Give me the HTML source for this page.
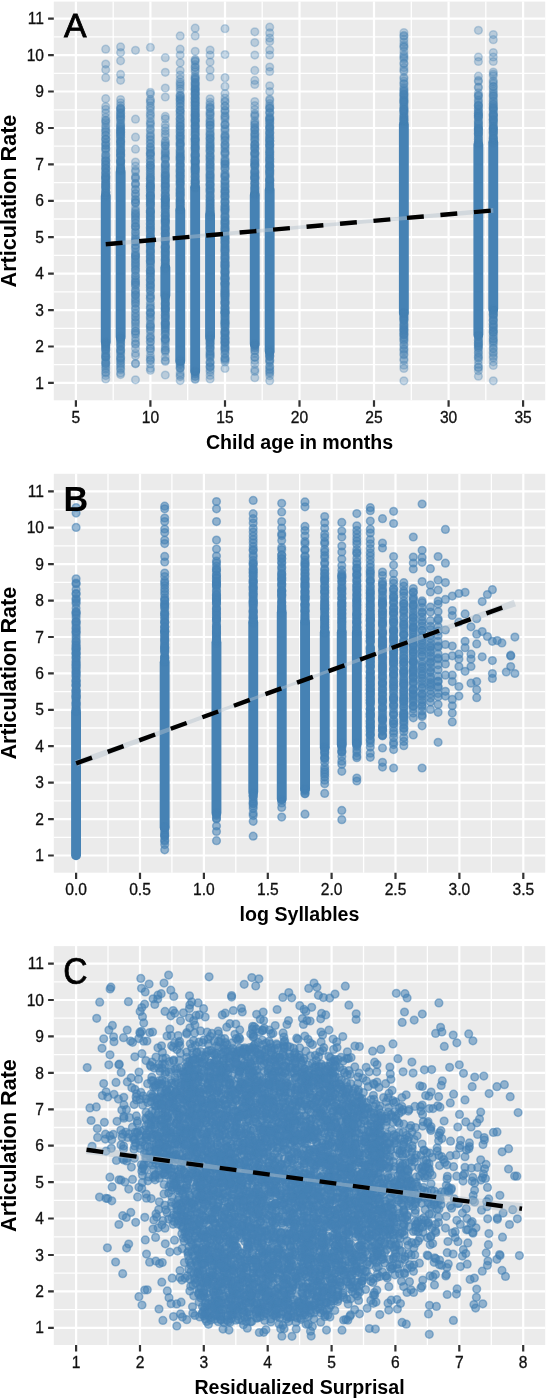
<!DOCTYPE html>
<html><head><meta charset="utf-8"><style>
html,body{margin:0;padding:0;background:#fff;width:546px;height:1398px;overflow:hidden}
svg{display:block;font-family:"Liberation Sans", sans-serif}
.pt circle{r:3.85px}
#wrap{will-change:transform}
</style></head><body>
<div id="wrap"><svg width="546" height="1398" viewBox="0 0 546 1398"><rect width="546" height="1398" fill="#fff"/><rect x="53.8" y="1.6" width="491.4" height="398.7" fill="#EBEBEB"/><path d="M53.8 364.7H545.2M53.8 328.3H545.2M53.8 291.9H545.2M53.8 255.4H545.2M53.8 219H545.2M53.8 182.6H545.2M53.8 146.2H545.2M53.8 109.8H545.2M53.8 73.3H545.2M53.8 36.9H545.2M113.2 1.6V400.3M187.7 1.6V400.3M262.2 1.6V400.3M336.8 1.6V400.3M411.3 1.6V400.3M485.8 1.6V400.3" stroke="#fff" stroke-width="1.3" fill="none"/><path d="M53.8 382.9H545.2M53.8 346.5H545.2M53.8 310.1H545.2M53.8 273.6H545.2M53.8 237.2H545.2M53.8 200.8H545.2M53.8 164.4H545.2M53.8 128H545.2M53.8 91.5H545.2M53.8 55.1H545.2M53.8 18.7H545.2M75.9 1.6V400.3M150.4 1.6V400.3M225 1.6V400.3M299.5 1.6V400.3M374 1.6V400.3M448.6 1.6V400.3M523.1 1.6V400.3" stroke="#fff" stroke-width="2.2" fill="none"/><g fill="#4682B4"><rect x="100.8" y="191.1" width="9.9" height="155.9" rx="5"/><rect x="115.7" y="167.1" width="9.9" height="174.9" rx="5"/><rect x="160.4" y="262.6" width="9.9" height="37.9" rx="5"/><rect x="175.3" y="205.1" width="9.9" height="160.9" rx="5"/><rect x="190.2" y="182.6" width="9.9" height="193.4" rx="5"/><rect x="205.1" y="210.1" width="9.9" height="131.9" rx="5"/><rect x="249.8" y="190.1" width="9.9" height="158.9" rx="5"/><rect x="264.7" y="185.1" width="9.9" height="170.9" rx="5"/><rect x="398.9" y="119.5" width="9.9" height="198.4" rx="5"/><rect x="473.4" y="140.1" width="9.9" height="199.4" rx="5"/><rect x="488.3" y="137.6" width="9.9" height="176.4" rx="5"/></g><g fill="#4682B4" fill-opacity="0.3" stroke="#4682B4" stroke-opacity="0.3" stroke-width="1.5" class="pt"><circle cx="403.9" cy="35.4"/><circle cx="165.3" cy="259.8"/><circle cx="254.8" cy="191.3"/><circle cx="120.6" cy="155.1"/><circle cx="493.3" cy="339.1"/><circle cx="225" cy="205.9"/><circle cx="105.7" cy="182.9"/><circle cx="225" cy="173.8"/><circle cx="120.6" cy="338.9"/><circle cx="120.6" cy="160.5"/><circle cx="225" cy="145.6"/><circle cx="493.3" cy="122.3"/><circle cx="105.7" cy="350.3"/><circle cx="254.8" cy="165.7"/><circle cx="135.5" cy="189.8"/><circle cx="150.4" cy="195.5"/><circle cx="403.9" cy="334.7"/><circle cx="210.1" cy="184.5"/><circle cx="225" cy="278.5"/><circle cx="105.7" cy="127.4"/><circle cx="150.4" cy="295.6"/><circle cx="225" cy="258.9"/><circle cx="493.3" cy="345.2"/><circle cx="254.8" cy="115.2"/><circle cx="150.4" cy="108.1"/><circle cx="493.3" cy="131.7"/><circle cx="269.7" cy="55"/><circle cx="105.7" cy="49.2"/><circle cx="135.5" cy="312.8"/><circle cx="225" cy="220.1"/><circle cx="225" cy="337.8"/><circle cx="195.2" cy="149.9"/><circle cx="254.8" cy="194.4"/><circle cx="225" cy="291.3"/><circle cx="150.4" cy="218.9"/><circle cx="195.2" cy="126.4"/><circle cx="195.2" cy="99.1"/><circle cx="165.3" cy="186.8"/><circle cx="165.3" cy="131.1"/><circle cx="478.4" cy="76.2"/><circle cx="225" cy="324.1"/><circle cx="195.2" cy="147.9"/><circle cx="254.8" cy="159.7"/><circle cx="195.2" cy="131.6"/><circle cx="210.1" cy="203.1"/><circle cx="105.7" cy="363.4"/><circle cx="254.8" cy="184.7"/><circle cx="210.1" cy="212.8"/><circle cx="210.1" cy="178.4"/><circle cx="478.4" cy="128.6"/><circle cx="135.5" cy="219.2"/><circle cx="493.3" cy="57"/><circle cx="195.2" cy="92.9"/><circle cx="165.3" cy="219.1"/><circle cx="150.4" cy="227.9"/><circle cx="269.7" cy="184.9"/><circle cx="165.3" cy="228.6"/><circle cx="165.3" cy="226.2"/><circle cx="254.8" cy="156"/><circle cx="150.4" cy="220"/><circle cx="254.8" cy="137.3"/><circle cx="493.3" cy="82.1"/><circle cx="254.8" cy="182.1"/><circle cx="120.6" cy="141.2"/><circle cx="105.7" cy="132"/><circle cx="493.3" cy="131.1"/><circle cx="150.4" cy="196.1"/><circle cx="150.4" cy="192.2"/><circle cx="225" cy="125.2"/><circle cx="180.2" cy="150.3"/><circle cx="135.5" cy="119.2"/><circle cx="120.6" cy="128.7"/><circle cx="478.4" cy="99.8"/><circle cx="478.4" cy="133.9"/><circle cx="210.1" cy="142.5"/><circle cx="225" cy="247.1"/><circle cx="195.2" cy="154.9"/><circle cx="195.2" cy="176.1"/><circle cx="120.6" cy="360.7"/><circle cx="165.3" cy="318.1"/><circle cx="225" cy="163.5"/><circle cx="180.2" cy="181.5"/><circle cx="225" cy="201.8"/><circle cx="254.8" cy="166.8"/><circle cx="150.4" cy="256.5"/><circle cx="403.9" cy="365.2"/><circle cx="225" cy="293.7"/><circle cx="165.3" cy="88"/><circle cx="195.2" cy="161.3"/><circle cx="210.1" cy="351.7"/><circle cx="195.2" cy="173.1"/><circle cx="254.8" cy="128.6"/><circle cx="225" cy="312.8"/><circle cx="165.3" cy="118.9"/><circle cx="195.2" cy="88.7"/><circle cx="150.4" cy="278.7"/><circle cx="135.5" cy="207.2"/><circle cx="180.2" cy="123.1"/><circle cx="195.2" cy="100"/><circle cx="165.3" cy="153.5"/><circle cx="165.3" cy="151.1"/><circle cx="165.3" cy="300.4"/><circle cx="180.2" cy="137"/><circle cx="180.2" cy="188.7"/><circle cx="120.6" cy="165.5"/><circle cx="180.2" cy="362"/><circle cx="493.3" cy="129.3"/><circle cx="165.3" cy="172.5"/><circle cx="403.9" cy="83.5"/><circle cx="165.3" cy="219.7"/><circle cx="135.5" cy="338"/><circle cx="180.2" cy="199.9"/><circle cx="150.4" cy="178.8"/><circle cx="225" cy="242.3"/><circle cx="180.2" cy="155.7"/><circle cx="403.9" cy="355"/><circle cx="150.4" cy="245.5"/><circle cx="225" cy="225.4"/><circle cx="105.7" cy="185.8"/><circle cx="269.7" cy="150.9"/><circle cx="493.3" cy="100.8"/><circle cx="150.4" cy="228.1"/><circle cx="180.2" cy="139.1"/><circle cx="493.3" cy="326.8"/><circle cx="105.7" cy="135.3"/><circle cx="150.4" cy="194.9"/><circle cx="165.3" cy="252.1"/><circle cx="254.8" cy="377.7"/><circle cx="165.3" cy="240.8"/><circle cx="269.7" cy="161.9"/><circle cx="105.7" cy="344"/><circle cx="120.6" cy="167.9"/><circle cx="195.2" cy="187.8"/><circle cx="150.4" cy="326.5"/><circle cx="195.2" cy="171.8"/><circle cx="150.4" cy="147.3"/><circle cx="165.3" cy="246.3"/><circle cx="225" cy="222.2"/><circle cx="150.4" cy="202.2"/><circle cx="478.4" cy="95.5"/><circle cx="150.4" cy="327"/><circle cx="150.4" cy="184.5"/><circle cx="195.2" cy="164.4"/><circle cx="165.3" cy="170"/><circle cx="403.9" cy="78.4"/><circle cx="150.4" cy="348.2"/><circle cx="180.2" cy="195.9"/><circle cx="165.3" cy="72.3"/><circle cx="269.7" cy="161.2"/><circle cx="269.7" cy="353.3"/><circle cx="165.3" cy="314.9"/><circle cx="180.2" cy="165.1"/><circle cx="150.4" cy="243"/><circle cx="120.6" cy="349.7"/><circle cx="269.7" cy="373.3"/><circle cx="165.3" cy="231.9"/><circle cx="210.1" cy="207.2"/><circle cx="195.2" cy="89.6"/><circle cx="195.2" cy="183.8"/><circle cx="493.3" cy="94.7"/><circle cx="150.4" cy="224"/><circle cx="225" cy="77.7"/><circle cx="210.1" cy="122.6"/><circle cx="403.9" cy="36.3"/><circle cx="210.1" cy="155.4"/><circle cx="195.2" cy="166.6"/><circle cx="105.7" cy="176"/><circle cx="254.8" cy="357.3"/><circle cx="269.7" cy="165.8"/><circle cx="180.2" cy="176.9"/><circle cx="105.7" cy="168.5"/><circle cx="180.2" cy="90.8"/><circle cx="225" cy="342"/><circle cx="105.7" cy="183.1"/><circle cx="150.4" cy="212.3"/><circle cx="403.9" cy="57.7"/><circle cx="165.3" cy="181.9"/><circle cx="150.4" cy="181"/><circle cx="254.8" cy="350.8"/><circle cx="269.7" cy="174.2"/><circle cx="210.1" cy="170.8"/><circle cx="210.1" cy="363.3"/><circle cx="254.8" cy="360.5"/><circle cx="180.2" cy="200.5"/><circle cx="225" cy="101"/><circle cx="403.9" cy="331.6"/><circle cx="135.5" cy="333.3"/><circle cx="120.6" cy="351.1"/><circle cx="478.4" cy="376.2"/><circle cx="210.1" cy="337.7"/><circle cx="269.7" cy="145.1"/><circle cx="150.4" cy="363.9"/><circle cx="403.9" cy="335"/><circle cx="493.3" cy="128.1"/><circle cx="478.4" cy="133.8"/><circle cx="120.6" cy="80.3"/><circle cx="165.3" cy="265.3"/><circle cx="478.4" cy="143.3"/><circle cx="225" cy="119.8"/><circle cx="210.1" cy="125.7"/><circle cx="150.4" cy="308.2"/><circle cx="120.6" cy="118.4"/><circle cx="120.6" cy="160.4"/><circle cx="478.4" cy="135"/><circle cx="225" cy="273.2"/><circle cx="105.7" cy="187.5"/><circle cx="403.9" cy="117.2"/><circle cx="165.3" cy="346.6"/><circle cx="120.6" cy="339.1"/><circle cx="210.1" cy="366.8"/><circle cx="403.9" cy="112.3"/><circle cx="493.3" cy="330.5"/><circle cx="493.3" cy="119"/><circle cx="225" cy="183.3"/><circle cx="120.6" cy="368.4"/><circle cx="493.3" cy="340.9"/><circle cx="120.6" cy="353.9"/><circle cx="210.1" cy="138"/><circle cx="195.2" cy="374.1"/><circle cx="195.2" cy="146.5"/><circle cx="105.7" cy="348.9"/><circle cx="195.2" cy="179.9"/><circle cx="120.6" cy="159.5"/><circle cx="493.3" cy="74.1"/><circle cx="225" cy="265.4"/><circle cx="150.4" cy="341.6"/><circle cx="150.4" cy="165.2"/><circle cx="150.4" cy="198.4"/><circle cx="150.4" cy="230.6"/><circle cx="225" cy="186.2"/><circle cx="269.7" cy="118.9"/><circle cx="269.7" cy="169.5"/><circle cx="135.5" cy="292.2"/><circle cx="165.3" cy="298.3"/><circle cx="135.5" cy="295"/><circle cx="478.4" cy="115.3"/><circle cx="165.3" cy="350.2"/><circle cx="105.7" cy="353.6"/><circle cx="120.6" cy="135.5"/><circle cx="478.4" cy="128"/><circle cx="210.1" cy="353.6"/><circle cx="105.7" cy="179.9"/><circle cx="403.9" cy="121.3"/><circle cx="210.1" cy="348.8"/><circle cx="165.3" cy="175.7"/><circle cx="120.6" cy="151.4"/><circle cx="150.4" cy="208.2"/><circle cx="150.4" cy="164.9"/><circle cx="180.2" cy="126.4"/><circle cx="478.4" cy="95.3"/><circle cx="165.3" cy="247.8"/><circle cx="254.8" cy="42.6"/><circle cx="150.4" cy="204.4"/><circle cx="254.8" cy="144.4"/><circle cx="225" cy="202.1"/><circle cx="165.3" cy="164.7"/><circle cx="210.1" cy="173.6"/><circle cx="165.3" cy="233.6"/><circle cx="269.7" cy="113.2"/><circle cx="195.2" cy="120"/><circle cx="493.3" cy="95.8"/><circle cx="210.1" cy="188.4"/><circle cx="403.9" cy="46.5"/><circle cx="225" cy="265.9"/><circle cx="195.2" cy="125.8"/><circle cx="105.7" cy="187.9"/><circle cx="180.2" cy="106.4"/><circle cx="165.3" cy="193.8"/><circle cx="269.7" cy="165.9"/><circle cx="120.6" cy="134"/><circle cx="135.5" cy="241.6"/><circle cx="225" cy="144"/><circle cx="135.5" cy="306.2"/><circle cx="165.3" cy="304"/><circle cx="225" cy="312.3"/><circle cx="165.3" cy="174.5"/><circle cx="225" cy="206.4"/><circle cx="180.2" cy="207.9"/><circle cx="135.5" cy="226.8"/><circle cx="254.8" cy="152.9"/><circle cx="225" cy="301.6"/><circle cx="105.7" cy="143.6"/><circle cx="180.2" cy="143.5"/><circle cx="120.6" cy="359.9"/><circle cx="150.4" cy="308.3"/><circle cx="105.7" cy="142.8"/><circle cx="269.7" cy="91.6"/><circle cx="493.3" cy="324.8"/><circle cx="180.2" cy="106.9"/><circle cx="165.3" cy="214.9"/><circle cx="135.5" cy="248.1"/><circle cx="210.1" cy="112.1"/><circle cx="493.3" cy="111.4"/><circle cx="478.4" cy="370.7"/><circle cx="269.7" cy="180.6"/><circle cx="150.4" cy="270.8"/><circle cx="195.2" cy="115"/><circle cx="225" cy="268.3"/><circle cx="165.3" cy="199.2"/><circle cx="195.2" cy="107.6"/><circle cx="135.5" cy="170"/><circle cx="165.3" cy="144.2"/><circle cx="403.9" cy="324.1"/><circle cx="165.3" cy="230.5"/><circle cx="493.3" cy="116.7"/><circle cx="210.1" cy="339.9"/><circle cx="180.2" cy="380.6"/><circle cx="165.3" cy="116.4"/><circle cx="135.5" cy="284.9"/><circle cx="195.2" cy="167.7"/><circle cx="493.3" cy="358"/><circle cx="195.2" cy="187.5"/><circle cx="195.2" cy="94.9"/><circle cx="150.4" cy="167.9"/><circle cx="195.2" cy="35.9"/><circle cx="269.7" cy="152.7"/><circle cx="493.3" cy="332.4"/><circle cx="150.4" cy="178.4"/><circle cx="180.2" cy="199.1"/><circle cx="225" cy="321.8"/><circle cx="120.6" cy="155.5"/><circle cx="150.4" cy="162.2"/><circle cx="225" cy="227.4"/><circle cx="493.3" cy="138.4"/><circle cx="210.1" cy="366.2"/><circle cx="225" cy="167.9"/><circle cx="135.5" cy="200"/><circle cx="269.7" cy="117"/><circle cx="254.8" cy="172.9"/><circle cx="269.7" cy="107.7"/><circle cx="105.7" cy="191.7"/><circle cx="225" cy="300"/><circle cx="180.2" cy="103.7"/><circle cx="254.8" cy="116.4"/><circle cx="135.5" cy="240.7"/><circle cx="210.1" cy="135.1"/><circle cx="135.5" cy="270.4"/><circle cx="120.6" cy="154.4"/><circle cx="150.4" cy="190.6"/><circle cx="165.3" cy="186.2"/><circle cx="150.4" cy="287.3"/><circle cx="254.8" cy="157.4"/><circle cx="210.1" cy="212.5"/><circle cx="165.3" cy="220.7"/><circle cx="135.5" cy="203.2"/><circle cx="165.3" cy="212.1"/><circle cx="254.8" cy="154.4"/><circle cx="269.7" cy="372.1"/><circle cx="150.4" cy="130.2"/><circle cx="254.8" cy="144"/><circle cx="165.3" cy="157.2"/><circle cx="403.9" cy="91"/><circle cx="195.2" cy="142.2"/><circle cx="180.2" cy="86"/><circle cx="135.5" cy="268.5"/><circle cx="478.4" cy="80.4"/><circle cx="225" cy="303"/><circle cx="254.8" cy="183.5"/><circle cx="150.4" cy="226.4"/><circle cx="403.9" cy="351.2"/><circle cx="165.3" cy="240.3"/><circle cx="269.7" cy="167.3"/><circle cx="403.9" cy="107.2"/><circle cx="180.2" cy="129.3"/><circle cx="135.5" cy="50.3"/><circle cx="254.8" cy="164"/><circle cx="165.3" cy="255.9"/><circle cx="135.5" cy="348.5"/><circle cx="150.4" cy="139.3"/><circle cx="150.4" cy="125.3"/><circle cx="195.2" cy="103.6"/><circle cx="120.6" cy="116.4"/><circle cx="403.9" cy="63.2"/><circle cx="210.1" cy="175.3"/><circle cx="403.9" cy="319.6"/><circle cx="195.2" cy="105.5"/><circle cx="180.2" cy="182.8"/><circle cx="120.6" cy="115.7"/><circle cx="225" cy="262.4"/><circle cx="478.4" cy="108.9"/><circle cx="493.3" cy="328"/><circle cx="225" cy="309.1"/><circle cx="478.4" cy="345.8"/><circle cx="254.8" cy="149.1"/><circle cx="225" cy="253.3"/><circle cx="165.3" cy="258.9"/><circle cx="225" cy="147.7"/><circle cx="493.3" cy="125.5"/><circle cx="403.9" cy="95.5"/><circle cx="225" cy="161.3"/><circle cx="225" cy="244.7"/><circle cx="225" cy="311.2"/><circle cx="225" cy="293.1"/><circle cx="493.3" cy="348.9"/><circle cx="493.3" cy="313.9"/><circle cx="120.6" cy="162.3"/><circle cx="210.1" cy="361.9"/><circle cx="210.1" cy="196.1"/><circle cx="269.7" cy="176.1"/><circle cx="165.3" cy="311.5"/><circle cx="150.4" cy="113.9"/><circle cx="135.5" cy="222.9"/><circle cx="165.3" cy="158"/><circle cx="269.7" cy="180.9"/><circle cx="254.8" cy="163.7"/><circle cx="180.2" cy="376.6"/><circle cx="225" cy="184.7"/><circle cx="120.6" cy="169.7"/><circle cx="493.3" cy="119.5"/><circle cx="195.2" cy="150.5"/><circle cx="195.2" cy="97.8"/><circle cx="403.9" cy="380.8"/><circle cx="135.5" cy="259.7"/><circle cx="165.3" cy="195.8"/><circle cx="150.4" cy="275.4"/><circle cx="254.8" cy="163.4"/><circle cx="478.4" cy="121.5"/><circle cx="493.3" cy="317.4"/><circle cx="150.4" cy="186.1"/><circle cx="254.8" cy="363.9"/><circle cx="269.7" cy="188"/><circle cx="180.2" cy="161.3"/><circle cx="195.2" cy="151.5"/><circle cx="269.7" cy="180"/><circle cx="195.2" cy="102.5"/><circle cx="195.2" cy="182.4"/><circle cx="225" cy="202.5"/><circle cx="180.2" cy="119.1"/><circle cx="254.8" cy="179.4"/><circle cx="478.4" cy="125.5"/><circle cx="225" cy="228"/><circle cx="150.4" cy="249.3"/><circle cx="478.4" cy="343.4"/><circle cx="210.1" cy="62"/><circle cx="225" cy="112.4"/><circle cx="225" cy="303.8"/><circle cx="165.3" cy="191"/><circle cx="493.3" cy="127.9"/><circle cx="210.1" cy="50"/><circle cx="150.4" cy="252.9"/><circle cx="210.1" cy="98.8"/><circle cx="135.5" cy="166"/><circle cx="180.2" cy="152.7"/><circle cx="165.3" cy="334.7"/><circle cx="195.2" cy="156"/><circle cx="225" cy="362.1"/><circle cx="493.3" cy="139.3"/><circle cx="225" cy="295.6"/><circle cx="165.3" cy="222"/><circle cx="165.3" cy="149.2"/><circle cx="180.2" cy="138.9"/><circle cx="120.6" cy="125.6"/><circle cx="195.2" cy="176.5"/><circle cx="493.3" cy="309.4"/><circle cx="493.3" cy="141.8"/><circle cx="165.3" cy="204.7"/><circle cx="105.7" cy="122.6"/><circle cx="225" cy="360.3"/><circle cx="269.7" cy="351.8"/><circle cx="120.6" cy="346.2"/><circle cx="254.8" cy="153.6"/><circle cx="180.2" cy="132.3"/><circle cx="180.2" cy="367.3"/><circle cx="180.2" cy="62.8"/><circle cx="254.8" cy="192.1"/><circle cx="165.3" cy="246.9"/><circle cx="150.4" cy="206.1"/><circle cx="225" cy="316.7"/><circle cx="105.7" cy="182.9"/><circle cx="150.4" cy="222.9"/><circle cx="269.7" cy="158.7"/><circle cx="120.6" cy="150.3"/><circle cx="225" cy="197.3"/><circle cx="493.3" cy="122.6"/><circle cx="493.3" cy="132.7"/><circle cx="225" cy="249.4"/><circle cx="165.3" cy="263.6"/><circle cx="105.7" cy="357.5"/><circle cx="478.4" cy="346.1"/><circle cx="403.9" cy="94.9"/><circle cx="105.7" cy="375.6"/><circle cx="165.3" cy="323.3"/><circle cx="225" cy="144.9"/><circle cx="225" cy="117.9"/><circle cx="165.3" cy="315.3"/><circle cx="135.5" cy="320.2"/><circle cx="165.3" cy="183.3"/><circle cx="105.7" cy="145.5"/><circle cx="225" cy="314"/><circle cx="225" cy="181.5"/><circle cx="254.8" cy="353.2"/><circle cx="225" cy="284.8"/><circle cx="135.5" cy="215.1"/><circle cx="165.3" cy="325.4"/><circle cx="105.7" cy="168.6"/><circle cx="225" cy="158.3"/><circle cx="225" cy="347.5"/><circle cx="493.3" cy="324.1"/><circle cx="150.4" cy="188.4"/><circle cx="195.2" cy="183"/><circle cx="254.8" cy="165.4"/><circle cx="105.7" cy="155.1"/><circle cx="150.4" cy="284.2"/><circle cx="478.4" cy="139.2"/><circle cx="254.8" cy="369.7"/><circle cx="225" cy="199.3"/><circle cx="105.7" cy="160.5"/><circle cx="225" cy="331.3"/><circle cx="493.3" cy="72"/><circle cx="225" cy="196.2"/><circle cx="493.3" cy="107.4"/><circle cx="135.5" cy="294.3"/><circle cx="120.6" cy="152.8"/><circle cx="165.3" cy="163.8"/><circle cx="180.2" cy="103.4"/><circle cx="403.9" cy="70"/><circle cx="150.4" cy="217.8"/><circle cx="269.7" cy="133.4"/><circle cx="165.3" cy="326.8"/><circle cx="165.3" cy="261.5"/><circle cx="135.5" cy="301"/><circle cx="180.2" cy="202"/><circle cx="150.4" cy="47.4"/><circle cx="180.2" cy="196.4"/><circle cx="195.2" cy="75.6"/><circle cx="478.4" cy="132.8"/><circle cx="195.2" cy="109.9"/><circle cx="105.7" cy="346.9"/><circle cx="150.4" cy="289.9"/><circle cx="403.9" cy="99.3"/><circle cx="225" cy="272.5"/><circle cx="195.2" cy="64.7"/><circle cx="210.1" cy="198.8"/><circle cx="225" cy="223.2"/><circle cx="165.3" cy="313.8"/><circle cx="254.8" cy="129.8"/><circle cx="478.4" cy="124.3"/><circle cx="225" cy="320.7"/><circle cx="150.4" cy="102.7"/><circle cx="225" cy="279"/><circle cx="165.3" cy="339.3"/><circle cx="180.2" cy="95.8"/><circle cx="150.4" cy="237.7"/><circle cx="403.9" cy="108.8"/><circle cx="165.3" cy="315.8"/><circle cx="105.7" cy="113.1"/><circle cx="478.4" cy="113.5"/><circle cx="210.1" cy="339.9"/><circle cx="120.6" cy="139.7"/><circle cx="150.4" cy="128.7"/><circle cx="225" cy="307.4"/><circle cx="225" cy="116.4"/><circle cx="135.5" cy="255.8"/><circle cx="493.3" cy="104.1"/><circle cx="120.6" cy="345.2"/><circle cx="210.1" cy="108.9"/><circle cx="165.3" cy="199.5"/><circle cx="165.3" cy="322.9"/><circle cx="150.4" cy="136.8"/><circle cx="105.7" cy="172.4"/><circle cx="225" cy="334.2"/><circle cx="254.8" cy="148.1"/><circle cx="210.1" cy="112.9"/><circle cx="195.2" cy="139.2"/><circle cx="150.4" cy="186.3"/><circle cx="195.2" cy="79.1"/><circle cx="195.2" cy="144.6"/><circle cx="195.2" cy="122"/><circle cx="105.7" cy="371.9"/><circle cx="210.1" cy="191.1"/><circle cx="195.2" cy="60.6"/><circle cx="403.9" cy="117"/><circle cx="254.8" cy="183.1"/><circle cx="403.9" cy="56.2"/><circle cx="403.9" cy="117.3"/><circle cx="403.9" cy="84.1"/><circle cx="493.3" cy="106.4"/><circle cx="403.9" cy="119.6"/><circle cx="180.2" cy="210.1"/><circle cx="180.2" cy="170.5"/><circle cx="105.7" cy="139"/><circle cx="403.9" cy="353.9"/><circle cx="225" cy="277.3"/><circle cx="493.3" cy="128.7"/><circle cx="225" cy="191.5"/><circle cx="493.3" cy="312.3"/><circle cx="150.4" cy="196"/><circle cx="210.1" cy="168"/><circle cx="403.9" cy="337"/><circle cx="269.7" cy="146.3"/><circle cx="403.9" cy="345.6"/><circle cx="195.2" cy="111.9"/><circle cx="254.8" cy="169.3"/><circle cx="478.4" cy="340.5"/><circle cx="195.2" cy="117.6"/><circle cx="180.2" cy="206.2"/><circle cx="269.7" cy="159.2"/><circle cx="165.3" cy="152.7"/><circle cx="269.7" cy="144.6"/><circle cx="195.2" cy="156.5"/><circle cx="254.8" cy="186.7"/><circle cx="135.5" cy="303.6"/><circle cx="105.7" cy="158.5"/><circle cx="225" cy="164.1"/><circle cx="165.3" cy="357"/><circle cx="478.4" cy="113.9"/><circle cx="120.6" cy="110.3"/><circle cx="269.7" cy="170"/><circle cx="165.3" cy="188.7"/><circle cx="180.2" cy="157.3"/><circle cx="225" cy="190.9"/><circle cx="180.2" cy="142.8"/><circle cx="150.4" cy="165.6"/><circle cx="165.3" cy="255"/><circle cx="269.7" cy="165"/><circle cx="195.2" cy="133.4"/><circle cx="180.2" cy="152.9"/><circle cx="150.4" cy="237.4"/><circle cx="225" cy="353.9"/><circle cx="195.2" cy="376.3"/><circle cx="195.2" cy="138.7"/><circle cx="105.7" cy="145.2"/><circle cx="493.3" cy="348.1"/><circle cx="180.2" cy="199.6"/><circle cx="180.2" cy="201.1"/><circle cx="254.8" cy="348.2"/><circle cx="150.4" cy="175"/><circle cx="478.4" cy="358.1"/><circle cx="120.6" cy="132.1"/><circle cx="210.1" cy="189.9"/><circle cx="403.9" cy="340"/><circle cx="150.4" cy="153.6"/><circle cx="180.2" cy="163.5"/><circle cx="225" cy="191"/><circle cx="195.2" cy="92.7"/><circle cx="180.2" cy="99.1"/><circle cx="269.7" cy="156"/><circle cx="105.7" cy="151.5"/><circle cx="150.4" cy="319.1"/><circle cx="195.2" cy="163.2"/><circle cx="478.4" cy="367.2"/><circle cx="225" cy="307.5"/><circle cx="165.3" cy="257.3"/><circle cx="478.4" cy="348.1"/><circle cx="269.7" cy="362.4"/><circle cx="269.7" cy="179.7"/><circle cx="165.3" cy="317.8"/><circle cx="150.4" cy="370.3"/><circle cx="180.2" cy="123.6"/><circle cx="135.5" cy="242"/><circle cx="225" cy="330.9"/><circle cx="105.7" cy="139.1"/><circle cx="493.3" cy="338.7"/><circle cx="493.3" cy="138.7"/><circle cx="478.4" cy="335.8"/><circle cx="225" cy="282.8"/><circle cx="210.1" cy="179.6"/><circle cx="269.7" cy="137.4"/><circle cx="493.3" cy="356.2"/><circle cx="225" cy="154.4"/><circle cx="225" cy="251.4"/><circle cx="195.2" cy="181.5"/><circle cx="210.1" cy="107"/><circle cx="150.4" cy="186"/><circle cx="165.3" cy="180.5"/><circle cx="210.1" cy="207"/><circle cx="150.4" cy="229.8"/><circle cx="180.2" cy="193.8"/><circle cx="105.7" cy="184.4"/><circle cx="150.4" cy="248.2"/><circle cx="269.7" cy="185.5"/><circle cx="493.3" cy="98.7"/><circle cx="165.3" cy="298.6"/><circle cx="165.3" cy="185.4"/><circle cx="210.1" cy="131.6"/><circle cx="478.4" cy="141.9"/><circle cx="493.3" cy="311.3"/><circle cx="150.4" cy="199.6"/><circle cx="165.3" cy="136.3"/><circle cx="180.2" cy="119.3"/><circle cx="180.2" cy="165.7"/><circle cx="135.5" cy="282"/><circle cx="120.6" cy="52.6"/><circle cx="105.7" cy="345.5"/><circle cx="225" cy="181.5"/><circle cx="269.7" cy="118.7"/><circle cx="180.2" cy="361.3"/><circle cx="225" cy="230.3"/><circle cx="105.7" cy="369.3"/><circle cx="195.2" cy="162.1"/><circle cx="225" cy="286.7"/><circle cx="150.4" cy="330.5"/><circle cx="254.8" cy="55.1"/><circle cx="150.4" cy="219.8"/><circle cx="165.3" cy="215.4"/><circle cx="493.3" cy="96.5"/><circle cx="165.3" cy="207.1"/><circle cx="180.2" cy="118.1"/><circle cx="210.1" cy="355.2"/><circle cx="403.9" cy="348.5"/><circle cx="165.3" cy="165"/><circle cx="135.5" cy="210"/><circle cx="150.4" cy="115.5"/><circle cx="105.7" cy="359.7"/><circle cx="120.6" cy="102.8"/><circle cx="180.2" cy="154.2"/><circle cx="254.8" cy="357.3"/><circle cx="269.7" cy="166.8"/><circle cx="210.1" cy="181"/><circle cx="195.2" cy="181.5"/><circle cx="105.7" cy="345.3"/><circle cx="210.1" cy="146.1"/><circle cx="225" cy="237.9"/><circle cx="180.2" cy="202.8"/><circle cx="165.3" cy="221.8"/><circle cx="120.6" cy="130.9"/><circle cx="403.9" cy="328.2"/><circle cx="254.8" cy="113.7"/><circle cx="120.6" cy="127"/><circle cx="210.1" cy="370.1"/><circle cx="478.4" cy="138.8"/><circle cx="135.5" cy="137.2"/><circle cx="210.1" cy="195.4"/><circle cx="150.4" cy="284.9"/><circle cx="165.3" cy="202"/><circle cx="135.5" cy="216.2"/><circle cx="225" cy="236.8"/><circle cx="195.2" cy="114.8"/><circle cx="120.6" cy="119.5"/><circle cx="493.3" cy="142.7"/><circle cx="150.4" cy="106.2"/><circle cx="195.2" cy="172.4"/><circle cx="195.2" cy="378.7"/><circle cx="180.2" cy="165"/><circle cx="165.3" cy="199.3"/><circle cx="180.2" cy="175.5"/><circle cx="210.1" cy="199.6"/><circle cx="105.7" cy="177"/><circle cx="150.4" cy="118.4"/><circle cx="225" cy="312.3"/><circle cx="195.2" cy="94.2"/><circle cx="225" cy="274.2"/><circle cx="254.8" cy="109.6"/><circle cx="210.1" cy="204.7"/><circle cx="225" cy="290.4"/><circle cx="105.7" cy="357.1"/><circle cx="150.4" cy="92.3"/><circle cx="225" cy="238.7"/><circle cx="165.3" cy="184"/><circle cx="225" cy="285.3"/><circle cx="180.2" cy="96.4"/><circle cx="150.4" cy="316.8"/><circle cx="165.3" cy="375"/><circle cx="120.6" cy="120.7"/><circle cx="180.2" cy="368.1"/><circle cx="105.7" cy="161.1"/><circle cx="225" cy="322.3"/><circle cx="165.3" cy="324.6"/><circle cx="105.7" cy="363.9"/><circle cx="150.4" cy="153.6"/><circle cx="150.4" cy="338.5"/><circle cx="195.2" cy="102.2"/><circle cx="105.7" cy="342.2"/><circle cx="165.3" cy="246.6"/><circle cx="254.8" cy="165"/><circle cx="210.1" cy="343"/><circle cx="105.7" cy="173.1"/><circle cx="180.2" cy="172"/><circle cx="135.5" cy="189.3"/><circle cx="180.2" cy="125.8"/><circle cx="225" cy="332.7"/><circle cx="225" cy="242.1"/><circle cx="195.2" cy="177.1"/><circle cx="493.3" cy="114.4"/><circle cx="478.4" cy="87"/><circle cx="180.2" cy="94.9"/><circle cx="105.7" cy="188.3"/><circle cx="105.7" cy="361.4"/><circle cx="225" cy="283.5"/><circle cx="254.8" cy="133.7"/><circle cx="210.1" cy="177.4"/><circle cx="150.4" cy="202.3"/><circle cx="135.5" cy="269.9"/><circle cx="269.7" cy="108.3"/><circle cx="225" cy="129.4"/><circle cx="120.6" cy="169.1"/><circle cx="150.4" cy="183.4"/><circle cx="210.1" cy="175.2"/><circle cx="135.5" cy="353.3"/><circle cx="150.4" cy="250.8"/><circle cx="135.5" cy="328.2"/><circle cx="195.2" cy="132.5"/><circle cx="403.9" cy="71.6"/><circle cx="269.7" cy="170.5"/><circle cx="493.3" cy="109.6"/><circle cx="210.1" cy="102.4"/><circle cx="210.1" cy="215.7"/><circle cx="493.3" cy="115.6"/><circle cx="120.6" cy="108.4"/><circle cx="180.2" cy="75"/><circle cx="180.2" cy="132.5"/><circle cx="210.1" cy="367.3"/><circle cx="254.8" cy="172.1"/><circle cx="150.4" cy="244.4"/><circle cx="135.5" cy="232.6"/><circle cx="195.2" cy="120.3"/><circle cx="135.5" cy="193.9"/><circle cx="105.7" cy="192.3"/><circle cx="150.4" cy="257.3"/><circle cx="135.5" cy="334.5"/><circle cx="254.8" cy="31.8"/><circle cx="254.8" cy="160.9"/><circle cx="493.3" cy="316.3"/><circle cx="210.1" cy="200.7"/><circle cx="269.7" cy="138.7"/><circle cx="195.2" cy="158"/><circle cx="165.3" cy="327.6"/><circle cx="120.6" cy="369.7"/><circle cx="493.3" cy="34.6"/><circle cx="403.9" cy="97.2"/><circle cx="269.7" cy="136.5"/><circle cx="225" cy="216.1"/><circle cx="254.8" cy="195"/><circle cx="195.2" cy="69.9"/><circle cx="478.4" cy="344.4"/><circle cx="165.3" cy="215.3"/><circle cx="493.3" cy="86.7"/><circle cx="269.7" cy="100.4"/><circle cx="135.5" cy="211.1"/><circle cx="195.2" cy="167.9"/><circle cx="478.4" cy="30.3"/><circle cx="493.3" cy="380.8"/><circle cx="180.2" cy="189.6"/><circle cx="195.2" cy="83.8"/><circle cx="135.5" cy="286.5"/><circle cx="120.6" cy="46.9"/><circle cx="493.3" cy="352"/><circle cx="269.7" cy="356.8"/><circle cx="493.3" cy="93"/><circle cx="403.9" cy="119.3"/><circle cx="165.3" cy="333.5"/><circle cx="165.3" cy="338.6"/><circle cx="165.3" cy="331.3"/><circle cx="493.3" cy="331.9"/><circle cx="195.2" cy="166.7"/><circle cx="120.6" cy="60.8"/><circle cx="105.7" cy="109.4"/><circle cx="478.4" cy="133.3"/><circle cx="135.5" cy="251.8"/><circle cx="403.9" cy="315.2"/><circle cx="180.2" cy="194.1"/><circle cx="225" cy="231.2"/><circle cx="165.3" cy="203.4"/><circle cx="195.2" cy="141.3"/><circle cx="165.3" cy="177.5"/><circle cx="493.3" cy="341.2"/><circle cx="225" cy="152.7"/><circle cx="195.2" cy="138.7"/><circle cx="180.2" cy="181.5"/><circle cx="105.7" cy="177"/><circle cx="254.8" cy="127.4"/><circle cx="150.4" cy="297.4"/><circle cx="403.9" cy="88.7"/><circle cx="403.9" cy="349.6"/><circle cx="225" cy="276.2"/><circle cx="403.9" cy="114.8"/><circle cx="269.7" cy="189.6"/><circle cx="150.4" cy="267.4"/><circle cx="403.9" cy="316.9"/><circle cx="180.2" cy="167.8"/><circle cx="150.4" cy="290.5"/><circle cx="225" cy="320.1"/><circle cx="105.7" cy="367.7"/><circle cx="180.2" cy="114.8"/><circle cx="225" cy="337.2"/><circle cx="493.3" cy="319.7"/><circle cx="180.2" cy="146.9"/><circle cx="135.5" cy="235.1"/><circle cx="225" cy="176.9"/><circle cx="493.3" cy="123.4"/><circle cx="210.1" cy="375.4"/><circle cx="150.4" cy="313.2"/><circle cx="150.4" cy="212.9"/><circle cx="225" cy="272.4"/><circle cx="269.7" cy="119.4"/><circle cx="195.2" cy="160.9"/><circle cx="225" cy="229.9"/><circle cx="225" cy="189.4"/><circle cx="254.8" cy="187"/><circle cx="493.3" cy="91.3"/><circle cx="150.4" cy="282.6"/><circle cx="120.6" cy="168.1"/><circle cx="403.9" cy="318.5"/><circle cx="150.4" cy="280.7"/><circle cx="254.8" cy="149.1"/><circle cx="135.5" cy="199.4"/><circle cx="254.8" cy="80.4"/><circle cx="269.7" cy="356.5"/><circle cx="403.9" cy="100"/><circle cx="403.9" cy="63.8"/><circle cx="150.4" cy="312"/><circle cx="225" cy="208.3"/><circle cx="195.2" cy="376.5"/><circle cx="225" cy="221.2"/><circle cx="165.3" cy="238"/><circle cx="150.4" cy="215.3"/><circle cx="478.4" cy="128"/><circle cx="195.2" cy="134.5"/><circle cx="225" cy="237.8"/><circle cx="105.7" cy="189.1"/><circle cx="165.3" cy="166.3"/><circle cx="493.3" cy="105"/><circle cx="225" cy="164"/><circle cx="225" cy="214.1"/><circle cx="269.7" cy="105.9"/><circle cx="254.8" cy="159.8"/><circle cx="165.3" cy="303"/><circle cx="150.4" cy="110.7"/><circle cx="225" cy="220.6"/><circle cx="210.1" cy="174.6"/><circle cx="180.2" cy="185"/><circle cx="269.7" cy="159.6"/><circle cx="493.3" cy="125.8"/><circle cx="403.9" cy="47.4"/><circle cx="105.7" cy="168.1"/><circle cx="150.4" cy="336.6"/><circle cx="225" cy="244.5"/><circle cx="165.3" cy="190"/><circle cx="195.2" cy="125.8"/><circle cx="478.4" cy="137.3"/><circle cx="225" cy="223.2"/><circle cx="225" cy="195.9"/><circle cx="225" cy="106.2"/><circle cx="150.4" cy="200.3"/><circle cx="254.8" cy="139.6"/><circle cx="210.1" cy="55"/><circle cx="225" cy="262.2"/><circle cx="120.6" cy="364.4"/><circle cx="120.6" cy="129.4"/><circle cx="120.6" cy="144.2"/><circle cx="210.1" cy="152.3"/><circle cx="269.7" cy="183.5"/><circle cx="269.7" cy="156.4"/><circle cx="269.7" cy="183.5"/><circle cx="150.4" cy="291.6"/><circle cx="195.2" cy="154.8"/><circle cx="403.9" cy="81.2"/><circle cx="210.1" cy="177"/><circle cx="225" cy="241.6"/><circle cx="225" cy="131.4"/><circle cx="225" cy="284.1"/><circle cx="225" cy="279.5"/><circle cx="135.5" cy="273"/><circle cx="150.4" cy="167.4"/><circle cx="478.4" cy="130.2"/><circle cx="165.3" cy="159.1"/><circle cx="165.3" cy="223.2"/><circle cx="269.7" cy="123.3"/><circle cx="150.4" cy="252.5"/><circle cx="120.6" cy="129.5"/><circle cx="210.1" cy="348"/><circle cx="150.4" cy="189.5"/><circle cx="403.9" cy="368.4"/><circle cx="150.4" cy="360.4"/><circle cx="135.5" cy="265.3"/><circle cx="195.2" cy="139.8"/><circle cx="210.1" cy="204.2"/><circle cx="225" cy="54.6"/><circle cx="254.8" cy="190.9"/><circle cx="150.4" cy="236.2"/><circle cx="120.6" cy="162.3"/><circle cx="195.2" cy="28.2"/><circle cx="225" cy="167.9"/><circle cx="105.7" cy="342.9"/><circle cx="195.2" cy="371.3"/><circle cx="195.2" cy="156.9"/><circle cx="105.7" cy="378.9"/><circle cx="403.9" cy="123"/><circle cx="135.5" cy="316.7"/><circle cx="180.2" cy="183.2"/><circle cx="150.4" cy="368.3"/><circle cx="120.6" cy="156.5"/><circle cx="150.4" cy="265.1"/><circle cx="210.1" cy="160.2"/><circle cx="105.7" cy="148.6"/><circle cx="150.4" cy="304.5"/><circle cx="150.4" cy="155.7"/><circle cx="493.3" cy="108.2"/><circle cx="150.4" cy="243.6"/><circle cx="105.7" cy="169.3"/><circle cx="195.2" cy="120.2"/><circle cx="165.3" cy="309.3"/><circle cx="225" cy="235"/><circle cx="225" cy="209.6"/><circle cx="165.3" cy="259.3"/><circle cx="165.3" cy="322.1"/><circle cx="225" cy="295.1"/><circle cx="165.3" cy="361.4"/><circle cx="269.7" cy="103.7"/><circle cx="150.4" cy="233.7"/><circle cx="195.2" cy="147.4"/><circle cx="135.5" cy="303"/><circle cx="269.7" cy="360.1"/><circle cx="403.9" cy="326"/><circle cx="254.8" cy="144.7"/><circle cx="150.4" cy="211.4"/><circle cx="493.3" cy="330.2"/><circle cx="180.2" cy="140.4"/><circle cx="150.4" cy="287.5"/><circle cx="105.7" cy="193"/><circle cx="165.3" cy="319.9"/><circle cx="478.4" cy="105"/><circle cx="135.5" cy="171.7"/><circle cx="225" cy="124.6"/><circle cx="195.2" cy="186.6"/><circle cx="254.8" cy="105.7"/><circle cx="493.3" cy="128.8"/><circle cx="254.8" cy="170.7"/><circle cx="254.8" cy="120.9"/><circle cx="225" cy="338.8"/><circle cx="165.3" cy="172.9"/><circle cx="225" cy="98.1"/><circle cx="135.5" cy="162"/><circle cx="150.4" cy="210.3"/><circle cx="225" cy="186.6"/><circle cx="493.3" cy="75.8"/><circle cx="225" cy="270.8"/><circle cx="269.7" cy="67"/><circle cx="225" cy="331.3"/><circle cx="180.2" cy="88.6"/><circle cx="225" cy="315.8"/><circle cx="478.4" cy="128.8"/><circle cx="478.4" cy="339.4"/><circle cx="403.9" cy="313"/><circle cx="478.4" cy="126.3"/><circle cx="210.1" cy="149.7"/><circle cx="120.6" cy="340.5"/><circle cx="105.7" cy="178"/><circle cx="225" cy="153.2"/><circle cx="120.6" cy="124.5"/><circle cx="150.4" cy="235.5"/><circle cx="225" cy="110"/><circle cx="403.9" cy="328.9"/><circle cx="165.3" cy="311.8"/><circle cx="493.3" cy="314.9"/><circle cx="493.3" cy="321"/><circle cx="180.2" cy="135.3"/><circle cx="210.1" cy="159.9"/><circle cx="150.4" cy="172.7"/><circle cx="478.4" cy="106.2"/><circle cx="493.3" cy="127.4"/><circle cx="150.4" cy="122"/><circle cx="269.7" cy="112.5"/><circle cx="150.4" cy="216.4"/><circle cx="135.5" cy="276.1"/><circle cx="135.5" cy="299.5"/><circle cx="210.1" cy="114.7"/><circle cx="210.1" cy="145.6"/><circle cx="135.5" cy="363.8"/><circle cx="403.9" cy="115.8"/><circle cx="180.2" cy="195.5"/><circle cx="120.6" cy="356.8"/><circle cx="180.2" cy="172.6"/><circle cx="210.1" cy="115.6"/><circle cx="150.4" cy="312.5"/><circle cx="150.4" cy="261.1"/><circle cx="225" cy="342.3"/><circle cx="210.1" cy="120.3"/><circle cx="180.2" cy="163.5"/><circle cx="478.4" cy="357.2"/><circle cx="150.4" cy="197"/><circle cx="403.9" cy="94.1"/><circle cx="180.2" cy="111"/><circle cx="150.4" cy="202.5"/><circle cx="135.5" cy="196.4"/><circle cx="225" cy="343.1"/><circle cx="493.3" cy="332.5"/><circle cx="150.4" cy="133.4"/><circle cx="135.5" cy="193.4"/><circle cx="120.6" cy="145.9"/><circle cx="478.4" cy="335.3"/><circle cx="150.4" cy="194.9"/><circle cx="254.8" cy="152.6"/><circle cx="120.6" cy="132.6"/><circle cx="180.2" cy="101.2"/><circle cx="150.4" cy="183.8"/><circle cx="493.3" cy="83.7"/><circle cx="165.3" cy="234.1"/><circle cx="225" cy="292.2"/><circle cx="478.4" cy="142.1"/><circle cx="195.2" cy="90.9"/><circle cx="195.2" cy="169"/><circle cx="135.5" cy="218"/><circle cx="478.4" cy="102.7"/><circle cx="195.2" cy="144.1"/><circle cx="210.1" cy="171.1"/><circle cx="225" cy="358.2"/><circle cx="195.2" cy="122.9"/><circle cx="120.6" cy="154"/><circle cx="150.4" cy="260.9"/><circle cx="225" cy="296.6"/><circle cx="195.2" cy="160.2"/><circle cx="165.3" cy="216.2"/><circle cx="195.2" cy="177.5"/><circle cx="105.7" cy="165.1"/><circle cx="135.5" cy="290.6"/><circle cx="225" cy="266.5"/><circle cx="493.3" cy="108.3"/><circle cx="165.3" cy="328.8"/><circle cx="225" cy="284.1"/><circle cx="180.2" cy="178.9"/><circle cx="493.3" cy="136.5"/><circle cx="225" cy="28.7"/><circle cx="150.4" cy="285.4"/><circle cx="403.9" cy="93.7"/><circle cx="269.7" cy="178.2"/><circle cx="195.2" cy="145.3"/><circle cx="150.4" cy="210.9"/><circle cx="478.4" cy="129.5"/><circle cx="165.3" cy="343.6"/><circle cx="150.4" cy="333.3"/><circle cx="478.4" cy="110.6"/><circle cx="269.7" cy="146.8"/><circle cx="135.5" cy="343.6"/><circle cx="225" cy="230.1"/><circle cx="135.5" cy="344.4"/><circle cx="478.4" cy="141.9"/><circle cx="135.5" cy="245.5"/><circle cx="150.4" cy="242.3"/><circle cx="135.5" cy="178.5"/><circle cx="225" cy="258.3"/><circle cx="403.9" cy="319.8"/><circle cx="254.8" cy="193.5"/><circle cx="105.7" cy="64.1"/><circle cx="165.3" cy="348.2"/><circle cx="210.1" cy="185.5"/><circle cx="165.3" cy="205.1"/><circle cx="195.2" cy="141.6"/><circle cx="210.1" cy="206.6"/><circle cx="210.1" cy="159.1"/><circle cx="150.4" cy="231.8"/><circle cx="165.3" cy="206.6"/><circle cx="120.6" cy="112.3"/><circle cx="195.2" cy="115.8"/><circle cx="493.3" cy="137.9"/><circle cx="150.4" cy="357.8"/><circle cx="195.2" cy="82.6"/><circle cx="150.4" cy="135.7"/><circle cx="195.2" cy="98.5"/><circle cx="403.9" cy="54.5"/><circle cx="269.7" cy="125.8"/><circle cx="225" cy="224.6"/><circle cx="254.8" cy="141.1"/><circle cx="150.4" cy="273.2"/><circle cx="180.2" cy="143.1"/><circle cx="180.2" cy="191.4"/><circle cx="210.1" cy="208.9"/><circle cx="150.4" cy="250.7"/><circle cx="225" cy="333.6"/><circle cx="135.5" cy="226.3"/><circle cx="105.7" cy="195.6"/><circle cx="210.1" cy="354.2"/><circle cx="105.7" cy="186.3"/><circle cx="403.9" cy="121.3"/><circle cx="493.3" cy="314.2"/><circle cx="195.2" cy="148.2"/><circle cx="269.7" cy="111.9"/><circle cx="210.1" cy="162.8"/><circle cx="165.3" cy="220.3"/><circle cx="225" cy="313.5"/><circle cx="225" cy="262.3"/><circle cx="225" cy="289.4"/><circle cx="120.6" cy="149.2"/><circle cx="403.9" cy="318.2"/><circle cx="210.1" cy="210.1"/><circle cx="180.2" cy="169.5"/><circle cx="225" cy="279.5"/><circle cx="210.1" cy="342.4"/><circle cx="180.2" cy="128.9"/><circle cx="165.3" cy="267.5"/><circle cx="105.7" cy="349.1"/><circle cx="165.3" cy="219.1"/><circle cx="269.7" cy="151.6"/><circle cx="269.7" cy="141.2"/><circle cx="150.4" cy="210.8"/><circle cx="254.8" cy="347.5"/><circle cx="165.3" cy="260.7"/><circle cx="225" cy="205.3"/><circle cx="269.7" cy="133"/><circle cx="210.1" cy="104.6"/><circle cx="269.7" cy="149.5"/><circle cx="225" cy="311.9"/><circle cx="225" cy="246.6"/><circle cx="195.2" cy="170"/><circle cx="225" cy="255.8"/><circle cx="225" cy="271.3"/><circle cx="165.3" cy="305.2"/><circle cx="269.7" cy="178"/><circle cx="225" cy="233.6"/><circle cx="165.3" cy="299.8"/><circle cx="225" cy="272.6"/><circle cx="478.4" cy="109.1"/><circle cx="150.4" cy="246.8"/><circle cx="269.7" cy="99"/><circle cx="493.3" cy="326.9"/><circle cx="120.6" cy="156.4"/><circle cx="105.7" cy="131.1"/><circle cx="210.1" cy="134.4"/><circle cx="493.3" cy="89.2"/><circle cx="210.1" cy="357.9"/><circle cx="210.1" cy="213.1"/><circle cx="180.2" cy="180.5"/><circle cx="210.1" cy="77"/><circle cx="478.4" cy="117.2"/><circle cx="165.3" cy="243.2"/><circle cx="135.5" cy="213"/><circle cx="254.8" cy="192.4"/><circle cx="180.2" cy="144.7"/><circle cx="150.4" cy="263.4"/><circle cx="478.4" cy="116"/><circle cx="269.7" cy="355.8"/><circle cx="120.6" cy="338.7"/><circle cx="403.9" cy="90"/><circle cx="105.7" cy="148.2"/><circle cx="165.3" cy="97"/><circle cx="135.5" cy="214"/><circle cx="120.6" cy="169.9"/><circle cx="195.2" cy="138.5"/><circle cx="135.5" cy="177.7"/><circle cx="180.2" cy="185.2"/><circle cx="225" cy="180.6"/><circle cx="225" cy="193.4"/><circle cx="195.2" cy="51.3"/><circle cx="120.6" cy="141.4"/><circle cx="120.6" cy="132.2"/><circle cx="105.7" cy="160.6"/><circle cx="165.3" cy="308.7"/><circle cx="165.3" cy="297.1"/><circle cx="165.3" cy="179.3"/><circle cx="105.7" cy="165.2"/><circle cx="195.2" cy="116.3"/><circle cx="210.1" cy="139.3"/><circle cx="165.3" cy="57.7"/><circle cx="210.1" cy="338.9"/><circle cx="165.3" cy="223.1"/><circle cx="195.2" cy="112.5"/><circle cx="225" cy="267.5"/><circle cx="105.7" cy="192"/><circle cx="493.3" cy="335.2"/><circle cx="135.5" cy="275.8"/><circle cx="195.2" cy="88.4"/><circle cx="403.9" cy="97.9"/><circle cx="493.3" cy="310.7"/><circle cx="180.2" cy="368.6"/><circle cx="180.2" cy="190.7"/><circle cx="210.1" cy="118.4"/><circle cx="180.2" cy="135.3"/><circle cx="225" cy="309.8"/><circle cx="493.3" cy="114.8"/><circle cx="225" cy="247.3"/><circle cx="105.7" cy="149.6"/><circle cx="165.3" cy="200.2"/><circle cx="403.9" cy="111.5"/><circle cx="120.6" cy="108.2"/><circle cx="195.2" cy="171"/><circle cx="165.3" cy="237.2"/><circle cx="150.4" cy="302.6"/><circle cx="105.7" cy="117.3"/><circle cx="150.4" cy="204.5"/><circle cx="150.4" cy="348.9"/><circle cx="210.1" cy="163.8"/><circle cx="403.9" cy="334"/><circle cx="225" cy="196.2"/><circle cx="165.3" cy="324.4"/><circle cx="225" cy="282.1"/><circle cx="165.3" cy="245"/><circle cx="180.2" cy="178.8"/><circle cx="165.3" cy="303.3"/><circle cx="150.4" cy="204"/><circle cx="254.8" cy="344.2"/><circle cx="210.1" cy="124.8"/><circle cx="225" cy="290.9"/><circle cx="150.4" cy="180.4"/><circle cx="180.2" cy="206.6"/><circle cx="210.1" cy="107.5"/><circle cx="105.7" cy="195.2"/><circle cx="269.7" cy="27.2"/><circle cx="225" cy="327.6"/><circle cx="180.2" cy="159.6"/><circle cx="105.7" cy="77.7"/><circle cx="493.3" cy="133.4"/><circle cx="225" cy="357.7"/><circle cx="195.2" cy="108.5"/><circle cx="269.7" cy="183.1"/><circle cx="478.4" cy="101.1"/><circle cx="135.5" cy="202.5"/><circle cx="165.3" cy="212.6"/><circle cx="120.6" cy="137.5"/><circle cx="120.6" cy="126.9"/><circle cx="269.7" cy="158.2"/><circle cx="493.3" cy="324.1"/><circle cx="150.4" cy="251.4"/><circle cx="150.4" cy="206.9"/><circle cx="135.5" cy="278.1"/><circle cx="269.7" cy="41.5"/><circle cx="180.2" cy="365.3"/><circle cx="195.2" cy="161.9"/><circle cx="195.2" cy="174.4"/><circle cx="180.2" cy="136.7"/><circle cx="403.9" cy="323.1"/><circle cx="478.4" cy="123.5"/><circle cx="225" cy="335.7"/><circle cx="225" cy="216.9"/><circle cx="225" cy="128.3"/><circle cx="225" cy="278"/><circle cx="478.4" cy="81.5"/><circle cx="403.9" cy="105.1"/><circle cx="135.5" cy="340.9"/><circle cx="210.1" cy="192.2"/><circle cx="225" cy="140.7"/><circle cx="120.6" cy="342.3"/><circle cx="269.7" cy="127.3"/><circle cx="165.3" cy="180.4"/><circle cx="195.2" cy="109.2"/><circle cx="254.8" cy="161.3"/><circle cx="195.2" cy="163.9"/><circle cx="180.2" cy="193.1"/><circle cx="403.9" cy="109.2"/><circle cx="135.5" cy="262.7"/><circle cx="180.2" cy="100"/><circle cx="478.4" cy="57"/><circle cx="195.2" cy="125.2"/><circle cx="180.2" cy="175.3"/><circle cx="225" cy="176.2"/><circle cx="120.6" cy="161.3"/><circle cx="225" cy="295"/><circle cx="180.2" cy="55"/><circle cx="254.8" cy="189.2"/><circle cx="120.6" cy="142.4"/><circle cx="120.6" cy="373"/><circle cx="195.2" cy="160.3"/><circle cx="254.8" cy="179.1"/><circle cx="195.2" cy="90"/><circle cx="120.6" cy="346.1"/><circle cx="225" cy="210.1"/><circle cx="403.9" cy="42.3"/><circle cx="210.1" cy="147.7"/><circle cx="150.4" cy="169.8"/><circle cx="195.2" cy="79.8"/><circle cx="180.2" cy="110.2"/><circle cx="403.9" cy="316.8"/><circle cx="135.5" cy="331.2"/><circle cx="254.8" cy="171.9"/><circle cx="180.2" cy="158.1"/><circle cx="135.5" cy="355.8"/><circle cx="195.2" cy="129.5"/><circle cx="165.3" cy="227.1"/><circle cx="180.2" cy="360.4"/><circle cx="165.3" cy="241.8"/><circle cx="135.5" cy="183.8"/><circle cx="210.1" cy="372.1"/><circle cx="225" cy="303.1"/><circle cx="120.6" cy="353"/><circle cx="150.4" cy="241.4"/><circle cx="150.4" cy="256.3"/><circle cx="135.5" cy="149.2"/><circle cx="150.4" cy="254.9"/><circle cx="225" cy="234.7"/><circle cx="225" cy="368.5"/><circle cx="150.4" cy="216.9"/><circle cx="195.2" cy="86.5"/><circle cx="120.6" cy="374.6"/><circle cx="225" cy="93.6"/><circle cx="150.4" cy="280"/><circle cx="269.7" cy="166.6"/><circle cx="150.4" cy="350.9"/><circle cx="180.2" cy="206.1"/><circle cx="120.6" cy="116.9"/><circle cx="225" cy="345.5"/><circle cx="165.3" cy="235.5"/><circle cx="165.3" cy="340"/><circle cx="225" cy="137.7"/><circle cx="105.7" cy="179.2"/><circle cx="105.7" cy="120.9"/><circle cx="150.4" cy="143.8"/><circle cx="225" cy="115.7"/><circle cx="195.2" cy="61.6"/><circle cx="403.9" cy="341.6"/><circle cx="135.5" cy="236.7"/><circle cx="135.5" cy="248.7"/><circle cx="210.1" cy="169.1"/><circle cx="120.6" cy="337.9"/><circle cx="105.7" cy="106.5"/><circle cx="478.4" cy="364.4"/><circle cx="180.2" cy="202.6"/><circle cx="165.3" cy="195.7"/><circle cx="225" cy="110.5"/><circle cx="180.2" cy="175.4"/><circle cx="403.9" cy="333.4"/><circle cx="150.4" cy="173.4"/><circle cx="403.9" cy="77.3"/><circle cx="180.2" cy="374.9"/><circle cx="135.5" cy="290.2"/><circle cx="120.6" cy="108.9"/><circle cx="210.1" cy="344.3"/><circle cx="210.1" cy="150.5"/><circle cx="254.8" cy="124.9"/><circle cx="225" cy="342.6"/><circle cx="269.7" cy="355"/><circle cx="478.4" cy="143.7"/><circle cx="254.8" cy="175.6"/><circle cx="269.7" cy="38"/><circle cx="225" cy="193.1"/><circle cx="254.8" cy="101.6"/><circle cx="493.3" cy="310.5"/><circle cx="225" cy="282.5"/><circle cx="195.2" cy="128.1"/><circle cx="165.3" cy="296"/><circle cx="210.1" cy="70"/><circle cx="165.3" cy="146.1"/><circle cx="225" cy="327.4"/><circle cx="150.4" cy="154.9"/><circle cx="150.4" cy="267"/><circle cx="269.7" cy="361.1"/><circle cx="493.3" cy="343.3"/><circle cx="120.6" cy="151"/><circle cx="135.5" cy="282.8"/><circle cx="403.9" cy="102"/><circle cx="165.3" cy="308"/><circle cx="225" cy="341.9"/><circle cx="225" cy="323.9"/><circle cx="210.1" cy="142"/><circle cx="120.6" cy="137.3"/><circle cx="254.8" cy="139.4"/><circle cx="225" cy="123.8"/><circle cx="120.6" cy="341.6"/><circle cx="195.2" cy="101.9"/><circle cx="403.9" cy="59.2"/><circle cx="269.7" cy="135.6"/><circle cx="269.7" cy="127.2"/><circle cx="150.4" cy="270.5"/><circle cx="120.6" cy="113.6"/><circle cx="254.8" cy="145.4"/><circle cx="105.7" cy="365.8"/><circle cx="165.3" cy="350.4"/><circle cx="105.7" cy="156.8"/><circle cx="150.4" cy="317.4"/><circle cx="403.9" cy="329.5"/><circle cx="105.7" cy="176"/><circle cx="180.2" cy="184.1"/><circle cx="493.3" cy="101.5"/><circle cx="478.4" cy="61.5"/><circle cx="150.4" cy="325.2"/><circle cx="210.1" cy="347.5"/><circle cx="180.2" cy="115.1"/><circle cx="225" cy="347.9"/><circle cx="210.1" cy="192.9"/><circle cx="478.4" cy="113.2"/><circle cx="120.6" cy="140.9"/><circle cx="165.3" cy="331.1"/><circle cx="269.7" cy="174.6"/><circle cx="210.1" cy="200.7"/><circle cx="225" cy="323"/><circle cx="150.4" cy="355.3"/><circle cx="210.1" cy="144.2"/><circle cx="120.6" cy="143"/><circle cx="403.9" cy="360.4"/><circle cx="254.8" cy="84.4"/><circle cx="150.4" cy="313.9"/><circle cx="269.7" cy="132.7"/><circle cx="493.3" cy="61.5"/><circle cx="210.1" cy="147.3"/><circle cx="180.2" cy="169.5"/><circle cx="150.4" cy="227.7"/><circle cx="180.2" cy="84"/><circle cx="493.3" cy="120.8"/><circle cx="120.6" cy="366.2"/><circle cx="195.2" cy="169.5"/><circle cx="150.4" cy="236.5"/><circle cx="165.3" cy="224.4"/><circle cx="403.9" cy="330.1"/><circle cx="195.2" cy="105.5"/><circle cx="120.6" cy="123.3"/><circle cx="225" cy="102"/><circle cx="254.8" cy="187.8"/><circle cx="150.4" cy="149.1"/><circle cx="135.5" cy="279.5"/><circle cx="478.4" cy="347.6"/><circle cx="165.3" cy="250.9"/><circle cx="254.8" cy="70.4"/><circle cx="165.3" cy="251.6"/><circle cx="165.3" cy="264.1"/><circle cx="135.5" cy="183.4"/><circle cx="225" cy="136.2"/><circle cx="180.2" cy="126.5"/><circle cx="165.3" cy="309.5"/><circle cx="403.9" cy="32.6"/><circle cx="210.1" cy="362.3"/><circle cx="105.7" cy="125.4"/><circle cx="165.3" cy="248.1"/><circle cx="478.4" cy="111.8"/><circle cx="403.9" cy="358.9"/><circle cx="225" cy="175.5"/><circle cx="180.2" cy="35.9"/><circle cx="165.3" cy="124.8"/><circle cx="150.4" cy="258.3"/><circle cx="403.9" cy="326.5"/><circle cx="195.2" cy="153.9"/><circle cx="254.8" cy="122.5"/><circle cx="269.7" cy="117.4"/><circle cx="195.2" cy="180.2"/><circle cx="225" cy="227.6"/><circle cx="493.3" cy="116.7"/><circle cx="165.3" cy="238.6"/><circle cx="225" cy="187.6"/><circle cx="195.2" cy="114.1"/><circle cx="403.9" cy="106.7"/><circle cx="269.7" cy="187.4"/><circle cx="478.4" cy="355.8"/><circle cx="165.3" cy="177"/><circle cx="195.2" cy="110.9"/><circle cx="478.4" cy="349.9"/><circle cx="195.2" cy="121.8"/><circle cx="150.4" cy="123.5"/><circle cx="269.7" cy="120.5"/><circle cx="225" cy="217.5"/><circle cx="403.9" cy="339.6"/><circle cx="210.1" cy="342.6"/><circle cx="254.8" cy="153.5"/><circle cx="165.3" cy="201.7"/><circle cx="254.8" cy="134.8"/><circle cx="493.3" cy="129.8"/><circle cx="180.2" cy="130.7"/><circle cx="210.1" cy="201.2"/><circle cx="493.3" cy="119.6"/><circle cx="165.3" cy="202.6"/><circle cx="180.2" cy="187.6"/><circle cx="493.3" cy="52.6"/><circle cx="105.7" cy="155"/><circle cx="120.6" cy="105.7"/><circle cx="165.3" cy="175.5"/><circle cx="493.3" cy="113.7"/><circle cx="180.2" cy="157.4"/><circle cx="105.7" cy="172.1"/><circle cx="478.4" cy="352.2"/><circle cx="150.4" cy="240.2"/><circle cx="150.4" cy="276.4"/><circle cx="150.4" cy="239.9"/><circle cx="150.4" cy="271.6"/><circle cx="150.4" cy="215.1"/><circle cx="225" cy="277.8"/><circle cx="180.2" cy="193.1"/><circle cx="210.1" cy="166"/><circle cx="269.7" cy="141.1"/><circle cx="225" cy="353.6"/><circle cx="165.3" cy="304"/><circle cx="195.2" cy="183.9"/><circle cx="135.5" cy="223.5"/><circle cx="180.2" cy="176.9"/><circle cx="120.6" cy="146"/><circle cx="180.2" cy="204.2"/><circle cx="150.4" cy="232.1"/><circle cx="478.4" cy="96.7"/><circle cx="269.7" cy="145.1"/><circle cx="165.3" cy="307.4"/><circle cx="269.7" cy="185.6"/><circle cx="225" cy="151.7"/><circle cx="269.7" cy="375.7"/><circle cx="165.3" cy="216.8"/><circle cx="210.1" cy="355.8"/><circle cx="269.7" cy="50"/><circle cx="269.7" cy="148.1"/><circle cx="210.1" cy="156.5"/><circle cx="195.2" cy="67.6"/><circle cx="493.3" cy="39.7"/><circle cx="225" cy="249.3"/><circle cx="195.2" cy="78"/><circle cx="225" cy="261.2"/><circle cx="150.4" cy="341.9"/><circle cx="150.4" cy="261.2"/><circle cx="403.9" cy="103.8"/><circle cx="180.2" cy="156.1"/><circle cx="210.1" cy="335.5"/><circle cx="120.6" cy="168.7"/><circle cx="120.6" cy="146.9"/><circle cx="195.2" cy="118.2"/><circle cx="135.5" cy="220.3"/><circle cx="105.7" cy="356.4"/><circle cx="195.2" cy="160.5"/><circle cx="403.9" cy="331.4"/><circle cx="105.7" cy="181.3"/><circle cx="210.1" cy="211.8"/><circle cx="180.2" cy="82.3"/><circle cx="493.3" cy="140.4"/><circle cx="269.7" cy="129.4"/><circle cx="195.2" cy="135.2"/><circle cx="165.3" cy="263.5"/><circle cx="105.7" cy="135.2"/><circle cx="135.5" cy="295.6"/><circle cx="493.3" cy="110.3"/><circle cx="403.9" cy="316.2"/><circle cx="195.2" cy="155.2"/><circle cx="225" cy="339.5"/><circle cx="225" cy="359.3"/><circle cx="225" cy="350.8"/><circle cx="105.7" cy="129.5"/><circle cx="225" cy="251.8"/><circle cx="165.3" cy="252.9"/><circle cx="269.7" cy="186.4"/><circle cx="225" cy="269.7"/><circle cx="225" cy="139.8"/><circle cx="210.1" cy="203.7"/><circle cx="135.5" cy="239.4"/><circle cx="195.2" cy="85.6"/><circle cx="269.7" cy="173.3"/><circle cx="225" cy="305.5"/><circle cx="135.5" cy="229.1"/><circle cx="180.2" cy="364.2"/><circle cx="165.3" cy="338.8"/><circle cx="105.7" cy="192.1"/><circle cx="195.2" cy="147.8"/><circle cx="269.7" cy="131.7"/><circle cx="254.8" cy="147.5"/><circle cx="210.1" cy="197.3"/><circle cx="403.9" cy="51.2"/><circle cx="165.3" cy="229.1"/><circle cx="225" cy="297.8"/><circle cx="150.4" cy="259.8"/><circle cx="478.4" cy="337"/><circle cx="105.7" cy="120.1"/><circle cx="165.3" cy="155"/><circle cx="195.2" cy="135.7"/><circle cx="180.2" cy="151"/><circle cx="210.1" cy="346.9"/><circle cx="254.8" cy="177.8"/><circle cx="254.8" cy="345.7"/><circle cx="210.1" cy="128.2"/><circle cx="135.5" cy="326.1"/><circle cx="135.5" cy="298.2"/><circle cx="269.7" cy="85.8"/><circle cx="210.1" cy="139.2"/><circle cx="180.2" cy="98.4"/><circle cx="135.5" cy="309.4"/><circle cx="478.4" cy="130.9"/><circle cx="254.8" cy="189"/><circle cx="150.4" cy="270.2"/><circle cx="254.8" cy="124.4"/><circle cx="105.7" cy="139.5"/><circle cx="150.4" cy="245.6"/><circle cx="105.7" cy="372.9"/><circle cx="150.4" cy="273"/><circle cx="105.7" cy="69.7"/><circle cx="225" cy="317.8"/><circle cx="269.7" cy="172.6"/><circle cx="225" cy="201.6"/><circle cx="225" cy="237.1"/><circle cx="195.2" cy="59.4"/><circle cx="225" cy="287.9"/><circle cx="135.5" cy="266.8"/><circle cx="225" cy="297.3"/><circle cx="120.6" cy="362.9"/><circle cx="150.4" cy="298.7"/><circle cx="135.5" cy="253.4"/><circle cx="120.6" cy="170.4"/><circle cx="403.9" cy="101.3"/><circle cx="210.1" cy="195.7"/><circle cx="180.2" cy="173.6"/><circle cx="478.4" cy="118.4"/><circle cx="210.1" cy="157.6"/><circle cx="269.7" cy="366.3"/><circle cx="165.3" cy="169.2"/><circle cx="403.9" cy="120.3"/><circle cx="269.7" cy="179.4"/><circle cx="105.7" cy="346.4"/><circle cx="105.7" cy="344.8"/><circle cx="180.2" cy="204.6"/><circle cx="478.4" cy="117.2"/><circle cx="150.4" cy="192.6"/><circle cx="269.7" cy="380.7"/><circle cx="493.3" cy="314.6"/><circle cx="225" cy="211"/><circle cx="493.3" cy="320.6"/><circle cx="269.7" cy="163.9"/><circle cx="120.6" cy="136.5"/><circle cx="135.5" cy="264.3"/><circle cx="403.9" cy="87"/><circle cx="195.2" cy="84.6"/><circle cx="165.3" cy="334.7"/><circle cx="225" cy="106.1"/><circle cx="210.1" cy="190.6"/><circle cx="403.9" cy="113.4"/><circle cx="254.8" cy="346"/><circle cx="478.4" cy="340"/><circle cx="493.3" cy="361.8"/><circle cx="403.9" cy="313.1"/><circle cx="210.1" cy="137.2"/><circle cx="225" cy="319.7"/><circle cx="225" cy="350.1"/><circle cx="165.3" cy="318.2"/><circle cx="403.9" cy="91.9"/><circle cx="165.3" cy="227.8"/><circle cx="254.8" cy="174.7"/><circle cx="120.6" cy="358.1"/><circle cx="195.2" cy="372.6"/><circle cx="478.4" cy="336.3"/><circle cx="165.3" cy="236.8"/><circle cx="165.3" cy="208.5"/><circle cx="478.4" cy="122.5"/><circle cx="105.7" cy="352.9"/><circle cx="269.7" cy="181.1"/><circle cx="225" cy="255.5"/><circle cx="493.3" cy="131.7"/><circle cx="403.9" cy="119.6"/><circle cx="403.9" cy="45.1"/><circle cx="135.5" cy="314.1"/><circle cx="225" cy="255.4"/><circle cx="165.3" cy="301.9"/><circle cx="165.3" cy="308.1"/><circle cx="180.2" cy="70.5"/><circle cx="135.5" cy="226.8"/><circle cx="225" cy="317.1"/><circle cx="165.3" cy="140.9"/><circle cx="254.8" cy="350.2"/><circle cx="254.8" cy="177.7"/><circle cx="135.5" cy="284.6"/><circle cx="120.6" cy="99.5"/><circle cx="165.3" cy="229.7"/><circle cx="493.3" cy="114.8"/><circle cx="269.7" cy="154.5"/><circle cx="180.2" cy="190.5"/><circle cx="269.7" cy="154.2"/><circle cx="225" cy="338.9"/><circle cx="150.4" cy="159.3"/><circle cx="478.4" cy="144.9"/><circle cx="120.6" cy="350.6"/><circle cx="210.1" cy="155.2"/><circle cx="105.7" cy="163.6"/><circle cx="180.2" cy="166.5"/><circle cx="165.3" cy="240"/><circle cx="165.3" cy="249.8"/><circle cx="135.5" cy="308.9"/><circle cx="120.6" cy="349.4"/><circle cx="225" cy="169.4"/><circle cx="150.4" cy="321.3"/><circle cx="210.1" cy="210.8"/><circle cx="478.4" cy="342.5"/><circle cx="493.3" cy="80.6"/><circle cx="225" cy="209.7"/><circle cx="493.3" cy="103.8"/><circle cx="210.1" cy="187.8"/><circle cx="210.1" cy="150.9"/><circle cx="254.8" cy="183.3"/><circle cx="254.8" cy="371.5"/><circle cx="120.6" cy="343"/><circle cx="254.8" cy="177.6"/><circle cx="195.2" cy="97.5"/><circle cx="225" cy="161.4"/><circle cx="165.3" cy="252.4"/><circle cx="210.1" cy="133.3"/><circle cx="120.6" cy="167.9"/><circle cx="269.7" cy="140.9"/><circle cx="269.7" cy="161.9"/><circle cx="180.2" cy="49.2"/><circle cx="493.3" cy="320"/><circle cx="150.4" cy="275.2"/><circle cx="210.1" cy="183.4"/><circle cx="478.4" cy="136.3"/><circle cx="210.1" cy="184.4"/><circle cx="135.5" cy="256.2"/><circle cx="180.2" cy="121.3"/><circle cx="165.3" cy="206.6"/><circle cx="135.5" cy="232"/><circle cx="150.4" cy="161.6"/><circle cx="180.2" cy="159.4"/><circle cx="195.2" cy="71.8"/><circle cx="478.4" cy="120.7"/><circle cx="195.2" cy="82.3"/><circle cx="135.5" cy="254.9"/><circle cx="150.4" cy="147.2"/><circle cx="165.3" cy="233.6"/><circle cx="478.4" cy="115.8"/><circle cx="225" cy="265.4"/><circle cx="210.1" cy="165"/><circle cx="135.5" cy="322"/><circle cx="225" cy="249.4"/><circle cx="180.2" cy="170.9"/><circle cx="269.7" cy="152.3"/><circle cx="135.5" cy="331.3"/><circle cx="225" cy="308.2"/><circle cx="195.2" cy="180.7"/><circle cx="135.5" cy="363.4"/><circle cx="225" cy="312.4"/><circle cx="403.9" cy="324.9"/><circle cx="403.9" cy="109.6"/><circle cx="269.7" cy="352.6"/><circle cx="165.3" cy="194.2"/><circle cx="165.3" cy="208.8"/><circle cx="493.3" cy="135"/><circle cx="150.4" cy="170.6"/><circle cx="269.7" cy="128.4"/><circle cx="120.6" cy="113.5"/><circle cx="225" cy="148.9"/><circle cx="105.7" cy="178.3"/><circle cx="135.5" cy="281.4"/><circle cx="403.9" cy="67.6"/><circle cx="165.3" cy="233.7"/><circle cx="225" cy="250.9"/><circle cx="105.7" cy="164.1"/><circle cx="120.6" cy="165"/><circle cx="403.9" cy="39.3"/><circle cx="180.2" cy="79.2"/><circle cx="105.7" cy="347.8"/><circle cx="493.3" cy="336.1"/><circle cx="195.2" cy="119.7"/><circle cx="210.1" cy="357.3"/><circle cx="180.2" cy="188.6"/><circle cx="254.8" cy="136.3"/><circle cx="210.1" cy="188.8"/><circle cx="135.5" cy="259"/><circle cx="195.2" cy="130.3"/><circle cx="478.4" cy="105.6"/><circle cx="195.2" cy="374"/><circle cx="165.3" cy="352.1"/><circle cx="478.4" cy="360.6"/><circle cx="105.7" cy="185.4"/><circle cx="150.4" cy="143.3"/><circle cx="493.3" cy="133.4"/><circle cx="135.5" cy="176.5"/><circle cx="403.9" cy="337.8"/><circle cx="210.1" cy="351.3"/><circle cx="150.4" cy="158.8"/><circle cx="165.3" cy="196.2"/><circle cx="195.2" cy="183.8"/><circle cx="195.2" cy="379.4"/><circle cx="225" cy="263.7"/><circle cx="225" cy="216.4"/><circle cx="478.4" cy="367.7"/><circle cx="150.4" cy="99.4"/><circle cx="225" cy="207.4"/><circle cx="150.4" cy="295.3"/><circle cx="165.3" cy="360.4"/><circle cx="165.3" cy="268.4"/><circle cx="180.2" cy="363.6"/><circle cx="493.3" cy="86.5"/><circle cx="150.4" cy="177.7"/><circle cx="210.1" cy="345.1"/><circle cx="165.3" cy="310.3"/><circle cx="180.2" cy="112.6"/><circle cx="225" cy="176.6"/><circle cx="120.6" cy="161.2"/><circle cx="105.7" cy="350.2"/><circle cx="269.7" cy="122"/><circle cx="150.4" cy="262.6"/><circle cx="120.6" cy="164.2"/><circle cx="225" cy="173.2"/><circle cx="165.3" cy="133.9"/><circle cx="165.3" cy="142.3"/><circle cx="165.3" cy="167.8"/><circle cx="165.3" cy="241.1"/><circle cx="493.3" cy="138.8"/><circle cx="493.3" cy="119.8"/><circle cx="225" cy="239"/><circle cx="225" cy="159.8"/><circle cx="403.9" cy="111.1"/><circle cx="269.7" cy="171.5"/><circle cx="150.4" cy="198.6"/><circle cx="254.8" cy="176.4"/><circle cx="120.6" cy="357.9"/><circle cx="225" cy="346"/><circle cx="165.3" cy="199.4"/><circle cx="210.1" cy="185.1"/><circle cx="478.4" cy="105.4"/><circle cx="493.3" cy="353.3"/><circle cx="165.3" cy="322.9"/><circle cx="269.7" cy="123.5"/><circle cx="225" cy="258"/><circle cx="180.2" cy="149.7"/><circle cx="135.5" cy="202.2"/><circle cx="269.7" cy="32.9"/><circle cx="403.9" cy="101.1"/><circle cx="150.4" cy="324.2"/><circle cx="165.3" cy="212.5"/><circle cx="403.9" cy="102.6"/><circle cx="105.7" cy="356.8"/><circle cx="195.2" cy="94.3"/><circle cx="165.3" cy="298.4"/><circle cx="269.7" cy="171.6"/><circle cx="254.8" cy="188.5"/><circle cx="210.1" cy="168"/><circle cx="195.2" cy="153.5"/><circle cx="150.4" cy="279.5"/><circle cx="150.4" cy="188.5"/><circle cx="180.2" cy="203.9"/><circle cx="403.9" cy="321.1"/><circle cx="493.3" cy="365.4"/><circle cx="225" cy="212.6"/><circle cx="269.7" cy="356"/><circle cx="120.6" cy="150.3"/><circle cx="210.1" cy="128.9"/><circle cx="403.9" cy="320.3"/><circle cx="150.4" cy="329.3"/><circle cx="210.1" cy="211.3"/><circle cx="150.4" cy="94"/><circle cx="105.7" cy="173.5"/><circle cx="105.7" cy="355.1"/><circle cx="210.1" cy="339.5"/><circle cx="135.5" cy="185.1"/><circle cx="225" cy="264.5"/><circle cx="225" cy="257.9"/><circle cx="210.1" cy="208.7"/><circle cx="478.4" cy="87.7"/><circle cx="254.8" cy="172.4"/><circle cx="225" cy="326.4"/><circle cx="120.6" cy="74.4"/><circle cx="269.7" cy="140.8"/><circle cx="225" cy="323.5"/><circle cx="269.7" cy="144.1"/><circle cx="225" cy="293.6"/><circle cx="165.3" cy="305.2"/><circle cx="269.7" cy="138.3"/><circle cx="165.3" cy="159.5"/><circle cx="269.7" cy="366.7"/><circle cx="165.3" cy="186"/><circle cx="150.4" cy="298.4"/><circle cx="225" cy="136.3"/><circle cx="165.3" cy="247.5"/><circle cx="195.2" cy="168.8"/><circle cx="210.1" cy="180.9"/><circle cx="165.3" cy="198.6"/><circle cx="269.7" cy="360"/><circle cx="135.5" cy="379.8"/><circle cx="150.4" cy="220.7"/><circle cx="120.6" cy="336.4"/><circle cx="150.4" cy="337.8"/><circle cx="120.6" cy="134.2"/><circle cx="150.4" cy="176.6"/><circle cx="180.2" cy="209.5"/><circle cx="254.8" cy="177.7"/><circle cx="225" cy="348.8"/><circle cx="225" cy="287.6"/><circle cx="105.7" cy="98.7"/><circle cx="150.4" cy="359.7"/><circle cx="210.1" cy="164.7"/><circle cx="269.7" cy="71.5"/><circle cx="225" cy="299.1"/><circle cx="165.3" cy="260.4"/><circle cx="225" cy="240.4"/><circle cx="150.4" cy="152.7"/><circle cx="135.5" cy="261.6"/><circle cx="493.3" cy="137"/><circle cx="225" cy="134.7"/><circle cx="210.1" cy="125.1"/><circle cx="195.2" cy="371.6"/><circle cx="195.2" cy="105.5"/><circle cx="269.7" cy="352.7"/><circle cx="225" cy="325.5"/><circle cx="165.3" cy="329.1"/><circle cx="478.4" cy="335.8"/><circle cx="478.4" cy="92.9"/><circle cx="135.5" cy="238.6"/><circle cx="135.5" cy="257"/><circle cx="269.7" cy="368.9"/><circle cx="165.3" cy="127.9"/><circle cx="180.2" cy="110"/><circle cx="150.4" cy="212.5"/><circle cx="225" cy="301.4"/><circle cx="165.3" cy="255.9"/><circle cx="210.1" cy="121.8"/><circle cx="478.4" cy="342.8"/><circle cx="150.4" cy="150.6"/><circle cx="150.4" cy="306.7"/><circle cx="225" cy="243.1"/><circle cx="478.4" cy="353.2"/><circle cx="269.7" cy="370.2"/><circle cx="180.2" cy="196"/><circle cx="105.7" cy="362.8"/><circle cx="478.4" cy="131.6"/><circle cx="165.3" cy="341.4"/><circle cx="269.7" cy="108.5"/><circle cx="135.5" cy="317.6"/><circle cx="180.2" cy="146"/><circle cx="195.2" cy="128"/><circle cx="403.9" cy="110.4"/><circle cx="180.2" cy="160"/><circle cx="165.3" cy="209.9"/><circle cx="254.8" cy="344.9"/><circle cx="269.7" cy="351.8"/><circle cx="180.2" cy="145.3"/><circle cx="150.4" cy="140.4"/><circle cx="165.3" cy="254.2"/><circle cx="254.8" cy="130.3"/><circle cx="150.4" cy="224.4"/><circle cx="403.9" cy="344.5"/><circle cx="135.5" cy="245"/><circle cx="195.2" cy="67"/><circle cx="150.4" cy="186.8"/><circle cx="225" cy="86.4"/><circle cx="150.4" cy="100.9"/><circle cx="225" cy="165.5"/><circle cx="478.4" cy="139.6"/><circle cx="150.4" cy="223.8"/><circle cx="180.2" cy="372.7"/><circle cx="225" cy="333.1"/><circle cx="150.4" cy="345.7"/><circle cx="165.3" cy="190.5"/><circle cx="135.5" cy="323.4"/><circle cx="254.8" cy="133.3"/><circle cx="269.7" cy="128.1"/><circle cx="195.2" cy="77.3"/><circle cx="165.3" cy="145.5"/><circle cx="225" cy="303"/><circle cx="210.1" cy="379"/></g><path d="M105.9 246.4 122 244.9 138.2 243.5 154.3 242 170.5 240.5 186.6 239.1 202.8 237.7 218.9 236.2 235.1 234.8 251.2 233.3 267.4 231.9 283.5 230.5 299.7 229.1 315.8 227.7 332 226.3 348.1 224.9 364.3 223.5 380.4 222.2 396.6 220.8 412.7 219.5 428.9 218.1 445 216.8 461.2 215.4 477.4 214.1 493.5 212.8 493.1 208 476.9 209.5 460.8 211 444.7 212.5 428.5 214 412.4 215.4 396.2 216.9 380.1 218.3 363.9 219.8 347.8 221.2 331.6 222.7 315.5 224.1 299.3 225.5 283.2 226.9 267 228.3 250.9 229.7 234.7 231.1 218.6 232.5 202.4 233.8 186.3 235.2 170.1 236.6 154 237.9 137.8 239.3 121.7 240.7 105.5 242Z" fill="#B4C0CC" fill-opacity="0.45"/><line x1="105.7" y1="244.2" x2="493.3" y2="210.4" stroke="#000" stroke-width="4.4" stroke-dasharray="16.9 16.7"/><path d="M48.1 382.9H53.8M48.1 346.5H53.8M48.1 310.1H53.8M48.1 273.6H53.8M48.1 237.2H53.8M48.1 200.8H53.8M48.1 164.4H53.8M48.1 128H53.8M48.1 91.5H53.8M48.1 55.1H53.8M48.1 18.7H53.8M75.9 400.3V406.7M150.4 400.3V406.7M225 400.3V406.7M299.5 400.3V406.7M374 400.3V406.7M448.6 400.3V406.7M523.1 400.3V406.7" stroke="#333" stroke-width="2.2" fill="none"/><text x="44" y="388.5" text-anchor="end" font-size="15.6" fill="#111" stroke="#111" stroke-width="0.3">1</text><text x="44" y="352.1" text-anchor="end" font-size="15.6" fill="#111" stroke="#111" stroke-width="0.3">2</text><text x="44" y="315.7" text-anchor="end" font-size="15.6" fill="#111" stroke="#111" stroke-width="0.3">3</text><text x="44" y="279.2" text-anchor="end" font-size="15.6" fill="#111" stroke="#111" stroke-width="0.3">4</text><text x="44" y="242.8" text-anchor="end" font-size="15.6" fill="#111" stroke="#111" stroke-width="0.3">5</text><text x="44" y="206.4" text-anchor="end" font-size="15.6" fill="#111" stroke="#111" stroke-width="0.3">6</text><text x="44" y="170" text-anchor="end" font-size="15.6" fill="#111" stroke="#111" stroke-width="0.3">7</text><text x="44" y="133.6" text-anchor="end" font-size="15.6" fill="#111" stroke="#111" stroke-width="0.3">8</text><text x="44" y="97.1" text-anchor="end" font-size="15.6" fill="#111" stroke="#111" stroke-width="0.3">9</text><text x="44" y="60.7" text-anchor="end" font-size="15.6" fill="#111" stroke="#111" stroke-width="0.3">10</text><text x="44" y="24.3" text-anchor="end" font-size="15.6" fill="#111" stroke="#111" stroke-width="0.3">11</text><text x="75.9" y="422.8" text-anchor="middle" font-size="15.6" fill="#111" stroke="#111" stroke-width="0.3">5</text><text x="150.4" y="422.8" text-anchor="middle" font-size="15.6" fill="#111" stroke="#111" stroke-width="0.3">10</text><text x="225" y="422.8" text-anchor="middle" font-size="15.6" fill="#111" stroke="#111" stroke-width="0.3">15</text><text x="299.5" y="422.8" text-anchor="middle" font-size="15.6" fill="#111" stroke="#111" stroke-width="0.3">20</text><text x="374" y="422.8" text-anchor="middle" font-size="15.6" fill="#111" stroke="#111" stroke-width="0.3">25</text><text x="448.6" y="422.8" text-anchor="middle" font-size="15.6" fill="#111" stroke="#111" stroke-width="0.3">30</text><text x="523.1" y="422.8" text-anchor="middle" font-size="15.6" fill="#111" stroke="#111" stroke-width="0.3">35</text><text x="299.5" y="449" text-anchor="middle" font-size="19.6" font-weight="bold">Child age in months</text><text transform="translate(15.7 201) rotate(-90)" x="0" y="0" text-anchor="middle" font-size="21.6" font-weight="bold">Articulation Rate</text><text x="64" y="37.3" font-size="33.8" stroke="#000" stroke-width="0.8">A</text><rect x="53.8" y="473.8" width="491.4" height="398.9" fill="#EBEBEB"/><path d="M53.8 837.3H545.2M53.8 800.9H545.2M53.8 764.5H545.2M53.8 728H545.2M53.8 691.6H545.2M53.8 655.2H545.2M53.8 618.8H545.2M53.8 582.4H545.2M53.8 545.9H545.2M53.8 509.5H545.2M108 473.8V872.7M171.9 473.8V872.7M235.8 473.8V872.7M299.7 473.8V872.7M363.6 473.8V872.7M427.5 473.8V872.7M491.4 473.8V872.7" stroke="#fff" stroke-width="1.3" fill="none"/><path d="M53.8 855.5H545.2M53.8 819.1H545.2M53.8 782.7H545.2M53.8 746.2H545.2M53.8 709.8H545.2M53.8 673.4H545.2M53.8 637H545.2M53.8 600.6H545.2M53.8 564.1H545.2M53.8 527.7H545.2M53.8 491.3H545.2M76.1 473.8V872.7M140 473.8V872.7M203.9 473.8V872.7M267.8 473.8V872.7M331.6 473.8V872.7M395.5 473.8V872.7M459.4 473.8V872.7M523.3 473.8V872.7" stroke="#fff" stroke-width="2.2" fill="none"/><g fill="#4682B4"><rect x="71.1" y="707.5" width="9.9" height="152.7" rx="5"/><rect x="159.7" y="657.5" width="9.9" height="174.9" rx="5"/><rect x="211.5" y="637.5" width="9.9" height="180.4" rx="5"/><rect x="248.3" y="617.5" width="9.9" height="179.4" rx="5"/><rect x="276.8" y="607.5" width="9.9" height="196.4" rx="5"/><rect x="300.1" y="617.5" width="9.9" height="176.4" rx="5"/><rect x="319.8" y="627.5" width="9.9" height="124.9" rx="5"/><rect x="336.8" y="627.5" width="9.9" height="121.9" rx="5"/><rect x="351.9" y="627.5" width="9.9" height="120.4" rx="5"/></g><g fill="#4682B4" fill-opacity="0.55" stroke="#4682B4" stroke-opacity="0.55" stroke-width="1.5" class="pt"><circle cx="164.7" cy="632"/><circle cx="382.5" cy="719.9"/><circle cx="324.7" cy="747.6"/><circle cx="413.3" cy="706.3"/><circle cx="324.7" cy="576.5"/><circle cx="324.7" cy="522.8"/><circle cx="430.4" cy="585"/><circle cx="305" cy="791.2"/><circle cx="413.3" cy="649.9"/><circle cx="370.3" cy="560"/><circle cx="216.5" cy="585.8"/><circle cx="393.6" cy="650.3"/><circle cx="413.3" cy="669.2"/><circle cx="216.5" cy="615.4"/><circle cx="305" cy="535.8"/><circle cx="216.5" cy="818.2"/><circle cx="422.1" cy="647.4"/><circle cx="76.1" cy="699.4"/><circle cx="393.6" cy="607.6"/><circle cx="382.5" cy="657.5"/><circle cx="164.7" cy="594.3"/><circle cx="324.7" cy="591.1"/><circle cx="430.4" cy="679.2"/><circle cx="216.5" cy="840.7"/><circle cx="253.2" cy="618.2"/><circle cx="341.8" cy="597.9"/><circle cx="370.3" cy="572.3"/><circle cx="305" cy="598.3"/><circle cx="305" cy="549.9"/><circle cx="305" cy="590.3"/><circle cx="324.7" cy="793.4"/><circle cx="216.5" cy="628"/><circle cx="393.6" cy="629.3"/><circle cx="164.7" cy="833.4"/><circle cx="422.1" cy="699.8"/><circle cx="305" cy="611.5"/><circle cx="413.3" cy="689.8"/><circle cx="341.8" cy="810.4"/><circle cx="382.5" cy="702.6"/><circle cx="216.5" cy="591.6"/><circle cx="356.8" cy="594.9"/><circle cx="413.3" cy="652.3"/><circle cx="305" cy="789.5"/><circle cx="216.5" cy="633.3"/><circle cx="438.1" cy="604"/><circle cx="341.8" cy="546"/><circle cx="403.8" cy="626.5"/><circle cx="403.8" cy="628.5"/><circle cx="403.8" cy="714.5"/><circle cx="76.1" cy="672.1"/><circle cx="382.5" cy="575.6"/><circle cx="403.8" cy="718"/><circle cx="413.3" cy="656.3"/><circle cx="403.8" cy="606.4"/><circle cx="382.5" cy="650.2"/><circle cx="356.8" cy="623.9"/><circle cx="413.3" cy="702.1"/><circle cx="76.1" cy="685.3"/><circle cx="216.5" cy="549"/><circle cx="393.6" cy="591.8"/><circle cx="382.5" cy="730.1"/><circle cx="370.3" cy="702.7"/><circle cx="164.7" cy="631.2"/><circle cx="370.3" cy="666.2"/><circle cx="422.1" cy="702.3"/><circle cx="305" cy="611.1"/><circle cx="393.6" cy="647.6"/><circle cx="413.3" cy="676.7"/><circle cx="430.4" cy="620.7"/><circle cx="281.7" cy="595.7"/><circle cx="164.7" cy="585.6"/><circle cx="393.6" cy="705"/><circle cx="305" cy="606.5"/><circle cx="370.3" cy="670.5"/><circle cx="413.3" cy="735"/><circle cx="341.8" cy="577.1"/><circle cx="382.5" cy="581.6"/><circle cx="253.2" cy="605.3"/><circle cx="438.1" cy="669.8"/><circle cx="216.5" cy="626"/><circle cx="253.2" cy="550.5"/><circle cx="356.8" cy="593.9"/><circle cx="216.5" cy="633"/><circle cx="403.8" cy="690.8"/><circle cx="413.3" cy="652"/><circle cx="403.8" cy="641.8"/><circle cx="76.1" cy="657.8"/><circle cx="76.1" cy="706.2"/><circle cx="382.5" cy="646.8"/><circle cx="305" cy="573.1"/><circle cx="356.8" cy="600.5"/><circle cx="510.7" cy="656"/><circle cx="471" cy="666.5"/><circle cx="403.8" cy="621.6"/><circle cx="413.3" cy="612.5"/><circle cx="430.4" cy="663.3"/><circle cx="324.7" cy="570.2"/><circle cx="76.1" cy="638.6"/><circle cx="164.7" cy="631.8"/><circle cx="482.2" cy="601.6"/><circle cx="471" cy="654.2"/><circle cx="465.1" cy="613.9"/><circle cx="370.3" cy="728.1"/><circle cx="356.8" cy="525.8"/><circle cx="253.2" cy="620.2"/><circle cx="253.2" cy="528.3"/><circle cx="253.2" cy="611"/><circle cx="253.2" cy="563.5"/><circle cx="422.1" cy="681"/><circle cx="324.7" cy="600"/><circle cx="438.1" cy="580"/><circle cx="445.4" cy="599.4"/><circle cx="356.8" cy="580.9"/><circle cx="382.5" cy="548"/><circle cx="382.5" cy="611.7"/><circle cx="281.7" cy="609.8"/><circle cx="216.5" cy="575.3"/><circle cx="382.5" cy="652"/><circle cx="422.1" cy="626.1"/><circle cx="76.1" cy="650.2"/><circle cx="403.8" cy="713.7"/><circle cx="356.8" cy="605.6"/><circle cx="403.8" cy="611"/><circle cx="281.7" cy="591"/><circle cx="370.3" cy="647.7"/><circle cx="356.8" cy="564.3"/><circle cx="413.3" cy="537"/><circle cx="393.6" cy="631.2"/><circle cx="413.3" cy="640.3"/><circle cx="216.5" cy="556"/><circle cx="253.2" cy="615.6"/><circle cx="356.8" cy="591.3"/><circle cx="305" cy="579"/><circle cx="382.5" cy="718.6"/><circle cx="393.6" cy="688.7"/><circle cx="393.6" cy="681.4"/><circle cx="305" cy="609.9"/><circle cx="370.3" cy="725.8"/><circle cx="370.3" cy="714"/><circle cx="413.3" cy="694.3"/><circle cx="370.3" cy="629.2"/><circle cx="164.7" cy="631.2"/><circle cx="305" cy="591.9"/><circle cx="341.8" cy="608.9"/><circle cx="382.5" cy="572"/><circle cx="510.7" cy="666.5"/><circle cx="370.3" cy="716.8"/><circle cx="305" cy="614.5"/><circle cx="281.7" cy="579.9"/><circle cx="164.7" cy="831.8"/><circle cx="403.8" cy="596.1"/><circle cx="253.2" cy="599.5"/><circle cx="445.4" cy="675.2"/><circle cx="370.3" cy="604.5"/><circle cx="305" cy="617.6"/><circle cx="216.5" cy="563.1"/><circle cx="324.7" cy="776.8"/><circle cx="76.1" cy="667.6"/><circle cx="393.6" cy="637.4"/><circle cx="370.3" cy="587"/><circle cx="341.8" cy="576.8"/><circle cx="305" cy="579.9"/><circle cx="370.3" cy="626.2"/><circle cx="393.6" cy="714.8"/><circle cx="393.6" cy="583.4"/><circle cx="324.7" cy="767.1"/><circle cx="356.8" cy="513.6"/><circle cx="413.3" cy="643.4"/><circle cx="356.8" cy="595.9"/><circle cx="382.5" cy="693.2"/><circle cx="422.1" cy="557.4"/><circle cx="370.3" cy="666.2"/><circle cx="324.7" cy="630.9"/><circle cx="403.8" cy="694.9"/><circle cx="438.1" cy="686.5"/><circle cx="370.3" cy="687.8"/><circle cx="370.3" cy="595.6"/><circle cx="403.8" cy="741.4"/><circle cx="370.3" cy="633.7"/><circle cx="76.1" cy="685.2"/><circle cx="487.4" cy="594.5"/><circle cx="430.4" cy="670.8"/><circle cx="452.3" cy="699.4"/><circle cx="393.6" cy="668.9"/><circle cx="458.9" cy="593.5"/><circle cx="422.1" cy="607.5"/><circle cx="422.1" cy="656.3"/><circle cx="356.8" cy="549.6"/><circle cx="422.1" cy="635.4"/><circle cx="413.3" cy="557"/><circle cx="76.1" cy="696.6"/><circle cx="76.1" cy="692.1"/><circle cx="413.3" cy="673.6"/><circle cx="370.3" cy="590.9"/><circle cx="305" cy="530.5"/><circle cx="324.7" cy="762.3"/><circle cx="393.6" cy="733.5"/><circle cx="356.8" cy="575.2"/><circle cx="341.8" cy="745.1"/><circle cx="382.5" cy="694.6"/><circle cx="76.1" cy="583.1"/><circle cx="422.1" cy="694"/><circle cx="164.7" cy="603.8"/><circle cx="216.5" cy="626.8"/><circle cx="164.7" cy="657.8"/><circle cx="76.1" cy="599.7"/><circle cx="324.7" cy="622.5"/><circle cx="356.8" cy="558.2"/><circle cx="76.1" cy="697.2"/><circle cx="324.7" cy="774.2"/><circle cx="403.8" cy="590.9"/><circle cx="422.1" cy="562.3"/><circle cx="356.8" cy="627.3"/><circle cx="164.7" cy="591.4"/><circle cx="253.2" cy="610.7"/><circle cx="76.1" cy="672.9"/><circle cx="393.6" cy="556.5"/><circle cx="382.5" cy="712.6"/><circle cx="445.4" cy="582.6"/><circle cx="164.7" cy="529"/><circle cx="76.1" cy="589.6"/><circle cx="356.8" cy="778"/><circle cx="370.3" cy="638.5"/><circle cx="324.7" cy="617"/><circle cx="281.7" cy="540.6"/><circle cx="370.3" cy="726.8"/><circle cx="356.8" cy="581"/><circle cx="253.2" cy="536.1"/><circle cx="370.3" cy="556"/><circle cx="324.7" cy="757.3"/><circle cx="216.5" cy="636.3"/><circle cx="422.1" cy="725.8"/><circle cx="492.4" cy="641.3"/><circle cx="324.7" cy="627.4"/><circle cx="438.1" cy="556.5"/><circle cx="413.3" cy="600.4"/><circle cx="305" cy="587.6"/><circle cx="422.1" cy="642.2"/><circle cx="356.8" cy="553.6"/><circle cx="164.7" cy="622.5"/><circle cx="356.8" cy="601.5"/><circle cx="393.6" cy="693"/><circle cx="413.3" cy="609.1"/><circle cx="281.7" cy="583.7"/><circle cx="430.4" cy="629.6"/><circle cx="341.8" cy="612.9"/><circle cx="438.1" cy="681.6"/><circle cx="393.6" cy="724"/><circle cx="430.4" cy="682.7"/><circle cx="370.3" cy="721.5"/><circle cx="393.6" cy="650.4"/><circle cx="216.5" cy="604.5"/><circle cx="403.8" cy="586.2"/><circle cx="164.7" cy="656.7"/><circle cx="341.8" cy="613.1"/><circle cx="324.7" cy="564"/><circle cx="281.7" cy="590.7"/><circle cx="393.6" cy="742.3"/><circle cx="305" cy="620.2"/><circle cx="413.3" cy="689.9"/><circle cx="422.1" cy="666.5"/><circle cx="356.8" cy="619.1"/><circle cx="253.2" cy="606.4"/><circle cx="422.1" cy="655.2"/><circle cx="356.8" cy="574.9"/><circle cx="253.2" cy="813.3"/><circle cx="281.7" cy="807.4"/><circle cx="393.6" cy="611.8"/><circle cx="403.8" cy="680.8"/><circle cx="216.5" cy="640"/><circle cx="281.7" cy="567.1"/><circle cx="76.1" cy="668.4"/><circle cx="341.8" cy="602.5"/><circle cx="382.5" cy="653.8"/><circle cx="393.6" cy="645.9"/><circle cx="76.1" cy="653.1"/><circle cx="356.8" cy="561.9"/><circle cx="370.3" cy="714.4"/><circle cx="370.3" cy="651.9"/><circle cx="76.1" cy="507.6"/><circle cx="341.8" cy="617.6"/><circle cx="356.8" cy="608.2"/><circle cx="305" cy="606.9"/><circle cx="370.3" cy="667.4"/><circle cx="382.5" cy="670.6"/><circle cx="403.8" cy="592.8"/><circle cx="76.1" cy="708.7"/><circle cx="452.3" cy="655.8"/><circle cx="164.7" cy="647.9"/><circle cx="452.3" cy="681.6"/><circle cx="305" cy="814.2"/><circle cx="370.3" cy="600"/><circle cx="324.7" cy="619.3"/><circle cx="382.5" cy="655.5"/><circle cx="370.3" cy="702.5"/><circle cx="164.7" cy="619"/><circle cx="76.1" cy="513.1"/><circle cx="324.7" cy="626.8"/><circle cx="305" cy="575.8"/><circle cx="393.6" cy="595.3"/><circle cx="370.3" cy="709.6"/><circle cx="393.6" cy="697.9"/><circle cx="341.8" cy="630.9"/><circle cx="341.8" cy="599.6"/><circle cx="164.7" cy="588.7"/><circle cx="253.2" cy="799.1"/><circle cx="164.7" cy="836.6"/><circle cx="164.7" cy="622"/><circle cx="253.2" cy="601.7"/><circle cx="281.7" cy="591.6"/><circle cx="76.1" cy="693"/><circle cx="393.6" cy="654"/><circle cx="382.5" cy="600.4"/><circle cx="370.3" cy="657.8"/><circle cx="253.2" cy="616.9"/><circle cx="452.3" cy="646.1"/><circle cx="253.2" cy="795.9"/><circle cx="393.6" cy="686.1"/><circle cx="430.4" cy="684.7"/><circle cx="305" cy="564"/><circle cx="281.7" cy="599.4"/><circle cx="393.6" cy="700"/><circle cx="452.3" cy="721.9"/><circle cx="370.3" cy="693.9"/><circle cx="216.5" cy="634.4"/><circle cx="324.7" cy="632.7"/><circle cx="492.4" cy="673.5"/><circle cx="324.7" cy="632"/><circle cx="370.3" cy="684.5"/><circle cx="403.8" cy="701.4"/><circle cx="445.4" cy="657.4"/><circle cx="216.5" cy="612.9"/><circle cx="403.8" cy="609.8"/><circle cx="422.1" cy="600.9"/><circle cx="403.8" cy="720.7"/><circle cx="370.3" cy="619.9"/><circle cx="403.8" cy="699"/><circle cx="324.7" cy="596.9"/><circle cx="281.7" cy="533.8"/><circle cx="382.5" cy="664.3"/><circle cx="422.1" cy="706.8"/><circle cx="76.1" cy="644.5"/><circle cx="341.8" cy="615.8"/><circle cx="324.7" cy="607.8"/><circle cx="341.8" cy="594.2"/><circle cx="413.3" cy="678.4"/><circle cx="253.2" cy="595.1"/><circle cx="164.7" cy="660.3"/><circle cx="393.6" cy="660.2"/><circle cx="324.7" cy="754.3"/><circle cx="370.3" cy="650.3"/><circle cx="403.8" cy="624"/><circle cx="76.1" cy="612.2"/><circle cx="370.3" cy="743.2"/><circle cx="382.5" cy="690.7"/><circle cx="324.7" cy="568.9"/><circle cx="382.5" cy="619.2"/><circle cx="324.7" cy="578.9"/><circle cx="382.5" cy="735.8"/><circle cx="356.8" cy="578.3"/><circle cx="341.8" cy="750.7"/><circle cx="305" cy="564.6"/><circle cx="164.7" cy="605.4"/><circle cx="164.7" cy="834.9"/><circle cx="403.8" cy="693.3"/><circle cx="356.8" cy="622.3"/><circle cx="382.5" cy="729.7"/><circle cx="430.4" cy="592"/><circle cx="413.3" cy="604.8"/><circle cx="253.2" cy="556.9"/><circle cx="370.3" cy="610.1"/><circle cx="164.7" cy="613.5"/><circle cx="216.5" cy="831.5"/><circle cx="370.3" cy="624.1"/><circle cx="216.5" cy="595.2"/><circle cx="382.5" cy="717"/><circle cx="413.3" cy="682.3"/><circle cx="341.8" cy="573.9"/><circle cx="76.1" cy="578.8"/><circle cx="370.3" cy="678.2"/><circle cx="253.2" cy="836.2"/><circle cx="370.3" cy="635.3"/><circle cx="281.7" cy="562.2"/><circle cx="422.1" cy="678.6"/><circle cx="305" cy="562.2"/><circle cx="413.3" cy="569"/><circle cx="430.4" cy="690.4"/><circle cx="164.7" cy="622.2"/><circle cx="341.8" cy="587.3"/><circle cx="413.3" cy="588.6"/><circle cx="403.8" cy="724.5"/><circle cx="382.5" cy="621.7"/><circle cx="438.1" cy="631.1"/><circle cx="281.7" cy="587.1"/><circle cx="281.7" cy="594.7"/><circle cx="445.4" cy="529.4"/><circle cx="324.7" cy="584.6"/><circle cx="492.4" cy="678.4"/><circle cx="403.8" cy="697.2"/><circle cx="341.8" cy="629.2"/><circle cx="370.3" cy="635.8"/><circle cx="305" cy="570"/><circle cx="356.8" cy="570.3"/><circle cx="253.2" cy="500.4"/><circle cx="324.7" cy="621.8"/><circle cx="370.3" cy="649"/><circle cx="341.8" cy="819.7"/><circle cx="430.4" cy="647.3"/><circle cx="305" cy="543.7"/><circle cx="356.8" cy="614.7"/><circle cx="164.7" cy="506.2"/><circle cx="370.3" cy="708.9"/><circle cx="382.5" cy="720.7"/><circle cx="370.3" cy="647.7"/><circle cx="370.3" cy="671.9"/><circle cx="305" cy="549.5"/><circle cx="458.9" cy="659"/><circle cx="324.7" cy="609.7"/><circle cx="164.7" cy="543.6"/><circle cx="393.6" cy="700.3"/><circle cx="356.8" cy="617.3"/><circle cx="422.1" cy="671.4"/><circle cx="403.8" cy="613.1"/><circle cx="305" cy="604.4"/><circle cx="393.6" cy="678.3"/><circle cx="413.3" cy="661.8"/><circle cx="216.5" cy="632.1"/><circle cx="382.5" cy="637.9"/><circle cx="458.9" cy="654.2"/><circle cx="76.1" cy="679.4"/><circle cx="253.2" cy="582.7"/><circle cx="216.5" cy="582.3"/><circle cx="341.8" cy="575.3"/><circle cx="76.1" cy="676.4"/><circle cx="356.8" cy="757.7"/><circle cx="341.8" cy="522.4"/><circle cx="393.6" cy="749.6"/><circle cx="370.3" cy="665.6"/><circle cx="393.6" cy="704.6"/><circle cx="253.2" cy="571"/><circle cx="393.6" cy="630.4"/><circle cx="393.6" cy="768"/><circle cx="253.2" cy="565.3"/><circle cx="370.3" cy="601.4"/><circle cx="356.8" cy="573.4"/><circle cx="76.1" cy="690.4"/><circle cx="370.3" cy="740.4"/><circle cx="164.7" cy="627.3"/><circle cx="393.6" cy="663.5"/><circle cx="370.3" cy="739.3"/><circle cx="341.8" cy="578.6"/><circle cx="370.3" cy="642.7"/><circle cx="370.3" cy="661.4"/><circle cx="253.2" cy="603.6"/><circle cx="281.7" cy="583.9"/><circle cx="403.8" cy="672.2"/><circle cx="403.8" cy="698.7"/><circle cx="382.5" cy="672.4"/><circle cx="216.5" cy="637.1"/><circle cx="413.3" cy="637"/><circle cx="305" cy="597.9"/><circle cx="382.5" cy="597.7"/><circle cx="382.5" cy="592.1"/><circle cx="305" cy="596.7"/><circle cx="370.3" cy="675"/><circle cx="164.7" cy="649.8"/><circle cx="356.8" cy="610.3"/><circle cx="324.7" cy="593.2"/><circle cx="324.7" cy="615.8"/><circle cx="510.7" cy="655.2"/><circle cx="445.4" cy="664"/><circle cx="370.3" cy="593.3"/><circle cx="341.8" cy="619.3"/><circle cx="382.5" cy="677.7"/><circle cx="324.7" cy="627.8"/><circle cx="341.8" cy="746.6"/><circle cx="370.3" cy="592.9"/><circle cx="356.8" cy="599.2"/><circle cx="382.5" cy="724.5"/><circle cx="413.3" cy="705.9"/><circle cx="370.3" cy="705.5"/><circle cx="324.7" cy="562.4"/><circle cx="413.3" cy="632.1"/><circle cx="514.9" cy="673.5"/><circle cx="76.1" cy="675.9"/><circle cx="324.7" cy="578.2"/><circle cx="438.1" cy="620.3"/><circle cx="341.8" cy="603.1"/><circle cx="452.3" cy="712.9"/><circle cx="382.5" cy="726.9"/><circle cx="164.7" cy="646.4"/><circle cx="356.8" cy="603.9"/><circle cx="164.7" cy="658.3"/><circle cx="445.4" cy="630"/><circle cx="370.3" cy="757.3"/><circle cx="281.7" cy="601.6"/><circle cx="393.6" cy="665.3"/><circle cx="438.1" cy="635.6"/><circle cx="382.5" cy="662.4"/><circle cx="382.5" cy="626.1"/><circle cx="76.1" cy="682"/><circle cx="216.5" cy="638"/><circle cx="382.5" cy="710.6"/><circle cx="253.2" cy="532.1"/><circle cx="382.5" cy="657"/><circle cx="403.8" cy="644.6"/><circle cx="164.7" cy="648.2"/><circle cx="430.4" cy="638.6"/><circle cx="164.7" cy="829.3"/><circle cx="341.8" cy="597.7"/><circle cx="382.5" cy="640.5"/><circle cx="76.1" cy="608.2"/><circle cx="382.5" cy="678.3"/><circle cx="382.5" cy="674.6"/><circle cx="438.1" cy="693.6"/><circle cx="356.8" cy="746.5"/><circle cx="164.7" cy="650.6"/><circle cx="438.1" cy="657.9"/><circle cx="393.6" cy="719.8"/><circle cx="458.9" cy="696.1"/><circle cx="341.8" cy="610.3"/><circle cx="370.3" cy="533.1"/><circle cx="356.8" cy="613.5"/><circle cx="382.5" cy="767.1"/><circle cx="413.3" cy="693.6"/><circle cx="253.2" cy="603.8"/><circle cx="324.7" cy="624.7"/><circle cx="216.5" cy="584.7"/><circle cx="403.8" cy="616.9"/><circle cx="356.8" cy="584.4"/><circle cx="324.7" cy="612.5"/><circle cx="393.6" cy="603.2"/><circle cx="393.6" cy="580.4"/><circle cx="253.2" cy="579.2"/><circle cx="164.7" cy="643.7"/><circle cx="164.7" cy="836.1"/><circle cx="438.1" cy="664.8"/><circle cx="422.1" cy="613"/><circle cx="76.1" cy="593.9"/><circle cx="76.1" cy="628.4"/><circle cx="324.7" cy="752.2"/><circle cx="393.6" cy="706"/><circle cx="305" cy="585.9"/><circle cx="393.6" cy="674.3"/><circle cx="438.1" cy="687.4"/><circle cx="370.3" cy="510.7"/><circle cx="164.7" cy="582.9"/><circle cx="393.6" cy="654.7"/><circle cx="393.6" cy="721.3"/><circle cx="305" cy="506.8"/><circle cx="164.7" cy="840.1"/><circle cx="393.6" cy="723.6"/><circle cx="76.1" cy="661.5"/><circle cx="341.8" cy="630.9"/><circle cx="382.5" cy="602.6"/><circle cx="281.7" cy="574.2"/><circle cx="393.6" cy="639.4"/><circle cx="370.3" cy="753.2"/><circle cx="356.8" cy="530.3"/><circle cx="413.3" cy="621.1"/><circle cx="305" cy="584.6"/><circle cx="370.3" cy="735.4"/><circle cx="253.2" cy="612.6"/><circle cx="253.2" cy="563.3"/><circle cx="370.3" cy="734.2"/><circle cx="382.5" cy="735"/><circle cx="465.1" cy="641.3"/><circle cx="216.5" cy="581.7"/><circle cx="216.5" cy="814.5"/><circle cx="305" cy="604.6"/><circle cx="422.1" cy="687.2"/><circle cx="382.5" cy="590.6"/><circle cx="370.3" cy="564.2"/><circle cx="382.5" cy="695.7"/><circle cx="370.3" cy="612.6"/><circle cx="413.3" cy="639.3"/><circle cx="305" cy="526.4"/><circle cx="382.5" cy="698.8"/><circle cx="370.3" cy="691.1"/><circle cx="341.8" cy="581.6"/><circle cx="438.1" cy="712.3"/><circle cx="370.3" cy="723.4"/><circle cx="422.1" cy="616.8"/><circle cx="76.1" cy="708.6"/><circle cx="216.5" cy="639.9"/><circle cx="370.3" cy="684.9"/><circle cx="76.1" cy="670.5"/><circle cx="403.8" cy="679.3"/><circle cx="216.5" cy="594.4"/><circle cx="216.5" cy="578.2"/><circle cx="370.3" cy="636"/><circle cx="253.2" cy="592.9"/><circle cx="305" cy="621.3"/><circle cx="422.1" cy="650"/><circle cx="403.8" cy="703.7"/><circle cx="370.3" cy="659"/><circle cx="281.7" cy="593.2"/><circle cx="281.7" cy="607.7"/><circle cx="430.4" cy="652.5"/><circle cx="324.7" cy="601.4"/><circle cx="216.5" cy="609.6"/><circle cx="438.1" cy="659"/><circle cx="164.7" cy="644.7"/><circle cx="305" cy="582.4"/><circle cx="370.3" cy="655.5"/><circle cx="164.7" cy="661.9"/><circle cx="403.8" cy="640"/><circle cx="253.2" cy="518.7"/><circle cx="445.4" cy="644.5"/><circle cx="76.1" cy="618.1"/><circle cx="164.7" cy="626.8"/><circle cx="370.3" cy="610.4"/><circle cx="324.7" cy="592.4"/><circle cx="403.8" cy="728.6"/><circle cx="216.5" cy="631.4"/><circle cx="281.7" cy="549.7"/><circle cx="356.8" cy="626.3"/><circle cx="393.6" cy="597.2"/><circle cx="430.4" cy="676.9"/><circle cx="458.9" cy="686.5"/><circle cx="76.1" cy="632.1"/><circle cx="403.8" cy="682.7"/><circle cx="422.1" cy="550.3"/><circle cx="370.3" cy="717.2"/><circle cx="164.7" cy="655.8"/><circle cx="216.5" cy="598.7"/><circle cx="370.3" cy="580"/><circle cx="76.1" cy="703.9"/><circle cx="281.7" cy="597.3"/><circle cx="370.3" cy="672.6"/><circle cx="281.7" cy="800.1"/><circle cx="76.1" cy="690.9"/><circle cx="370.3" cy="629.4"/><circle cx="382.5" cy="718.9"/><circle cx="382.5" cy="646.2"/><circle cx="413.3" cy="713.1"/><circle cx="324.7" cy="573.9"/><circle cx="216.5" cy="621.8"/><circle cx="403.8" cy="712.9"/><circle cx="356.8" cy="589.8"/><circle cx="76.1" cy="661.7"/><circle cx="438.1" cy="618.7"/><circle cx="164.7" cy="607.1"/><circle cx="393.6" cy="622.8"/><circle cx="430.4" cy="568.7"/><circle cx="382.5" cy="583.8"/><circle cx="403.8" cy="666.4"/><circle cx="76.1" cy="598.5"/><circle cx="422.1" cy="663.9"/><circle cx="324.7" cy="587"/><circle cx="422.1" cy="620.7"/><circle cx="164.7" cy="658.2"/><circle cx="356.8" cy="622.6"/><circle cx="422.1" cy="696.5"/><circle cx="393.6" cy="597.4"/><circle cx="341.8" cy="614.6"/><circle cx="341.8" cy="627.4"/><circle cx="305" cy="555.9"/><circle cx="413.3" cy="627.4"/><circle cx="281.7" cy="817.1"/><circle cx="76.1" cy="641.2"/><circle cx="382.5" cy="735.5"/><circle cx="164.7" cy="617.4"/><circle cx="403.8" cy="731.7"/><circle cx="370.3" cy="539.5"/><circle cx="216.5" cy="624.6"/><circle cx="458.9" cy="666.5"/><circle cx="370.3" cy="574.2"/><circle cx="438.1" cy="704.4"/><circle cx="76.1" cy="621.7"/><circle cx="430.4" cy="698.1"/><circle cx="370.3" cy="676.3"/><circle cx="305" cy="583.8"/><circle cx="216.5" cy="574.9"/><circle cx="216.5" cy="620.1"/><circle cx="452.3" cy="705.8"/><circle cx="216.5" cy="818.9"/><circle cx="422.1" cy="630.6"/><circle cx="324.7" cy="620.1"/><circle cx="281.7" cy="558.6"/><circle cx="370.3" cy="615.9"/><circle cx="253.2" cy="611.5"/><circle cx="216.5" cy="584.7"/><circle cx="76.1" cy="615.2"/><circle cx="403.8" cy="727.9"/><circle cx="356.8" cy="534"/><circle cx="430.4" cy="650.5"/><circle cx="76.1" cy="695.4"/><circle cx="253.2" cy="546.5"/><circle cx="341.8" cy="623.9"/><circle cx="393.6" cy="608.1"/><circle cx="393.6" cy="696.4"/><circle cx="370.3" cy="657.4"/><circle cx="382.5" cy="665.7"/><circle cx="253.2" cy="793.3"/><circle cx="382.5" cy="611.2"/><circle cx="497.2" cy="640.6"/><circle cx="393.6" cy="613"/><circle cx="476.7" cy="643.9"/><circle cx="370.3" cy="641.1"/><circle cx="281.7" cy="602.3"/><circle cx="324.7" cy="616.9"/><circle cx="324.7" cy="557.8"/><circle cx="281.7" cy="528"/><circle cx="324.7" cy="555.6"/><circle cx="164.7" cy="841.2"/><circle cx="430.4" cy="658.7"/><circle cx="482.2" cy="656.8"/><circle cx="393.6" cy="612.7"/><circle cx="281.7" cy="570.9"/><circle cx="403.8" cy="683.6"/><circle cx="403.8" cy="745.7"/><circle cx="403.8" cy="673.1"/><circle cx="403.8" cy="710.8"/><circle cx="281.7" cy="555.1"/><circle cx="382.5" cy="624.1"/><circle cx="382.5" cy="632.8"/><circle cx="305" cy="793.7"/><circle cx="382.5" cy="683.5"/><circle cx="341.8" cy="752"/><circle cx="471" cy="683.2"/><circle cx="393.6" cy="661.3"/><circle cx="403.8" cy="645.5"/><circle cx="370.3" cy="734.8"/><circle cx="305" cy="614.4"/><circle cx="445.4" cy="691.3"/><circle cx="341.8" cy="622.4"/><circle cx="281.7" cy="589.9"/><circle cx="164.7" cy="540"/><circle cx="370.3" cy="685.4"/><circle cx="370.3" cy="690.1"/><circle cx="445.4" cy="563.2"/><circle cx="430.4" cy="607"/><circle cx="413.3" cy="563"/><circle cx="356.8" cy="586.4"/><circle cx="393.6" cy="619.2"/><circle cx="324.7" cy="528.3"/><circle cx="393.6" cy="727.7"/><circle cx="403.8" cy="653.9"/><circle cx="164.7" cy="611.6"/><circle cx="164.7" cy="634.2"/><circle cx="413.3" cy="717.8"/><circle cx="76.1" cy="673.9"/><circle cx="393.6" cy="676"/><circle cx="403.8" cy="662.6"/><circle cx="253.2" cy="587.6"/><circle cx="476.7" cy="689.7"/><circle cx="413.3" cy="682"/><circle cx="370.3" cy="626"/><circle cx="341.8" cy="626.7"/><circle cx="76.1" cy="681.4"/><circle cx="422.1" cy="693.9"/><circle cx="413.3" cy="626.1"/><circle cx="253.2" cy="595.8"/><circle cx="393.6" cy="615"/><circle cx="370.3" cy="581"/><circle cx="216.5" cy="611.4"/><circle cx="370.3" cy="632.1"/><circle cx="403.8" cy="670.6"/><circle cx="253.2" cy="600.9"/><circle cx="413.3" cy="597.2"/><circle cx="413.3" cy="709.1"/><circle cx="430.4" cy="672.3"/><circle cx="356.8" cy="628.1"/><circle cx="393.6" cy="663"/><circle cx="76.1" cy="613.6"/><circle cx="341.8" cy="761.2"/><circle cx="393.6" cy="674.1"/><circle cx="370.3" cy="589.7"/><circle cx="482.2" cy="631.6"/><circle cx="216.5" cy="569"/><circle cx="341.8" cy="581.5"/><circle cx="216.5" cy="619.5"/><circle cx="324.7" cy="612.9"/><circle cx="382.5" cy="707.9"/><circle cx="403.8" cy="600.9"/><circle cx="324.7" cy="542"/><circle cx="393.6" cy="626.8"/><circle cx="164.7" cy="639.8"/><circle cx="438.1" cy="742.3"/><circle cx="324.7" cy="537.4"/><circle cx="324.7" cy="746.8"/><circle cx="370.3" cy="619"/><circle cx="253.2" cy="573.2"/><circle cx="382.5" cy="604.8"/><circle cx="393.6" cy="686.6"/><circle cx="305" cy="618.3"/><circle cx="403.8" cy="688.3"/><circle cx="216.5" cy="540"/><circle cx="253.2" cy="586.1"/><circle cx="403.8" cy="603.8"/><circle cx="356.8" cy="756"/><circle cx="76.1" cy="527.4"/><circle cx="341.8" cy="589"/><circle cx="216.5" cy="578.1"/><circle cx="253.2" cy="808.4"/><circle cx="382.5" cy="639"/><circle cx="382.5" cy="700.2"/><circle cx="253.2" cy="554.8"/><circle cx="305" cy="596.4"/><circle cx="430.4" cy="645.9"/><circle cx="76.1" cy="648.6"/><circle cx="341.8" cy="764.3"/><circle cx="370.3" cy="598.4"/><circle cx="324.7" cy="596.9"/><circle cx="370.3" cy="699.9"/><circle cx="370.3" cy="723.2"/><circle cx="324.7" cy="758.2"/><circle cx="253.2" cy="590.1"/><circle cx="393.6" cy="621.5"/><circle cx="370.3" cy="543.8"/><circle cx="76.1" cy="593.5"/><circle cx="476.7" cy="697.7"/><circle cx="324.7" cy="609.3"/><circle cx="253.2" cy="572.6"/><circle cx="370.3" cy="726.6"/><circle cx="356.8" cy="631.2"/><circle cx="281.7" cy="609.4"/><circle cx="164.7" cy="849.8"/><circle cx="370.3" cy="688.7"/><circle cx="356.8" cy="617"/><circle cx="324.7" cy="605.3"/><circle cx="403.8" cy="651"/><circle cx="164.7" cy="638.4"/><circle cx="324.7" cy="604.3"/><circle cx="370.3" cy="697.3"/><circle cx="356.8" cy="629.6"/><circle cx="382.5" cy="585.2"/><circle cx="305" cy="501.9"/><circle cx="413.3" cy="592.5"/><circle cx="438.1" cy="681"/><circle cx="506.3" cy="672"/><circle cx="370.3" cy="649"/><circle cx="393.6" cy="684.1"/><circle cx="164.7" cy="508.8"/><circle cx="413.3" cy="627.7"/><circle cx="324.7" cy="758.7"/><circle cx="164.7" cy="573"/><circle cx="341.8" cy="747.8"/><circle cx="164.7" cy="576.6"/><circle cx="370.3" cy="680.5"/><circle cx="413.3" cy="646.9"/><circle cx="341.8" cy="570.2"/><circle cx="382.5" cy="682"/><circle cx="281.7" cy="547.5"/><circle cx="382.5" cy="644.1"/><circle cx="76.1" cy="664.2"/><circle cx="438.1" cy="646"/><circle cx="76.1" cy="664.4"/><circle cx="216.5" cy="597.6"/><circle cx="324.7" cy="769.8"/><circle cx="382.5" cy="609.7"/><circle cx="216.5" cy="618"/><circle cx="403.8" cy="661.9"/><circle cx="253.2" cy="622.1"/><circle cx="413.3" cy="661.3"/><circle cx="356.8" cy="614.2"/><circle cx="76.1" cy="611.9"/><circle cx="76.1" cy="710.8"/><circle cx="382.5" cy="685.9"/><circle cx="216.5" cy="602.4"/><circle cx="382.5" cy="614.6"/><circle cx="403.8" cy="722.3"/><circle cx="370.3" cy="615.1"/><circle cx="253.2" cy="589.4"/><circle cx="253.2" cy="560.4"/><circle cx="382.5" cy="699.6"/><circle cx="430.4" cy="702"/><circle cx="305" cy="574"/><circle cx="76.1" cy="689.7"/><circle cx="76.1" cy="684.6"/><circle cx="76.1" cy="628.1"/><circle cx="370.3" cy="731.5"/><circle cx="370.3" cy="507.7"/><circle cx="324.7" cy="534.2"/><circle cx="382.5" cy="645.6"/><circle cx="370.3" cy="618.9"/><circle cx="76.1" cy="636.1"/><circle cx="382.5" cy="727.2"/><circle cx="370.3" cy="703.5"/><circle cx="164.7" cy="604"/><circle cx="164.7" cy="637.1"/><circle cx="341.8" cy="618.2"/><circle cx="413.3" cy="695.9"/><circle cx="216.5" cy="587.3"/><circle cx="76.1" cy="655.9"/><circle cx="356.8" cy="541.2"/><circle cx="382.5" cy="518.7"/><circle cx="341.8" cy="591.5"/><circle cx="382.5" cy="689.2"/><circle cx="76.1" cy="584"/><circle cx="216.5" cy="571.4"/><circle cx="382.5" cy="642.3"/><circle cx="76.1" cy="641.9"/><circle cx="216.5" cy="629.1"/><circle cx="356.8" cy="743.3"/><circle cx="164.7" cy="597.9"/><circle cx="487.4" cy="636.5"/><circle cx="393.6" cy="737.6"/><circle cx="76.1" cy="621.6"/><circle cx="393.6" cy="640.9"/><circle cx="341.8" cy="606.4"/><circle cx="305" cy="604.5"/><circle cx="382.5" cy="682.4"/><circle cx="305" cy="600.3"/><circle cx="76.1" cy="694.5"/><circle cx="305" cy="541.5"/><circle cx="164.7" cy="581.1"/><circle cx="382.5" cy="675.9"/><circle cx="393.6" cy="647.3"/><circle cx="413.3" cy="617.4"/><circle cx="253.2" cy="568.7"/><circle cx="253.2" cy="601.8"/><circle cx="305" cy="595"/><circle cx="413.3" cy="667.9"/><circle cx="370.3" cy="697.4"/><circle cx="393.6" cy="618.9"/><circle cx="164.7" cy="640.4"/><circle cx="356.8" cy="781"/><circle cx="403.8" cy="631.8"/><circle cx="341.8" cy="621.8"/><circle cx="305" cy="578.1"/><circle cx="253.2" cy="598.1"/><circle cx="393.6" cy="608.8"/><circle cx="281.7" cy="521.5"/><circle cx="403.8" cy="658.5"/><circle cx="253.2" cy="617.3"/><circle cx="370.3" cy="747.1"/><circle cx="370.3" cy="570.8"/><circle cx="393.6" cy="565"/><circle cx="370.3" cy="689.6"/><circle cx="253.2" cy="623.1"/><circle cx="164.7" cy="651.9"/><circle cx="76.1" cy="653.7"/><circle cx="216.5" cy="569.8"/><circle cx="76.1" cy="631.2"/><circle cx="164.7" cy="827.4"/><circle cx="403.8" cy="674.2"/><circle cx="356.8" cy="619.7"/><circle cx="324.7" cy="608.3"/><circle cx="413.3" cy="700.5"/><circle cx="305" cy="788.9"/><circle cx="253.2" cy="581.4"/><circle cx="452.3" cy="675.2"/><circle cx="438.1" cy="647.2"/><circle cx="356.8" cy="611.6"/><circle cx="324.7" cy="771.9"/><circle cx="476.7" cy="618.7"/><circle cx="324.7" cy="573.2"/><circle cx="413.3" cy="598.9"/><circle cx="403.8" cy="582.7"/><circle cx="403.8" cy="641.4"/><circle cx="393.6" cy="642.3"/><circle cx="216.5" cy="566"/><circle cx="382.5" cy="762.3"/><circle cx="356.8" cy="568.2"/><circle cx="305" cy="591.4"/><circle cx="164.7" cy="614.1"/><circle cx="422.1" cy="651.9"/><circle cx="305" cy="611.4"/><circle cx="370.3" cy="631.5"/><circle cx="413.3" cy="676.8"/><circle cx="422.1" cy="768"/><circle cx="413.3" cy="634.8"/><circle cx="370.3" cy="637.8"/><circle cx="253.2" cy="539.6"/><circle cx="164.7" cy="660.7"/><circle cx="393.6" cy="744.6"/><circle cx="413.3" cy="622.2"/><circle cx="370.3" cy="606.7"/><circle cx="216.5" cy="608.2"/><circle cx="216.5" cy="614"/><circle cx="341.8" cy="589"/><circle cx="370.3" cy="662.1"/><circle cx="324.7" cy="624.6"/><circle cx="476.7" cy="634.2"/><circle cx="422.1" cy="623"/><circle cx="341.8" cy="752.1"/><circle cx="281.7" cy="585.2"/><circle cx="305" cy="569.5"/><circle cx="281.7" cy="577.8"/><circle cx="382.5" cy="748"/><circle cx="356.8" cy="537.9"/><circle cx="458.9" cy="622"/><circle cx="413.3" cy="615.1"/><circle cx="382.5" cy="634.6"/><circle cx="76.1" cy="698.5"/><circle cx="438.1" cy="696.8"/><circle cx="356.8" cy="631.6"/><circle cx="393.6" cy="630.7"/><circle cx="356.8" cy="744.8"/><circle cx="253.2" cy="593.1"/><circle cx="216.5" cy="630.4"/><circle cx="403.8" cy="670.6"/><circle cx="281.7" cy="512"/><circle cx="370.3" cy="693"/><circle cx="382.5" cy="715.1"/><circle cx="76.1" cy="623.1"/><circle cx="341.8" cy="610.1"/><circle cx="324.7" cy="543.7"/><circle cx="164.7" cy="521.6"/><circle cx="382.5" cy="660.8"/><circle cx="281.7" cy="595"/><circle cx="216.5" cy="599.8"/><circle cx="216.5" cy="521.6"/><circle cx="216.5" cy="595.2"/><circle cx="216.5" cy="601.1"/><circle cx="382.5" cy="588.7"/><circle cx="393.6" cy="681.6"/><circle cx="370.3" cy="620.8"/><circle cx="341.8" cy="621"/><circle cx="422.1" cy="611.8"/><circle cx="370.3" cy="567.4"/><circle cx="393.6" cy="697.7"/><circle cx="413.3" cy="629.9"/><circle cx="393.6" cy="731.2"/><circle cx="305" cy="593.2"/><circle cx="393.6" cy="511.3"/><circle cx="356.8" cy="622.6"/><circle cx="438.1" cy="653.9"/><circle cx="216.5" cy="599.6"/><circle cx="356.8" cy="752.6"/><circle cx="382.5" cy="706.4"/><circle cx="403.8" cy="618.4"/><circle cx="341.8" cy="565.6"/><circle cx="356.8" cy="602.1"/><circle cx="370.3" cy="720.4"/><circle cx="393.6" cy="712.5"/><circle cx="403.8" cy="737.5"/><circle cx="403.8" cy="634.5"/><circle cx="281.7" cy="610.8"/><circle cx="253.2" cy="815.6"/><circle cx="164.7" cy="652"/><circle cx="492.4" cy="589.7"/><circle cx="403.8" cy="676.9"/><circle cx="422.1" cy="640.3"/><circle cx="430.4" cy="612"/><circle cx="305" cy="556.7"/><circle cx="253.2" cy="796.1"/><circle cx="356.8" cy="586"/><circle cx="356.8" cy="607.7"/><circle cx="281.7" cy="602.9"/><circle cx="216.5" cy="617.8"/><circle cx="253.2" cy="569.3"/><circle cx="253.2" cy="608.6"/><circle cx="216.5" cy="826"/><circle cx="164.7" cy="641.6"/><circle cx="76.1" cy="702.2"/><circle cx="471" cy="659"/><circle cx="324.7" cy="551.9"/><circle cx="403.8" cy="649.3"/><circle cx="341.8" cy="559"/><circle cx="413.3" cy="671.9"/><circle cx="422.1" cy="602.7"/><circle cx="324.7" cy="602.3"/><circle cx="253.2" cy="576"/><circle cx="356.8" cy="598.4"/><circle cx="370.3" cy="709.8"/><circle cx="281.7" cy="605.7"/><circle cx="370.3" cy="720.9"/><circle cx="501.9" cy="642.9"/><circle cx="164.7" cy="556.4"/><circle cx="253.2" cy="618.8"/><circle cx="76.1" cy="705.6"/><circle cx="281.7" cy="563.3"/><circle cx="422.1" cy="675.4"/><circle cx="438.1" cy="601"/><circle cx="164.7" cy="826.6"/><circle cx="370.3" cy="682.7"/><circle cx="76.1" cy="603.7"/><circle cx="403.8" cy="706.6"/><circle cx="413.3" cy="698.3"/><circle cx="413.3" cy="688.8"/><circle cx="324.7" cy="750.2"/><circle cx="324.7" cy="587"/><circle cx="422.1" cy="684.1"/><circle cx="164.7" cy="600.1"/><circle cx="393.6" cy="714.6"/><circle cx="370.3" cy="617.7"/><circle cx="413.3" cy="655"/><circle cx="393.6" cy="589"/><circle cx="382.5" cy="702"/><circle cx="324.7" cy="605.8"/><circle cx="370.3" cy="694.9"/><circle cx="76.1" cy="709.9"/><circle cx="253.2" cy="580.7"/><circle cx="253.2" cy="795.4"/><circle cx="164.7" cy="647.3"/><circle cx="370.3" cy="603.9"/><circle cx="382.5" cy="633.5"/><circle cx="370.3" cy="679"/><circle cx="341.8" cy="606.1"/><circle cx="370.3" cy="700.1"/><circle cx="422.1" cy="504"/><circle cx="216.5" cy="561"/><circle cx="382.5" cy="543"/><circle cx="370.3" cy="582.1"/><circle cx="356.8" cy="589"/><circle cx="370.3" cy="529.2"/><circle cx="413.3" cy="644.6"/><circle cx="216.5" cy="508.8"/><circle cx="164.7" cy="844.6"/><circle cx="216.5" cy="812.9"/><circle cx="382.5" cy="604.1"/><circle cx="413.3" cy="604.9"/><circle cx="403.8" cy="716.8"/><circle cx="305" cy="566.5"/><circle cx="281.7" cy="803"/><circle cx="370.3" cy="652"/><circle cx="403.8" cy="658.2"/><circle cx="403.8" cy="685.6"/><circle cx="356.8" cy="749.7"/><circle cx="422.1" cy="688.4"/><circle cx="370.3" cy="730.6"/><circle cx="393.6" cy="658.8"/><circle cx="413.3" cy="662.3"/><circle cx="413.3" cy="617.7"/><circle cx="403.8" cy="716.4"/><circle cx="370.3" cy="597.8"/><circle cx="430.4" cy="661.9"/><circle cx="403.8" cy="662"/><circle cx="341.8" cy="771.3"/><circle cx="281.7" cy="535.6"/><circle cx="422.1" cy="630.3"/><circle cx="422.1" cy="716.6"/><circle cx="341.8" cy="537"/><circle cx="430.4" cy="667.6"/><circle cx="281.7" cy="558.7"/><circle cx="422.1" cy="581.6"/><circle cx="393.6" cy="637.5"/><circle cx="452.3" cy="615.5"/><circle cx="465.1" cy="647.7"/><circle cx="471" cy="626.8"/><circle cx="413.3" cy="606.7"/><circle cx="305" cy="793.6"/><circle cx="76.1" cy="602"/><circle cx="403.8" cy="701.6"/><circle cx="305" cy="608.7"/><circle cx="370.3" cy="521.1"/><circle cx="370.3" cy="693.3"/><circle cx="305" cy="620.2"/><circle cx="324.7" cy="629.1"/><circle cx="281.7" cy="573.6"/><circle cx="422.1" cy="715.1"/><circle cx="341.8" cy="624.9"/><circle cx="76.1" cy="658.4"/><circle cx="356.8" cy="621.4"/><circle cx="438.1" cy="590"/><circle cx="164.7" cy="562"/><circle cx="164.7" cy="600.4"/><circle cx="382.5" cy="707.7"/><circle cx="403.8" cy="624.7"/><circle cx="281.7" cy="613.3"/><circle cx="341.8" cy="584.7"/><circle cx="253.2" cy="513.7"/><circle cx="341.8" cy="552"/><circle cx="76.1" cy="696.6"/><circle cx="370.3" cy="657.1"/><circle cx="281.7" cy="578.2"/><circle cx="370.3" cy="728.5"/><circle cx="216.5" cy="815.6"/><circle cx="324.7" cy="619"/><circle cx="76.1" cy="649.2"/><circle cx="370.3" cy="681.8"/><circle cx="370.3" cy="585.8"/><circle cx="382.5" cy="606"/><circle cx="324.7" cy="590.3"/><circle cx="430.4" cy="693.9"/><circle cx="492.4" cy="660.6"/><circle cx="281.7" cy="607.9"/><circle cx="164.7" cy="532.6"/><circle cx="305" cy="560"/><circle cx="514.9" cy="637.1"/><circle cx="356.8" cy="552.4"/><circle cx="393.6" cy="588.7"/><circle cx="370.3" cy="663.4"/><circle cx="76.1" cy="666"/><circle cx="164.7" cy="629.8"/><circle cx="341.8" cy="604.9"/><circle cx="438.1" cy="676.3"/><circle cx="393.6" cy="652.1"/><circle cx="413.3" cy="664.4"/><circle cx="393.6" cy="669.2"/><circle cx="430.4" cy="643.1"/><circle cx="164.7" cy="635.5"/><circle cx="430.4" cy="656.1"/><circle cx="324.7" cy="581.6"/><circle cx="382.5" cy="601.5"/><circle cx="430.4" cy="635.5"/><circle cx="76.1" cy="653.3"/><circle cx="253.2" cy="821.3"/><circle cx="253.2" cy="614.1"/><circle cx="281.7" cy="605.3"/><circle cx="281.7" cy="554.9"/><circle cx="382.5" cy="731.3"/><circle cx="253.2" cy="803.5"/><circle cx="216.5" cy="642.9"/><circle cx="76.1" cy="680.5"/><circle cx="382.5" cy="658.9"/><circle cx="281.7" cy="503.3"/><circle cx="356.8" cy="544.2"/><circle cx="422.1" cy="637.4"/><circle cx="422.1" cy="668.4"/><circle cx="422.1" cy="645.2"/><circle cx="370.3" cy="672.4"/><circle cx="370.3" cy="646.5"/><circle cx="422.1" cy="673.9"/><circle cx="370.3" cy="552.8"/><circle cx="76.1" cy="633.2"/><circle cx="216.5" cy="608.2"/><circle cx="393.6" cy="632.7"/><circle cx="281.7" cy="568.1"/><circle cx="422.1" cy="705.3"/><circle cx="382.5" cy="624.3"/><circle cx="403.8" cy="707.5"/><circle cx="76.1" cy="625.3"/><circle cx="253.2" cy="523"/><circle cx="370.3" cy="576.7"/><circle cx="393.6" cy="709.1"/><circle cx="370.3" cy="548.5"/><circle cx="76.1" cy="686.4"/><circle cx="403.8" cy="634.2"/><circle cx="305" cy="616.4"/><circle cx="465.1" cy="592.3"/><circle cx="382.5" cy="617.3"/><circle cx="382.5" cy="683.7"/><circle cx="438.1" cy="641.3"/><circle cx="164.7" cy="518"/><circle cx="382.5" cy="614.8"/><circle cx="393.6" cy="673.4"/><circle cx="356.8" cy="614.5"/><circle cx="216.5" cy="581.4"/><circle cx="403.8" cy="603.8"/><circle cx="476.7" cy="681.6"/><circle cx="370.3" cy="712.7"/><circle cx="324.7" cy="580.8"/><circle cx="382.5" cy="641.7"/><circle cx="370.3" cy="641.1"/><circle cx="403.8" cy="635.5"/><circle cx="413.3" cy="591.9"/><circle cx="341.8" cy="756.5"/><circle cx="393.6" cy="600.4"/><circle cx="341.8" cy="593.6"/><circle cx="382.5" cy="669.8"/><circle cx="305" cy="603.4"/><circle cx="324.7" cy="780.2"/><circle cx="382.5" cy="631.9"/><circle cx="341.8" cy="743.1"/><circle cx="403.8" cy="685"/><circle cx="370.3" cy="625"/><circle cx="452.3" cy="596.1"/><circle cx="393.6" cy="622.7"/><circle cx="341.8" cy="531"/><circle cx="216.5" cy="603.3"/><circle cx="403.8" cy="665.4"/><circle cx="465.1" cy="671.3"/><circle cx="76.1" cy="645.7"/><circle cx="370.3" cy="655.5"/><circle cx="370.3" cy="678.1"/><circle cx="438.1" cy="611.5"/><circle cx="253.2" cy="805.9"/><circle cx="324.7" cy="752.3"/><circle cx="370.3" cy="614.6"/><circle cx="370.3" cy="661.3"/><circle cx="164.7" cy="615.3"/><circle cx="216.5" cy="590.4"/><circle cx="393.6" cy="602.2"/><circle cx="76.1" cy="711.5"/><circle cx="164.7" cy="608.3"/><circle cx="370.3" cy="708.8"/><circle cx="382.5" cy="666.8"/><circle cx="76.1" cy="647.2"/><circle cx="382.5" cy="630.2"/><circle cx="324.7" cy="516.5"/><circle cx="430.4" cy="686.9"/><circle cx="76.1" cy="702.3"/><circle cx="216.5" cy="501.5"/><circle cx="341.8" cy="603.3"/><circle cx="370.3" cy="713.9"/><circle cx="382.5" cy="668"/><circle cx="356.8" cy="568.1"/><circle cx="382.5" cy="688.8"/><circle cx="403.8" cy="690.9"/><circle cx="356.8" cy="605.3"/><circle cx="413.3" cy="659.5"/><circle cx="413.3" cy="670.7"/><circle cx="382.5" cy="595.3"/><circle cx="422.1" cy="661.6"/><circle cx="370.3" cy="716"/><circle cx="430.4" cy="709.4"/><circle cx="253.2" cy="587.3"/><circle cx="253.2" cy="801.5"/><circle cx="305" cy="600.1"/><circle cx="324.7" cy="549.4"/><circle cx="393.6" cy="635.6"/><circle cx="393.6" cy="669.8"/><circle cx="403.8" cy="655.6"/><circle cx="393.6" cy="657.3"/><circle cx="281.7" cy="580.6"/><circle cx="356.8" cy="627.8"/><circle cx="253.2" cy="576.2"/><circle cx="253.2" cy="583.1"/><circle cx="324.7" cy="783.7"/><circle cx="164.7" cy="626.6"/><circle cx="430.4" cy="626.3"/><circle cx="438.1" cy="626.8"/><circle cx="413.3" cy="684.5"/><circle cx="370.3" cy="621.6"/><circle cx="216.5" cy="639.7"/><circle cx="281.7" cy="575.6"/><circle cx="253.2" cy="542.8"/><circle cx="445.4" cy="696.1"/><circle cx="393.6" cy="523.5"/><circle cx="76.1" cy="703.8"/><circle cx="413.3" cy="645.8"/><circle cx="393.6" cy="573.5"/><circle cx="281.7" cy="606.6"/><circle cx="393.6" cy="691"/><circle cx="356.8" cy="744.7"/><circle cx="370.3" cy="677.4"/><circle cx="305" cy="586.7"/><circle cx="403.8" cy="648"/><circle cx="370.3" cy="641.1"/><circle cx="452.3" cy="610.6"/><circle cx="422.1" cy="710.9"/><circle cx="253.2" cy="803.6"/><circle cx="382.5" cy="622.3"/><circle cx="370.3" cy="606.9"/><circle cx="370.3" cy="700.6"/><circle cx="253.2" cy="549.5"/></g><path d="M77.2 766.4 95.4 759.5 113.6 752.7 131.8 745.8 150.1 738.9 168.3 732.1 186.5 725.2 204.7 718.4 223 711.6 241.2 704.8 259.5 698 277.7 691.3 296 684.6 314.3 677.9 332.6 671.3 350.9 664.7 369.3 658.2 387.6 651.6 405.9 645.1 424.3 638.6 442.6 632.1 461 625.6 479.3 619.1 497.7 612.7 516.1 606.2 513.7 599.8 495.5 606.7 477.3 613.6 459.1 620.5 440.9 627.4 422.7 634.2 404.5 641.1 386.2 647.9 368 654.8 349.8 661.6 331.5 668.3 313.3 675.1 295 681.8 276.7 688.5 258.4 695.1 240.1 701.7 221.8 708.3 203.4 714.8 185.1 721.4 166.8 727.9 148.4 734.4 130.1 740.9 111.7 747.4 93.4 753.9 75 760.4Z" fill="#B4C0CC" fill-opacity="0.45"/><line x1="76.1" y1="763.4" x2="514.9" y2="603" stroke="#000" stroke-width="4.4" stroke-dasharray="16.9 16.7"/><path d="M48.1 855.5H53.8M48.1 819.1H53.8M48.1 782.7H53.8M48.1 746.2H53.8M48.1 709.8H53.8M48.1 673.4H53.8M48.1 637H53.8M48.1 600.6H53.8M48.1 564.1H53.8M48.1 527.7H53.8M48.1 491.3H53.8M76.1 872.7V879.1M140 872.7V879.1M203.9 872.7V879.1M267.8 872.7V879.1M331.6 872.7V879.1M395.5 872.7V879.1M459.4 872.7V879.1M523.3 872.7V879.1" stroke="#333" stroke-width="2.2" fill="none"/><text x="44" y="861.1" text-anchor="end" font-size="15.6" fill="#111" stroke="#111" stroke-width="0.3">1</text><text x="44" y="824.7" text-anchor="end" font-size="15.6" fill="#111" stroke="#111" stroke-width="0.3">2</text><text x="44" y="788.3" text-anchor="end" font-size="15.6" fill="#111" stroke="#111" stroke-width="0.3">3</text><text x="44" y="751.8" text-anchor="end" font-size="15.6" fill="#111" stroke="#111" stroke-width="0.3">4</text><text x="44" y="715.4" text-anchor="end" font-size="15.6" fill="#111" stroke="#111" stroke-width="0.3">5</text><text x="44" y="679" text-anchor="end" font-size="15.6" fill="#111" stroke="#111" stroke-width="0.3">6</text><text x="44" y="642.6" text-anchor="end" font-size="15.6" fill="#111" stroke="#111" stroke-width="0.3">7</text><text x="44" y="606.2" text-anchor="end" font-size="15.6" fill="#111" stroke="#111" stroke-width="0.3">8</text><text x="44" y="569.7" text-anchor="end" font-size="15.6" fill="#111" stroke="#111" stroke-width="0.3">9</text><text x="44" y="533.3" text-anchor="end" font-size="15.6" fill="#111" stroke="#111" stroke-width="0.3">10</text><text x="44" y="496.9" text-anchor="end" font-size="15.6" fill="#111" stroke="#111" stroke-width="0.3">11</text><text x="76.1" y="895.2" text-anchor="middle" font-size="15.6" fill="#111" stroke="#111" stroke-width="0.3">0.0</text><text x="140" y="895.2" text-anchor="middle" font-size="15.6" fill="#111" stroke="#111" stroke-width="0.3">0.5</text><text x="203.9" y="895.2" text-anchor="middle" font-size="15.6" fill="#111" stroke="#111" stroke-width="0.3">1.0</text><text x="267.8" y="895.2" text-anchor="middle" font-size="15.6" fill="#111" stroke="#111" stroke-width="0.3">1.5</text><text x="331.6" y="895.2" text-anchor="middle" font-size="15.6" fill="#111" stroke="#111" stroke-width="0.3">2.0</text><text x="395.5" y="895.2" text-anchor="middle" font-size="15.6" fill="#111" stroke="#111" stroke-width="0.3">2.5</text><text x="459.4" y="895.2" text-anchor="middle" font-size="15.6" fill="#111" stroke="#111" stroke-width="0.3">3.0</text><text x="523.3" y="895.2" text-anchor="middle" font-size="15.6" fill="#111" stroke="#111" stroke-width="0.3">3.5</text><text x="299.5" y="921.4" text-anchor="middle" font-size="19.6" font-weight="bold">log Syllables</text><text transform="translate(15.7 673.2) rotate(-90)" x="0" y="0" text-anchor="middle" font-size="21.6" font-weight="bold">Articulation Rate</text><text x="63.6" y="510.9" font-size="34.2" font-weight="bold">B</text><rect x="53.8" y="946.1" width="491.4" height="398.9" fill="#EBEBEB"/><path d="M53.8 1309.6H545.2M53.8 1273.2H545.2M53.8 1236.8H545.2M53.8 1200.3H545.2M53.8 1163.9H545.2M53.8 1127.5H545.2M53.8 1091.1H545.2M53.8 1054.7H545.2M53.8 1018.2H545.2M53.8 981.8H545.2M108 946.1V1345M171.9 946.1V1345M235.8 946.1V1345M299.6 946.1V1345M363.5 946.1V1345M427.4 946.1V1345M491.3 946.1V1345" stroke="#fff" stroke-width="1.3" fill="none"/><path d="M53.8 1327.8H545.2M53.8 1291.4H545.2M53.8 1255H545.2M53.8 1218.5H545.2M53.8 1182.1H545.2M53.8 1145.7H545.2M53.8 1109.3H545.2M53.8 1072.9H545.2M53.8 1036.4H545.2M53.8 1000H545.2M53.8 963.6H545.2M76.1 946.1V1345M140 946.1V1345M203.8 946.1V1345M267.7 946.1V1345M331.6 946.1V1345M395.4 946.1V1345M459.3 946.1V1345M523.2 946.1V1345" stroke="#fff" stroke-width="2.2" fill="none"/><g fill="#4682B4" fill-opacity="0.55" stroke="#4682B4" stroke-opacity="0.55" stroke-width="1.5" class="pt"><circle cx="174.9" cy="1144.1"/><circle cx="289" cy="1156.9"/><circle cx="390.3" cy="1147.8"/><circle cx="307.9" cy="1158.1"/><circle cx="261.8" cy="1242.8"/><circle cx="247.7" cy="1241.9"/><circle cx="278.2" cy="1248.7"/><circle cx="328.6" cy="1132.4"/><circle cx="399" cy="1217.6"/><circle cx="308.3" cy="1083.6"/><circle cx="159.7" cy="1103.8"/><circle cx="273" cy="1314.4"/><circle cx="344.4" cy="1222.3"/><circle cx="301.1" cy="1261.4"/><circle cx="283" cy="1221.2"/><circle cx="302.4" cy="1106.3"/><circle cx="272.5" cy="1243.3"/><circle cx="305.7" cy="1078.2"/><circle cx="277.4" cy="1187"/><circle cx="278" cy="1232.6"/><circle cx="284.1" cy="1126.1"/><circle cx="296.7" cy="1123.9"/><circle cx="197.3" cy="1154.1"/><circle cx="224.2" cy="1055.9"/><circle cx="187.7" cy="1222.9"/><circle cx="153.4" cy="1177.5"/><circle cx="254.7" cy="1305.2"/><circle cx="295.7" cy="1119.8"/><circle cx="387.2" cy="1142.9"/><circle cx="223.5" cy="1052"/><circle cx="329.3" cy="1253.6"/><circle cx="275.5" cy="1206.7"/><circle cx="347.8" cy="1172.7"/><circle cx="476" cy="1227.8"/><circle cx="251.9" cy="1195.5"/><circle cx="149.6" cy="1262.2"/><circle cx="170.1" cy="1130.9"/><circle cx="206.4" cy="1123.1"/><circle cx="187.1" cy="1178.5"/><circle cx="241.4" cy="1008.3"/><circle cx="392" cy="1216.1"/><circle cx="200.3" cy="1220"/><circle cx="187.3" cy="1062.2"/><circle cx="392.9" cy="1215"/><circle cx="244.7" cy="1047.9"/><circle cx="267.2" cy="1096"/><circle cx="188.9" cy="1219.4"/><circle cx="388.9" cy="1286.7"/><circle cx="260.7" cy="1312.4"/><circle cx="332.1" cy="1277.8"/><circle cx="200.7" cy="1126.6"/><circle cx="162.5" cy="1126.1"/><circle cx="284.5" cy="1197.8"/><circle cx="295.3" cy="1309.3"/><circle cx="255" cy="1084.8"/><circle cx="263.7" cy="1315.9"/><circle cx="358.6" cy="1178.9"/><circle cx="287.3" cy="1149.3"/><circle cx="193.3" cy="1141.7"/><circle cx="258" cy="1143.3"/><circle cx="309.9" cy="1235.2"/><circle cx="379.9" cy="1150.1"/><circle cx="201.6" cy="1156.8"/><circle cx="299.8" cy="1137.2"/><circle cx="156.7" cy="1217"/><circle cx="292.7" cy="1213.3"/><circle cx="333.8" cy="1116.5"/><circle cx="176" cy="1095.3"/><circle cx="230.1" cy="1322.3"/><circle cx="317.8" cy="1137"/><circle cx="232.8" cy="1291"/><circle cx="266.7" cy="1309.8"/><circle cx="337.9" cy="1291.5"/><circle cx="279" cy="1106.8"/><circle cx="212.8" cy="1203"/><circle cx="338.8" cy="1183.4"/><circle cx="388.3" cy="1112"/><circle cx="306" cy="1228.9"/><circle cx="280.8" cy="1180.5"/><circle cx="246.4" cy="1193.8"/><circle cx="467.2" cy="1264.2"/><circle cx="335" cy="1214.6"/><circle cx="203.6" cy="1231.7"/><circle cx="256.6" cy="1014.3"/><circle cx="233.4" cy="1090.2"/><circle cx="384" cy="1144.9"/><circle cx="346.1" cy="1230.7"/><circle cx="284.5" cy="1301.4"/><circle cx="156" cy="1134.1"/><circle cx="266.9" cy="1152.2"/><circle cx="431.1" cy="1126.7"/><circle cx="360.8" cy="1123.5"/><circle cx="307.3" cy="1292.8"/><circle cx="394.9" cy="1182.4"/><circle cx="289.7" cy="1054"/><circle cx="329.9" cy="1182.5"/><circle cx="212.4" cy="1275"/><circle cx="156" cy="1057"/><circle cx="292.3" cy="1250.8"/><circle cx="290.7" cy="1224.4"/><circle cx="208.2" cy="1103.1"/><circle cx="192.4" cy="1173.3"/><circle cx="186.3" cy="1066.9"/><circle cx="256.3" cy="1028.9"/><circle cx="312" cy="1305.2"/><circle cx="202.5" cy="1264.1"/><circle cx="353.3" cy="1287.9"/><circle cx="250.6" cy="1092.3"/><circle cx="261.6" cy="1088.5"/><circle cx="210.1" cy="1180"/><circle cx="359.1" cy="1073.1"/><circle cx="219.6" cy="1210.8"/><circle cx="261.7" cy="1066.1"/><circle cx="351.8" cy="1106.2"/><circle cx="146.8" cy="1137.4"/><circle cx="206" cy="1234.7"/><circle cx="337.5" cy="1249"/><circle cx="130.8" cy="1212.4"/><circle cx="378.9" cy="1087.4"/><circle cx="230.1" cy="1311.2"/><circle cx="184.3" cy="1144.9"/><circle cx="169.3" cy="1155.9"/><circle cx="394" cy="1134.7"/><circle cx="280.1" cy="1078.3"/><circle cx="357.2" cy="1103.7"/><circle cx="212.1" cy="1098.1"/><circle cx="216.4" cy="1102"/><circle cx="173.3" cy="1047.3"/><circle cx="230.6" cy="1209"/><circle cx="347.6" cy="1281.8"/><circle cx="279.4" cy="1072.1"/><circle cx="279.8" cy="1274.9"/><circle cx="311.7" cy="1007.3"/><circle cx="376.2" cy="1232.2"/><circle cx="210" cy="1259.3"/><circle cx="118.9" cy="1224.5"/><circle cx="323.8" cy="1047.7"/><circle cx="318.5" cy="1297.4"/><circle cx="370.6" cy="1213.3"/><circle cx="303.2" cy="1173.9"/><circle cx="221" cy="1221.8"/><circle cx="240.1" cy="1178.2"/><circle cx="394.8" cy="1155.9"/><circle cx="244.6" cy="1316.9"/><circle cx="319.3" cy="1147.7"/><circle cx="320.9" cy="1313"/><circle cx="282.3" cy="1290.4"/><circle cx="342.1" cy="1249.4"/><circle cx="259.6" cy="1162.4"/><circle cx="159" cy="1309"/><circle cx="267.5" cy="1156"/><circle cx="273.3" cy="1100.8"/><circle cx="335" cy="1284.2"/><circle cx="135.8" cy="1143"/><circle cx="251.7" cy="1109.2"/><circle cx="275.9" cy="1181.4"/><circle cx="477.7" cy="1167.4"/><circle cx="131.4" cy="1167.1"/><circle cx="239.3" cy="1072.1"/><circle cx="249.7" cy="1097.1"/><circle cx="424.4" cy="1191"/><circle cx="351.8" cy="1271.3"/><circle cx="246.9" cy="1051.6"/><circle cx="265.3" cy="1266.5"/><circle cx="99.5" cy="1197.1"/><circle cx="313.8" cy="1132.9"/><circle cx="179.8" cy="1095.2"/><circle cx="415.6" cy="1243.4"/><circle cx="292.6" cy="1303.9"/><circle cx="342.1" cy="1261.9"/><circle cx="262.8" cy="1252.6"/><circle cx="219.5" cy="1162"/><circle cx="249.2" cy="1162.1"/><circle cx="279" cy="1172"/><circle cx="244.2" cy="1098.6"/><circle cx="266.6" cy="1129.6"/><circle cx="216.9" cy="1315.5"/><circle cx="512.7" cy="1209.7"/><circle cx="222.5" cy="1154.5"/><circle cx="272.7" cy="1237.8"/><circle cx="229.3" cy="1307.8"/><circle cx="229.8" cy="1098.9"/><circle cx="297.4" cy="1152.1"/><circle cx="235.8" cy="1024"/><circle cx="152.4" cy="1118.9"/><circle cx="167.2" cy="1123.2"/><circle cx="143.1" cy="1095.9"/><circle cx="220" cy="1101.8"/><circle cx="294.4" cy="1054.3"/><circle cx="302.9" cy="1195.5"/><circle cx="372.5" cy="1200.3"/><circle cx="340.8" cy="1172.5"/><circle cx="216" cy="1297.4"/><circle cx="318.7" cy="1212.5"/><circle cx="270.7" cy="1087.4"/><circle cx="338.2" cy="1130.3"/><circle cx="388.3" cy="1231.3"/><circle cx="349" cy="1219.6"/><circle cx="171.1" cy="1127"/><circle cx="335.7" cy="1273"/><circle cx="197.9" cy="1165.4"/><circle cx="176.8" cy="1326"/><circle cx="147.3" cy="1289.8"/><circle cx="308.2" cy="1283.2"/><circle cx="282.7" cy="1270"/><circle cx="332" cy="1205.3"/><circle cx="344.6" cy="1072.7"/><circle cx="219.5" cy="1076.1"/><circle cx="286" cy="1278.4"/><circle cx="309.7" cy="1305.7"/><circle cx="292.9" cy="1209.9"/><circle cx="242" cy="1094.3"/><circle cx="209.1" cy="1279.2"/><circle cx="296" cy="1236.8"/><circle cx="237.4" cy="1199.5"/><circle cx="208.4" cy="1075.7"/><circle cx="264.8" cy="1056.4"/><circle cx="223.7" cy="1274.3"/><circle cx="154.8" cy="1085.6"/><circle cx="388.7" cy="1310.1"/><circle cx="394.9" cy="1111.5"/><circle cx="299.1" cy="1266.9"/><circle cx="220.1" cy="1042.1"/><circle cx="284.6" cy="1285.5"/><circle cx="242.6" cy="1182.5"/><circle cx="341.6" cy="1138.9"/><circle cx="110" cy="1054.8"/><circle cx="195.9" cy="1261.8"/><circle cx="247.4" cy="1257.7"/><circle cx="303.5" cy="1242.9"/><circle cx="171.6" cy="1045.8"/><circle cx="221.7" cy="1165.6"/><circle cx="284.8" cy="1113.2"/><circle cx="198.8" cy="1058.7"/><circle cx="297.3" cy="1312.2"/><circle cx="297.1" cy="1317.9"/><circle cx="342.5" cy="1248.1"/><circle cx="319.5" cy="1203.7"/><circle cx="418.8" cy="1168.1"/><circle cx="411" cy="1289.8"/><circle cx="303.3" cy="1149.4"/><circle cx="273.6" cy="1103.3"/><circle cx="337" cy="1047.6"/><circle cx="144.4" cy="1153"/><circle cx="381.9" cy="1209.4"/><circle cx="362.7" cy="1201.6"/><circle cx="312.3" cy="1208.9"/><circle cx="310.5" cy="1136.4"/><circle cx="190.5" cy="1136.3"/><circle cx="306.4" cy="1301.1"/><circle cx="423.9" cy="1170.5"/><circle cx="199.2" cy="1259.1"/><circle cx="336.7" cy="1041.8"/><circle cx="230.3" cy="1206.6"/><circle cx="255.9" cy="1161.5"/><circle cx="192.9" cy="1119.2"/><circle cx="241.7" cy="1253.1"/><circle cx="251.2" cy="1241.7"/><circle cx="374" cy="1112.9"/><circle cx="316.6" cy="1195.4"/><circle cx="287.4" cy="1117.7"/><circle cx="353.7" cy="1261"/><circle cx="218.7" cy="1122.8"/><circle cx="391.4" cy="1269.2"/><circle cx="369.8" cy="1206.9"/><circle cx="343.5" cy="1153.9"/><circle cx="178.9" cy="1177.1"/><circle cx="223.6" cy="1228.6"/><circle cx="309.6" cy="1218.2"/><circle cx="210.5" cy="1210.2"/><circle cx="396.5" cy="1142.8"/><circle cx="294.9" cy="1111.5"/><circle cx="334.6" cy="1273.5"/><circle cx="438.5" cy="1216.9"/><circle cx="153.4" cy="1159.7"/><circle cx="326.8" cy="1266.8"/><circle cx="340" cy="1166.6"/><circle cx="213.1" cy="1083.2"/><circle cx="364.3" cy="1277.3"/><circle cx="301.6" cy="1206.5"/><circle cx="241.3" cy="1082.4"/><circle cx="308.5" cy="1109.6"/><circle cx="246.5" cy="1277.1"/><circle cx="184.9" cy="1232.5"/><circle cx="220.2" cy="1199.6"/><circle cx="356.1" cy="1147.4"/><circle cx="225.4" cy="1042.6"/><circle cx="349.8" cy="1197.5"/><circle cx="291.5" cy="1057.6"/><circle cx="379.6" cy="1153.9"/><circle cx="181.4" cy="1169.7"/><circle cx="330.2" cy="1214.8"/><circle cx="446.9" cy="1164.8"/><circle cx="267.9" cy="1193.8"/><circle cx="284.6" cy="1253.6"/><circle cx="267.4" cy="1181.3"/><circle cx="352.1" cy="1230.7"/><circle cx="496.9" cy="1259.3"/><circle cx="195.9" cy="1083.8"/><circle cx="244.3" cy="1231.7"/><circle cx="326.3" cy="1245.1"/><circle cx="240.2" cy="1115.3"/><circle cx="377.4" cy="1274"/><circle cx="439.8" cy="1197.9"/><circle cx="259.6" cy="1076.3"/><circle cx="416.3" cy="1176.9"/><circle cx="224.1" cy="1076.7"/><circle cx="413.9" cy="1264.8"/><circle cx="158.4" cy="1136.3"/><circle cx="219.4" cy="1196.4"/><circle cx="138.7" cy="1038.6"/><circle cx="373.3" cy="1173.2"/><circle cx="255.1" cy="1152.6"/><circle cx="166.2" cy="1127.3"/><circle cx="334.7" cy="1165.1"/><circle cx="282.6" cy="1299.5"/><circle cx="270.2" cy="1061.9"/><circle cx="324.5" cy="1210.3"/><circle cx="236.3" cy="1092.1"/><circle cx="229.5" cy="1157.1"/><circle cx="326.2" cy="1083.6"/><circle cx="303.8" cy="1160.8"/><circle cx="244.9" cy="1241.4"/><circle cx="313.4" cy="1148.8"/><circle cx="105.4" cy="1139.1"/><circle cx="193.9" cy="1086.9"/><circle cx="304.7" cy="1254.5"/><circle cx="212" cy="1149.7"/><circle cx="402.1" cy="1232.5"/><circle cx="206.9" cy="1276.8"/><circle cx="269" cy="1215.6"/><circle cx="427.9" cy="1225.3"/><circle cx="348" cy="1187.4"/><circle cx="310.8" cy="1258.2"/><circle cx="417.6" cy="1186.2"/><circle cx="189.1" cy="1082.7"/><circle cx="246.7" cy="1254.1"/><circle cx="199.4" cy="1198.7"/><circle cx="366.4" cy="1080.9"/><circle cx="159.2" cy="1119.4"/><circle cx="341.2" cy="1152.7"/><circle cx="273.7" cy="1268.5"/><circle cx="301.5" cy="1249.1"/><circle cx="237.8" cy="1296"/><circle cx="374.9" cy="1216.3"/><circle cx="197.8" cy="1068.9"/><circle cx="247.2" cy="1210.4"/><circle cx="328.7" cy="1221.5"/><circle cx="319.8" cy="1051.8"/><circle cx="344.1" cy="1273.9"/><circle cx="203.1" cy="1118.3"/><circle cx="222.5" cy="1072.1"/><circle cx="335.2" cy="1210.3"/><circle cx="351.1" cy="1130.2"/><circle cx="296.7" cy="1240"/><circle cx="309.3" cy="1090.8"/><circle cx="202.3" cy="1176.7"/><circle cx="334.9" cy="1245.8"/><circle cx="396.2" cy="1226.9"/><circle cx="319.8" cy="1177.9"/><circle cx="295.1" cy="1052.7"/><circle cx="199.1" cy="1302"/><circle cx="280.2" cy="1091.9"/><circle cx="220.6" cy="1183.6"/><circle cx="164.8" cy="1139.7"/><circle cx="263.7" cy="1175.8"/><circle cx="182.4" cy="1216.7"/><circle cx="311.5" cy="1235.1"/><circle cx="193.5" cy="1040.5"/><circle cx="227.5" cy="1147.4"/><circle cx="288.8" cy="992.5"/><circle cx="309.3" cy="1130.5"/><circle cx="242" cy="1223"/><circle cx="375.3" cy="1118"/><circle cx="252.1" cy="1253.6"/><circle cx="292.1" cy="1177.8"/><circle cx="225.5" cy="1258.6"/><circle cx="177.4" cy="1089.6"/><circle cx="371.2" cy="1233.9"/><circle cx="483.8" cy="1076.1"/><circle cx="394.1" cy="1222.7"/><circle cx="321.2" cy="1072.5"/><circle cx="250.4" cy="1135.8"/><circle cx="248.2" cy="1134.6"/><circle cx="232.4" cy="1268.7"/><circle cx="473.2" cy="1195.4"/><circle cx="281.8" cy="1164.6"/><circle cx="272.7" cy="1277.9"/><circle cx="338.1" cy="1294.9"/><circle cx="203.7" cy="1295.7"/><circle cx="396" cy="1180.7"/><circle cx="257.5" cy="1091.5"/><circle cx="192.2" cy="1105.2"/><circle cx="408" cy="1140.2"/><circle cx="209.2" cy="1277.4"/><circle cx="200.5" cy="1288.5"/><circle cx="188.8" cy="1155.2"/><circle cx="356.3" cy="1181.2"/><circle cx="271.6" cy="1304.4"/><circle cx="189.1" cy="1260.7"/><circle cx="225.4" cy="1137"/><circle cx="363.1" cy="1258.9"/><circle cx="427.5" cy="1123.2"/><circle cx="205.2" cy="1056"/><circle cx="393.9" cy="1239"/><circle cx="170.2" cy="1090.2"/><circle cx="344.7" cy="1195.3"/><circle cx="295.2" cy="1190.5"/><circle cx="275.7" cy="1262"/><circle cx="165.6" cy="1097.9"/><circle cx="189.4" cy="1008.6"/><circle cx="134.2" cy="1104.6"/><circle cx="221.3" cy="1171.6"/><circle cx="200.8" cy="1051.5"/><circle cx="186.8" cy="1057.4"/><circle cx="168.6" cy="1163.6"/><circle cx="316.9" cy="1112.9"/><circle cx="326.1" cy="1303"/><circle cx="350.5" cy="1174.7"/><circle cx="155.9" cy="1149.5"/><circle cx="365.3" cy="1251.9"/><circle cx="122.1" cy="1137.2"/><circle cx="373.5" cy="1295"/><circle cx="354" cy="1159.7"/><circle cx="365.9" cy="1190.2"/><circle cx="422.2" cy="1105.1"/><circle cx="297.4" cy="1182.1"/><circle cx="126.4" cy="1109.7"/><circle cx="372.6" cy="1051.2"/><circle cx="322.1" cy="1262.8"/><circle cx="323.6" cy="1078.2"/><circle cx="332.9" cy="1200.5"/><circle cx="343.9" cy="1112.9"/><circle cx="239.9" cy="1142.2"/><circle cx="314.6" cy="1138.8"/><circle cx="304.3" cy="1139.3"/><circle cx="166.4" cy="1132.8"/><circle cx="379.6" cy="1224.5"/><circle cx="224.3" cy="1155.8"/><circle cx="338.8" cy="1259.5"/><circle cx="225.6" cy="1145"/><circle cx="423.5" cy="1160.4"/><circle cx="224.5" cy="1235.7"/><circle cx="176" cy="1182"/><circle cx="368.2" cy="1086.7"/><circle cx="510.2" cy="1096.7"/><circle cx="352.2" cy="1128.8"/><circle cx="196.5" cy="1102.6"/><circle cx="482.8" cy="1303.8"/><circle cx="189.9" cy="1027.8"/><circle cx="358.2" cy="1282.7"/><circle cx="404.1" cy="1272.9"/><circle cx="334.1" cy="1238.5"/><circle cx="355.2" cy="1255.1"/><circle cx="405.6" cy="1188.6"/><circle cx="185" cy="1172.9"/><circle cx="309.9" cy="1076.1"/><circle cx="257.3" cy="1201.2"/><circle cx="338.8" cy="1077.5"/><circle cx="200.9" cy="1118.4"/><circle cx="380" cy="1276.4"/><circle cx="421.6" cy="1168.2"/><circle cx="202.7" cy="1283.2"/><circle cx="408.3" cy="1245"/><circle cx="427.1" cy="1163.6"/><circle cx="286.8" cy="1257.9"/><circle cx="327.8" cy="1208.5"/><circle cx="274.6" cy="1165.2"/><circle cx="219.6" cy="1126.6"/><circle cx="356.2" cy="1255"/><circle cx="302" cy="1110.1"/><circle cx="162.6" cy="1097.5"/><circle cx="300.7" cy="1094.6"/><circle cx="253.4" cy="1282.8"/><circle cx="326.3" cy="1137.5"/><circle cx="229.3" cy="1255.8"/><circle cx="392.5" cy="1265.6"/><circle cx="302.8" cy="1293.3"/><circle cx="188.2" cy="1105.9"/><circle cx="235.7" cy="1111.3"/><circle cx="256.6" cy="1272.5"/><circle cx="311.5" cy="1264.1"/><circle cx="123.8" cy="1097.3"/><circle cx="496.9" cy="1086.7"/><circle cx="380.3" cy="1228.7"/><circle cx="302.8" cy="1289.1"/><circle cx="404.6" cy="1171.2"/><circle cx="259.6" cy="1252.9"/><circle cx="171.1" cy="1303.7"/><circle cx="252.8" cy="1145.6"/><circle cx="171.1" cy="1035.6"/><circle cx="202.7" cy="1146"/><circle cx="304.7" cy="1248.6"/><circle cx="196.7" cy="1163"/><circle cx="141.8" cy="1171.2"/><circle cx="300.4" cy="1245.3"/><circle cx="240.8" cy="1150.2"/><circle cx="306.1" cy="1308.2"/><circle cx="232" cy="1314.2"/><circle cx="211.5" cy="1191.2"/><circle cx="341.5" cy="1157.3"/><circle cx="283.9" cy="1037.1"/><circle cx="190.1" cy="1205.6"/><circle cx="227.2" cy="1252.6"/><circle cx="403.4" cy="1204.8"/><circle cx="271.1" cy="1229.5"/><circle cx="330" cy="1145.7"/><circle cx="271.1" cy="1070.2"/><circle cx="254.7" cy="1171.4"/><circle cx="210.4" cy="1063.1"/><circle cx="180.9" cy="1074.7"/><circle cx="194" cy="1146.5"/><circle cx="158.6" cy="1138.7"/><circle cx="430" cy="1275.9"/><circle cx="192.5" cy="1306.8"/><circle cx="145.2" cy="1145.8"/><circle cx="371.3" cy="1150.6"/><circle cx="305.5" cy="1076.8"/><circle cx="189.2" cy="1119.9"/><circle cx="208.7" cy="1154.2"/><circle cx="249.2" cy="1120.8"/><circle cx="195.7" cy="1226.1"/><circle cx="267.9" cy="1263.3"/><circle cx="287.3" cy="1083.3"/><circle cx="285.9" cy="1082.9"/><circle cx="343.2" cy="1070.1"/><circle cx="196.5" cy="1131.7"/><circle cx="183.3" cy="1109.9"/><circle cx="289.9" cy="1214.1"/><circle cx="330.2" cy="1071.1"/><circle cx="261.4" cy="1180"/><circle cx="255.7" cy="985.9"/><circle cx="352.1" cy="1133.1"/><circle cx="291.9" cy="1167.8"/><circle cx="370" cy="1220.8"/><circle cx="252.4" cy="1301.3"/><circle cx="348.1" cy="1230.8"/><circle cx="239.8" cy="1048"/><circle cx="231.9" cy="1276.5"/><circle cx="190.3" cy="1043.8"/><circle cx="432.1" cy="1175.2"/><circle cx="204.2" cy="1241.7"/><circle cx="373.4" cy="1251.5"/><circle cx="204.7" cy="1100"/><circle cx="288.7" cy="1321.6"/><circle cx="254.7" cy="1169.3"/><circle cx="315.4" cy="1280.6"/><circle cx="290" cy="1109.8"/><circle cx="434.1" cy="1262.3"/><circle cx="259.8" cy="1317.3"/><circle cx="226.6" cy="1147.2"/><circle cx="337.1" cy="1127.6"/><circle cx="367.1" cy="1308.3"/><circle cx="283.4" cy="1307.1"/><circle cx="316.4" cy="1085.6"/><circle cx="351" cy="1207"/><circle cx="323" cy="1119.8"/><circle cx="460.2" cy="1145.4"/><circle cx="176.9" cy="1122"/><circle cx="276.3" cy="1210.5"/><circle cx="322.9" cy="1050.7"/><circle cx="435.4" cy="1230.8"/><circle cx="274.8" cy="1072"/><circle cx="192.9" cy="1166.8"/><circle cx="173.5" cy="1214.9"/><circle cx="249.4" cy="1245.7"/><circle cx="221.3" cy="1103.9"/><circle cx="196.9" cy="1113.1"/><circle cx="146" cy="1134.9"/><circle cx="312.3" cy="1119.1"/><circle cx="350.7" cy="1298.8"/><circle cx="356.1" cy="1019.5"/><circle cx="334" cy="1119.9"/><circle cx="438.6" cy="1140.7"/><circle cx="313.5" cy="1278.3"/><circle cx="350.7" cy="1083.5"/><circle cx="267.1" cy="1062.8"/><circle cx="108.8" cy="1064.8"/><circle cx="311" cy="1175.6"/><circle cx="211.7" cy="1183.9"/><circle cx="297.1" cy="1105.7"/><circle cx="339" cy="1281.6"/><circle cx="314.7" cy="1305.3"/><circle cx="213.1" cy="1254.3"/><circle cx="263.3" cy="1304.1"/><circle cx="384.3" cy="1207.3"/><circle cx="303.9" cy="1260.4"/><circle cx="241.6" cy="1155.4"/><circle cx="402.3" cy="1217.3"/><circle cx="226.6" cy="1109.8"/><circle cx="224.9" cy="1232.2"/><circle cx="248.6" cy="1148"/><circle cx="403.6" cy="1286.6"/><circle cx="196" cy="1015.4"/><circle cx="200.8" cy="1233.4"/><circle cx="209" cy="1234.2"/><circle cx="267.1" cy="1173.6"/><circle cx="255.9" cy="1188.7"/><circle cx="224.8" cy="1130.7"/><circle cx="158.1" cy="1083"/><circle cx="310.9" cy="1207.8"/><circle cx="389.6" cy="1227.8"/><circle cx="293.9" cy="1197.2"/><circle cx="184.3" cy="1143.9"/><circle cx="293.7" cy="1213.3"/><circle cx="196.1" cy="1186.5"/><circle cx="339" cy="1083.5"/><circle cx="273.6" cy="1231.8"/><circle cx="322.4" cy="1081.1"/><circle cx="325" cy="1208.3"/><circle cx="399.4" cy="1107.9"/><circle cx="300" cy="1194.4"/><circle cx="164.7" cy="1064"/><circle cx="255.4" cy="1181.9"/><circle cx="270" cy="1113.4"/><circle cx="256.2" cy="1257.3"/><circle cx="312.2" cy="1161.2"/><circle cx="413.5" cy="1271.3"/><circle cx="197.4" cy="1172.9"/><circle cx="315.3" cy="1247.1"/><circle cx="285.1" cy="1233.4"/><circle cx="253.1" cy="1218.6"/><circle cx="312.9" cy="1080.7"/><circle cx="354.8" cy="1066.9"/><circle cx="245.9" cy="1167.9"/><circle cx="517.4" cy="1218.8"/><circle cx="160" cy="1071.5"/><circle cx="137.4" cy="1120.9"/><circle cx="399.5" cy="1192"/><circle cx="216.3" cy="1134.5"/><circle cx="372.9" cy="1282.5"/><circle cx="311.2" cy="1104.4"/><circle cx="309.3" cy="1118.9"/><circle cx="258.1" cy="1157.4"/><circle cx="446.9" cy="1267.6"/><circle cx="158.7" cy="1105.3"/><circle cx="292" cy="1290.4"/><circle cx="332.6" cy="1282.5"/><circle cx="190.1" cy="1113.4"/><circle cx="364.1" cy="1195"/><circle cx="407.2" cy="1268.4"/><circle cx="317.4" cy="1281.5"/><circle cx="270.6" cy="1119.1"/><circle cx="355" cy="1138.5"/><circle cx="115.6" cy="1262"/><circle cx="366.8" cy="1263.9"/><circle cx="167.2" cy="1144.7"/><circle cx="312.5" cy="1095.3"/><circle cx="214.2" cy="1054.3"/><circle cx="409.8" cy="1264.7"/><circle cx="222.8" cy="1256.4"/><circle cx="241.5" cy="1232.4"/><circle cx="470.1" cy="1279.4"/><circle cx="179" cy="1118.1"/><circle cx="197.1" cy="1052"/><circle cx="197.8" cy="1179.1"/><circle cx="287.7" cy="1222.2"/><circle cx="310.3" cy="1269.3"/><circle cx="267.2" cy="1249"/><circle cx="219.7" cy="1072.4"/><circle cx="397.9" cy="1200.4"/><circle cx="278.2" cy="1264"/><circle cx="447.9" cy="1241.5"/><circle cx="374" cy="1259.3"/><circle cx="210.9" cy="1317.5"/><circle cx="190.9" cy="1172.6"/><circle cx="205.1" cy="1114.7"/><circle cx="238.4" cy="1175.6"/><circle cx="257.9" cy="1260.1"/><circle cx="195.1" cy="1248.3"/><circle cx="368.4" cy="1151.1"/><circle cx="227.6" cy="1103.9"/><circle cx="292.1" cy="1240.3"/><circle cx="217.7" cy="1300.4"/><circle cx="231.2" cy="1254.3"/><circle cx="215.8" cy="1209.4"/><circle cx="380.8" cy="1049.4"/><circle cx="337" cy="1192.6"/><circle cx="320.4" cy="1222.7"/><circle cx="208.6" cy="1131.8"/><circle cx="342.1" cy="1286.4"/><circle cx="211.5" cy="1200.3"/><circle cx="167.3" cy="1085.1"/><circle cx="389.3" cy="1259.6"/><circle cx="251.5" cy="1263.1"/><circle cx="158.7" cy="1068"/><circle cx="324.3" cy="1244.3"/><circle cx="297.7" cy="1270.7"/><circle cx="460.3" cy="1224.4"/><circle cx="211.8" cy="1217.8"/><circle cx="301.5" cy="1207.1"/><circle cx="252.6" cy="1026.4"/><circle cx="437.1" cy="1147.9"/><circle cx="350.6" cy="1244"/><circle cx="282.9" cy="1325.3"/><circle cx="331.1" cy="1251.1"/><circle cx="224" cy="1152.3"/><circle cx="182.7" cy="1071.6"/><circle cx="186.1" cy="1157.6"/><circle cx="380.4" cy="1199.1"/><circle cx="344.9" cy="1204.6"/><circle cx="298.1" cy="1232.1"/><circle cx="220.4" cy="1168.8"/><circle cx="441.7" cy="1156.7"/><circle cx="363.9" cy="1208.7"/><circle cx="199.5" cy="1088.6"/><circle cx="193.7" cy="1159.2"/><circle cx="251.8" cy="1238.1"/><circle cx="238.7" cy="1217.2"/><circle cx="286.2" cy="1183.2"/><circle cx="245.6" cy="1084.5"/><circle cx="299.5" cy="1183.5"/><circle cx="308" cy="1039.3"/><circle cx="323.6" cy="1180.4"/><circle cx="318.2" cy="1088.6"/><circle cx="301.4" cy="1258.1"/><circle cx="342.7" cy="1239.9"/><circle cx="282.8" cy="1261.4"/><circle cx="303.7" cy="1267.6"/><circle cx="319.6" cy="1290.7"/><circle cx="282.3" cy="1083.5"/><circle cx="361.9" cy="1143.6"/><circle cx="358" cy="1227.8"/><circle cx="286.4" cy="1234.1"/><circle cx="295.5" cy="1063.3"/><circle cx="407.2" cy="1240.9"/><circle cx="223.9" cy="1099.8"/><circle cx="265.6" cy="1185.1"/><circle cx="246.2" cy="1303.3"/><circle cx="361.4" cy="1225.5"/><circle cx="294.2" cy="1223.4"/><circle cx="272.9" cy="1033.4"/><circle cx="299.9" cy="1201.2"/><circle cx="171.7" cy="1098.5"/><circle cx="217.3" cy="1206.6"/><circle cx="346.7" cy="1058.4"/><circle cx="188.5" cy="1251.4"/><circle cx="274.6" cy="1071.4"/><circle cx="310.7" cy="1200"/><circle cx="217.3" cy="1252.7"/><circle cx="304.9" cy="1251.6"/><circle cx="230.1" cy="1128"/><circle cx="243.8" cy="1189.3"/><circle cx="307.3" cy="1195.1"/><circle cx="315.4" cy="1190.8"/><circle cx="223.2" cy="1111.6"/><circle cx="337" cy="1234.8"/><circle cx="333.8" cy="1078.9"/><circle cx="322.5" cy="1192"/><circle cx="199.5" cy="1091"/><circle cx="215.5" cy="1055.3"/><circle cx="159.8" cy="1174.5"/><circle cx="181.3" cy="1147"/><circle cx="249.7" cy="1066.4"/><circle cx="360.2" cy="1139.8"/><circle cx="200.5" cy="1062.4"/><circle cx="190.9" cy="1088"/><circle cx="391.2" cy="1300.2"/><circle cx="156.1" cy="1163.6"/><circle cx="287.8" cy="1112.2"/><circle cx="245.5" cy="1149.1"/><circle cx="249.2" cy="1180.6"/><circle cx="199.1" cy="1196.4"/><circle cx="205.9" cy="1195"/><circle cx="218.5" cy="1033.9"/><circle cx="263.7" cy="1291.8"/><circle cx="190.6" cy="1128.7"/><circle cx="109.9" cy="1177.2"/><circle cx="294.8" cy="1316.5"/><circle cx="278.3" cy="1288.6"/><circle cx="315.4" cy="1055.3"/><circle cx="283.2" cy="1167.6"/><circle cx="218.8" cy="1114.5"/><circle cx="304" cy="1163.4"/><circle cx="438.7" cy="1135.6"/><circle cx="287.5" cy="1309.7"/><circle cx="431.7" cy="1069.6"/><circle cx="474.6" cy="1190.3"/><circle cx="304.6" cy="1086"/><circle cx="335.6" cy="1226.2"/><circle cx="312.6" cy="1139.8"/><circle cx="276" cy="1185.6"/><circle cx="228.1" cy="1236.4"/><circle cx="404.7" cy="1259.6"/><circle cx="278.4" cy="1179.1"/><circle cx="319.9" cy="1251"/><circle cx="209.1" cy="1284"/><circle cx="321.1" cy="1198.9"/><circle cx="412.9" cy="1206.6"/><circle cx="377.9" cy="1114.4"/><circle cx="106" cy="1198.3"/><circle cx="376.7" cy="1162.3"/><circle cx="256.3" cy="1313.7"/><circle cx="195.4" cy="1236.2"/><circle cx="378.7" cy="1206.8"/><circle cx="279.9" cy="1239"/><circle cx="233.8" cy="1168.4"/><circle cx="154.9" cy="1135.5"/><circle cx="175.3" cy="1159.5"/><circle cx="384.4" cy="1223.9"/><circle cx="247.3" cy="1317"/><circle cx="204.1" cy="1282.4"/><circle cx="301.8" cy="1239.1"/><circle cx="288.5" cy="1160"/><circle cx="266.2" cy="1043.1"/><circle cx="173.1" cy="1224.3"/><circle cx="252.4" cy="1205.3"/><circle cx="260.8" cy="1308.8"/><circle cx="320.4" cy="1155.6"/><circle cx="306.8" cy="1238"/><circle cx="200.6" cy="1224.9"/><circle cx="238.2" cy="1230.7"/><circle cx="289.8" cy="1067.9"/><circle cx="309.5" cy="1288.1"/><circle cx="255.7" cy="1236.2"/><circle cx="361.6" cy="1129.4"/><circle cx="323.1" cy="1109.3"/><circle cx="314" cy="1193.6"/><circle cx="175" cy="1134.7"/><circle cx="201.6" cy="1133.9"/><circle cx="302.7" cy="1296.9"/><circle cx="358.7" cy="1097.5"/><circle cx="350.7" cy="1160.4"/><circle cx="222.2" cy="1199"/><circle cx="429.3" cy="1169"/><circle cx="243.9" cy="1154.6"/><circle cx="331.8" cy="1221.2"/><circle cx="390.4" cy="1202.8"/><circle cx="350.8" cy="1112.2"/><circle cx="324.2" cy="1249.2"/><circle cx="256.9" cy="1202.7"/><circle cx="328.1" cy="1126.7"/><circle cx="388.9" cy="1093.4"/><circle cx="163" cy="1114.4"/><circle cx="200.3" cy="1123.2"/><circle cx="263.1" cy="1151.5"/><circle cx="355.2" cy="1137.6"/><circle cx="261.8" cy="1081.4"/><circle cx="358.3" cy="1091.9"/><circle cx="247.5" cy="1270.7"/><circle cx="242.2" cy="1195.8"/><circle cx="229.8" cy="1082.9"/><circle cx="224.4" cy="1272.1"/><circle cx="110.9" cy="987.2"/><circle cx="335.2" cy="1186.5"/><circle cx="207.4" cy="1151.8"/><circle cx="291" cy="1186.9"/><circle cx="232.6" cy="1227.9"/><circle cx="105.5" cy="1134.2"/><circle cx="335" cy="1147.5"/><circle cx="218.8" cy="1267.9"/><circle cx="250.2" cy="1257.9"/><circle cx="431" cy="1183.8"/><circle cx="232.1" cy="1042.9"/><circle cx="368" cy="1107.6"/><circle cx="391.1" cy="1114.7"/><circle cx="224.9" cy="1193.1"/><circle cx="287.6" cy="1197.1"/><circle cx="259.8" cy="1114.7"/><circle cx="204.4" cy="1182.1"/><circle cx="349.1" cy="1094.8"/><circle cx="324.2" cy="1094.6"/><circle cx="342.8" cy="1229"/><circle cx="252.8" cy="1143.3"/><circle cx="298" cy="1195.1"/><circle cx="327.1" cy="1103.3"/><circle cx="479.5" cy="1119"/><circle cx="347.8" cy="1116.1"/><circle cx="321.6" cy="1166.4"/><circle cx="280.6" cy="1303.1"/><circle cx="257.8" cy="1228.7"/><circle cx="331.1" cy="1089.4"/><circle cx="249.5" cy="1049.7"/><circle cx="340" cy="1208.2"/><circle cx="217.9" cy="1291.3"/><circle cx="411.1" cy="1199.6"/><circle cx="187.1" cy="1218.1"/><circle cx="376.9" cy="1125"/><circle cx="241.3" cy="1079.9"/><circle cx="370.8" cy="1120.5"/><circle cx="219.3" cy="1240.1"/><circle cx="206.3" cy="1169.1"/><circle cx="293.9" cy="1247"/><circle cx="328.3" cy="1155.5"/><circle cx="324.8" cy="1066"/><circle cx="388" cy="1303.2"/><circle cx="283.1" cy="1212.6"/><circle cx="232.7" cy="1266.9"/><circle cx="301.6" cy="1252.7"/><circle cx="278.6" cy="1157.2"/><circle cx="167.7" cy="1118.1"/><circle cx="205" cy="1267.2"/><circle cx="217.5" cy="1155.6"/><circle cx="376.1" cy="1219.6"/><circle cx="185.7" cy="1072.8"/><circle cx="393.3" cy="1219.1"/><circle cx="308.4" cy="1070.3"/><circle cx="271.5" cy="1277.4"/><circle cx="301.9" cy="1233.8"/><circle cx="236.9" cy="1272.7"/><circle cx="175.5" cy="1092"/><circle cx="143.6" cy="1041.2"/><circle cx="306.5" cy="1277"/><circle cx="383" cy="1212.4"/><circle cx="434.2" cy="1201.8"/><circle cx="312.9" cy="1223.2"/><circle cx="231.8" cy="1075.8"/><circle cx="142" cy="1305"/><circle cx="361.3" cy="1283.8"/><circle cx="189.9" cy="1279.3"/><circle cx="310.9" cy="1112.2"/><circle cx="153.5" cy="1087.2"/><circle cx="146.1" cy="1194.1"/><circle cx="337.5" cy="1112.8"/><circle cx="267.9" cy="1239"/><circle cx="175.3" cy="1108.5"/><circle cx="458" cy="1241.7"/><circle cx="180.5" cy="1139.4"/><circle cx="195.7" cy="1194.1"/><circle cx="246.1" cy="1134"/><circle cx="246" cy="1114.7"/><circle cx="202.8" cy="1199.4"/><circle cx="242.9" cy="1108.1"/><circle cx="279.4" cy="1259.1"/><circle cx="227.4" cy="1113"/><circle cx="365.8" cy="1196.5"/><circle cx="225.8" cy="1246.9"/><circle cx="484.2" cy="1137.6"/><circle cx="428.8" cy="1197.3"/><circle cx="356.5" cy="1268.4"/><circle cx="298.6" cy="1301.6"/><circle cx="288.2" cy="1202.8"/><circle cx="313.3" cy="1212.3"/><circle cx="372.8" cy="1204.6"/><circle cx="217.5" cy="1183.3"/><circle cx="201.9" cy="1173.5"/><circle cx="177.2" cy="1187.8"/><circle cx="254.1" cy="1239.7"/><circle cx="392.1" cy="1090.4"/><circle cx="448.3" cy="1263.9"/><circle cx="354.3" cy="1260.3"/><circle cx="258.9" cy="1195"/><circle cx="374.1" cy="1171.3"/><circle cx="389.4" cy="1221.5"/><circle cx="218.7" cy="1108.4"/><circle cx="342.9" cy="1293"/><circle cx="360.9" cy="1266.6"/><circle cx="270.6" cy="1105.2"/><circle cx="218.4" cy="1152.4"/><circle cx="206.5" cy="1055.1"/><circle cx="265.3" cy="1094.2"/><circle cx="404.5" cy="1012"/><circle cx="188.7" cy="1080.7"/><circle cx="315.3" cy="1235.3"/><circle cx="184.2" cy="1241.2"/><circle cx="385.3" cy="1204.3"/><circle cx="273.7" cy="1260.4"/><circle cx="136.5" cy="1099.9"/><circle cx="289.5" cy="1260.1"/><circle cx="321.7" cy="1084.3"/><circle cx="257" cy="1224.1"/><circle cx="256.5" cy="1264.5"/><circle cx="252.9" cy="1166.2"/><circle cx="127.3" cy="1081.9"/><circle cx="213.8" cy="1281.1"/><circle cx="444.3" cy="1046.4"/><circle cx="196.3" cy="1175.7"/><circle cx="415.7" cy="1199"/><circle cx="269.4" cy="1165.8"/><circle cx="239.9" cy="1107.1"/><circle cx="195" cy="1143.2"/><circle cx="220.8" cy="1290.1"/><circle cx="378.2" cy="1117.7"/><circle cx="182.3" cy="1163.1"/><circle cx="373.8" cy="1130.1"/><circle cx="196" cy="1093.1"/><circle cx="390.5" cy="1223.9"/><circle cx="173.6" cy="1100.3"/><circle cx="406.2" cy="1094.8"/><circle cx="233.5" cy="1189"/><circle cx="346.3" cy="1171"/><circle cx="185.6" cy="1142.2"/><circle cx="222.9" cy="1061.2"/><circle cx="180.5" cy="1313.9"/><circle cx="168.5" cy="1169.6"/><circle cx="208" cy="1219.9"/><circle cx="338.2" cy="1197.6"/><circle cx="283" cy="1311.7"/><circle cx="210.6" cy="1143.3"/><circle cx="302.4" cy="1071.5"/><circle cx="345.8" cy="1319.5"/><circle cx="456.4" cy="1294.1"/><circle cx="258" cy="1149.4"/><circle cx="180.7" cy="1103.4"/><circle cx="189.5" cy="995.8"/><circle cx="340.8" cy="1204.1"/><circle cx="244.3" cy="1310.5"/><circle cx="415.2" cy="1221.4"/><circle cx="251.8" cy="977.6"/><circle cx="240.2" cy="1279.4"/><circle cx="368.2" cy="1201.2"/><circle cx="187.2" cy="1275.8"/><circle cx="273.3" cy="1255.3"/><circle cx="434.5" cy="1284.9"/><circle cx="340.6" cy="1191.4"/><circle cx="205.5" cy="1113.8"/><circle cx="163.7" cy="1147.6"/><circle cx="288.5" cy="1177"/><circle cx="322.1" cy="1237.6"/><circle cx="426.3" cy="1160.3"/><circle cx="145.2" cy="991.9"/><circle cx="281.3" cy="1314.2"/><circle cx="424.8" cy="1177.9"/><circle cx="247.1" cy="1220.7"/><circle cx="365.2" cy="1168.5"/><circle cx="188.6" cy="1115.5"/><circle cx="250.6" cy="1321.7"/><circle cx="310.4" cy="1055.8"/><circle cx="158.8" cy="1156.9"/><circle cx="201" cy="1073.5"/><circle cx="193" cy="1074.4"/><circle cx="332.8" cy="1157"/><circle cx="440.9" cy="1130.7"/><circle cx="262.4" cy="1266.2"/><circle cx="342" cy="1330.2"/><circle cx="268.3" cy="1195.6"/><circle cx="259.8" cy="1104.1"/><circle cx="362" cy="1233.5"/><circle cx="299.4" cy="1115.8"/><circle cx="306" cy="1257"/><circle cx="204" cy="1188.1"/><circle cx="249.3" cy="1076.3"/><circle cx="253.6" cy="1089.7"/><circle cx="377.1" cy="1254.5"/><circle cx="236.7" cy="1123.2"/><circle cx="319.1" cy="1066.6"/><circle cx="222.7" cy="1064.6"/><circle cx="295.2" cy="1305.5"/><circle cx="300.5" cy="1100.8"/><circle cx="380.5" cy="1149.2"/><circle cx="221.8" cy="1128.2"/><circle cx="244.4" cy="1072"/><circle cx="351.1" cy="1138.7"/><circle cx="240.2" cy="1173.7"/><circle cx="276" cy="1313.8"/><circle cx="438.8" cy="1155.4"/><circle cx="337.7" cy="1177.8"/><circle cx="226.4" cy="1140.8"/><circle cx="224.5" cy="1218.3"/><circle cx="268.2" cy="1146.4"/><circle cx="261.7" cy="1218.5"/><circle cx="402.2" cy="1251.4"/><circle cx="403.1" cy="1071.8"/><circle cx="180.2" cy="1132.3"/><circle cx="376.7" cy="1071.8"/><circle cx="244.8" cy="1066"/><circle cx="284.8" cy="1119.3"/><circle cx="299.4" cy="1308.5"/><circle cx="360.9" cy="1183.7"/><circle cx="265.1" cy="1082.9"/><circle cx="342.7" cy="1104.2"/><circle cx="323.7" cy="1159.3"/><circle cx="427.6" cy="1237.8"/><circle cx="459.3" cy="1064.8"/><circle cx="188.8" cy="1269.2"/><circle cx="344.2" cy="1097.8"/><circle cx="333.3" cy="1174.7"/><circle cx="238.1" cy="1152"/><circle cx="347.8" cy="1198.9"/><circle cx="262.6" cy="1095"/><circle cx="356.2" cy="1265.7"/><circle cx="250.2" cy="1283.9"/><circle cx="238.2" cy="1115.1"/><circle cx="159.4" cy="1178.2"/><circle cx="203.7" cy="1179.1"/><circle cx="297.4" cy="1121.4"/><circle cx="291.5" cy="1118.9"/><circle cx="136.1" cy="1096.9"/><circle cx="263.7" cy="1132.8"/><circle cx="190.7" cy="1286.3"/><circle cx="231.1" cy="1095"/><circle cx="483.4" cy="1173.9"/><circle cx="334.8" cy="1310.4"/><circle cx="289" cy="1307.9"/><circle cx="204" cy="1216.8"/><circle cx="108.9" cy="1030.1"/><circle cx="306.1" cy="1270.3"/><circle cx="453.6" cy="1166.7"/><circle cx="487.5" cy="1187.4"/><circle cx="211.5" cy="1120.8"/><circle cx="352.7" cy="1220.9"/><circle cx="203.5" cy="1176.1"/><circle cx="363" cy="1172"/><circle cx="387.3" cy="1134.2"/><circle cx="253.1" cy="1036.9"/><circle cx="374" cy="1174.8"/><circle cx="284.3" cy="1203.7"/><circle cx="328.6" cy="1199.6"/><circle cx="255.9" cy="1103.2"/><circle cx="206.5" cy="1066.4"/><circle cx="330.2" cy="1154.5"/><circle cx="238.1" cy="1190.4"/><circle cx="268.2" cy="1070.9"/><circle cx="214.4" cy="1257.6"/><circle cx="162.9" cy="1320.4"/><circle cx="296" cy="1194.3"/><circle cx="235.8" cy="1320.2"/><circle cx="210.9" cy="1135.2"/><circle cx="301.6" cy="1073"/><circle cx="183.7" cy="1171.1"/><circle cx="229" cy="1226.1"/><circle cx="232.6" cy="1048.6"/><circle cx="339.3" cy="1097.4"/><circle cx="372.7" cy="1145.6"/><circle cx="289.7" cy="1169.3"/><circle cx="389.5" cy="1198.6"/><circle cx="227.1" cy="1261.3"/><circle cx="288" cy="1270.3"/><circle cx="293" cy="1140.4"/><circle cx="395.5" cy="1253.5"/><circle cx="275" cy="1297.4"/><circle cx="207.3" cy="1285.2"/><circle cx="238" cy="1166.2"/><circle cx="198.6" cy="1293"/><circle cx="276.9" cy="1267.9"/><circle cx="227.9" cy="1185.1"/><circle cx="163.7" cy="1132.2"/><circle cx="354.9" cy="1188.2"/><circle cx="229.1" cy="1186.5"/><circle cx="236.1" cy="1159.6"/><circle cx="308.4" cy="1316.3"/><circle cx="166.6" cy="1156.5"/><circle cx="374.7" cy="1294.9"/><circle cx="134.4" cy="1158.3"/><circle cx="214.3" cy="1261.5"/><circle cx="263.7" cy="1148"/><circle cx="165.8" cy="1071.9"/><circle cx="328.7" cy="1183.3"/><circle cx="283.8" cy="1092.5"/><circle cx="227.1" cy="1044.5"/><circle cx="314.4" cy="1169"/><circle cx="260.4" cy="1168.5"/><circle cx="116" cy="1082.4"/><circle cx="340.3" cy="1135.7"/><circle cx="213.8" cy="1190.4"/><circle cx="204.1" cy="1315.9"/><circle cx="269.4" cy="1081.3"/><circle cx="230" cy="1178.8"/><circle cx="137.2" cy="1133"/><circle cx="246.5" cy="1191.5"/><circle cx="306" cy="1116.3"/><circle cx="349" cy="1168.6"/><circle cx="273.2" cy="1240.3"/><circle cx="191.7" cy="1001.9"/><circle cx="349" cy="1249.1"/><circle cx="326.7" cy="1302.5"/><circle cx="170.6" cy="1121.3"/><circle cx="322.2" cy="1143.2"/><circle cx="447.2" cy="1252.7"/><circle cx="211.9" cy="1266"/><circle cx="210.8" cy="1174.1"/><circle cx="380.3" cy="1204.6"/><circle cx="328.2" cy="1158.4"/><circle cx="245" cy="1102.5"/><circle cx="219.7" cy="1258.9"/><circle cx="184.1" cy="1094.4"/><circle cx="381.5" cy="1211.7"/><circle cx="323.8" cy="1090.2"/><circle cx="275.1" cy="1057.1"/><circle cx="212.5" cy="1091"/><circle cx="447.1" cy="1178.9"/><circle cx="353.7" cy="1147.1"/><circle cx="342" cy="1110.7"/><circle cx="198.8" cy="1255.1"/><circle cx="187.8" cy="1080.6"/><circle cx="262" cy="1236.7"/><circle cx="307.8" cy="1137.6"/><circle cx="254.8" cy="1115.2"/><circle cx="235" cy="1128.6"/><circle cx="378.5" cy="1176.9"/><circle cx="220.9" cy="1119.5"/><circle cx="348.8" cy="1222.8"/><circle cx="283.1" cy="1032.9"/><circle cx="224.8" cy="1038.7"/><circle cx="375.9" cy="1104"/><circle cx="408.3" cy="1111.1"/><circle cx="156.1" cy="1159.9"/><circle cx="254.1" cy="1079.4"/><circle cx="241.9" cy="1101.6"/><circle cx="358.2" cy="1291.2"/><circle cx="251.4" cy="1056.2"/><circle cx="362.3" cy="1224"/><circle cx="265.6" cy="1276"/><circle cx="199.7" cy="1316.9"/><circle cx="373.4" cy="1095.3"/><circle cx="142.5" cy="1175.3"/><circle cx="354.8" cy="1127.6"/><circle cx="179.6" cy="1130.2"/><circle cx="322.9" cy="1243.5"/><circle cx="276" cy="1065.7"/><circle cx="296.9" cy="1173.5"/><circle cx="224.8" cy="1201.3"/><circle cx="365" cy="1271.4"/><circle cx="244.3" cy="1163.7"/><circle cx="422.7" cy="1126.1"/><circle cx="156.1" cy="1085.1"/><circle cx="290.2" cy="1143.7"/><circle cx="145.9" cy="1126.1"/><circle cx="400.8" cy="1182.3"/><circle cx="385.2" cy="1200.9"/><circle cx="189.8" cy="1060.8"/><circle cx="221.1" cy="1300.5"/><circle cx="249.3" cy="1248.8"/><circle cx="221.5" cy="1114.6"/><circle cx="224.2" cy="1322.8"/><circle cx="399.1" cy="1123.4"/><circle cx="346.8" cy="1120.2"/><circle cx="366.5" cy="1177.1"/><circle cx="132.5" cy="1179.4"/><circle cx="366.4" cy="1102.6"/><circle cx="366.2" cy="1200.3"/><circle cx="277.5" cy="1148"/><circle cx="368" cy="1130.7"/><circle cx="202.8" cy="1107.6"/><circle cx="460.6" cy="1140.3"/><circle cx="374.3" cy="1162"/><circle cx="328.7" cy="1121.1"/><circle cx="333.1" cy="1039.1"/><circle cx="401.9" cy="1196.4"/><circle cx="330.1" cy="1237.4"/><circle cx="153.6" cy="1144.9"/><circle cx="239.1" cy="1306.7"/><circle cx="272.6" cy="1207.1"/><circle cx="134.8" cy="1056.8"/><circle cx="188.3" cy="1188.3"/><circle cx="284.3" cy="1088.8"/><circle cx="170.8" cy="990.2"/><circle cx="328.1" cy="1218.5"/><circle cx="289.8" cy="1246.8"/><circle cx="362.7" cy="1155.4"/><circle cx="241.1" cy="1299.4"/><circle cx="298.6" cy="1236.8"/><circle cx="308.1" cy="1132.8"/><circle cx="228.4" cy="1118.1"/><circle cx="390.9" cy="1196.8"/><circle cx="407.2" cy="1216.6"/><circle cx="310.6" cy="1120.5"/><circle cx="404.2" cy="1234.9"/><circle cx="388.4" cy="1177.7"/><circle cx="345.2" cy="1116.2"/><circle cx="274.1" cy="1307"/><circle cx="199" cy="1042.2"/><circle cx="199.3" cy="1014.8"/><circle cx="198.9" cy="1158.6"/><circle cx="359.8" cy="1246.7"/><circle cx="277" cy="1129.1"/><circle cx="330.5" cy="1057.4"/><circle cx="274.6" cy="1182.4"/><circle cx="361.6" cy="1192.9"/><circle cx="375.1" cy="1204.7"/><circle cx="227" cy="1190.9"/><circle cx="317.2" cy="1296.5"/><circle cx="335.9" cy="1217.9"/><circle cx="194.5" cy="1200.4"/><circle cx="123.9" cy="1118.2"/><circle cx="251.4" cy="1092.4"/><circle cx="213.6" cy="1205.4"/><circle cx="283.5" cy="1106.5"/><circle cx="294.3" cy="1137.6"/><circle cx="263.8" cy="1157.1"/><circle cx="387.2" cy="1278.1"/><circle cx="263.7" cy="1197.2"/><circle cx="176.7" cy="1068.3"/><circle cx="338.1" cy="1299.3"/><circle cx="252.6" cy="1273"/><circle cx="295.1" cy="1090"/><circle cx="240.7" cy="1196.4"/><circle cx="356.6" cy="1117.8"/><circle cx="198" cy="1128.7"/><circle cx="232" cy="1245.5"/><circle cx="215" cy="1276.7"/><circle cx="316" cy="1309.7"/><circle cx="385.4" cy="1217.3"/><circle cx="152.3" cy="1165"/><circle cx="173.7" cy="1060"/><circle cx="161.2" cy="993.7"/><circle cx="215.2" cy="1233.9"/><circle cx="384" cy="1214.1"/><circle cx="272.7" cy="1303.8"/><circle cx="203" cy="1155"/><circle cx="384.6" cy="1118.9"/><circle cx="137.6" cy="1196.9"/><circle cx="205.5" cy="1137.3"/><circle cx="307" cy="1223.4"/><circle cx="324.5" cy="1191.7"/><circle cx="272.9" cy="1082.4"/><circle cx="368.3" cy="1108.6"/><circle cx="306.6" cy="1304.6"/><circle cx="211.6" cy="1098.4"/><circle cx="176.4" cy="1091.2"/><circle cx="280.7" cy="1328.8"/><circle cx="122.7" cy="1215.7"/><circle cx="265.9" cy="1296.3"/><circle cx="164" cy="1193.9"/><circle cx="497.3" cy="1218"/><circle cx="330" cy="1176.9"/><circle cx="265.9" cy="1329.7"/><circle cx="227.8" cy="1123"/><circle cx="251.9" cy="1052.4"/><circle cx="165.3" cy="1112.3"/><circle cx="189" cy="1246.6"/><circle cx="474.7" cy="1183"/><circle cx="157.9" cy="1047.8"/><circle cx="317.4" cy="1161.1"/><circle cx="218.9" cy="1193.8"/><circle cx="305.4" cy="1094.4"/><circle cx="245.8" cy="1230.1"/><circle cx="222.9" cy="1122.6"/><circle cx="378.3" cy="1147.6"/><circle cx="240.9" cy="1084.2"/><circle cx="328.8" cy="1056.4"/><circle cx="395.7" cy="1244.5"/><circle cx="345.7" cy="1095.6"/><circle cx="220.8" cy="1069.4"/><circle cx="312.2" cy="1077.5"/><circle cx="380.8" cy="1220.9"/><circle cx="323.9" cy="1173.8"/><circle cx="195" cy="1201.7"/><circle cx="154.6" cy="1124.7"/><circle cx="252.9" cy="1194.5"/><circle cx="321.2" cy="1075"/><circle cx="300.4" cy="1317.9"/><circle cx="256.7" cy="1281.5"/><circle cx="192.5" cy="1150.2"/><circle cx="275.2" cy="1214.8"/><circle cx="326" cy="1297.5"/><circle cx="278.5" cy="1123.1"/><circle cx="283.7" cy="1277.8"/><circle cx="236.2" cy="1127.2"/><circle cx="315.1" cy="1161.6"/><circle cx="487.7" cy="1218.8"/><circle cx="189.9" cy="1195.3"/><circle cx="176.7" cy="1303.9"/><circle cx="254.8" cy="1066.7"/><circle cx="288.7" cy="1234.7"/><circle cx="116.4" cy="1160.5"/><circle cx="322.2" cy="1233.5"/><circle cx="192.8" cy="1313.2"/><circle cx="253.5" cy="1290.8"/><circle cx="121.2" cy="1072.4"/><circle cx="229.2" cy="1294.6"/><circle cx="208.3" cy="1250.6"/><circle cx="156" cy="1213.9"/><circle cx="192.5" cy="1099.1"/><circle cx="288.8" cy="1139.2"/><circle cx="154.9" cy="1105.8"/><circle cx="199.3" cy="1238.2"/><circle cx="121" cy="1180.1"/><circle cx="393.7" cy="1169.5"/><circle cx="203.6" cy="1220.1"/><circle cx="338.6" cy="1150.9"/><circle cx="151.5" cy="1080.7"/><circle cx="153.2" cy="1080.8"/><circle cx="295.7" cy="1183.7"/><circle cx="488.7" cy="1198.9"/><circle cx="382.6" cy="1272.2"/><circle cx="204" cy="1263.3"/><circle cx="273.2" cy="1105.8"/><circle cx="352.3" cy="1257.8"/><circle cx="405.1" cy="1256.5"/><circle cx="234.1" cy="1220.2"/><circle cx="333.5" cy="1172.1"/><circle cx="289.1" cy="1200.7"/><circle cx="434.4" cy="1191.2"/><circle cx="376.4" cy="1209.7"/><circle cx="399.4" cy="1264.3"/><circle cx="514.6" cy="1176.1"/><circle cx="354.2" cy="1210.4"/><circle cx="309.9" cy="1104.8"/><circle cx="465" cy="1156.7"/><circle cx="176.6" cy="1111.9"/><circle cx="488" cy="1261"/><circle cx="260.8" cy="1303.4"/><circle cx="247.6" cy="1057"/><circle cx="298.6" cy="1227.6"/><circle cx="305.6" cy="1147.9"/><circle cx="380.5" cy="1168.4"/><circle cx="235.3" cy="1110.6"/><circle cx="333" cy="1191.5"/><circle cx="174.8" cy="1013.2"/><circle cx="229.1" cy="1058.2"/><circle cx="413.4" cy="1231.5"/><circle cx="239.4" cy="1301.6"/><circle cx="480.7" cy="1159.8"/><circle cx="172" cy="1197.1"/><circle cx="298.7" cy="1101.9"/><circle cx="270.8" cy="1322"/><circle cx="252.6" cy="1292.8"/><circle cx="208.5" cy="1324.3"/><circle cx="227.3" cy="1146.8"/><circle cx="253.4" cy="1155.1"/><circle cx="441.7" cy="1191.8"/><circle cx="353.3" cy="1157.2"/><circle cx="209.7" cy="1092.7"/><circle cx="250" cy="1204.7"/><circle cx="255" cy="1246"/><circle cx="335.3" cy="1099.2"/><circle cx="497" cy="1131.9"/><circle cx="294.1" cy="1240.7"/><circle cx="345.3" cy="986.2"/><circle cx="328.4" cy="1175.5"/><circle cx="237.8" cy="1111.4"/><circle cx="281.8" cy="1071.6"/><circle cx="251.8" cy="1177.7"/><circle cx="290.6" cy="1317.2"/><circle cx="114" cy="1094.3"/><circle cx="186.3" cy="1220.9"/><circle cx="195" cy="1256.1"/><circle cx="255.3" cy="1137.3"/><circle cx="264.4" cy="1060.5"/><circle cx="277.1" cy="1009.5"/><circle cx="254.1" cy="1045.4"/><circle cx="271.4" cy="1203.1"/><circle cx="240.8" cy="1149.8"/><circle cx="373.3" cy="1260.1"/><circle cx="179.6" cy="1174.1"/><circle cx="279.4" cy="1057.7"/><circle cx="341" cy="1187.5"/><circle cx="250.7" cy="1033.9"/><circle cx="348.1" cy="1153.8"/><circle cx="219.1" cy="1188.4"/><circle cx="305.4" cy="1199"/><circle cx="332.4" cy="1084.6"/><circle cx="329" cy="1030.1"/><circle cx="379" cy="1129.8"/><circle cx="230.9" cy="1164.1"/><circle cx="411.7" cy="1152"/><circle cx="344.9" cy="1254.1"/><circle cx="223.2" cy="1178.2"/><circle cx="376.8" cy="1290.2"/><circle cx="268.7" cy="1265.7"/><circle cx="218.9" cy="1227.3"/><circle cx="228.3" cy="1095.3"/><circle cx="219.9" cy="1173.3"/><circle cx="136.4" cy="1115.9"/><circle cx="273.1" cy="1185.6"/><circle cx="96.3" cy="1106.9"/><circle cx="317.5" cy="1219.8"/><circle cx="330.9" cy="1129.6"/><circle cx="252.8" cy="1047.5"/><circle cx="189.4" cy="1103.3"/><circle cx="392.8" cy="1208.9"/><circle cx="230.3" cy="1079.8"/><circle cx="212.5" cy="1269.8"/><circle cx="248.3" cy="1167.6"/><circle cx="193.5" cy="1093.1"/><circle cx="351.3" cy="1278.7"/><circle cx="210.9" cy="1147.9"/><circle cx="214.3" cy="1209.9"/><circle cx="312.1" cy="1187.2"/><circle cx="367" cy="1174.1"/><circle cx="301.8" cy="1217.3"/><circle cx="213.7" cy="1110.3"/><circle cx="349" cy="1070.6"/><circle cx="393.6" cy="1183.5"/><circle cx="329.7" cy="998.1"/><circle cx="330.9" cy="1217.4"/><circle cx="261.7" cy="1181.8"/><circle cx="371.2" cy="1114.6"/><circle cx="271" cy="1077"/><circle cx="422.4" cy="1086.5"/><circle cx="292.9" cy="1112"/><circle cx="224.9" cy="1212"/><circle cx="141.5" cy="988.3"/><circle cx="252.9" cy="1266.6"/><circle cx="308.7" cy="1138.7"/><circle cx="230.6" cy="1153.8"/><circle cx="186.5" cy="1187.6"/><circle cx="272" cy="1100.5"/><circle cx="251.5" cy="1299.7"/><circle cx="217.2" cy="1090.8"/><circle cx="195" cy="1238.1"/><circle cx="123.6" cy="1145.9"/><circle cx="341.2" cy="1131.2"/><circle cx="287.3" cy="1238.7"/><circle cx="150.4" cy="1116.9"/><circle cx="262.7" cy="1079.9"/><circle cx="277.5" cy="1287.9"/><circle cx="232.6" cy="1147.9"/><circle cx="341" cy="1120.7"/><circle cx="374.2" cy="1255.7"/><circle cx="280.8" cy="1200.5"/><circle cx="226.8" cy="1319.9"/><circle cx="318.7" cy="1199.2"/><circle cx="308.2" cy="1081"/><circle cx="213.2" cy="1182.4"/><circle cx="254.9" cy="1098"/><circle cx="281.1" cy="1193.8"/><circle cx="173.1" cy="1156.4"/><circle cx="302.2" cy="1204.7"/><circle cx="303.1" cy="1182.1"/><circle cx="306.5" cy="1121.6"/><circle cx="257.5" cy="1243.5"/><circle cx="226.7" cy="1027.2"/><circle cx="356" cy="1222.2"/><circle cx="239.6" cy="1070.8"/><circle cx="364.7" cy="1219.2"/><circle cx="255.5" cy="1214.2"/><circle cx="308.1" cy="1242.9"/><circle cx="158.7" cy="1209.6"/><circle cx="146.4" cy="1119.4"/><circle cx="376.1" cy="1137.9"/><circle cx="276" cy="1127.8"/><circle cx="173.4" cy="1061.1"/><circle cx="317" cy="1229.4"/><circle cx="182.4" cy="1317.1"/><circle cx="357.4" cy="1111.7"/><circle cx="343.4" cy="1199.5"/><circle cx="224.2" cy="1065.1"/><circle cx="408.4" cy="1148.4"/><circle cx="378.9" cy="1231.3"/><circle cx="246.9" cy="1107.3"/><circle cx="341" cy="1137.5"/><circle cx="404.3" cy="1224.7"/><circle cx="484.4" cy="1140"/><circle cx="373.6" cy="1083.6"/><circle cx="162.8" cy="1146.6"/><circle cx="152.2" cy="1128.8"/><circle cx="195.4" cy="1147.1"/><circle cx="316" cy="1153.9"/><circle cx="172.2" cy="1095.8"/><circle cx="317.5" cy="1145.3"/><circle cx="190" cy="1110.7"/><circle cx="290.4" cy="1211.3"/><circle cx="178.2" cy="1210.2"/><circle cx="368.9" cy="1229.6"/><circle cx="247.7" cy="1097.1"/><circle cx="316.9" cy="1098.7"/><circle cx="366.1" cy="1186.8"/><circle cx="166.2" cy="1089.7"/><circle cx="196.2" cy="1260.6"/><circle cx="265.2" cy="1306.3"/><circle cx="173" cy="1108.4"/><circle cx="275" cy="1192.3"/><circle cx="302.7" cy="1315.2"/><circle cx="218.4" cy="1263.3"/><circle cx="181.8" cy="1097.2"/><circle cx="329.4" cy="1278.5"/><circle cx="430.4" cy="1128.7"/><circle cx="206.5" cy="1183.7"/><circle cx="409.1" cy="1109.5"/><circle cx="325.8" cy="1156.8"/><circle cx="369.6" cy="1264.9"/><circle cx="249.1" cy="1069.7"/><circle cx="365.2" cy="1121.1"/><circle cx="292.1" cy="1238.3"/><circle cx="462.4" cy="1256.1"/><circle cx="203.6" cy="1222.9"/><circle cx="216.4" cy="1235.7"/><circle cx="223.8" cy="1307.2"/><circle cx="261.4" cy="1238.1"/><circle cx="431.4" cy="1190.4"/><circle cx="241.2" cy="1237.9"/><circle cx="209.4" cy="1128.6"/><circle cx="315" cy="1275.7"/><circle cx="269.1" cy="1181.1"/><circle cx="195.7" cy="1091.5"/><circle cx="315.5" cy="1223.7"/><circle cx="432.4" cy="1157.4"/><circle cx="348.2" cy="1304"/><circle cx="151.5" cy="1097.6"/><circle cx="219.4" cy="1104"/><circle cx="425.2" cy="1209.6"/><circle cx="404" cy="1210"/><circle cx="216.9" cy="1284.9"/><circle cx="401.9" cy="1106.4"/><circle cx="120.8" cy="1130.2"/><circle cx="318.6" cy="1056.8"/><circle cx="380.3" cy="1125.9"/><circle cx="375.2" cy="1193.2"/><circle cx="343.4" cy="1208.1"/><circle cx="188.2" cy="1065.4"/><circle cx="313.5" cy="1088"/><circle cx="209.9" cy="1062.8"/><circle cx="360.9" cy="1110.4"/><circle cx="424.5" cy="1198.1"/><circle cx="204.2" cy="1237.5"/><circle cx="300.2" cy="1302.9"/><circle cx="378.6" cy="1198.5"/><circle cx="198.4" cy="1201.3"/><circle cx="305.2" cy="1173.1"/><circle cx="227.8" cy="1268.2"/><circle cx="343.1" cy="1189.1"/><circle cx="221.3" cy="1078.5"/><circle cx="221.9" cy="1215.6"/><circle cx="217.4" cy="1156.2"/><circle cx="239.7" cy="1029.9"/><circle cx="254.7" cy="1259.2"/><circle cx="400.6" cy="1171"/><circle cx="216.2" cy="1309.5"/><circle cx="410.3" cy="1181"/><circle cx="423.3" cy="1187.3"/><circle cx="186.6" cy="1100.4"/><circle cx="350.6" cy="1314.8"/><circle cx="264.6" cy="1125.3"/><circle cx="184.4" cy="1262.6"/><circle cx="217.9" cy="1248.3"/><circle cx="286.4" cy="1186.7"/><circle cx="277.4" cy="1242.9"/><circle cx="159.5" cy="1263.6"/><circle cx="385.6" cy="1083.7"/><circle cx="222.6" cy="1129.1"/><circle cx="325.1" cy="1126.9"/><circle cx="364.6" cy="1141.9"/><circle cx="213.2" cy="1064.1"/><circle cx="323.4" cy="997.6"/><circle cx="285.1" cy="1182.1"/><circle cx="363.5" cy="1257.7"/><circle cx="309.2" cy="1204.8"/><circle cx="390.3" cy="1073.9"/><circle cx="320.2" cy="1266.3"/><circle cx="250.6" cy="1130.6"/><circle cx="304.3" cy="1157.7"/><circle cx="430.2" cy="1204"/><circle cx="346.6" cy="1234.6"/><circle cx="313.9" cy="1218.1"/><circle cx="237.9" cy="1279.8"/><circle cx="403.7" cy="1144.4"/><circle cx="158.6" cy="1155.4"/><circle cx="325.2" cy="1314.9"/><circle cx="252.8" cy="1140.5"/><circle cx="227.8" cy="1051"/><circle cx="283.3" cy="1279.5"/><circle cx="277.8" cy="1256.2"/><circle cx="306.7" cy="1241.3"/><circle cx="155.5" cy="1087.5"/><circle cx="385.8" cy="1150.5"/><circle cx="163.8" cy="1153.7"/><circle cx="147.8" cy="1146.4"/><circle cx="299.7" cy="1047.9"/><circle cx="290.1" cy="1083.9"/><circle cx="359.5" cy="1272.6"/><circle cx="318.1" cy="1079.9"/><circle cx="315.9" cy="1298.5"/><circle cx="244.3" cy="1143"/><circle cx="230.3" cy="1182.8"/><circle cx="167" cy="1036"/><circle cx="302.7" cy="1256.4"/><circle cx="377.7" cy="1218.6"/><circle cx="270.6" cy="1192.2"/><circle cx="327.3" cy="1069.3"/><circle cx="326.3" cy="1287.9"/><circle cx="128.7" cy="1189.1"/><circle cx="320.1" cy="1177.1"/><circle cx="260.3" cy="1269"/><circle cx="403.8" cy="1141.8"/><circle cx="189.9" cy="1230.8"/><circle cx="346.6" cy="1241.1"/><circle cx="261.9" cy="1196"/><circle cx="357.6" cy="1161.5"/><circle cx="163.7" cy="1124.5"/><circle cx="243.4" cy="1117.1"/><circle cx="230.8" cy="1168.2"/><circle cx="220.9" cy="1093.3"/><circle cx="145.7" cy="1118.1"/><circle cx="351.8" cy="1214"/><circle cx="411.2" cy="1255.2"/><circle cx="302.5" cy="1283.5"/><circle cx="250.2" cy="1144.4"/><circle cx="218.3" cy="1083.7"/><circle cx="220.2" cy="1147"/><circle cx="195.4" cy="1059"/><circle cx="266.5" cy="1116.5"/><circle cx="275.8" cy="1169.9"/><circle cx="294.8" cy="1251.8"/><circle cx="264" cy="1108.3"/><circle cx="358.3" cy="1107.8"/><circle cx="379.3" cy="1135.1"/><circle cx="304.4" cy="1089.8"/><circle cx="125.6" cy="1132.1"/><circle cx="214.8" cy="1309.4"/><circle cx="252.1" cy="1173.8"/><circle cx="216.1" cy="1228.6"/><circle cx="231.8" cy="1194.4"/><circle cx="283.6" cy="1045.6"/><circle cx="173.5" cy="1316.6"/><circle cx="293.3" cy="1198.9"/><circle cx="320" cy="1275.2"/><circle cx="331.4" cy="1297.1"/><circle cx="220.4" cy="1248.7"/><circle cx="295.2" cy="1176.2"/><circle cx="355.1" cy="1143.3"/><circle cx="184.8" cy="1220.6"/><circle cx="284.4" cy="1056.1"/><circle cx="146.9" cy="1041.1"/><circle cx="241.5" cy="1058.5"/><circle cx="286.5" cy="1319"/><circle cx="295.1" cy="1187.6"/><circle cx="379.2" cy="1167"/><circle cx="257.5" cy="1217.2"/><circle cx="301.4" cy="1081.1"/><circle cx="126.3" cy="1217.5"/><circle cx="393.3" cy="1138.3"/><circle cx="276.4" cy="1167.8"/><circle cx="342.8" cy="1036.6"/><circle cx="235.2" cy="1055.4"/><circle cx="343" cy="1090.4"/><circle cx="448" cy="1191.3"/><circle cx="297.8" cy="1086.3"/><circle cx="186.7" cy="1032.7"/><circle cx="279" cy="1216.9"/><circle cx="210.7" cy="1311.6"/><circle cx="269.7" cy="1269.5"/><circle cx="457.8" cy="1127"/><circle cx="203.2" cy="1247.4"/><circle cx="161.8" cy="1282.2"/><circle cx="188" cy="1098.1"/><circle cx="242.5" cy="1228.7"/><circle cx="228.6" cy="1284.2"/><circle cx="316.9" cy="987.3"/><circle cx="177.9" cy="1171.3"/><circle cx="281" cy="1232.7"/><circle cx="153.1" cy="998.8"/><circle cx="217.3" cy="1269.8"/><circle cx="254.2" cy="1309"/><circle cx="306.6" cy="1084.9"/><circle cx="225" cy="1105.6"/><circle cx="146.4" cy="1154"/><circle cx="130.6" cy="1041.1"/><circle cx="262.6" cy="1111.2"/><circle cx="299.7" cy="1234.6"/><circle cx="308.3" cy="1272.1"/><circle cx="212.2" cy="1101.7"/><circle cx="171.7" cy="1189.9"/><circle cx="300.7" cy="1160.2"/><circle cx="191.9" cy="1208.3"/><circle cx="210.8" cy="1320.1"/><circle cx="314" cy="1074"/><circle cx="231" cy="1300.2"/><circle cx="179.8" cy="1155"/><circle cx="368.8" cy="1155"/><circle cx="165" cy="1074"/><circle cx="177" cy="1049.6"/><circle cx="450.4" cy="1205.8"/><circle cx="383.6" cy="1097.5"/><circle cx="329.9" cy="1177.7"/><circle cx="213.4" cy="1292.3"/><circle cx="208.8" cy="1253.8"/><circle cx="326.6" cy="1101.6"/><circle cx="357.5" cy="1247.1"/><circle cx="274.7" cy="1311.1"/><circle cx="217.3" cy="1064.7"/><circle cx="182.6" cy="1160"/><circle cx="211.5" cy="1275.9"/><circle cx="368.6" cy="1182.4"/><circle cx="197.2" cy="1218.7"/><circle cx="248" cy="1298.5"/><circle cx="145.3" cy="1239.9"/><circle cx="233.6" cy="1051.8"/><circle cx="345.1" cy="1158.5"/><circle cx="282.1" cy="1223"/><circle cx="408.8" cy="1205.7"/><circle cx="164.6" cy="1172.8"/><circle cx="242" cy="1090"/><circle cx="133.8" cy="1139.5"/><circle cx="384.3" cy="1138.8"/><circle cx="262.3" cy="1030.7"/><circle cx="165.2" cy="1116.4"/><circle cx="168.6" cy="1193"/><circle cx="292.9" cy="1254.8"/><circle cx="215.4" cy="1245.7"/><circle cx="235.6" cy="1059.7"/><circle cx="259.7" cy="1155.3"/><circle cx="243.5" cy="1211.3"/><circle cx="349.3" cy="1194.7"/><circle cx="169" cy="1097"/><circle cx="326.9" cy="1089.8"/><circle cx="233.5" cy="1180"/><circle cx="408.8" cy="1179"/><circle cx="309.4" cy="1073.1"/><circle cx="168.6" cy="975.1"/><circle cx="239.7" cy="1234.6"/><circle cx="164.1" cy="1184.5"/><circle cx="167.3" cy="1290.9"/><circle cx="145.8" cy="1137.7"/><circle cx="401.9" cy="1150.3"/><circle cx="353.8" cy="1253.6"/><circle cx="319.3" cy="1153.6"/><circle cx="319" cy="1269.4"/><circle cx="372" cy="1184.1"/><circle cx="162.5" cy="1137.1"/><circle cx="368.1" cy="1138.1"/><circle cx="422.8" cy="1280"/><circle cx="232.9" cy="1240.5"/><circle cx="203.9" cy="1138"/><circle cx="186.4" cy="1128.8"/><circle cx="415.7" cy="1230.7"/><circle cx="238.1" cy="1077.8"/><circle cx="377" cy="1277.6"/><circle cx="234.5" cy="1118.5"/><circle cx="307.7" cy="1262.5"/><circle cx="229" cy="1178.8"/><circle cx="418.2" cy="1232"/><circle cx="257.1" cy="1049.7"/><circle cx="499.6" cy="1254.6"/><circle cx="218.5" cy="1301.2"/><circle cx="370.9" cy="1247.8"/><circle cx="339.3" cy="1251.5"/><circle cx="283.5" cy="1291"/><circle cx="432.1" cy="1227.9"/><circle cx="375.4" cy="1237"/><circle cx="312.5" cy="1292.3"/><circle cx="205.8" cy="1168.3"/><circle cx="258.5" cy="1198.9"/><circle cx="441.2" cy="1085.4"/><circle cx="270.5" cy="1156.6"/><circle cx="123.8" cy="1116.4"/><circle cx="202" cy="1082.1"/><circle cx="242.8" cy="1307.4"/><circle cx="195.4" cy="1063.7"/><circle cx="309.1" cy="1185.6"/><circle cx="242.9" cy="1141"/><circle cx="392.4" cy="1268.2"/><circle cx="388.9" cy="1186.8"/><circle cx="255.8" cy="1122.2"/><circle cx="269.2" cy="1209.1"/><circle cx="274.3" cy="1059.5"/><circle cx="374.3" cy="1146.8"/><circle cx="317.5" cy="1122.7"/><circle cx="502.1" cy="1151.8"/><circle cx="266.9" cy="1119.2"/><circle cx="191.9" cy="1108.5"/><circle cx="382.7" cy="1214.6"/><circle cx="168.6" cy="1219.1"/><circle cx="415.7" cy="1227.1"/><circle cx="289.7" cy="1290.6"/><circle cx="306.9" cy="1102.8"/><circle cx="251.1" cy="1279.2"/><circle cx="369.3" cy="1328.5"/><circle cx="251.4" cy="1278.2"/><circle cx="256.3" cy="1109.8"/><circle cx="376.5" cy="1267.4"/><circle cx="408.2" cy="1175.6"/><circle cx="472.8" cy="1177.3"/><circle cx="242.8" cy="1224.9"/><circle cx="395.4" cy="1230.9"/><circle cx="151.1" cy="1094"/><circle cx="277.5" cy="1302"/><circle cx="334.5" cy="1059.4"/><circle cx="304.4" cy="1233.1"/><circle cx="154.9" cy="1175.6"/><circle cx="172.4" cy="1187.3"/><circle cx="233.2" cy="1207.4"/><circle cx="323.6" cy="1202"/><circle cx="272.3" cy="1123.7"/><circle cx="250.9" cy="1114.1"/><circle cx="183.4" cy="1128.3"/><circle cx="335.9" cy="1264.9"/><circle cx="151.1" cy="1198.6"/><circle cx="190" cy="1084.9"/><circle cx="380.3" cy="1112.8"/><circle cx="500.1" cy="1255.6"/><circle cx="324.5" cy="1247"/><circle cx="267.8" cy="1073"/><circle cx="359.3" cy="1159.2"/><circle cx="244" cy="1219.3"/><circle cx="223.2" cy="1193.9"/><circle cx="162.2" cy="1068.2"/><circle cx="312" cy="1163.2"/><circle cx="174" cy="1116.5"/><circle cx="254.2" cy="1026.7"/><circle cx="247.7" cy="1063.3"/><circle cx="221.1" cy="1038.6"/><circle cx="348.9" cy="1005.2"/><circle cx="246.6" cy="1080.1"/><circle cx="238.4" cy="1213"/><circle cx="380" cy="1224.4"/><circle cx="311.9" cy="1182.7"/><circle cx="194.9" cy="1025"/><circle cx="405.4" cy="1163.3"/><circle cx="239.4" cy="1135.3"/><circle cx="194.6" cy="1279.4"/><circle cx="326.4" cy="1109.6"/><circle cx="323.1" cy="1101"/><circle cx="306" cy="1286.9"/><circle cx="213.3" cy="1163.6"/><circle cx="349.4" cy="1164.1"/><circle cx="338.1" cy="1128.4"/><circle cx="362.8" cy="1078.1"/><circle cx="288.3" cy="1302.8"/><circle cx="283.2" cy="1139.6"/><circle cx="321.2" cy="1186.3"/><circle cx="395.7" cy="1101.9"/><circle cx="322.5" cy="1257.3"/><circle cx="440.6" cy="1027.3"/><circle cx="173.8" cy="996.4"/><circle cx="325.3" cy="1281.5"/><circle cx="324.1" cy="1162.1"/><circle cx="362.5" cy="1249.3"/><circle cx="384.4" cy="1157.3"/><circle cx="297.3" cy="1154"/><circle cx="342.4" cy="1093.5"/><circle cx="261.2" cy="1102.5"/><circle cx="357.4" cy="1183.7"/><circle cx="284.7" cy="1047.2"/><circle cx="334.3" cy="1178.1"/><circle cx="357.6" cy="1172.2"/><circle cx="305" cy="1092.3"/><circle cx="349.7" cy="1284.8"/><circle cx="316.1" cy="1291.2"/><circle cx="305.5" cy="1246.5"/><circle cx="244.7" cy="1126.1"/><circle cx="291.5" cy="1134.9"/><circle cx="218" cy="1167.3"/><circle cx="370.3" cy="1189.9"/><circle cx="235.5" cy="1134.8"/><circle cx="190.5" cy="1214.9"/><circle cx="311.2" cy="1258.4"/><circle cx="322.6" cy="1034.9"/><circle cx="255.5" cy="1057.9"/><circle cx="122.7" cy="1273.7"/><circle cx="419.4" cy="1263.2"/><circle cx="207.4" cy="1145.9"/><circle cx="453.4" cy="1320.4"/><circle cx="280.5" cy="1195.7"/><circle cx="204.7" cy="1249.5"/><circle cx="215" cy="1218.2"/><circle cx="372.8" cy="1161.5"/><circle cx="199.8" cy="1144"/><circle cx="365.8" cy="1138.3"/><circle cx="404" cy="1197.4"/><circle cx="310.2" cy="1287.1"/><circle cx="315.7" cy="1067.4"/><circle cx="215" cy="1212.7"/><circle cx="225.5" cy="1309.4"/><circle cx="343.1" cy="1225.4"/><circle cx="123.7" cy="1159.9"/><circle cx="207.2" cy="1132.6"/><circle cx="180.7" cy="1135.7"/><circle cx="200.9" cy="1259.2"/><circle cx="326.6" cy="1206.8"/><circle cx="342.6" cy="1142.1"/><circle cx="257.3" cy="1304.2"/><circle cx="311.2" cy="1086.2"/><circle cx="355.6" cy="1201.8"/><circle cx="336.4" cy="1197.7"/><circle cx="214.7" cy="1154.8"/><circle cx="223.7" cy="1278.3"/><circle cx="132.4" cy="1127.2"/><circle cx="164.7" cy="1166.7"/><circle cx="287.2" cy="1284.1"/><circle cx="322.5" cy="1254.9"/><circle cx="234.1" cy="1162.7"/><circle cx="286.6" cy="1085.9"/><circle cx="225.2" cy="1182.9"/><circle cx="311" cy="1171.5"/><circle cx="146.5" cy="1198.2"/><circle cx="214.8" cy="1061.8"/><circle cx="194.7" cy="1214.4"/><circle cx="223.1" cy="1242.5"/><circle cx="332.6" cy="1153.8"/><circle cx="429.3" cy="1334.3"/><circle cx="316.3" cy="1078.5"/><circle cx="371.4" cy="1166.5"/><circle cx="194" cy="1204.7"/><circle cx="342.4" cy="1269.8"/><circle cx="201.7" cy="1102.4"/><circle cx="251.8" cy="1321.6"/><circle cx="338.9" cy="1108"/><circle cx="246.1" cy="1101.6"/><circle cx="294.5" cy="1225.9"/><circle cx="106.1" cy="1151.1"/><circle cx="302" cy="1090.1"/><circle cx="353.4" cy="1216.2"/><circle cx="336.2" cy="1297"/><circle cx="143.7" cy="1022.9"/><circle cx="279.8" cy="1087.2"/><circle cx="123.9" cy="1104.9"/><circle cx="223" cy="1297"/><circle cx="295.4" cy="1093.8"/><circle cx="376" cy="1302.1"/><circle cx="279.1" cy="1324.1"/><circle cx="187.4" cy="1070.7"/><circle cx="340.2" cy="1084.6"/><circle cx="287.9" cy="1074.7"/><circle cx="235.8" cy="1151.8"/><circle cx="182.3" cy="1206.9"/><circle cx="210.4" cy="1257.9"/><circle cx="346.7" cy="1186.3"/><circle cx="346.5" cy="1207.9"/><circle cx="182.5" cy="1139.7"/><circle cx="185" cy="1278.1"/><circle cx="187.2" cy="1106.1"/><circle cx="303.8" cy="1298.1"/><circle cx="438.7" cy="1096.7"/><circle cx="197.2" cy="1174.2"/><circle cx="169.3" cy="1061.5"/><circle cx="206.2" cy="1248.7"/><circle cx="366.4" cy="1271.7"/><circle cx="418.2" cy="1241"/><circle cx="262.6" cy="1284.8"/><circle cx="225.5" cy="1178.1"/><circle cx="139.3" cy="1135.4"/><circle cx="193.2" cy="1057.7"/><circle cx="346.8" cy="1181.3"/><circle cx="203.4" cy="1208.7"/><circle cx="169.8" cy="1252.1"/><circle cx="192.5" cy="1113.6"/><circle cx="295.5" cy="1255.1"/><circle cx="310.4" cy="1094.1"/><circle cx="368.1" cy="1261.7"/><circle cx="227.4" cy="1277.5"/><circle cx="288.1" cy="1315"/><circle cx="183.2" cy="1215.8"/><circle cx="450.1" cy="1155.7"/><circle cx="340.9" cy="1269.9"/><circle cx="134.8" cy="1139.1"/><circle cx="372.8" cy="1133.2"/><circle cx="152" cy="1110.9"/><circle cx="419.7" cy="1175.9"/><circle cx="227.8" cy="1073.6"/><circle cx="264" cy="1224.8"/><circle cx="202.3" cy="1143.8"/><circle cx="304.1" cy="1058.5"/><circle cx="255.1" cy="1225"/><circle cx="330.1" cy="1065.9"/><circle cx="268.6" cy="1189.3"/><circle cx="243.8" cy="1273.2"/><circle cx="429.7" cy="1153"/><circle cx="346.6" cy="1199.9"/><circle cx="287.1" cy="1299.6"/><circle cx="162.5" cy="1063.9"/><circle cx="196.5" cy="1229.8"/><circle cx="258.8" cy="1191.1"/><circle cx="181.9" cy="1280.1"/><circle cx="313.6" cy="1261.9"/><circle cx="419.8" cy="1085.9"/><circle cx="347.4" cy="1051.8"/><circle cx="189.9" cy="1138.8"/><circle cx="381.9" cy="1178.4"/><circle cx="275" cy="1085.7"/><circle cx="391.8" cy="1130.5"/><circle cx="362.5" cy="1269.7"/><circle cx="149.7" cy="1032.6"/><circle cx="332.6" cy="1162.7"/><circle cx="193.1" cy="1089.5"/><circle cx="219.8" cy="1156.8"/><circle cx="300.2" cy="1221.1"/><circle cx="347.7" cy="1271.4"/><circle cx="203.2" cy="1199.7"/><circle cx="361.7" cy="1278.2"/><circle cx="389.9" cy="1067.1"/><circle cx="165.6" cy="1110.1"/><circle cx="400.3" cy="1169.5"/><circle cx="239.8" cy="1230.9"/><circle cx="264.6" cy="1271.1"/><circle cx="173.3" cy="1097.5"/><circle cx="333.4" cy="1061.5"/><circle cx="469.4" cy="1146.6"/><circle cx="378.3" cy="1266.7"/><circle cx="191.3" cy="1064.2"/><circle cx="345.2" cy="1265.8"/><circle cx="292" cy="1105.7"/><circle cx="256" cy="1153.4"/><circle cx="261" cy="1129.8"/><circle cx="97.6" cy="1137.4"/><circle cx="223.9" cy="1261.5"/><circle cx="347.9" cy="1112.9"/><circle cx="457.8" cy="1203.7"/><circle cx="268.9" cy="1091.5"/><circle cx="359.4" cy="1115.1"/><circle cx="275" cy="1203.8"/><circle cx="445.8" cy="1275.9"/><circle cx="226.2" cy="1220.9"/><circle cx="219.9" cy="1223.3"/><circle cx="275.6" cy="1304.8"/><circle cx="219.8" cy="1307.5"/><circle cx="270.5" cy="1191.5"/><circle cx="194" cy="1140.7"/><circle cx="187.4" cy="1200.3"/><circle cx="263.9" cy="1182.5"/><circle cx="398.7" cy="1188.2"/><circle cx="317.6" cy="1262"/><circle cx="270" cy="1128.7"/><circle cx="201.3" cy="1295.9"/><circle cx="330" cy="1083.5"/><circle cx="313.7" cy="1156.5"/><circle cx="381.2" cy="1152.3"/><circle cx="306.8" cy="1105.8"/><circle cx="304" cy="1115.8"/><circle cx="171.8" cy="1083.1"/><circle cx="402.1" cy="1258.8"/><circle cx="262.6" cy="1139.6"/><circle cx="301" cy="1188.5"/><circle cx="178.8" cy="1042.9"/><circle cx="428.2" cy="1167.7"/><circle cx="254.6" cy="1174.7"/><circle cx="429.3" cy="1214.1"/><circle cx="269.6" cy="1085.3"/><circle cx="278.1" cy="1293.8"/><circle cx="246.2" cy="1237.6"/><circle cx="121.8" cy="1110.1"/><circle cx="252" cy="1180.1"/><circle cx="206.7" cy="1306.4"/><circle cx="396.9" cy="1221.9"/><circle cx="140.8" cy="978.4"/><circle cx="459.5" cy="1114.4"/><circle cx="296.6" cy="1207.7"/><circle cx="174.1" cy="1221.4"/><circle cx="261.7" cy="1231.8"/><circle cx="333.2" cy="1067.7"/><circle cx="423.9" cy="1217.7"/><circle cx="212" cy="1301.4"/><circle cx="363.8" cy="1113.9"/><circle cx="178.3" cy="1144.1"/><circle cx="378.6" cy="1145.6"/><circle cx="347.9" cy="1118.9"/><circle cx="465" cy="1167.3"/><circle cx="466.5" cy="1229.8"/><circle cx="370.6" cy="1196.1"/><circle cx="357" cy="1143.4"/><circle cx="184.9" cy="1086.6"/><circle cx="187.4" cy="1161.5"/><circle cx="262.8" cy="1278.4"/><circle cx="437.3" cy="1194.3"/><circle cx="166.1" cy="1146.2"/><circle cx="321" cy="1032"/><circle cx="255.2" cy="1192.9"/><circle cx="318.6" cy="1301.5"/><circle cx="140.1" cy="1145.3"/><circle cx="296.6" cy="1296.3"/><circle cx="333.6" cy="1111"/><circle cx="209.6" cy="1079.6"/><circle cx="229.9" cy="1023.7"/><circle cx="232.6" cy="1106.3"/><circle cx="226.6" cy="1126.1"/><circle cx="288.8" cy="1121.1"/><circle cx="389.3" cy="1161.8"/><circle cx="312.4" cy="1326.5"/><circle cx="226" cy="1068.4"/><circle cx="231.8" cy="1103.9"/><circle cx="449.1" cy="1192.3"/><circle cx="181.8" cy="1233.7"/><circle cx="274.7" cy="1294.6"/><circle cx="263.7" cy="1332.3"/><circle cx="229.8" cy="1205.9"/><circle cx="233.6" cy="1294.9"/><circle cx="338.8" cy="1225"/><circle cx="212.4" cy="1170.3"/><circle cx="196.9" cy="1099.8"/><circle cx="354.5" cy="1226.1"/><circle cx="414.8" cy="1254.9"/><circle cx="293.6" cy="1221.2"/><circle cx="292" cy="1199.1"/><circle cx="333.1" cy="1227"/><circle cx="196.6" cy="1052.9"/><circle cx="266.9" cy="1252.8"/><circle cx="254.1" cy="1233.1"/><circle cx="378" cy="1133.4"/><circle cx="347.8" cy="1320.2"/><circle cx="244" cy="1296.5"/><circle cx="212.2" cy="1247.4"/><circle cx="346.5" cy="1133.7"/><circle cx="372.1" cy="1201.1"/><circle cx="339.5" cy="1279"/><circle cx="222.3" cy="1014.9"/><circle cx="211.9" cy="1286"/><circle cx="358.4" cy="1089.8"/><circle cx="292.5" cy="1104.2"/><circle cx="253.7" cy="1128.7"/><circle cx="301.9" cy="1189.7"/><circle cx="283.4" cy="1145.2"/><circle cx="265" cy="1178.6"/><circle cx="353.5" cy="1179.2"/><circle cx="219.2" cy="1064.7"/><circle cx="288.7" cy="1092.6"/><circle cx="228.1" cy="1290.4"/><circle cx="228.3" cy="1079"/><circle cx="255.4" cy="1051.3"/><circle cx="398.4" cy="1236.1"/><circle cx="354.7" cy="1309.7"/><circle cx="402.9" cy="1156.6"/><circle cx="289.9" cy="1057.2"/><circle cx="328.5" cy="1085.9"/><circle cx="183.7" cy="1124.6"/><circle cx="195.1" cy="1126.4"/><circle cx="245.7" cy="1301.3"/><circle cx="179.1" cy="1147.3"/><circle cx="429.1" cy="1163.7"/><circle cx="370.2" cy="1148.3"/><circle cx="288.6" cy="1317.3"/><circle cx="230.4" cy="1235"/><circle cx="389" cy="1185.1"/><circle cx="190.6" cy="1263"/><circle cx="243.7" cy="1225.9"/><circle cx="222.7" cy="1068.7"/><circle cx="285.3" cy="1199.5"/><circle cx="270.9" cy="1125.7"/><circle cx="393.8" cy="1102.8"/><circle cx="161.9" cy="1224.8"/><circle cx="357.6" cy="1122.7"/><circle cx="360" cy="1198.2"/><circle cx="191.2" cy="1239.8"/><circle cx="224.3" cy="1046.1"/><circle cx="176.8" cy="1210"/><circle cx="234.5" cy="1240.8"/><circle cx="134.6" cy="1146"/><circle cx="179.8" cy="1113.4"/><circle cx="161.4" cy="1084.1"/><circle cx="180.4" cy="1053.2"/><circle cx="397.5" cy="1189"/><circle cx="177.8" cy="1119.9"/><circle cx="330" cy="1223.5"/><circle cx="397.4" cy="1121.6"/><circle cx="232.2" cy="1287.7"/><circle cx="317.2" cy="1131.2"/><circle cx="329.8" cy="1097.7"/><circle cx="431.2" cy="1205.9"/><circle cx="325.1" cy="1220.3"/><circle cx="456.8" cy="1220.3"/><circle cx="183.9" cy="1148"/><circle cx="358.5" cy="1162.8"/><circle cx="400.3" cy="1233.5"/><circle cx="300.7" cy="1140"/><circle cx="381.6" cy="1118.5"/><circle cx="321" cy="1131.6"/><circle cx="257" cy="1241.2"/><circle cx="304.5" cy="1125.5"/><circle cx="245.7" cy="1160.8"/><circle cx="324.5" cy="1117.5"/><circle cx="140.8" cy="1092.3"/><circle cx="161.5" cy="1157.1"/><circle cx="404.3" cy="1231"/><circle cx="182.8" cy="1090.8"/><circle cx="332.5" cy="1257.2"/><circle cx="127.2" cy="1030"/><circle cx="271.8" cy="1074.5"/><circle cx="296.5" cy="1077.1"/><circle cx="415.4" cy="1210.2"/><circle cx="287.6" cy="1279.7"/><circle cx="260.5" cy="1058.4"/><circle cx="283.4" cy="1136.6"/><circle cx="291.2" cy="1138.7"/><circle cx="330.7" cy="1191.5"/><circle cx="164" cy="983.1"/><circle cx="335.1" cy="1093.5"/><circle cx="233.4" cy="1282.4"/><circle cx="272.1" cy="1171.3"/><circle cx="391.2" cy="1177.5"/><circle cx="167.5" cy="1091.8"/><circle cx="241" cy="1170.2"/><circle cx="236.4" cy="1121.7"/><circle cx="162.6" cy="1058.3"/><circle cx="212.7" cy="1103.9"/><circle cx="386.1" cy="1234.4"/><circle cx="187" cy="1227.3"/><circle cx="270.7" cy="1171.7"/><circle cx="305.9" cy="1309.5"/><circle cx="231.6" cy="1116.3"/><circle cx="188.1" cy="1239.6"/><circle cx="343.3" cy="1270.4"/><circle cx="308.7" cy="1265.4"/><circle cx="240.6" cy="1271.7"/><circle cx="293.6" cy="1313.4"/><circle cx="298.4" cy="1192.4"/><circle cx="275.3" cy="1081.4"/><circle cx="310.1" cy="1021"/><circle cx="206.1" cy="1217.9"/><circle cx="394.9" cy="1228.4"/><circle cx="178.5" cy="1220.9"/><circle cx="199.1" cy="1061.1"/><circle cx="238.6" cy="1258.6"/><circle cx="193.5" cy="1164.4"/><circle cx="364.1" cy="1178.9"/><circle cx="180.5" cy="1020.8"/><circle cx="236.2" cy="1055"/><circle cx="278.7" cy="1122.9"/><circle cx="397.9" cy="1058.7"/><circle cx="239.1" cy="1037.5"/><circle cx="168.9" cy="1186.7"/><circle cx="352.2" cy="1182.3"/><circle cx="196.4" cy="1096.4"/><circle cx="275.9" cy="1056.2"/><circle cx="321.6" cy="1066.9"/><circle cx="216.4" cy="1045.9"/><circle cx="234.1" cy="1188.5"/><circle cx="394.8" cy="1249.7"/><circle cx="212.2" cy="1085.6"/><circle cx="318.8" cy="1242.5"/><circle cx="394.9" cy="1166.5"/><circle cx="314.5" cy="1102.6"/><circle cx="171.2" cy="1069.6"/><circle cx="249.9" cy="1200"/><circle cx="131.8" cy="1087.7"/><circle cx="315.8" cy="1065.4"/><circle cx="264.8" cy="1052.4"/><circle cx="259.3" cy="1087.8"/><circle cx="156.8" cy="1098.6"/><circle cx="215.9" cy="1290.7"/><circle cx="264.3" cy="1128.1"/><circle cx="445.5" cy="1228.1"/><circle cx="250.5" cy="1112.3"/><circle cx="247.4" cy="1126.1"/><circle cx="300.1" cy="1305.3"/><circle cx="169.5" cy="1089.2"/><circle cx="231.7" cy="1212.8"/><circle cx="385.1" cy="1136.8"/><circle cx="222.8" cy="1177"/><circle cx="348.5" cy="1127.5"/><circle cx="200.8" cy="1086.5"/><circle cx="227.1" cy="1266.7"/><circle cx="216.8" cy="1240.4"/><circle cx="297.8" cy="1039.2"/><circle cx="255.2" cy="1044.1"/><circle cx="204.5" cy="1275.1"/><circle cx="304.9" cy="1274.1"/><circle cx="284.2" cy="1110.8"/><circle cx="412.2" cy="1145.6"/><circle cx="329.2" cy="1158.3"/><circle cx="378.3" cy="1159.7"/><circle cx="203.6" cy="1008.7"/><circle cx="362.2" cy="1280.9"/><circle cx="215" cy="1164.8"/><circle cx="107.8" cy="1097"/><circle cx="215.5" cy="1295.3"/><circle cx="352.6" cy="1152.1"/><circle cx="284.4" cy="1165.2"/><circle cx="197.8" cy="1271.4"/><circle cx="327.9" cy="1159.9"/><circle cx="259.9" cy="1083.7"/><circle cx="206.8" cy="1051.8"/><circle cx="482.3" cy="1271.2"/><circle cx="219.5" cy="1086.4"/><circle cx="389.2" cy="1166.7"/><circle cx="487" cy="1206.7"/><circle cx="205.1" cy="1297.4"/><circle cx="336.6" cy="1243.9"/><circle cx="370.3" cy="1158.6"/><circle cx="379" cy="1109"/><circle cx="422.1" cy="1223.8"/><circle cx="300.8" cy="1181"/><circle cx="205.1" cy="1278.4"/><circle cx="422.3" cy="1014.1"/><circle cx="208.7" cy="1205.4"/><circle cx="384.7" cy="1252.6"/><circle cx="239.8" cy="1087.3"/><circle cx="228.4" cy="1116"/><circle cx="265.1" cy="1092.9"/><circle cx="277" cy="1115.7"/><circle cx="315.7" cy="1152.5"/><circle cx="332.8" cy="1242.7"/><circle cx="270.8" cy="1186.2"/><circle cx="202.1" cy="1177.4"/><circle cx="158.6" cy="1112.8"/><circle cx="179.8" cy="1045.6"/><circle cx="169" cy="1297.7"/><circle cx="192.4" cy="1060.3"/><circle cx="375.6" cy="1180"/><circle cx="205.2" cy="1017"/><circle cx="320.7" cy="1322.2"/><circle cx="183.9" cy="1099.9"/><circle cx="362.5" cy="1215.1"/><circle cx="180.6" cy="1218.7"/><circle cx="240.1" cy="1259.6"/><circle cx="402.3" cy="1187.3"/><circle cx="188.3" cy="1255.4"/><circle cx="169.9" cy="1138.3"/><circle cx="290.1" cy="1256"/><circle cx="435.8" cy="1258.7"/><circle cx="392.2" cy="1116.6"/><circle cx="164.9" cy="1164.6"/><circle cx="337.6" cy="1209"/><circle cx="126.6" cy="1248.1"/><circle cx="203.5" cy="1121.9"/><circle cx="272.1" cy="1159.8"/><circle cx="370.5" cy="1123.5"/><circle cx="281.1" cy="1124.9"/><circle cx="413.1" cy="1073.1"/><circle cx="151" cy="1125"/><circle cx="258.4" cy="1137.6"/><circle cx="293.5" cy="1231"/><circle cx="411.7" cy="1267.3"/><circle cx="322.7" cy="1185.3"/><circle cx="385" cy="1230.2"/><circle cx="215.7" cy="1261.1"/><circle cx="383.6" cy="1164.7"/><circle cx="155.6" cy="1237.4"/><circle cx="436.4" cy="1306.4"/><circle cx="224.4" cy="1081.8"/><circle cx="319.7" cy="1259.2"/><circle cx="248.8" cy="1110.8"/><circle cx="399" cy="1200.5"/><circle cx="295.5" cy="1077.4"/><circle cx="330.9" cy="1132.3"/><circle cx="401.1" cy="1179.5"/><circle cx="333.1" cy="1234.8"/><circle cx="426.6" cy="1152.6"/><circle cx="232.9" cy="1175"/><circle cx="280.3" cy="1138.4"/><circle cx="474.7" cy="1077"/><circle cx="254.1" cy="1204.4"/><circle cx="332.6" cy="1072.8"/><circle cx="481" cy="1180.1"/><circle cx="159.9" cy="1097.2"/><circle cx="466.2" cy="1208.7"/><circle cx="231.3" cy="1255.2"/><circle cx="396.9" cy="1299.5"/><circle cx="194.3" cy="1060"/><circle cx="265.6" cy="1104.6"/><circle cx="282.8" cy="997.4"/><circle cx="180.8" cy="1167.5"/><circle cx="316" cy="1071.8"/><circle cx="361.9" cy="1238.8"/><circle cx="380.9" cy="1240.6"/><circle cx="233.7" cy="1198.6"/><circle cx="178" cy="1083.1"/><circle cx="305.6" cy="1100.1"/><circle cx="335.9" cy="1270.2"/><circle cx="288.7" cy="1127.7"/><circle cx="352" cy="1286.9"/><circle cx="214.3" cy="1076.4"/><circle cx="180.7" cy="1188.7"/><circle cx="221.2" cy="1283.3"/><circle cx="205.8" cy="1280"/><circle cx="236.4" cy="1207.4"/><circle cx="265.6" cy="1173.7"/><circle cx="384.7" cy="1244.5"/><circle cx="242.8" cy="1136.7"/><circle cx="271.2" cy="1285.4"/><circle cx="213.7" cy="1290.9"/><circle cx="181.5" cy="1221.8"/><circle cx="402.8" cy="1183.8"/><circle cx="380.5" cy="1160.9"/><circle cx="286.9" cy="1024.5"/><circle cx="250.8" cy="1176.8"/><circle cx="259.5" cy="1127.2"/><circle cx="402.9" cy="1190.6"/><circle cx="377.1" cy="1198"/><circle cx="275" cy="1107.8"/><circle cx="272.5" cy="1157.4"/><circle cx="147.8" cy="1102.6"/><circle cx="253.4" cy="1150.6"/><circle cx="224.8" cy="1277.3"/><circle cx="210" cy="1186.1"/><circle cx="264.9" cy="1254.2"/><circle cx="196.8" cy="1212.6"/><circle cx="352.3" cy="1119.8"/><circle cx="294.5" cy="1180.9"/><circle cx="319.8" cy="1112.9"/><circle cx="259.7" cy="1129.6"/><circle cx="322.2" cy="1246"/><circle cx="253.8" cy="1228.8"/><circle cx="404.2" cy="1212.5"/><circle cx="364.3" cy="1139.2"/><circle cx="314.3" cy="1228.1"/><circle cx="424" cy="1150"/><circle cx="226.4" cy="1173.5"/><circle cx="292.8" cy="1232.7"/><circle cx="320.8" cy="1249.3"/><circle cx="158.7" cy="1148.6"/><circle cx="210.2" cy="1242.9"/><circle cx="195.3" cy="1045.3"/><circle cx="207.3" cy="1240.7"/><circle cx="260.5" cy="1248.4"/><circle cx="183.3" cy="1238"/><circle cx="386.6" cy="1121.4"/><circle cx="353.3" cy="1101.8"/><circle cx="380.8" cy="1121.3"/><circle cx="218.3" cy="1206.8"/><circle cx="374.3" cy="1188.9"/><circle cx="375.9" cy="1249.8"/><circle cx="226.8" cy="1268.9"/><circle cx="318.3" cy="1104.1"/><circle cx="140.1" cy="1011.4"/><circle cx="342.6" cy="1196.9"/><circle cx="274.2" cy="1108.5"/><circle cx="232.7" cy="1111.9"/><circle cx="384.7" cy="1262.9"/><circle cx="313.5" cy="1206"/><circle cx="286.2" cy="1280.3"/><circle cx="464.7" cy="1173.5"/><circle cx="328.4" cy="1173.6"/><circle cx="314.9" cy="1179.4"/><circle cx="344.7" cy="1250.5"/><circle cx="303.1" cy="1136.2"/><circle cx="273.4" cy="1078.7"/><circle cx="430.2" cy="1244.7"/><circle cx="260.4" cy="1143.1"/><circle cx="319.5" cy="1272.2"/><circle cx="302.7" cy="1304.1"/><circle cx="288.5" cy="1020.6"/><circle cx="187.1" cy="1090.5"/><circle cx="242.4" cy="1144.7"/><circle cx="191.9" cy="1068.8"/><circle cx="282.1" cy="1255.3"/><circle cx="212.2" cy="1194.2"/><circle cx="259.8" cy="1207"/><circle cx="428" cy="1202.5"/><circle cx="235.1" cy="1185.5"/><circle cx="191.8" cy="1251.4"/><circle cx="270.9" cy="1319"/><circle cx="267.6" cy="1166.7"/><circle cx="433" cy="1276.7"/><circle cx="312.5" cy="1044.6"/><circle cx="209.4" cy="1089"/><circle cx="260.7" cy="1295.9"/><circle cx="248" cy="1247.2"/><circle cx="198" cy="1114.5"/><circle cx="242.1" cy="1115.7"/><circle cx="97.3" cy="1128.6"/><circle cx="415.5" cy="1184.1"/><circle cx="283.8" cy="1118.8"/><circle cx="258" cy="1053.1"/><circle cx="365.9" cy="1141.9"/><circle cx="304" cy="1074.9"/><circle cx="310.5" cy="1097.5"/><circle cx="373.3" cy="1303.3"/><circle cx="323.6" cy="1213.3"/><circle cx="415.4" cy="1127.6"/><circle cx="298.3" cy="1098.6"/><circle cx="199.5" cy="1185.6"/><circle cx="275.6" cy="1132.6"/><circle cx="323.3" cy="1310.8"/><circle cx="301" cy="1127.9"/><circle cx="182.7" cy="1137.2"/><circle cx="182.1" cy="1248.6"/><circle cx="311.8" cy="1273.4"/><circle cx="505.5" cy="1276.4"/><circle cx="305.4" cy="1081.8"/><circle cx="257.5" cy="1209.5"/><circle cx="348.4" cy="1058.6"/><circle cx="360.2" cy="1155.4"/><circle cx="207.4" cy="1311.2"/><circle cx="299" cy="1055"/><circle cx="291.2" cy="1311.2"/><circle cx="145.7" cy="1158.1"/><circle cx="189" cy="1144.6"/><circle cx="202.3" cy="1256.8"/><circle cx="423.1" cy="1232.3"/><circle cx="333.7" cy="1083.4"/><circle cx="376.4" cy="1262.4"/><circle cx="446.4" cy="1274.6"/><circle cx="142.3" cy="1182.6"/><circle cx="270.1" cy="1130.5"/><circle cx="286.8" cy="1298.4"/><circle cx="328.2" cy="1262.9"/><circle cx="272" cy="1211"/><circle cx="261.6" cy="1289.9"/><circle cx="317.5" cy="1219"/><circle cx="202.7" cy="1109.5"/><circle cx="352.2" cy="1164.3"/><circle cx="274.7" cy="1190.8"/><circle cx="339.7" cy="1143.5"/><circle cx="390.6" cy="1240.4"/><circle cx="293" cy="1307"/><circle cx="292.4" cy="1287.5"/><circle cx="217" cy="1137.6"/><circle cx="444.1" cy="1121"/><circle cx="389.5" cy="1142.6"/><circle cx="347.2" cy="1190"/><circle cx="348.9" cy="1244.3"/><circle cx="154.6" cy="1150.6"/><circle cx="252.6" cy="1185.4"/><circle cx="220" cy="1182.7"/><circle cx="347.9" cy="1211.7"/><circle cx="296.7" cy="1038.2"/><circle cx="292.5" cy="1120.7"/><circle cx="322.2" cy="1101.6"/><circle cx="325.8" cy="1144.3"/><circle cx="339.7" cy="1202.6"/><circle cx="248.1" cy="1278.5"/><circle cx="211.2" cy="1239.4"/><circle cx="343.3" cy="1128"/><circle cx="234.2" cy="1245.6"/><circle cx="403.8" cy="1124.2"/><circle cx="304.5" cy="1130.7"/><circle cx="354.5" cy="1200.5"/><circle cx="339.1" cy="1247.6"/><circle cx="193.7" cy="1295.8"/><circle cx="221.9" cy="1151.3"/><circle cx="453.6" cy="1094.2"/><circle cx="328.5" cy="1190.1"/><circle cx="339.1" cy="1261.1"/><circle cx="378" cy="1125.1"/><circle cx="215.4" cy="1180.8"/><circle cx="218.9" cy="1313.5"/><circle cx="402.9" cy="1109.7"/><circle cx="148.8" cy="1114.9"/><circle cx="233.6" cy="1166.7"/><circle cx="335.4" cy="1262.9"/><circle cx="211.8" cy="1112.1"/><circle cx="208.2" cy="1044.1"/><circle cx="332.1" cy="1271"/><circle cx="220.4" cy="1143"/><circle cx="239.7" cy="1284.4"/><circle cx="359.4" cy="1236.2"/><circle cx="176.9" cy="1136.8"/><circle cx="369.9" cy="1223.3"/><circle cx="225.4" cy="1168.3"/><circle cx="191.1" cy="1104.6"/><circle cx="422.6" cy="1166.5"/><circle cx="194.5" cy="1125.9"/><circle cx="239.4" cy="1123.4"/><circle cx="353.2" cy="1091.1"/><circle cx="397.5" cy="1268.7"/><circle cx="333.2" cy="1126.4"/><circle cx="335.7" cy="1084.7"/><circle cx="217.6" cy="1266.8"/><circle cx="303.4" cy="1201"/><circle cx="326.5" cy="1170.3"/><circle cx="304.3" cy="1174.8"/><circle cx="246.5" cy="1267"/><circle cx="382" cy="1188.2"/><circle cx="232" cy="1223.8"/><circle cx="304" cy="1300.3"/><circle cx="215.2" cy="1147.3"/><circle cx="149.9" cy="1151.5"/><circle cx="239.7" cy="1039.1"/><circle cx="279.2" cy="1061.7"/><circle cx="282.9" cy="1131"/><circle cx="215.8" cy="1106.3"/><circle cx="385.8" cy="1116"/><circle cx="259" cy="1313"/><circle cx="227.1" cy="1167.3"/><circle cx="278.1" cy="1047.9"/><circle cx="235.3" cy="1158.1"/><circle cx="342.4" cy="1147.1"/><circle cx="176.2" cy="1185.2"/><circle cx="269.4" cy="1263.4"/><circle cx="337.5" cy="1109.9"/><circle cx="392" cy="1217"/><circle cx="237.8" cy="1063.9"/><circle cx="418.6" cy="1195.7"/><circle cx="184.8" cy="1178.6"/><circle cx="460.4" cy="1266.6"/><circle cx="373" cy="1187.9"/><circle cx="173.5" cy="1179.3"/><circle cx="246.6" cy="1070.1"/><circle cx="328.3" cy="1289.3"/><circle cx="279.1" cy="1268.5"/><circle cx="339.1" cy="1240.2"/><circle cx="256.8" cy="1076.5"/><circle cx="211.9" cy="1052.9"/><circle cx="242.4" cy="1147.5"/><circle cx="328.2" cy="1165.6"/><circle cx="296.1" cy="1219.4"/><circle cx="333.7" cy="1137"/><circle cx="326.1" cy="1256"/><circle cx="260" cy="1171.3"/><circle cx="128.9" cy="1134"/><circle cx="189.6" cy="1132.3"/><circle cx="305.4" cy="1315.1"/><circle cx="280.4" cy="1287"/><circle cx="256.5" cy="1293.7"/><circle cx="368" cy="1145.8"/><circle cx="189.6" cy="1199.3"/><circle cx="327.8" cy="1315.3"/><circle cx="215.2" cy="1104.2"/><circle cx="351.9" cy="1125"/><circle cx="213.1" cy="1235.4"/><circle cx="175.9" cy="1082.1"/><circle cx="170.9" cy="1135"/><circle cx="250.8" cy="1233.6"/><circle cx="175.1" cy="1077.6"/><circle cx="301.4" cy="1177.2"/><circle cx="210.6" cy="1194.8"/><circle cx="154.2" cy="1068.1"/><circle cx="408.5" cy="1180.8"/><circle cx="187.8" cy="1215.9"/><circle cx="180.5" cy="1204.3"/><circle cx="190.3" cy="1222.5"/><circle cx="298.4" cy="1205.7"/><circle cx="279.8" cy="1205.1"/><circle cx="177.2" cy="1106.9"/><circle cx="345.2" cy="1106.3"/><circle cx="274" cy="1204.7"/><circle cx="223.5" cy="1268"/><circle cx="279.2" cy="1194.7"/><circle cx="232.3" cy="1173.7"/><circle cx="222.4" cy="1207.9"/><circle cx="362.1" cy="1098.7"/><circle cx="247.6" cy="1113.4"/><circle cx="273" cy="1252.7"/><circle cx="285.8" cy="1129.4"/><circle cx="471.4" cy="1168.1"/><circle cx="185.9" cy="1136.2"/><circle cx="381.4" cy="1259.7"/><circle cx="265.6" cy="1284.3"/><circle cx="313.2" cy="1152"/><circle cx="362.4" cy="1254"/><circle cx="223.3" cy="1119.4"/><circle cx="254" cy="1036.8"/><circle cx="364.9" cy="1247"/><circle cx="394.6" cy="1143.3"/><circle cx="235" cy="1069"/><circle cx="277" cy="1234.3"/><circle cx="296.4" cy="1278.3"/><circle cx="217.8" cy="1307.8"/><circle cx="199.8" cy="1187.8"/><circle cx="424.3" cy="1176"/><circle cx="328.2" cy="1140.6"/><circle cx="447.2" cy="1294.5"/><circle cx="196.9" cy="1070.3"/><circle cx="335.4" cy="1061.1"/><circle cx="407.1" cy="998"/><circle cx="486.7" cy="1201.5"/><circle cx="409.5" cy="1281.7"/><circle cx="255.8" cy="1296.5"/><circle cx="316.8" cy="1296.8"/><circle cx="326.4" cy="1147.2"/><circle cx="236" cy="1245.8"/><circle cx="191.6" cy="1116.5"/><circle cx="421.3" cy="1219.6"/><circle cx="290.2" cy="1047"/><circle cx="243.7" cy="1207.6"/><circle cx="236.4" cy="1100.3"/><circle cx="340.5" cy="1089.6"/><circle cx="253" cy="1071.5"/><circle cx="315.6" cy="1114.7"/><circle cx="135.7" cy="1222.3"/><circle cx="276.4" cy="1316.4"/><circle cx="315.9" cy="1257.4"/><circle cx="276.5" cy="1217.4"/><circle cx="262.7" cy="1263.4"/><circle cx="269.2" cy="1030.1"/><circle cx="371.3" cy="1228.8"/><circle cx="463.3" cy="1249.7"/><circle cx="308.9" cy="1195.6"/><circle cx="173.8" cy="1176.1"/><circle cx="158.6" cy="1161"/><circle cx="351.5" cy="1172.3"/><circle cx="346.5" cy="1119.5"/><circle cx="280.9" cy="1116.3"/><circle cx="172.5" cy="1104.2"/><circle cx="337.2" cy="1296"/><circle cx="349" cy="1242"/><circle cx="210.2" cy="1071"/><circle cx="406" cy="1153.6"/><circle cx="308.1" cy="1085"/><circle cx="384.4" cy="1147.5"/><circle cx="245.1" cy="1197.1"/><circle cx="167.3" cy="1115.8"/><circle cx="293.3" cy="1284.2"/><circle cx="295.1" cy="1102.2"/><circle cx="303.4" cy="1192"/><circle cx="407" cy="1292.5"/><circle cx="296.7" cy="1238"/><circle cx="262.4" cy="1128.7"/><circle cx="236.6" cy="1053.1"/><circle cx="119.3" cy="1064.2"/><circle cx="247.2" cy="1187"/><circle cx="371.5" cy="1126.6"/><circle cx="316.4" cy="1165.1"/><circle cx="344.4" cy="1114"/><circle cx="363" cy="1232.7"/><circle cx="307.7" cy="1159.8"/><circle cx="330.7" cy="1294"/><circle cx="358.2" cy="1154.5"/><circle cx="519.4" cy="1255.6"/><circle cx="436.1" cy="1198.8"/><circle cx="202.8" cy="1311.9"/><circle cx="212.1" cy="1245.6"/><circle cx="274.5" cy="1188.8"/><circle cx="179.4" cy="1203.7"/><circle cx="225.9" cy="1094.5"/><circle cx="248.8" cy="1297"/><circle cx="300" cy="1057.6"/><circle cx="215" cy="1223"/><circle cx="248.9" cy="1086"/><circle cx="176.2" cy="1154.5"/><circle cx="199.2" cy="1269.8"/><circle cx="333.3" cy="1092.1"/><circle cx="265.9" cy="1205.9"/><circle cx="335.9" cy="1165.9"/><circle cx="354.8" cy="1266.3"/><circle cx="242.4" cy="1253.4"/><circle cx="192.8" cy="1146.8"/><circle cx="333.5" cy="1187.4"/><circle cx="288.8" cy="1190.5"/><circle cx="279.4" cy="1070.2"/><circle cx="372.2" cy="1241.6"/><circle cx="226.5" cy="1058.3"/><circle cx="368.4" cy="1199.2"/><circle cx="171.5" cy="1143.5"/><circle cx="324.8" cy="1316.7"/><circle cx="350.6" cy="1098.3"/><circle cx="255.6" cy="1070.8"/><circle cx="180.2" cy="1068.1"/><circle cx="282" cy="1209.9"/><circle cx="334.2" cy="1251.7"/><circle cx="359.5" cy="1260.8"/><circle cx="156" cy="1106.2"/><circle cx="293.3" cy="1285.8"/><circle cx="282.6" cy="1075.3"/><circle cx="237.1" cy="1085.2"/><circle cx="233.1" cy="1102"/><circle cx="268.2" cy="1298.8"/><circle cx="330" cy="1187.3"/><circle cx="320.9" cy="1110.7"/><circle cx="347.9" cy="1225.1"/><circle cx="365.6" cy="1289.5"/><circle cx="138.9" cy="1187.3"/><circle cx="348.2" cy="1232.6"/><circle cx="286.4" cy="1070.6"/><circle cx="296.2" cy="1328.9"/><circle cx="214.1" cy="1265.3"/><circle cx="191" cy="1242.5"/><circle cx="320.3" cy="1219.8"/><circle cx="263.7" cy="1020.5"/><circle cx="231.6" cy="995.5"/><circle cx="362.7" cy="1117.2"/><circle cx="161.3" cy="1093.3"/><circle cx="193.6" cy="1020.6"/><circle cx="229.5" cy="1056.9"/><circle cx="177.5" cy="1251.1"/><circle cx="344" cy="1210.2"/><circle cx="286.3" cy="1193.1"/><circle cx="313.2" cy="1252.4"/><circle cx="279" cy="1108.2"/><circle cx="330.5" cy="1120.3"/><circle cx="219.9" cy="1138.9"/><circle cx="266.4" cy="1203.6"/><circle cx="161.5" cy="1045.8"/><circle cx="325.4" cy="1196.2"/><circle cx="287.2" cy="1262.4"/><circle cx="167.3" cy="1134.1"/><circle cx="165.8" cy="1209.8"/><circle cx="304" cy="1167.2"/><circle cx="277.5" cy="1141"/><circle cx="249.6" cy="1193.8"/><circle cx="241.7" cy="1309.3"/><circle cx="164.3" cy="1105.5"/><circle cx="243" cy="1083.5"/><circle cx="268.6" cy="1272.7"/><circle cx="222.9" cy="1231.8"/><circle cx="386.3" cy="1154.4"/><circle cx="433" cy="1108.6"/><circle cx="221" cy="1319.5"/><circle cx="411.1" cy="1157.5"/><circle cx="272.3" cy="1274.1"/><circle cx="189.3" cy="1097.5"/><circle cx="292.9" cy="1180.1"/><circle cx="218.2" cy="1031"/><circle cx="503.1" cy="1213.1"/><circle cx="270.6" cy="1270.3"/><circle cx="207.9" cy="1090.3"/><circle cx="288.3" cy="1061.1"/><circle cx="379.5" cy="1141.7"/><circle cx="407.9" cy="1171.6"/><circle cx="171.2" cy="1080.3"/><circle cx="238.4" cy="1088.9"/><circle cx="373.9" cy="1195.2"/><circle cx="318.9" cy="1073.8"/><circle cx="359.4" cy="1046.6"/><circle cx="290.7" cy="1270.1"/><circle cx="278.2" cy="1169.6"/><circle cx="259.5" cy="1287.4"/><circle cx="142.8" cy="1105.2"/><circle cx="251.2" cy="1156.1"/><circle cx="312.4" cy="1063.7"/><circle cx="329.8" cy="1259.9"/><circle cx="422.1" cy="1144.1"/><circle cx="485.5" cy="1178.5"/><circle cx="296.3" cy="1223.8"/><circle cx="370.9" cy="1112"/><circle cx="284.1" cy="1174.6"/><circle cx="303.4" cy="1222.5"/><circle cx="174.7" cy="1129.8"/><circle cx="502" cy="1270.4"/><circle cx="282.1" cy="1060.2"/><circle cx="261.8" cy="1244.1"/><circle cx="225.6" cy="1299"/><circle cx="290.8" cy="1137.6"/><circle cx="428.9" cy="1096.2"/><circle cx="237.3" cy="1132.6"/><circle cx="275.2" cy="1025.5"/><circle cx="371.5" cy="1209.1"/><circle cx="319.3" cy="1163.2"/><circle cx="157.7" cy="999"/><circle cx="362.5" cy="1162.7"/><circle cx="321.6" cy="1013.4"/><circle cx="99.7" cy="1002.2"/><circle cx="153.5" cy="1169.8"/><circle cx="270.4" cy="1043.9"/><circle cx="330.2" cy="1168.8"/><circle cx="296.8" cy="1135.6"/><circle cx="373" cy="1257.5"/><circle cx="465.8" cy="1253.5"/><circle cx="188.9" cy="1074.1"/><circle cx="258.9" cy="978.8"/><circle cx="360.5" cy="1162.6"/><circle cx="201.2" cy="1188.5"/><circle cx="342.5" cy="1180.9"/><circle cx="303.2" cy="1310.1"/><circle cx="260" cy="1060.6"/><circle cx="273.1" cy="1283.1"/><circle cx="438.9" cy="1002.9"/><circle cx="162.9" cy="1220.6"/><circle cx="181.1" cy="1225.3"/><circle cx="262.3" cy="1040"/><circle cx="197.5" cy="1182.3"/><circle cx="199.5" cy="1277.1"/><circle cx="396" cy="1135.8"/><circle cx="275" cy="1315.5"/><circle cx="239.4" cy="1162"/><circle cx="390.9" cy="1079.3"/><circle cx="118.8" cy="1064.7"/><circle cx="222.8" cy="1187.1"/><circle cx="192.6" cy="1083.5"/><circle cx="224.1" cy="1296.1"/><circle cx="352.3" cy="1252"/><circle cx="280.1" cy="1240.6"/><circle cx="393.3" cy="1258.7"/><circle cx="347.1" cy="1185.4"/><circle cx="345.8" cy="1123.4"/><circle cx="162.3" cy="1139.5"/><circle cx="204.2" cy="1103.3"/><circle cx="360.6" cy="1269.6"/><circle cx="338.5" cy="1246"/><circle cx="157" cy="1103"/><circle cx="215.8" cy="1195.2"/><circle cx="290.7" cy="1230.8"/><circle cx="248.1" cy="1168.3"/><circle cx="369.4" cy="1234"/><circle cx="353.6" cy="1166"/><circle cx="351.8" cy="1144.6"/><circle cx="406.8" cy="1185.2"/><circle cx="320" cy="1309.2"/><circle cx="250.8" cy="1210.5"/><circle cx="250.6" cy="1063.9"/><circle cx="421.9" cy="1196.5"/><circle cx="341" cy="1168"/><circle cx="184.1" cy="1076.4"/><circle cx="316" cy="1216.8"/><circle cx="186.8" cy="1034"/><circle cx="249.5" cy="1313.9"/><circle cx="328.8" cy="1073.4"/><circle cx="399.7" cy="1250.2"/><circle cx="236.2" cy="1265.3"/><circle cx="301.3" cy="1088.4"/><circle cx="275.2" cy="1237.4"/><circle cx="348.6" cy="1089.1"/><circle cx="221.1" cy="1054.2"/><circle cx="283.1" cy="1051.9"/><circle cx="278.2" cy="1279.6"/><circle cx="236" cy="1098.9"/><circle cx="240.9" cy="1292.2"/><circle cx="271.1" cy="1047.9"/><circle cx="256.8" cy="1167.3"/><circle cx="296.1" cy="1199.2"/><circle cx="392.9" cy="1100.6"/><circle cx="190.1" cy="1091.6"/><circle cx="298.8" cy="1102.9"/><circle cx="380" cy="1105.9"/><circle cx="288.6" cy="1129.6"/><circle cx="162.8" cy="1143.2"/><circle cx="305.1" cy="1069.1"/><circle cx="326.5" cy="1330.1"/><circle cx="484.6" cy="1168.8"/><circle cx="294.4" cy="1058.6"/><circle cx="300.2" cy="1102.3"/><circle cx="231" cy="1143.9"/><circle cx="221" cy="1320.1"/><circle cx="352.7" cy="1116.4"/><circle cx="264.3" cy="1142.5"/><circle cx="291.3" cy="1085.7"/><circle cx="233.9" cy="1226.7"/><circle cx="241.6" cy="1305"/><circle cx="476.7" cy="1289.1"/><circle cx="223.9" cy="1048.6"/><circle cx="201.2" cy="1281.5"/><circle cx="242.4" cy="1282.2"/><circle cx="182.9" cy="1226.5"/><circle cx="201" cy="1193.4"/><circle cx="370" cy="1163.8"/><circle cx="203" cy="1106.6"/><circle cx="180.1" cy="1184.3"/><circle cx="267.6" cy="1290.7"/><circle cx="358.5" cy="1206.7"/><circle cx="151.7" cy="1138.1"/><circle cx="431" cy="1236.2"/><circle cx="269" cy="1241.6"/><circle cx="348" cy="1217.4"/><circle cx="482.5" cy="1177.6"/><circle cx="387.5" cy="1158.9"/><circle cx="291.5" cy="1087.5"/><circle cx="270" cy="1295.6"/><circle cx="250" cy="1228.1"/><circle cx="325" cy="1125.3"/><circle cx="220.8" cy="1235.3"/><circle cx="339.6" cy="1223.4"/><circle cx="250.3" cy="1260.4"/><circle cx="300.4" cy="1272.5"/><circle cx="181.8" cy="1082"/><circle cx="309" cy="1088.3"/><circle cx="453.1" cy="1254"/><circle cx="343.8" cy="1252.6"/><circle cx="380.3" cy="1248.1"/><circle cx="219.2" cy="1066.1"/><circle cx="264.8" cy="1231"/><circle cx="321.7" cy="1209.5"/><circle cx="260.5" cy="1302.9"/><circle cx="369.4" cy="1276.7"/><circle cx="355" cy="1215.4"/><circle cx="186" cy="1201"/><circle cx="382" cy="1146.9"/><circle cx="154.8" cy="1004.4"/><circle cx="235.6" cy="1204.9"/><circle cx="378.3" cy="1141"/><circle cx="305.7" cy="1187.2"/><circle cx="188.1" cy="1179.6"/><circle cx="357.9" cy="1083.6"/><circle cx="286.1" cy="1271.9"/><circle cx="518.1" cy="1112.6"/><circle cx="191.7" cy="1048"/><circle cx="121" cy="1144.9"/><circle cx="258.1" cy="1042.4"/><circle cx="281.2" cy="1302.6"/><circle cx="270.9" cy="1299.5"/><circle cx="236.8" cy="1068"/><circle cx="285.3" cy="1092.1"/><circle cx="240.1" cy="1163.1"/><circle cx="271.1" cy="1143.6"/><circle cx="374.2" cy="1084.5"/><circle cx="224.6" cy="1175.9"/><circle cx="350.3" cy="1074.4"/><circle cx="370.9" cy="1145.1"/><circle cx="213.4" cy="1196.3"/><circle cx="226.7" cy="1238.6"/><circle cx="417.8" cy="1199.2"/><circle cx="414.5" cy="1161.8"/><circle cx="331.2" cy="1300.9"/><circle cx="323.7" cy="1077.8"/><circle cx="223.9" cy="1270.9"/><circle cx="148.7" cy="1176.9"/><circle cx="175.2" cy="1182.2"/><circle cx="278" cy="1070.8"/><circle cx="437.7" cy="1105.8"/><circle cx="270.9" cy="1234.6"/><circle cx="481.5" cy="1210.2"/><circle cx="387.8" cy="1175.5"/><circle cx="252.9" cy="1130.7"/><circle cx="356.4" cy="1131.1"/><circle cx="265.5" cy="1268.9"/><circle cx="290.6" cy="1192.2"/><circle cx="247.7" cy="1205.9"/><circle cx="229.2" cy="1092"/><circle cx="334.3" cy="1300.9"/><circle cx="430.5" cy="1236.7"/><circle cx="244.5" cy="1260.4"/><circle cx="228.5" cy="1203.8"/><circle cx="262.2" cy="1105.5"/><circle cx="305.9" cy="1011.4"/><circle cx="243" cy="1218.5"/><circle cx="169" cy="1071.9"/><circle cx="136.7" cy="1093.8"/><circle cx="415.7" cy="1224.7"/><circle cx="273.1" cy="1139.9"/><circle cx="236.7" cy="1293.9"/><circle cx="408.8" cy="1137.2"/><circle cx="195.1" cy="1232.9"/><circle cx="290.7" cy="1092.9"/><circle cx="304.7" cy="1104.7"/><circle cx="279.5" cy="1202.9"/><circle cx="234.6" cy="1214.3"/><circle cx="140.3" cy="1130.9"/><circle cx="224.3" cy="1074.4"/><circle cx="310.5" cy="1313"/><circle cx="386.8" cy="1118.1"/><circle cx="476.4" cy="1297.3"/><circle cx="379.9" cy="1241.7"/><circle cx="371.5" cy="1218"/><circle cx="204.6" cy="1307.7"/><circle cx="238" cy="1181.2"/><circle cx="304.1" cy="1216.3"/><circle cx="265.9" cy="1057.3"/><circle cx="252.4" cy="1029.2"/><circle cx="204.2" cy="1129.8"/><circle cx="303.8" cy="1229.7"/><circle cx="233.3" cy="1153.9"/><circle cx="362" cy="1280.9"/><circle cx="328.5" cy="1182.1"/><circle cx="463.1" cy="1175.6"/><circle cx="401.4" cy="1203"/><circle cx="242.6" cy="1071.2"/><circle cx="474.6" cy="1202"/><circle cx="318.5" cy="1082.9"/><circle cx="242.4" cy="1300.8"/><circle cx="335.5" cy="1183.3"/><circle cx="347" cy="1127.6"/><circle cx="167.3" cy="1148.4"/><circle cx="415.5" cy="1202"/><circle cx="374.8" cy="1132.4"/><circle cx="216.3" cy="1304.8"/><circle cx="211.3" cy="1050.5"/><circle cx="298.1" cy="1131.3"/><circle cx="217.6" cy="1144.9"/><circle cx="268.5" cy="1068.7"/><circle cx="284.5" cy="1065.7"/><circle cx="324.8" cy="1133.2"/><circle cx="235.2" cy="1099"/><circle cx="246" cy="1092.9"/><circle cx="207.4" cy="1136.2"/><circle cx="353.5" cy="1113.9"/><circle cx="268.3" cy="1214.7"/><circle cx="195.4" cy="1159.3"/><circle cx="360.9" cy="1189.5"/><circle cx="220.9" cy="1096.7"/><circle cx="307.9" cy="1180.5"/><circle cx="297.2" cy="1116.7"/><circle cx="313.8" cy="1171.4"/><circle cx="247.3" cy="1153.2"/><circle cx="235.7" cy="1178.7"/><circle cx="193.3" cy="1230.5"/><circle cx="323.2" cy="1291.5"/><circle cx="267.8" cy="1235.8"/><circle cx="321.5" cy="1113.2"/><circle cx="357.9" cy="1196.4"/><circle cx="137.5" cy="1131.7"/><circle cx="357.1" cy="1198.2"/><circle cx="184.7" cy="1165.7"/><circle cx="275.5" cy="1120.3"/><circle cx="277.8" cy="1252.6"/><circle cx="346.8" cy="1299.2"/><circle cx="176.8" cy="1216.4"/><circle cx="254.9" cy="1118.7"/><circle cx="218.1" cy="1191.8"/><circle cx="204.1" cy="1148.8"/><circle cx="318.3" cy="1308.2"/><circle cx="391.8" cy="1211.2"/><circle cx="334.8" cy="1246"/><circle cx="308.3" cy="1324.1"/><circle cx="333.6" cy="1259.5"/><circle cx="330.5" cy="1266.3"/><circle cx="276.2" cy="1308.1"/><circle cx="286" cy="1294.5"/><circle cx="359.1" cy="1177.2"/><circle cx="171.3" cy="1206.2"/><circle cx="352.4" cy="1225.3"/><circle cx="376.5" cy="1198.9"/><circle cx="294.4" cy="1141.4"/><circle cx="410.8" cy="1125.6"/><circle cx="411.7" cy="1166.6"/><circle cx="264.1" cy="1247"/><circle cx="446.3" cy="1185.3"/><circle cx="330.2" cy="1166.3"/><circle cx="405" cy="993.7"/><circle cx="308.6" cy="1193.3"/><circle cx="455.3" cy="1231.7"/><circle cx="197" cy="1117.5"/><circle cx="214.9" cy="1300.3"/><circle cx="206.8" cy="1293.5"/><circle cx="233.1" cy="1314.1"/><circle cx="372.8" cy="1224"/><circle cx="194.6" cy="1074.7"/><circle cx="349.6" cy="1103.4"/><circle cx="323.9" cy="1257.1"/><circle cx="269" cy="1305.9"/><circle cx="403.3" cy="1226.7"/><circle cx="288.2" cy="1257"/><circle cx="379.5" cy="1201.9"/><circle cx="322.2" cy="1210.7"/><circle cx="175.1" cy="1069.1"/><circle cx="353.4" cy="1153"/><circle cx="320.6" cy="1093.7"/><circle cx="184.6" cy="1158.1"/><circle cx="156.1" cy="1143.7"/><circle cx="182.5" cy="1111.4"/><circle cx="274.9" cy="1131.2"/><circle cx="113.6" cy="1036.8"/><circle cx="346.8" cy="1278.8"/><circle cx="292.6" cy="1163.4"/><circle cx="229.2" cy="1218.6"/><circle cx="388.1" cy="1097.8"/><circle cx="326" cy="1269"/><circle cx="336.4" cy="1280.1"/><circle cx="463" cy="1181.1"/><circle cx="316.8" cy="1193.2"/><circle cx="326.8" cy="1240.7"/><circle cx="322.3" cy="1201.3"/><circle cx="182.5" cy="1228.3"/><circle cx="221.1" cy="1156.7"/><circle cx="122.7" cy="1158.5"/><circle cx="184.9" cy="1196.1"/><circle cx="250.1" cy="1177.7"/><circle cx="322.8" cy="1218.9"/><circle cx="274" cy="1091.6"/><circle cx="374.9" cy="1131.5"/><circle cx="330.8" cy="1108"/><circle cx="316.8" cy="1285.5"/><circle cx="307.7" cy="1264.2"/><circle cx="381.4" cy="1116.3"/><circle cx="202.3" cy="1235"/><circle cx="292.1" cy="1220.9"/><circle cx="301.3" cy="1154"/><circle cx="286.9" cy="1316.7"/><circle cx="195.3" cy="1278.3"/><circle cx="296.2" cy="1279.1"/><circle cx="330" cy="1202.7"/><circle cx="177.2" cy="1190"/><circle cx="335.3" cy="1106.2"/><circle cx="221.3" cy="1313.6"/><circle cx="264.1" cy="1098.5"/><circle cx="291.3" cy="1145.3"/><circle cx="349.5" cy="1109.6"/><circle cx="248.9" cy="1221"/><circle cx="203" cy="1238.1"/><circle cx="214.8" cy="1078.7"/><circle cx="364.3" cy="1114.9"/><circle cx="195.4" cy="1191.7"/><circle cx="267.4" cy="1147.7"/><circle cx="248.1" cy="1104.8"/><circle cx="428" cy="1223.4"/><circle cx="355.2" cy="1145.4"/><circle cx="417.1" cy="1135.8"/><circle cx="213.3" cy="1315.7"/><circle cx="246.6" cy="1312.8"/><circle cx="386.5" cy="1276"/><circle cx="239.2" cy="1075.2"/><circle cx="170.9" cy="1168.5"/><circle cx="293.6" cy="1110.5"/><circle cx="350.8" cy="1183.5"/><circle cx="400" cy="1167.4"/><circle cx="229.1" cy="1302.1"/><circle cx="288.7" cy="1207.5"/><circle cx="261.3" cy="1120.4"/><circle cx="163.1" cy="1152.1"/><circle cx="328.3" cy="1066.5"/><circle cx="334.3" cy="1220"/><circle cx="377.4" cy="1255.1"/><circle cx="340.3" cy="1282.6"/><circle cx="343.7" cy="1274.9"/><circle cx="309.7" cy="1124.6"/><circle cx="153.2" cy="1134.3"/><circle cx="200.2" cy="1092.5"/><circle cx="260.7" cy="1091.7"/><circle cx="177.1" cy="1205.9"/><circle cx="367.9" cy="1206.8"/><circle cx="338.4" cy="1264.6"/><circle cx="346.5" cy="1184.6"/><circle cx="256.9" cy="1123.2"/><circle cx="224.3" cy="1186.7"/><circle cx="370.8" cy="1281.3"/><circle cx="233.3" cy="1010.5"/><circle cx="225.9" cy="1197.1"/><circle cx="208.2" cy="1211.6"/><circle cx="169.8" cy="1029.1"/><circle cx="325.9" cy="1102.6"/><circle cx="196.6" cy="1264.9"/><circle cx="429.3" cy="1108.6"/><circle cx="261.7" cy="1136.8"/><circle cx="261.6" cy="1175.1"/><circle cx="349.7" cy="1132.2"/><circle cx="397.5" cy="1149.8"/><circle cx="249" cy="1311.9"/><circle cx="251.2" cy="1096.3"/><circle cx="443.5" cy="1159.5"/><circle cx="343.1" cy="1295.1"/><circle cx="208.5" cy="1315.8"/><circle cx="228.2" cy="1176.8"/><circle cx="398.8" cy="1244.4"/><circle cx="274.6" cy="1048.9"/><circle cx="221.8" cy="1303.5"/><circle cx="271.3" cy="1205.7"/><circle cx="274.4" cy="1251.3"/><circle cx="408.6" cy="1253.5"/><circle cx="319.1" cy="1085"/><circle cx="345.2" cy="1168"/><circle cx="203.7" cy="1094.5"/><circle cx="279.1" cy="1188.1"/><circle cx="200.6" cy="1181.2"/><circle cx="385.8" cy="1125.6"/><circle cx="252.4" cy="1093.5"/><circle cx="359.5" cy="1313.8"/><circle cx="486.2" cy="1252.9"/><circle cx="319.4" cy="1303.9"/><circle cx="314.3" cy="1209.2"/><circle cx="169" cy="1122.9"/><circle cx="303.5" cy="1076.1"/><circle cx="281.4" cy="1238.7"/><circle cx="337.6" cy="1251.4"/><circle cx="262.4" cy="1291.4"/><circle cx="419.5" cy="1228.3"/><circle cx="141.4" cy="1164.5"/><circle cx="258" cy="1185.8"/><circle cx="258.1" cy="1236.4"/><circle cx="266.3" cy="1231.6"/><circle cx="420.8" cy="1155.1"/><circle cx="291.4" cy="1153.5"/><circle cx="265.7" cy="1235.2"/><circle cx="224.5" cy="1099.9"/><circle cx="454.3" cy="1198.9"/><circle cx="348.1" cy="1123.4"/><circle cx="232.2" cy="1239.2"/><circle cx="309.2" cy="1176.6"/><circle cx="190.6" cy="1212.7"/><circle cx="197.1" cy="1163.4"/><circle cx="323.7" cy="1237.5"/><circle cx="499.9" cy="1195.3"/><circle cx="275.6" cy="1095.4"/><circle cx="258.5" cy="1247.2"/><circle cx="437.2" cy="1151.2"/><circle cx="259.7" cy="1099.3"/><circle cx="258.9" cy="1213.9"/><circle cx="339.8" cy="1285.8"/><circle cx="179.7" cy="1041.4"/><circle cx="337.2" cy="1103.5"/><circle cx="319.1" cy="1095.3"/><circle cx="294.1" cy="1072.9"/><circle cx="364.6" cy="1204.3"/><circle cx="251.8" cy="1210.9"/><circle cx="395" cy="1274.8"/><circle cx="168.3" cy="1105.8"/><circle cx="177.4" cy="1073.6"/><circle cx="424.4" cy="1069.8"/><circle cx="339.3" cy="1270.9"/><circle cx="432.7" cy="1243.5"/><circle cx="254.7" cy="1090.2"/><circle cx="321" cy="1192"/><circle cx="390.4" cy="1229.7"/><circle cx="165.4" cy="1118.8"/><circle cx="285.8" cy="1066.7"/><circle cx="149.1" cy="1163"/><circle cx="252.1" cy="1072.6"/><circle cx="194.6" cy="1221.5"/><circle cx="301.4" cy="1223.8"/><circle cx="377" cy="1082.1"/><circle cx="102.4" cy="1095.6"/><circle cx="299.8" cy="1005.7"/><circle cx="272.2" cy="1216.7"/><circle cx="403.4" cy="1223.8"/><circle cx="196.9" cy="1249.9"/><circle cx="216.7" cy="1093.1"/><circle cx="236.5" cy="1314"/><circle cx="320.4" cy="1079.4"/><circle cx="329.1" cy="1242.3"/><circle cx="378.2" cy="1173.2"/><circle cx="352.9" cy="1149.3"/><circle cx="193.2" cy="1128.8"/><circle cx="224.1" cy="1227.7"/><circle cx="295.4" cy="1207.7"/><circle cx="452.5" cy="1232.8"/><circle cx="268.3" cy="1084.8"/><circle cx="423.3" cy="1121.7"/><circle cx="421.7" cy="1203.3"/><circle cx="160.2" cy="1151.8"/><circle cx="493.4" cy="1132.4"/><circle cx="183.8" cy="1102.9"/><circle cx="206" cy="1244.9"/><circle cx="286.4" cy="1238.3"/><circle cx="263.9" cy="1255.5"/><circle cx="146.2" cy="1112.3"/><circle cx="341.9" cy="1134"/><circle cx="157.9" cy="995.2"/><circle cx="425.6" cy="1095.5"/><circle cx="307.9" cy="1174.7"/><circle cx="411.8" cy="1184.3"/><circle cx="348.9" cy="1201.4"/><circle cx="257.6" cy="1093.2"/><circle cx="257.9" cy="1238.1"/><circle cx="366.2" cy="1236.3"/><circle cx="369.7" cy="1172.8"/><circle cx="279.7" cy="1317.8"/><circle cx="205.2" cy="1302.9"/><circle cx="371" cy="1099.5"/><circle cx="194.7" cy="1208.2"/><circle cx="286.7" cy="1209.3"/><circle cx="222" cy="1287.2"/><circle cx="206.1" cy="1203.3"/><circle cx="241.6" cy="1176.8"/><circle cx="382.3" cy="1192.1"/><circle cx="202.4" cy="1215.5"/><circle cx="330.7" cy="1163.5"/><circle cx="208.7" cy="1110.3"/><circle cx="325.2" cy="1179.9"/><circle cx="170.8" cy="1015.8"/><circle cx="174.5" cy="1240.2"/><circle cx="204.1" cy="1290.4"/><circle cx="270.8" cy="1311.8"/><circle cx="304.8" cy="1036"/><circle cx="393" cy="1043.9"/><circle cx="343" cy="1235.7"/><circle cx="341.4" cy="1080.1"/><circle cx="103.7" cy="1083.6"/><circle cx="214.6" cy="1304.7"/><circle cx="162.1" cy="1083.8"/><circle cx="195.5" cy="1177.4"/><circle cx="206.8" cy="1189.2"/><circle cx="249.9" cy="1287.7"/><circle cx="213.4" cy="1066.7"/><circle cx="204.5" cy="1309.9"/><circle cx="247.4" cy="1223"/><circle cx="316.5" cy="1108.5"/><circle cx="218.3" cy="1285.4"/><circle cx="150" cy="1147.2"/><circle cx="243" cy="1099.9"/><circle cx="403.5" cy="1210.9"/><circle cx="186.3" cy="1231.3"/><circle cx="283.7" cy="1246.5"/><circle cx="377.9" cy="1227.9"/><circle cx="198.3" cy="1273.4"/><circle cx="217" cy="1142.6"/><circle cx="213.3" cy="1074.7"/><circle cx="279.3" cy="1272.8"/><circle cx="248" cy="1226.4"/><circle cx="363.2" cy="1196.7"/><circle cx="355.5" cy="1273"/><circle cx="275.6" cy="1222.7"/><circle cx="227.1" cy="1214.1"/><circle cx="364.5" cy="1240"/><circle cx="272" cy="1098.7"/><circle cx="291.3" cy="1263.5"/><circle cx="170.3" cy="1132.4"/><circle cx="150.7" cy="1157.3"/><circle cx="301.7" cy="1276.1"/><circle cx="299.1" cy="1195.4"/><circle cx="320.7" cy="1018.8"/><circle cx="285" cy="1072.8"/><circle cx="294.7" cy="1147.9"/><circle cx="196.7" cy="1185.4"/><circle cx="368.6" cy="1213"/><circle cx="290.6" cy="1246.2"/><circle cx="237.5" cy="1144.9"/><circle cx="197.1" cy="1193.8"/><circle cx="231.3" cy="1145.8"/><circle cx="158.8" cy="1084.5"/><circle cx="237.4" cy="1226.1"/><circle cx="151.6" cy="1120.1"/><circle cx="321" cy="1150.6"/><circle cx="175.6" cy="1204.4"/><circle cx="307.4" cy="1211.4"/><circle cx="235.4" cy="1137.5"/><circle cx="321.8" cy="1176.5"/><circle cx="369.2" cy="1071.8"/><circle cx="139" cy="1072"/><circle cx="251.2" cy="1136.4"/><circle cx="323.1" cy="1259.3"/><circle cx="342.6" cy="1098.9"/><circle cx="172.5" cy="1101.2"/><circle cx="238" cy="1283.9"/><circle cx="206.3" cy="1118.2"/><circle cx="290.5" cy="1218.7"/><circle cx="399.1" cy="1132.3"/><circle cx="407.1" cy="1220.3"/><circle cx="358.3" cy="1232"/><circle cx="412" cy="1131.9"/><circle cx="357.8" cy="1234.1"/><circle cx="237.5" cy="1117.8"/><circle cx="202.7" cy="1162.2"/><circle cx="234.9" cy="1034.3"/><circle cx="279.3" cy="1313.1"/><circle cx="380.4" cy="1250.8"/><circle cx="175.9" cy="1124"/><circle cx="209" cy="1161.6"/><circle cx="250.5" cy="1302.6"/><circle cx="295.1" cy="1173.1"/><circle cx="304" cy="1095.1"/><circle cx="142.1" cy="1142"/><circle cx="332" cy="1288.7"/><circle cx="293.4" cy="1115"/><circle cx="294.9" cy="1159.6"/><circle cx="327.9" cy="1098.8"/><circle cx="392.2" cy="1204.4"/><circle cx="331.6" cy="1283.5"/><circle cx="261.2" cy="1133.2"/><circle cx="271.9" cy="1221.1"/><circle cx="309.6" cy="1300.3"/><circle cx="262.9" cy="1029.9"/><circle cx="330.5" cy="1200"/><circle cx="126.7" cy="1161"/><circle cx="351.7" cy="1258.9"/><circle cx="310.5" cy="1331.2"/><circle cx="298.4" cy="1143.6"/><circle cx="183.7" cy="1211.6"/><circle cx="313.6" cy="1165.1"/><circle cx="298.6" cy="1275.9"/><circle cx="282.7" cy="1179.6"/><circle cx="311.2" cy="1270.4"/><circle cx="306.3" cy="1194.7"/><circle cx="176.3" cy="1123.5"/><circle cx="341" cy="1141"/><circle cx="218.3" cy="1218.9"/><circle cx="283.4" cy="1203.1"/><circle cx="166.4" cy="1169.5"/><circle cx="284.1" cy="1328.7"/><circle cx="218.3" cy="1041.6"/><circle cx="276.9" cy="1140.3"/><circle cx="266.5" cy="1098.8"/><circle cx="264.9" cy="1288.2"/><circle cx="382" cy="1135.1"/><circle cx="191.7" cy="1124.7"/><circle cx="225.2" cy="1157.8"/><circle cx="247.5" cy="1245.4"/><circle cx="327.6" cy="1236.2"/><circle cx="228.9" cy="1275.4"/><circle cx="234.7" cy="1267.9"/><circle cx="367.1" cy="1173"/><circle cx="193" cy="1284.9"/><circle cx="192.9" cy="1157.9"/><circle cx="208.1" cy="1178.2"/><circle cx="281.4" cy="1250.7"/><circle cx="348.2" cy="1149"/><circle cx="229.9" cy="1286.4"/><circle cx="224.3" cy="1254.1"/><circle cx="159.3" cy="1165.6"/><circle cx="179.8" cy="1277.4"/><circle cx="252.8" cy="1215.7"/><circle cx="267.9" cy="1274.6"/><circle cx="379" cy="1186"/><circle cx="156" cy="1153.3"/><circle cx="260.5" cy="1216"/><circle cx="190.9" cy="1151.6"/><circle cx="293.1" cy="1258.9"/><circle cx="194.4" cy="1219"/><circle cx="200.9" cy="1209.9"/><circle cx="279.3" cy="1129.3"/><circle cx="234.9" cy="1216.8"/><circle cx="239.7" cy="1199.1"/><circle cx="359.2" cy="1221.2"/><circle cx="314.5" cy="1269.7"/><circle cx="375.4" cy="1329.1"/><circle cx="228.6" cy="1246.9"/><circle cx="244.2" cy="1150.5"/><circle cx="291.3" cy="1158.5"/><circle cx="392.8" cy="1232.1"/><circle cx="197.4" cy="1229.7"/><circle cx="258.1" cy="1310"/><circle cx="217.4" cy="1237.3"/><circle cx="349.4" cy="1253"/><circle cx="216.1" cy="1131.3"/><circle cx="291.2" cy="1189.9"/><circle cx="164.8" cy="1093.1"/><circle cx="268.4" cy="1307.2"/><circle cx="245.8" cy="1142.6"/><circle cx="301.2" cy="1079.9"/><circle cx="154.9" cy="1120.7"/><circle cx="409.5" cy="1187.8"/><circle cx="438.2" cy="1200.9"/><circle cx="345.9" cy="1138.7"/><circle cx="260.5" cy="1191.9"/><circle cx="340.1" cy="1121.9"/><circle cx="106.1" cy="1091.8"/><circle cx="172.2" cy="1278.2"/><circle cx="305" cy="1163.7"/><circle cx="287.6" cy="1304.6"/><circle cx="357.8" cy="1230.6"/><circle cx="281.8" cy="1152.3"/><circle cx="315.3" cy="1127"/><circle cx="288.8" cy="1102"/><circle cx="325.1" cy="1147.1"/><circle cx="349.9" cy="1204.1"/><circle cx="413.6" cy="1292.5"/><circle cx="354" cy="1193.7"/><circle cx="107.7" cy="1198.5"/><circle cx="323.3" cy="1228.3"/><circle cx="233.2" cy="1060.8"/><circle cx="254.2" cy="1192"/><circle cx="315" cy="1240.5"/><circle cx="258.1" cy="1182.5"/><circle cx="200.5" cy="1030.9"/><circle cx="267.4" cy="1124.1"/><circle cx="260.6" cy="1221.2"/><circle cx="152" cy="1062"/><circle cx="310.4" cy="1150.4"/><circle cx="349.9" cy="1288.7"/><circle cx="186.2" cy="1236.9"/><circle cx="264" cy="1071.6"/><circle cx="283.6" cy="1086"/><circle cx="243.4" cy="1276.2"/><circle cx="251.8" cy="1227.9"/><circle cx="428.5" cy="1313.9"/><circle cx="273.2" cy="1055.1"/><circle cx="259.3" cy="1172.8"/><circle cx="193.4" cy="1256.1"/><circle cx="294.9" cy="1078.3"/><circle cx="234.9" cy="1298.7"/><circle cx="177.4" cy="1114.2"/><circle cx="487.4" cy="1265.3"/><circle cx="271.4" cy="1148.2"/><circle cx="382.8" cy="1186"/><circle cx="313.8" cy="1067.6"/><circle cx="333" cy="1196.4"/><circle cx="251.2" cy="1295.6"/><circle cx="227.8" cy="1281.2"/><circle cx="279.4" cy="1250.1"/><circle cx="244.2" cy="1084.6"/><circle cx="265.8" cy="1112.7"/><circle cx="297.3" cy="1189.6"/><circle cx="239.6" cy="1288"/><circle cx="245" cy="1263.8"/><circle cx="345.2" cy="1145.6"/><circle cx="331.7" cy="1257.7"/><circle cx="396.1" cy="1186.9"/><circle cx="140.1" cy="1099.5"/><circle cx="275.1" cy="1162"/><circle cx="419.9" cy="1238.1"/><circle cx="187.7" cy="1252.5"/><circle cx="235" cy="1238.8"/><circle cx="247.3" cy="1328.2"/><circle cx="425.5" cy="1167.7"/><circle cx="303.2" cy="1061.1"/><circle cx="436.9" cy="1209"/><circle cx="406.3" cy="1324.2"/><circle cx="164.8" cy="1101.4"/><circle cx="167.1" cy="1093"/><circle cx="297.3" cy="1133.9"/><circle cx="207.1" cy="1101.6"/><circle cx="351.9" cy="1208.7"/><circle cx="405.9" cy="1194.8"/><circle cx="221.3" cy="1070.9"/><circle cx="175.5" cy="1093.1"/><circle cx="229.3" cy="1084.7"/><circle cx="366.2" cy="1067.3"/><circle cx="251.1" cy="1104.8"/><circle cx="242.3" cy="1320.5"/><circle cx="329.2" cy="1204.7"/><circle cx="351.6" cy="1202.9"/><circle cx="265.7" cy="1049.5"/><circle cx="336.4" cy="1213.2"/><circle cx="176.1" cy="1139.2"/><circle cx="159.4" cy="1143.6"/><circle cx="334.3" cy="1224.7"/><circle cx="247.7" cy="1157.4"/><circle cx="160.8" cy="1120.2"/><circle cx="185.2" cy="1088"/><circle cx="325.7" cy="1199.5"/><circle cx="155" cy="1128.8"/><circle cx="383.1" cy="1189.1"/><circle cx="430" cy="1172.6"/><circle cx="428.3" cy="1222.3"/><circle cx="223.2" cy="1258.5"/><circle cx="178.2" cy="1035.5"/><circle cx="199.8" cy="1125.2"/><circle cx="390.2" cy="1266.9"/><circle cx="208.2" cy="1070.6"/><circle cx="489.1" cy="1093.6"/><circle cx="338.2" cy="1059.6"/><circle cx="380.1" cy="1158"/><circle cx="208.7" cy="1126.8"/><circle cx="354.9" cy="1205"/><circle cx="235.6" cy="1309.9"/><circle cx="351.1" cy="1057.6"/><circle cx="331.6" cy="1125.9"/><circle cx="248" cy="1260.4"/><circle cx="319.2" cy="1257.1"/><circle cx="282.9" cy="1066.4"/><circle cx="404.8" cy="1273.7"/><circle cx="359.2" cy="1228.7"/><circle cx="268.4" cy="1279.8"/><circle cx="229" cy="1330.1"/><circle cx="240.2" cy="1206"/><circle cx="211.2" cy="1139.7"/><circle cx="207.5" cy="1078.9"/><circle cx="227" cy="1154.8"/><circle cx="294.3" cy="1299.8"/><circle cx="331.2" cy="1073.2"/><circle cx="241.2" cy="1185.2"/><circle cx="214.9" cy="1319.1"/><circle cx="274.7" cy="1236.1"/><circle cx="304.1" cy="1194"/><circle cx="340.7" cy="1146.4"/><circle cx="318.4" cy="995.3"/><circle cx="377.8" cy="1158.2"/><circle cx="241.2" cy="1277.7"/><circle cx="393" cy="1235.1"/><circle cx="327.2" cy="1119.9"/><circle cx="320.3" cy="1276.4"/><circle cx="184.3" cy="1082.7"/><circle cx="335.7" cy="1122.7"/><circle cx="337.7" cy="1301.6"/><circle cx="245.8" cy="1201.5"/><circle cx="272.6" cy="1221.3"/><circle cx="356.9" cy="1219.2"/><circle cx="320" cy="1159.2"/><circle cx="209.8" cy="1179.7"/><circle cx="381.8" cy="1254.7"/><circle cx="251.2" cy="1101.4"/><circle cx="199.5" cy="1169.2"/><circle cx="422.6" cy="1114.4"/><circle cx="307.4" cy="1108.4"/><circle cx="241.4" cy="1108.9"/><circle cx="330.7" cy="1062"/><circle cx="257.5" cy="1308.9"/><circle cx="209.1" cy="976.8"/><circle cx="200.2" cy="1274"/><circle cx="281.9" cy="1336.2"/><circle cx="450.5" cy="1141.2"/><circle cx="341.3" cy="1086.5"/><circle cx="374.3" cy="1184.3"/><circle cx="351.1" cy="1186.8"/><circle cx="399.9" cy="1150.8"/><circle cx="324" cy="1263.3"/><circle cx="249.1" cy="1079.1"/><circle cx="215.9" cy="1125.7"/><circle cx="372" cy="1143.3"/><circle cx="280.9" cy="1164.1"/><circle cx="183.7" cy="1118.5"/><circle cx="188.3" cy="1121.3"/><circle cx="353.2" cy="1173.2"/><circle cx="376.9" cy="1153.7"/><circle cx="359.8" cy="1208.3"/><circle cx="246.7" cy="1283.3"/><circle cx="355.9" cy="1191.2"/><circle cx="372.8" cy="1153.8"/><circle cx="363.6" cy="1136.2"/><circle cx="400.7" cy="1178.8"/><circle cx="390" cy="1234.5"/><circle cx="111.3" cy="1148.3"/><circle cx="206.3" cy="1172.5"/><circle cx="275.1" cy="1299.5"/><circle cx="266.4" cy="1278"/><circle cx="342" cy="1106.1"/><circle cx="204.4" cy="1059.3"/><circle cx="251.1" cy="1082.8"/><circle cx="155.4" cy="1111.4"/><circle cx="133" cy="1137.2"/><circle cx="236.1" cy="1038.5"/><circle cx="439.6" cy="1260.1"/><circle cx="156.3" cy="1146.1"/><circle cx="246.7" cy="1249.5"/><circle cx="229.6" cy="1243.2"/><circle cx="289.4" cy="1155.7"/><circle cx="129.3" cy="1117.6"/><circle cx="396.2" cy="1184.4"/><circle cx="373.8" cy="1163.2"/><circle cx="263.1" cy="1199.7"/><circle cx="199.6" cy="1076.6"/><circle cx="275" cy="1141.6"/><circle cx="222.4" cy="1224.3"/><circle cx="456.1" cy="1154.9"/><circle cx="181.5" cy="1214.5"/><circle cx="450.3" cy="1102.9"/><circle cx="253.3" cy="1260.3"/><circle cx="435.6" cy="1033.4"/><circle cx="212.4" cy="1201"/><circle cx="335" cy="1228.5"/><circle cx="197.3" cy="1250.4"/><circle cx="283" cy="1269.5"/><circle cx="288.6" cy="1286.9"/><circle cx="236.4" cy="1307.6"/><circle cx="403.6" cy="1147"/><circle cx="345.5" cy="1216.4"/><circle cx="220.3" cy="1229.2"/><circle cx="200" cy="1076.9"/><circle cx="319.8" cy="1165.2"/><circle cx="231" cy="1249.5"/><circle cx="362.4" cy="1210.1"/><circle cx="256.1" cy="1082.8"/><circle cx="467.8" cy="1242.9"/><circle cx="262.2" cy="1251.4"/><circle cx="313.3" cy="1283.7"/><circle cx="253.1" cy="1121.4"/><circle cx="352.2" cy="1093.4"/><circle cx="199.8" cy="1094.1"/><circle cx="284.2" cy="1268.3"/><circle cx="446.2" cy="1216.3"/><circle cx="253.3" cy="1223.8"/><circle cx="401.7" cy="1111.5"/><circle cx="420.5" cy="1106.7"/><circle cx="287.3" cy="1295.7"/><circle cx="281.7" cy="1205"/><circle cx="289.3" cy="1183"/><circle cx="269" cy="1041.3"/><circle cx="206" cy="1120.1"/><circle cx="127.1" cy="1158.2"/><circle cx="402.1" cy="1322.4"/><circle cx="367.8" cy="1237.3"/><circle cx="322.1" cy="1115.3"/><circle cx="298.3" cy="1156"/><circle cx="266.9" cy="1230.4"/><circle cx="253.6" cy="1086"/><circle cx="306.7" cy="1202.4"/><circle cx="228" cy="1195.5"/><circle cx="438.9" cy="1209"/><circle cx="262.2" cy="1152.8"/><circle cx="315.9" cy="1119"/><circle cx="190.6" cy="1202.5"/><circle cx="406.6" cy="1177.8"/><circle cx="330" cy="1183.8"/><circle cx="309.7" cy="1179.8"/><circle cx="409.3" cy="1162.6"/><circle cx="155.8" cy="1261"/><circle cx="240" cy="1192.4"/><circle cx="341.2" cy="1174.9"/><circle cx="502.5" cy="1237.2"/><circle cx="374.6" cy="1152.6"/><circle cx="174.3" cy="1084.4"/><circle cx="308.8" cy="1189.3"/><circle cx="265.7" cy="1139"/><circle cx="363" cy="1104.3"/><circle cx="263.7" cy="1263.5"/><circle cx="257" cy="1318.2"/><circle cx="235.3" cy="1305.6"/><circle cx="258.9" cy="1281"/><circle cx="215.5" cy="1168.4"/><circle cx="311.6" cy="1129.7"/><circle cx="182.1" cy="1190.5"/><circle cx="254.8" cy="1048.9"/><circle cx="451.6" cy="1208.2"/><circle cx="497.4" cy="1219.3"/><circle cx="238.9" cy="1183.7"/><circle cx="441.1" cy="1204.6"/><circle cx="402.8" cy="1164.2"/><circle cx="204.9" cy="1314.2"/><circle cx="287.6" cy="1275.3"/><circle cx="287.7" cy="1219.6"/><circle cx="396.9" cy="1264.5"/><circle cx="199.1" cy="1224.7"/><circle cx="350.6" cy="1249.5"/><circle cx="186.7" cy="1052.1"/><circle cx="373" cy="1278.8"/><circle cx="241.2" cy="1226.4"/><circle cx="304" cy="1186"/><circle cx="210.4" cy="1306.9"/><circle cx="320.3" cy="1128.8"/><circle cx="234.1" cy="1147.2"/><circle cx="326.5" cy="1268.7"/><circle cx="198.9" cy="1288.9"/><circle cx="377" cy="1064.6"/><circle cx="173.4" cy="1107.3"/><circle cx="352.1" cy="1177.3"/><circle cx="339.6" cy="1217.9"/><circle cx="196.3" cy="1244.1"/><circle cx="292.1" cy="1197.3"/><circle cx="197.7" cy="1280.5"/><circle cx="356.3" cy="1285.7"/><circle cx="231.2" cy="1318.8"/><circle cx="141.6" cy="1031.3"/><circle cx="262.1" cy="1287.6"/><circle cx="324.8" cy="1224.7"/><circle cx="297" cy="1070.6"/><circle cx="204" cy="1039.8"/><circle cx="264.7" cy="1285.7"/><circle cx="211.9" cy="1033.4"/><circle cx="174.4" cy="1165.7"/><circle cx="307.6" cy="1205.7"/><circle cx="263.8" cy="1216.7"/><circle cx="206.9" cy="1200.8"/><circle cx="273.8" cy="1164.4"/><circle cx="128.7" cy="1244"/><circle cx="322.8" cy="1286.6"/><circle cx="110.1" cy="989"/><circle cx="428.1" cy="1121.7"/><circle cx="325.6" cy="1271.1"/><circle cx="316.6" cy="1142"/><circle cx="247.3" cy="1122.1"/><circle cx="168.6" cy="1113.6"/><circle cx="259.3" cy="1332.5"/><circle cx="196" cy="1150.2"/><circle cx="386.8" cy="1249.6"/><circle cx="285.8" cy="1077.8"/><circle cx="234.3" cy="1138.1"/><circle cx="203.1" cy="1270.4"/><circle cx="249.7" cy="1047.6"/><circle cx="404.8" cy="1218.3"/><circle cx="373.3" cy="1148.3"/><circle cx="211.5" cy="1303.7"/><circle cx="260.6" cy="1222"/><circle cx="287.8" cy="1098.7"/><circle cx="416.3" cy="1182.3"/><circle cx="202.5" cy="1210.8"/><circle cx="387.2" cy="1183.7"/><circle cx="367.4" cy="1216.1"/><circle cx="176.2" cy="1176.3"/><circle cx="227.8" cy="1259.3"/><circle cx="476.9" cy="1122.8"/><circle cx="379.4" cy="1228"/><circle cx="208" cy="1303.7"/><circle cx="347.4" cy="1145.2"/><circle cx="216.7" cy="1278.4"/><circle cx="232.8" cy="1157.8"/><circle cx="137.4" cy="1123"/><circle cx="208.3" cy="1105.5"/><circle cx="102" cy="1048.3"/><circle cx="146.5" cy="1254.1"/><circle cx="417.2" cy="1223.5"/><circle cx="427" cy="1191.7"/><circle cx="343.6" cy="1320"/><circle cx="477.6" cy="1134.5"/><circle cx="371.5" cy="1177.3"/><circle cx="423" cy="1226.9"/><circle cx="225.2" cy="1013.2"/><circle cx="188.6" cy="1207.6"/><circle cx="242.1" cy="1184.6"/><circle cx="232.8" cy="1183.8"/><circle cx="367.1" cy="1254.8"/><circle cx="323.5" cy="1150.7"/><circle cx="365.1" cy="1153.3"/><circle cx="286.8" cy="1190.4"/><circle cx="357.5" cy="1296.1"/><circle cx="153" cy="1229"/><circle cx="388.5" cy="1107.7"/><circle cx="214.2" cy="1295.3"/><circle cx="152.6" cy="1032"/><circle cx="271.2" cy="1227.9"/><circle cx="372.1" cy="1175.6"/><circle cx="246.5" cy="1207"/><circle cx="365.9" cy="1164.8"/><circle cx="341.1" cy="1173.9"/><circle cx="409.6" cy="1128.1"/><circle cx="128.4" cy="1001.7"/><circle cx="204.7" cy="1108.9"/><circle cx="232.2" cy="1217.3"/><circle cx="355.2" cy="1233.4"/><circle cx="319.7" cy="1182"/><circle cx="144.7" cy="1169.7"/><circle cx="182.9" cy="1098.9"/><circle cx="234.5" cy="1247.1"/><circle cx="365.5" cy="1107.9"/><circle cx="302.4" cy="1018.5"/><circle cx="217.2" cy="1057.6"/><circle cx="302.3" cy="1220.5"/><circle cx="369.3" cy="1184.5"/><circle cx="255.3" cy="1148.6"/><circle cx="191.4" cy="1080.7"/><circle cx="285.2" cy="1103"/><circle cx="369.3" cy="1187.2"/><circle cx="325" cy="1089.8"/><circle cx="331.3" cy="1210.3"/><circle cx="256.6" cy="1317.7"/><circle cx="261.4" cy="1279.3"/><circle cx="455.2" cy="1237.5"/><circle cx="343.2" cy="1061.1"/><circle cx="212.5" cy="1228"/><circle cx="367.8" cy="1124.9"/><circle cx="211.5" cy="1099.2"/><circle cx="295.5" cy="1068.2"/><circle cx="193.7" cy="1071"/><circle cx="162.1" cy="1108.2"/><circle cx="323" cy="1231.2"/><circle cx="349.4" cy="1160.6"/><circle cx="385.8" cy="1179.6"/><circle cx="353.4" cy="1105.7"/><circle cx="361.5" cy="1181.5"/><circle cx="451.1" cy="1189.7"/><circle cx="307.7" cy="1289.4"/><circle cx="227.7" cy="1139.3"/><circle cx="362.3" cy="1105.8"/><circle cx="185.9" cy="1212"/><circle cx="310.3" cy="1042.9"/><circle cx="160.4" cy="1132.3"/><circle cx="243.4" cy="1049.1"/><circle cx="216.5" cy="1259"/><circle cx="301.5" cy="1124.3"/><circle cx="249.4" cy="1303.3"/><circle cx="247.4" cy="1184.5"/><circle cx="227.1" cy="1070.1"/><circle cx="208.6" cy="1114"/><circle cx="305.8" cy="1051.2"/><circle cx="182.3" cy="1202.8"/><circle cx="356.3" cy="1263.4"/><circle cx="244.1" cy="1133.4"/><circle cx="247.1" cy="1162.2"/><circle cx="359.5" cy="1097.5"/><circle cx="411.8" cy="1242.7"/><circle cx="165.8" cy="1058"/><circle cx="354.9" cy="1088.5"/><circle cx="186.8" cy="1319.7"/><circle cx="142.5" cy="1016.7"/><circle cx="283.6" cy="1170.3"/><circle cx="231.7" cy="1197.8"/><circle cx="333.4" cy="1298.6"/><circle cx="304.6" cy="1244.7"/><circle cx="296.3" cy="1110.8"/><circle cx="203.8" cy="1089.8"/><circle cx="205.5" cy="1133.8"/><circle cx="270.1" cy="1300.6"/><circle cx="362" cy="1205.2"/><circle cx="286.4" cy="1062.8"/><circle cx="381.3" cy="1163.3"/><circle cx="372.9" cy="1138"/><circle cx="472.2" cy="1181.2"/><circle cx="239.7" cy="1067.3"/><circle cx="297.3" cy="1057.1"/><circle cx="242.2" cy="1067.4"/><circle cx="399.9" cy="1174.2"/><circle cx="193.5" cy="1098"/><circle cx="206.4" cy="1313.7"/><circle cx="325.8" cy="1226.6"/><circle cx="194.9" cy="1121.2"/><circle cx="391.8" cy="1192.9"/><circle cx="298.9" cy="1284.6"/><circle cx="315.8" cy="1271.6"/><circle cx="415.1" cy="1158.1"/><circle cx="191.9" cy="1147.9"/><circle cx="168.1" cy="1131.9"/><circle cx="439.5" cy="1165.6"/><circle cx="264.5" cy="1311.5"/><circle cx="231.2" cy="1280.5"/><circle cx="268.5" cy="1184"/><circle cx="329.7" cy="1086.8"/><circle cx="302.4" cy="1078.3"/><circle cx="233.7" cy="1307.1"/><circle cx="287.1" cy="1163"/><circle cx="287.1" cy="1132.2"/><circle cx="380" cy="1172.9"/><circle cx="329.9" cy="1317.1"/><circle cx="173" cy="1113.4"/><circle cx="480.7" cy="1112.1"/><circle cx="352.9" cy="1122.5"/><circle cx="333.9" cy="1180.3"/><circle cx="467.9" cy="1229.6"/><circle cx="243.5" cy="1268.4"/><circle cx="379.3" cy="1237.1"/><circle cx="412.4" cy="1193.5"/><circle cx="249.5" cy="1292.4"/><circle cx="213.3" cy="1118.7"/><circle cx="339.7" cy="1067.5"/><circle cx="295.7" cy="1277.2"/><circle cx="278" cy="1064.8"/><circle cx="150.3" cy="1065.2"/><circle cx="261.6" cy="1203.4"/><circle cx="331.7" cy="1225.2"/><circle cx="187.1" cy="1204"/><circle cx="141.8" cy="1007.6"/><circle cx="191.3" cy="1136.9"/><circle cx="283.2" cy="1142.5"/><circle cx="357.6" cy="1123.9"/><circle cx="227.9" cy="1089.6"/><circle cx="181" cy="1108.9"/><circle cx="237.2" cy="1247.7"/><circle cx="473" cy="1233.2"/><circle cx="163.9" cy="1107"/><circle cx="333.3" cy="1075.1"/><circle cx="266.2" cy="1137"/><circle cx="322.9" cy="1140"/><circle cx="406.9" cy="1169.5"/><circle cx="277.9" cy="1159.8"/><circle cx="304.1" cy="1227.9"/><circle cx="144.7" cy="1290"/><circle cx="361" cy="1244.9"/><circle cx="344.9" cy="1135.7"/><circle cx="275.6" cy="1203"/><circle cx="377" cy="1235.9"/><circle cx="369.1" cy="1167.1"/><circle cx="283.9" cy="1149.7"/><circle cx="229.8" cy="1238.7"/><circle cx="357.6" cy="1175.3"/><circle cx="223.8" cy="1059.6"/><circle cx="176.6" cy="1142.1"/><circle cx="307.5" cy="1130.2"/><circle cx="347.2" cy="1074.8"/><circle cx="229.6" cy="1170.1"/><circle cx="278.8" cy="1308.5"/><circle cx="214.6" cy="1124.4"/><circle cx="306.5" cy="1143.7"/><circle cx="299.2" cy="1121"/><circle cx="172.8" cy="1155.9"/><circle cx="331.8" cy="1117.2"/><circle cx="138.5" cy="1079.2"/><circle cx="330.7" cy="1305.2"/><circle cx="208" cy="1175.5"/><circle cx="300" cy="1068.9"/><circle cx="322.8" cy="1292.4"/><circle cx="335.2" cy="1170.3"/><circle cx="332.5" cy="1088"/><circle cx="234.8" cy="1175.3"/><circle cx="318" cy="1283.4"/><circle cx="185.3" cy="1125"/><circle cx="225.7" cy="1078.5"/><circle cx="195.4" cy="1172.3"/><circle cx="186.6" cy="1185.1"/><circle cx="339.5" cy="1256.1"/><circle cx="170.8" cy="1179.9"/><circle cx="257" cy="1146"/><circle cx="235.5" cy="1125.9"/><circle cx="255.7" cy="1228.8"/><circle cx="198.7" cy="1294.2"/><circle cx="292.1" cy="1160.2"/><circle cx="240.5" cy="1201.5"/><circle cx="225.5" cy="1104.6"/><circle cx="307.2" cy="1218"/><circle cx="214.2" cy="1179.9"/><circle cx="330.1" cy="1075.2"/><circle cx="324.1" cy="1097.6"/><circle cx="307.7" cy="1253.6"/><circle cx="270.9" cy="1248.7"/><circle cx="431.1" cy="1092"/><circle cx="269.6" cy="1170.5"/><circle cx="198.6" cy="1104.6"/><circle cx="408.9" cy="1190"/><circle cx="215.7" cy="1127.4"/><circle cx="393.8" cy="1192"/><circle cx="203.3" cy="1164.6"/><circle cx="358.5" cy="1101.3"/><circle cx="381.8" cy="1257.1"/><circle cx="114" cy="1041.7"/><circle cx="292" cy="1336.3"/><circle cx="250.2" cy="1155.5"/><circle cx="124.9" cy="1182.1"/><circle cx="218.8" cy="1113.4"/><circle cx="351.1" cy="1222.6"/><circle cx="334.3" cy="1169.9"/><circle cx="463.5" cy="1073.3"/><circle cx="337.1" cy="1259.8"/><circle cx="182.9" cy="1130.6"/><circle cx="299.1" cy="1170.4"/><circle cx="234.1" cy="1274.3"/><circle cx="294.4" cy="1099.7"/><circle cx="361.5" cy="1100.8"/><circle cx="273.4" cy="1115.4"/><circle cx="216.7" cy="1192.3"/><circle cx="229.6" cy="1062.7"/><circle cx="254.2" cy="1283.6"/><circle cx="187" cy="1130.9"/><circle cx="263.4" cy="1239.7"/><circle cx="216.7" cy="1275.3"/><circle cx="349.5" cy="1121.1"/><circle cx="268.4" cy="1087.5"/><circle cx="241.4" cy="1274.7"/><circle cx="209.7" cy="1164.7"/><circle cx="286.6" cy="1240.8"/><circle cx="145.8" cy="1098.9"/><circle cx="246.8" cy="1214.6"/><circle cx="104.4" cy="1122.3"/><circle cx="254.7" cy="1199.8"/><circle cx="345.8" cy="1219.4"/><circle cx="258.4" cy="1165.1"/><circle cx="202.1" cy="1069.4"/><circle cx="287" cy="1123.5"/><circle cx="263.1" cy="1228.1"/><circle cx="247.9" cy="1118.9"/><circle cx="353.2" cy="1270.6"/><circle cx="244.1" cy="1292.5"/><circle cx="312" cy="1294.3"/><circle cx="232.3" cy="1188.7"/><circle cx="336.5" cy="1158.5"/><circle cx="428.2" cy="1255.8"/><circle cx="272.3" cy="1291.2"/><circle cx="143.6" cy="1130"/><circle cx="281.2" cy="1241.8"/><circle cx="236.8" cy="1257.3"/><circle cx="301.5" cy="1063"/><circle cx="150.9" cy="1101.7"/><circle cx="368.5" cy="1174.3"/><circle cx="297.8" cy="1248.5"/><circle cx="235.4" cy="1280.4"/><circle cx="269.7" cy="1275.1"/><circle cx="321" cy="1301.1"/><circle cx="390.4" cy="1244.4"/><circle cx="205.1" cy="1258.9"/><circle cx="280.4" cy="1253.4"/><circle cx="268.2" cy="1283.3"/><circle cx="355" cy="1224.5"/><circle cx="218.4" cy="1091.5"/><circle cx="421.9" cy="1286.3"/><circle cx="138.9" cy="1296.7"/><circle cx="241.6" cy="1054"/><circle cx="148.5" cy="1130.5"/><circle cx="334" cy="1210.7"/><circle cx="295.6" cy="1069.6"/><circle cx="317.7" cy="1206.4"/><circle cx="246.5" cy="1095.3"/><circle cx="204" cy="1077.3"/><circle cx="328" cy="1178.1"/><circle cx="229.5" cy="1068"/><circle cx="330.1" cy="1292.3"/><circle cx="327.7" cy="1274.2"/><circle cx="201" cy="1252"/><circle cx="200.6" cy="1112.5"/><circle cx="285.6" cy="1210.2"/><circle cx="143.9" cy="1164.4"/><circle cx="184.8" cy="1133.3"/><circle cx="177.7" cy="1130.8"/><circle cx="311.2" cy="1336.1"/><circle cx="411.9" cy="1062.1"/><circle cx="226.1" cy="1160.7"/><circle cx="311.6" cy="1128.4"/><circle cx="207.7" cy="1262"/><circle cx="422.4" cy="1172.7"/><circle cx="390.7" cy="1205.4"/><circle cx="304.1" cy="1068.5"/><circle cx="400.5" cy="1303.5"/><circle cx="242.6" cy="1312.7"/><circle cx="414.3" cy="1192.5"/><circle cx="338" cy="1088.1"/><circle cx="320.9" cy="1258.2"/><circle cx="325.7" cy="1014.9"/><circle cx="227.5" cy="1207.2"/><circle cx="345.1" cy="1255.1"/><circle cx="167.7" cy="1165.6"/><circle cx="351.6" cy="1261.3"/><circle cx="264.1" cy="1153.2"/><circle cx="266.8" cy="1058.7"/><circle cx="199.5" cy="1213.1"/><circle cx="290.6" cy="1125.4"/><circle cx="262" cy="1050.3"/><circle cx="201.5" cy="1263.4"/><circle cx="257.6" cy="1080.9"/><circle cx="417.8" cy="1221.4"/><circle cx="195.6" cy="1283"/><circle cx="416.4" cy="1155"/><circle cx="301" cy="1119.2"/><circle cx="170.4" cy="1184.5"/><circle cx="247.1" cy="1232.4"/><circle cx="271.1" cy="1033.7"/><circle cx="222.8" cy="1082.4"/><circle cx="330.8" cy="1196.3"/><circle cx="171.3" cy="1144.2"/><circle cx="273.8" cy="1224.9"/><circle cx="266.2" cy="1113.3"/><circle cx="226.3" cy="1125.4"/><circle cx="319.8" cy="1232.1"/><circle cx="312.4" cy="1240.7"/><circle cx="159.5" cy="1080.6"/><circle cx="268.3" cy="1170.1"/><circle cx="290.1" cy="1129.9"/><circle cx="222.4" cy="1134.9"/><circle cx="295.8" cy="1237.3"/><circle cx="257.2" cy="1069.9"/><circle cx="377.4" cy="1251.6"/><circle cx="339.2" cy="1147.9"/><circle cx="323.4" cy="1290.8"/><circle cx="314" cy="1214.7"/><circle cx="119" cy="1179.8"/><circle cx="253.1" cy="1249.7"/><circle cx="139.9" cy="1032.2"/><circle cx="328.3" cy="1124.1"/><circle cx="244.2" cy="1280.5"/><circle cx="180.7" cy="1211.8"/><circle cx="361.9" cy="1166.3"/><circle cx="242.3" cy="1011.9"/><circle cx="333.7" cy="1252.1"/><circle cx="227.8" cy="1224.6"/><circle cx="228.5" cy="1151.9"/><circle cx="243.5" cy="1324.7"/><circle cx="233.8" cy="1131.1"/><circle cx="185.8" cy="1081.9"/><circle cx="385.6" cy="1276"/><circle cx="266.5" cy="1110.2"/><circle cx="216.4" cy="1060.2"/><circle cx="216.2" cy="1173.2"/><circle cx="388.4" cy="1168.1"/><circle cx="434.7" cy="1257.9"/><circle cx="209.3" cy="1230.6"/><circle cx="376.6" cy="1225.9"/><circle cx="347.5" cy="1129.8"/><circle cx="246" cy="1049.1"/><circle cx="395.9" cy="1246.4"/><circle cx="332.3" cy="1102.3"/><circle cx="320.7" cy="1180.6"/><circle cx="239.2" cy="1090.2"/><circle cx="262.9" cy="1116.1"/><circle cx="256.3" cy="1208.6"/><circle cx="197.3" cy="1108.3"/><circle cx="323.5" cy="1155.9"/><circle cx="232.8" cy="1295.1"/><circle cx="278.9" cy="1295.3"/><circle cx="162.4" cy="1052.4"/><circle cx="224.4" cy="1283.5"/><circle cx="236.2" cy="1222.8"/><circle cx="186.5" cy="1152.5"/><circle cx="275.1" cy="1136.1"/><circle cx="227.2" cy="1109.9"/><circle cx="208.4" cy="1255.6"/><circle cx="317" cy="1226.1"/><circle cx="158.8" cy="1170.4"/><circle cx="336.8" cy="1229.8"/><circle cx="421" cy="1111.1"/><circle cx="327.8" cy="1150.8"/><circle cx="388.1" cy="1206.6"/><circle cx="323.9" cy="1302.2"/><circle cx="406.6" cy="1135.3"/><circle cx="151.8" cy="1077.2"/><circle cx="379.4" cy="1221.8"/><circle cx="276.6" cy="1112.6"/><circle cx="219.1" cy="1316"/><circle cx="230.7" cy="1096"/><circle cx="311.2" cy="1201.1"/><circle cx="269.6" cy="1222.7"/><circle cx="286.8" cy="1308.1"/><circle cx="285.9" cy="1149.9"/><circle cx="179.8" cy="1124.9"/><circle cx="346.4" cy="1104.6"/><circle cx="92.1" cy="1146.3"/><circle cx="214.1" cy="1167.8"/><circle cx="431.7" cy="1214.2"/><circle cx="307.9" cy="1074.9"/><circle cx="234" cy="1084.4"/><circle cx="189.2" cy="1227.6"/><circle cx="245.8" cy="1066.1"/><circle cx="268.8" cy="1076.5"/><circle cx="315.4" cy="1137.3"/><circle cx="202.6" cy="1042.5"/><circle cx="309.6" cy="1149.8"/><circle cx="312.3" cy="1231"/><circle cx="301.2" cy="1319.4"/><circle cx="208.1" cy="1039.2"/><circle cx="216.2" cy="1074.9"/><circle cx="358.6" cy="1187.3"/><circle cx="276.9" cy="1079.8"/><circle cx="322.1" cy="1269.7"/><circle cx="254.6" cy="1158.1"/><circle cx="325.6" cy="1081.8"/><circle cx="222.6" cy="1289.7"/><circle cx="448.6" cy="1187.7"/><circle cx="366.5" cy="1215.9"/><circle cx="289.5" cy="1116.7"/><circle cx="301.8" cy="1141.5"/><circle cx="296.6" cy="1087.3"/><circle cx="340.3" cy="1133.1"/><circle cx="225.6" cy="1118.5"/><circle cx="354.2" cy="1152.1"/><circle cx="236.3" cy="1058.4"/><circle cx="330.5" cy="1099.9"/><circle cx="198.5" cy="1161.2"/><circle cx="363.7" cy="1130.3"/><circle cx="344.9" cy="1191.8"/><circle cx="233.2" cy="1230.3"/><circle cx="279.9" cy="1112.5"/><circle cx="359" cy="1133.3"/><circle cx="328.7" cy="1214.8"/><circle cx="218.9" cy="1177.4"/><circle cx="118.4" cy="1099.1"/><circle cx="210.8" cy="1261.3"/><circle cx="269.8" cy="1266.1"/><circle cx="213.3" cy="1189"/><circle cx="222.5" cy="1254.7"/><circle cx="246.4" cy="1288.8"/><circle cx="444.7" cy="1162.5"/><circle cx="188.2" cy="1234.8"/><circle cx="264.3" cy="1212.2"/><circle cx="424" cy="1150.6"/><circle cx="286.6" cy="1221.7"/><circle cx="237.1" cy="1236.3"/><circle cx="381.1" cy="1154.5"/><circle cx="208.2" cy="1140.1"/><circle cx="184.2" cy="1072.5"/><circle cx="393.2" cy="1161.7"/><circle cx="140.2" cy="1148.5"/><circle cx="231" cy="1088.5"/><circle cx="298.2" cy="1303.2"/><circle cx="162.6" cy="1160"/><circle cx="153.8" cy="1219.9"/><circle cx="438.5" cy="1222.5"/><circle cx="308.7" cy="988.4"/><circle cx="229.9" cy="1182.7"/><circle cx="228.9" cy="1065.7"/><circle cx="236.7" cy="1289.7"/><circle cx="192.6" cy="1053.2"/><circle cx="378.5" cy="1247.2"/><circle cx="332.8" cy="1279.1"/><circle cx="267.3" cy="1313.9"/><circle cx="222.1" cy="1266.7"/><circle cx="435.5" cy="1274.4"/><circle cx="239.9" cy="1130.9"/><circle cx="304.2" cy="1213.1"/><circle cx="231.3" cy="1298.7"/><circle cx="211.9" cy="1104.4"/><circle cx="335" cy="1065.2"/><circle cx="458.7" cy="1203.2"/><circle cx="298.9" cy="1257.2"/><circle cx="87.2" cy="1067.6"/><circle cx="234.5" cy="1173.1"/><circle cx="158.6" cy="1144.4"/><circle cx="374" cy="1099.4"/><circle cx="204" cy="1236.1"/><circle cx="398" cy="1175.7"/><circle cx="338.8" cy="1110.2"/><circle cx="194.4" cy="1076.8"/><circle cx="160.8" cy="1124.7"/><circle cx="308.7" cy="1239.4"/><circle cx="253.7" cy="1174.6"/><circle cx="386.6" cy="1167.6"/><circle cx="441.9" cy="1031.9"/><circle cx="277.7" cy="1077.2"/><circle cx="341.1" cy="1057.3"/><circle cx="175.7" cy="1139.6"/><circle cx="218.3" cy="1321.7"/><circle cx="321.1" cy="1041.9"/><circle cx="373.8" cy="1106.7"/><circle cx="318.1" cy="1108"/><circle cx="374.3" cy="1292.7"/><circle cx="309.5" cy="1246.9"/><circle cx="325.3" cy="1299.6"/><circle cx="179.7" cy="1099.2"/><circle cx="244.6" cy="1062.7"/><circle cx="214.5" cy="1237.1"/><circle cx="330" cy="1285.1"/><circle cx="323.9" cy="1074.8"/><circle cx="231.8" cy="1051.2"/><circle cx="227.8" cy="1230.9"/><circle cx="350.9" cy="1154.9"/><circle cx="386.6" cy="1136.9"/><circle cx="318.1" cy="1188.2"/><circle cx="184.8" cy="1188.5"/><circle cx="318.3" cy="1096.4"/><circle cx="238.2" cy="1050.8"/><circle cx="216.3" cy="1152.3"/><circle cx="276.9" cy="1045.1"/><circle cx="180.2" cy="1178.9"/><circle cx="335.7" cy="1124.5"/><circle cx="155.4" cy="1120.1"/><circle cx="268.8" cy="1100.5"/><circle cx="367.3" cy="1113.2"/><circle cx="327.2" cy="1295.4"/><circle cx="316.5" cy="1185.3"/><circle cx="223.2" cy="1168.8"/><circle cx="284.7" cy="1096.1"/><circle cx="408.8" cy="1226.7"/><circle cx="239.8" cy="1256.2"/><circle cx="262.4" cy="1257.4"/><circle cx="195.9" cy="1115.5"/><circle cx="222" cy="1164"/><circle cx="275.8" cy="1227.9"/><circle cx="231.1" cy="1305.7"/><circle cx="230.5" cy="1315.6"/><circle cx="241.3" cy="1065.8"/><circle cx="192.1" cy="1174.1"/><circle cx="402.9" cy="1132.4"/><circle cx="197.8" cy="1265"/><circle cx="208.8" cy="1050.5"/><circle cx="282" cy="1173.1"/><circle cx="179.9" cy="1191.2"/><circle cx="363.4" cy="1092.6"/><circle cx="300.8" cy="1210.5"/><circle cx="468.7" cy="1033.9"/><circle cx="266.5" cy="1141.2"/><circle cx="370" cy="1133.3"/><circle cx="306.3" cy="1138.5"/><circle cx="264.2" cy="1028.3"/><circle cx="243.9" cy="1266.7"/><circle cx="199.4" cy="1253.4"/><circle cx="157.4" cy="1135.8"/><circle cx="407" cy="1215.1"/><circle cx="255.8" cy="1140.2"/><circle cx="314.3" cy="1199.1"/><circle cx="320.8" cy="1279.8"/><circle cx="459.5" cy="1148"/><circle cx="248.4" cy="1281.4"/><circle cx="207.5" cy="1159.1"/><circle cx="197.1" cy="1248.2"/><circle cx="91.1" cy="1120.5"/><circle cx="403" cy="1199.5"/><circle cx="157.5" cy="1150"/><circle cx="244.1" cy="1161"/><circle cx="312.5" cy="1306"/><circle cx="220.7" cy="1250.6"/><circle cx="235.1" cy="1121.1"/><circle cx="361.2" cy="1213.5"/><circle cx="313.9" cy="1318.8"/><circle cx="336.4" cy="1198.4"/><circle cx="334.8" cy="1146.6"/><circle cx="321.9" cy="1295.7"/><circle cx="368.6" cy="1237.4"/><circle cx="237.8" cy="1310.9"/><circle cx="261.4" cy="1230"/><circle cx="209.9" cy="1288.1"/><circle cx="209.6" cy="1077.1"/><circle cx="212.3" cy="1213.4"/><circle cx="141.8" cy="1188.6"/><circle cx="298.8" cy="1082.8"/><circle cx="399.6" cy="1153.4"/><circle cx="271.5" cy="1052.4"/><circle cx="309.2" cy="1277"/><circle cx="273.1" cy="1111.5"/><circle cx="268" cy="1048.1"/><circle cx="210.5" cy="1156.5"/><circle cx="148.5" cy="1123.5"/><circle cx="197.6" cy="1133.8"/><circle cx="249.1" cy="1191.9"/><circle cx="361.3" cy="1107.8"/><circle cx="225.9" cy="1224.7"/><circle cx="144.8" cy="1217.3"/><circle cx="361.6" cy="1195.4"/><circle cx="366.6" cy="1211.9"/><circle cx="231.9" cy="1091.4"/><circle cx="372.5" cy="1247.1"/><circle cx="203.2" cy="1253.4"/><circle cx="409.1" cy="1197.6"/><circle cx="288.6" cy="1264.5"/><circle cx="285.2" cy="1107.6"/><circle cx="193.7" cy="1140.8"/><circle cx="202.9" cy="1271.7"/><circle cx="194.9" cy="1155.2"/><circle cx="440.3" cy="1200.4"/><circle cx="229.7" cy="1135.2"/><circle cx="315" cy="1302"/><circle cx="255" cy="1060.5"/><circle cx="401.8" cy="1175.8"/><circle cx="197.1" cy="1122.5"/><circle cx="301.4" cy="1240.9"/><circle cx="348.2" cy="1135.7"/><circle cx="179.4" cy="1180"/><circle cx="257.7" cy="1106.4"/><circle cx="287.1" cy="1241.3"/><circle cx="372.9" cy="1235.1"/><circle cx="301.7" cy="1292.6"/><circle cx="230.6" cy="1068.2"/><circle cx="249.1" cy="1289.7"/><circle cx="341.5" cy="1215.6"/><circle cx="296.6" cy="1146.8"/><circle cx="420.9" cy="1288.1"/><circle cx="362.5" cy="1147.7"/><circle cx="358.6" cy="1300.5"/><circle cx="371" cy="1239.7"/><circle cx="207.1" cy="1093.8"/><circle cx="357.9" cy="1110.6"/><circle cx="201.5" cy="1140.3"/><circle cx="163.9" cy="1100.3"/><circle cx="173.5" cy="1184.5"/><circle cx="276.2" cy="1193.4"/><circle cx="316.4" cy="1060.6"/><circle cx="209.4" cy="1085.2"/><circle cx="231.8" cy="1160.1"/><circle cx="172.1" cy="1175.4"/><circle cx="202.9" cy="1293.2"/><circle cx="351.3" cy="1103.8"/><circle cx="346.7" cy="1232.8"/><circle cx="370.3" cy="1179"/><circle cx="319.9" cy="1237.5"/><circle cx="285.2" cy="1283.7"/><circle cx="225" cy="1115.7"/><circle cx="414.9" cy="1106.4"/><circle cx="315.7" cy="1101.1"/><circle cx="210.1" cy="1166.2"/><circle cx="309.6" cy="1257.6"/><circle cx="214.5" cy="1232.3"/><circle cx="367.9" cy="1183.7"/><circle cx="332.2" cy="1291.3"/><circle cx="386.3" cy="1101.7"/><circle cx="361.7" cy="1241"/><circle cx="401.5" cy="1281.3"/><circle cx="400.1" cy="1139.2"/><circle cx="196.1" cy="1223.7"/><circle cx="447.4" cy="1176.3"/><circle cx="313.1" cy="1191.2"/><circle cx="164.9" cy="1205.1"/><circle cx="308.3" cy="1306.8"/><circle cx="294.1" cy="1152"/><circle cx="387.2" cy="1207.5"/><circle cx="265.9" cy="1298.6"/><circle cx="376.8" cy="1139"/><circle cx="189.5" cy="1017.8"/><circle cx="185.3" cy="1084.7"/><circle cx="196.6" cy="1272.8"/><circle cx="397.7" cy="1197.8"/><circle cx="340.7" cy="1111.6"/><circle cx="265.1" cy="1313.2"/><circle cx="261.4" cy="1209.3"/><circle cx="309.7" cy="1170.4"/><circle cx="387.4" cy="1237.2"/><circle cx="421.6" cy="1189.9"/><circle cx="203.6" cy="1292.9"/><circle cx="356.5" cy="1270.9"/><circle cx="229.8" cy="1298.4"/><circle cx="221.2" cy="1162"/><circle cx="260.6" cy="1054.6"/><circle cx="270.8" cy="1144.2"/><circle cx="312.4" cy="1237.3"/><circle cx="440" cy="1107.2"/><circle cx="147.6" cy="1083.7"/><circle cx="297.4" cy="1165.4"/><circle cx="270.5" cy="1135"/><circle cx="204.4" cy="1190.3"/><circle cx="486" cy="1164.4"/><circle cx="209.6" cy="1168.9"/><circle cx="349.2" cy="1234.7"/><circle cx="411" cy="1191.6"/><circle cx="367.9" cy="1219.1"/><circle cx="238.1" cy="1250.5"/><circle cx="293" cy="1276.7"/><circle cx="385" cy="1165.2"/><circle cx="238.3" cy="1193.9"/><circle cx="300.5" cy="1311.9"/><circle cx="162.1" cy="1079.9"/><circle cx="474.4" cy="1278"/><circle cx="304" cy="1009.4"/><circle cx="467" cy="1218.4"/><circle cx="338.3" cy="1237.7"/><circle cx="335.5" cy="1176.4"/><circle cx="111.7" cy="1139.7"/><circle cx="516.8" cy="1176.2"/><circle cx="249.1" cy="1143.1"/><circle cx="349.6" cy="1175"/><circle cx="172.4" cy="1152.4"/><circle cx="434.2" cy="1204.9"/><circle cx="191.1" cy="1271.4"/><circle cx="335.1" cy="1233.9"/><circle cx="317" cy="1205.5"/><circle cx="380.1" cy="1140.3"/><circle cx="327.7" cy="1226.9"/><circle cx="305.6" cy="1236.8"/><circle cx="246.1" cy="1174.4"/><circle cx="308" cy="1133.9"/><circle cx="179.3" cy="1197.1"/><circle cx="283.1" cy="1284.4"/><circle cx="281.3" cy="1128.9"/><circle cx="344.6" cy="1088.8"/><circle cx="303" cy="1263.9"/><circle cx="219.1" cy="1293.6"/><circle cx="312.4" cy="1232.6"/><circle cx="269.6" cy="1292"/><circle cx="388.4" cy="1245.2"/><circle cx="347.1" cy="1086.5"/><circle cx="377.7" cy="1179.2"/><circle cx="155.5" cy="1174.5"/><circle cx="346.3" cy="1281.4"/><circle cx="254.1" cy="1074.4"/><circle cx="212.1" cy="1122.8"/><circle cx="273.1" cy="1146.6"/><circle cx="292.5" cy="1064"/><circle cx="143.4" cy="1166.4"/><circle cx="256.3" cy="1302.7"/><circle cx="288.7" cy="1294"/><circle cx="214.1" cy="1041.2"/><circle cx="325.9" cy="1265.7"/><circle cx="263.6" cy="1169.3"/><circle cx="289.2" cy="1252.8"/><circle cx="371.6" cy="1157.6"/><circle cx="182.7" cy="1193.7"/><circle cx="275.6" cy="1309.2"/><circle cx="203.6" cy="1202.3"/><circle cx="275.1" cy="1291.4"/><circle cx="314" cy="1074.4"/><circle cx="181.1" cy="1302.2"/><circle cx="272.8" cy="1177.7"/><circle cx="214.8" cy="1111.3"/><circle cx="308.2" cy="1225.6"/><circle cx="296.3" cy="1139.8"/><circle cx="216.4" cy="1078"/><circle cx="280.2" cy="1093.5"/><circle cx="326.8" cy="1115.9"/><circle cx="269.3" cy="1162.2"/><circle cx="441.9" cy="1138.5"/><circle cx="395.6" cy="1140.6"/><circle cx="315.9" cy="1232.2"/><circle cx="244.5" cy="1054.3"/><circle cx="383.5" cy="1226.3"/><circle cx="327.3" cy="1188"/><circle cx="345.1" cy="1148.7"/><circle cx="218.8" cy="1252.7"/><circle cx="196.8" cy="1078.1"/><circle cx="208.1" cy="1298"/><circle cx="258.3" cy="1288.7"/><circle cx="238.8" cy="1071"/><circle cx="313.4" cy="1249.2"/><circle cx="109.9" cy="1135.8"/><circle cx="415.5" cy="1204.1"/><circle cx="241.4" cy="1265.6"/><circle cx="304.3" cy="1132.9"/><circle cx="222.8" cy="1182"/><circle cx="200.9" cy="1297.9"/><circle cx="338.2" cy="1236.5"/><circle cx="192.3" cy="1169"/><circle cx="349.9" cy="1316.3"/><circle cx="257.4" cy="1086.1"/><circle cx="236.5" cy="1062.9"/><circle cx="264" cy="1300.8"/><circle cx="246.2" cy="1129.2"/><circle cx="379.3" cy="1210.3"/><circle cx="427.2" cy="1255.1"/><circle cx="159.3" cy="1201.8"/><circle cx="197.4" cy="1151.6"/><circle cx="325" cy="1116.9"/><circle cx="237.2" cy="1141.8"/><circle cx="189.8" cy="1291"/><circle cx="176.1" cy="1214.8"/><circle cx="377.2" cy="1213.5"/><circle cx="359.7" cy="1152.5"/><circle cx="257.6" cy="1272.4"/><circle cx="328.2" cy="1145.4"/><circle cx="240.1" cy="1187.9"/><circle cx="205.3" cy="1319.1"/><circle cx="359.9" cy="1292.1"/><circle cx="150.5" cy="1127.5"/><circle cx="306.9" cy="1020.5"/><circle cx="410.8" cy="1201.7"/><circle cx="251.1" cy="1207.2"/><circle cx="316.3" cy="1107.7"/><circle cx="401.9" cy="1097.5"/><circle cx="298.1" cy="1175.9"/><circle cx="365.1" cy="1207.3"/><circle cx="311.8" cy="1289.9"/><circle cx="483" cy="1144.6"/><circle cx="274.7" cy="1154.3"/><circle cx="259.8" cy="1059.5"/><circle cx="278.6" cy="1166.9"/><circle cx="305.7" cy="1126.5"/><circle cx="303.2" cy="1271.3"/><circle cx="292.2" cy="1171.3"/><circle cx="235.1" cy="1251.6"/><circle cx="205.4" cy="1158.1"/><circle cx="357.5" cy="1114.8"/><circle cx="318.7" cy="1245"/><circle cx="378.6" cy="1244.1"/><circle cx="271.3" cy="1059.4"/><circle cx="263.2" cy="1100"/><circle cx="281.5" cy="1243.9"/><circle cx="291.2" cy="1260.7"/><circle cx="363.1" cy="1184.9"/><circle cx="233.6" cy="1234.8"/><circle cx="182" cy="1155.6"/><circle cx="380.4" cy="1182.9"/><circle cx="256.5" cy="1310.6"/><circle cx="162.9" cy="1165.6"/><circle cx="357" cy="1218.9"/><circle cx="221.1" cy="1316.2"/><circle cx="188.8" cy="1067.4"/><circle cx="227.6" cy="1304.5"/><circle cx="216.2" cy="1121.9"/><circle cx="207.7" cy="1083.5"/><circle cx="300.1" cy="1167.5"/><circle cx="284.4" cy="1158.5"/><circle cx="188.5" cy="1130.4"/><circle cx="166.6" cy="1136.9"/><circle cx="165.3" cy="1161.4"/><circle cx="232.3" cy="1134.6"/><circle cx="246.3" cy="1170.1"/><circle cx="253.1" cy="1234.5"/><circle cx="276.4" cy="1219.2"/><circle cx="335.4" cy="1132.8"/><circle cx="362" cy="1227.5"/><circle cx="352" cy="1168.3"/><circle cx="396.1" cy="1218.2"/><circle cx="245.3" cy="1172"/><circle cx="266.2" cy="1138.5"/><circle cx="323.9" cy="1107.1"/><circle cx="264.7" cy="1320.4"/><circle cx="249.7" cy="1213.8"/><circle cx="435.8" cy="1232.5"/><circle cx="472.9" cy="1200.2"/><circle cx="383.2" cy="1194.4"/><circle cx="287.9" cy="1124.9"/><circle cx="263.6" cy="1130.5"/><circle cx="375.3" cy="1143.4"/><circle cx="304.6" cy="1143.8"/><circle cx="230.8" cy="1167.2"/><circle cx="220.4" cy="1124.7"/><circle cx="268.1" cy="1259.8"/><circle cx="381.3" cy="1167"/><circle cx="202.6" cy="1063"/><circle cx="370.8" cy="1300.4"/><circle cx="144.6" cy="1004.2"/><circle cx="188" cy="1191.2"/><circle cx="321.6" cy="1147.2"/><circle cx="313.9" cy="1312.9"/><circle cx="220.6" cy="1154.7"/><circle cx="327.1" cy="1211.8"/><circle cx="278.8" cy="1083.9"/><circle cx="236.1" cy="1094.3"/><circle cx="215.5" cy="1096.1"/><circle cx="315.1" cy="1265.7"/><circle cx="210.8" cy="1067"/><circle cx="346.3" cy="1091.7"/><circle cx="290.4" cy="1128.2"/><circle cx="271.1" cy="1050.3"/><circle cx="355" cy="1118.7"/><circle cx="215.2" cy="1067.6"/><circle cx="263.8" cy="1063.8"/><circle cx="192.7" cy="1203.5"/><circle cx="155.5" cy="1158.2"/><circle cx="355.6" cy="1236.8"/><circle cx="204.1" cy="1197.2"/><circle cx="228.9" cy="1161.7"/><circle cx="354.9" cy="1046.1"/><circle cx="253.5" cy="1269.1"/><circle cx="282" cy="1088.1"/><circle cx="210.3" cy="1036.3"/><circle cx="281.2" cy="1190.5"/><circle cx="186.2" cy="1174.5"/><circle cx="283.4" cy="1225.7"/><circle cx="219.8" cy="1281.1"/><circle cx="183.4" cy="1012.8"/><circle cx="207.8" cy="1084.8"/><circle cx="264.8" cy="1188.1"/><circle cx="338.3" cy="1214.9"/><circle cx="258.3" cy="1152.7"/><circle cx="468.8" cy="1148.7"/><circle cx="224.3" cy="1133.9"/><circle cx="393.9" cy="1257.1"/><circle cx="219.7" cy="1239.6"/><circle cx="325.2" cy="1253.3"/><circle cx="341.7" cy="1223.6"/><circle cx="365.2" cy="1148"/><circle cx="388.1" cy="1224.3"/><circle cx="232.4" cy="1284.7"/><circle cx="132.6" cy="1042.3"/><circle cx="163.2" cy="1173.6"/><circle cx="268.9" cy="1132"/><circle cx="160.1" cy="1127"/><circle cx="165.3" cy="1082"/><circle cx="307.9" cy="1244.1"/><circle cx="413.5" cy="1189.8"/><circle cx="357.5" cy="1152.9"/><circle cx="163.3" cy="1164.7"/><circle cx="303.2" cy="1235.8"/><circle cx="328.5" cy="1164.6"/><circle cx="399.6" cy="1273.6"/><circle cx="243.4" cy="1092.2"/><circle cx="472.2" cy="1086.7"/><circle cx="224.1" cy="1214.9"/><circle cx="382.3" cy="1191.3"/><circle cx="310.2" cy="1310.2"/><circle cx="266.9" cy="1107"/><circle cx="165.3" cy="1130"/><circle cx="232.6" cy="1221.9"/><circle cx="383.7" cy="1183.2"/><circle cx="354.5" cy="1219.8"/><circle cx="308.3" cy="1187.3"/><circle cx="191.5" cy="1092.8"/><circle cx="314.4" cy="1149.5"/><circle cx="229.5" cy="1162.4"/><circle cx="322.1" cy="1157.1"/><circle cx="241.1" cy="1214.4"/><circle cx="233.9" cy="1271"/><circle cx="184.3" cy="1078.1"/><circle cx="254.5" cy="1163.1"/><circle cx="291.1" cy="1067"/><circle cx="215.5" cy="1314.2"/><circle cx="269.1" cy="1102.8"/><circle cx="272.2" cy="1135"/><circle cx="398.2" cy="1185.6"/><circle cx="261" cy="1194.6"/><circle cx="295.7" cy="1275.5"/><circle cx="188.8" cy="1149.8"/><circle cx="509.5" cy="1224.5"/><circle cx="281.9" cy="1115.3"/><circle cx="472.2" cy="1221.7"/><circle cx="218.7" cy="1133.7"/><circle cx="208.7" cy="1259.2"/><circle cx="508.6" cy="1148.7"/><circle cx="342.3" cy="1240.7"/><circle cx="217.3" cy="1285.5"/><circle cx="176.5" cy="1157.7"/><circle cx="374.7" cy="1156.4"/><circle cx="218.3" cy="1203.3"/><circle cx="504.4" cy="1084.7"/><circle cx="213.2" cy="1283.9"/><circle cx="342.4" cy="1243.2"/><circle cx="278.3" cy="1219.3"/><circle cx="384.3" cy="1242.6"/><circle cx="445" cy="1191.9"/><circle cx="344.3" cy="1155.9"/><circle cx="335" cy="994.1"/><circle cx="193.1" cy="1225.7"/><circle cx="373.8" cy="1210.1"/><circle cx="401.7" cy="1166.1"/><circle cx="339.1" cy="1233.1"/><circle cx="243.3" cy="1114"/><circle cx="367.9" cy="1165.2"/><circle cx="211.5" cy="1153"/><circle cx="275.4" cy="1191.5"/><circle cx="412.2" cy="1148.3"/><circle cx="226.3" cy="1273.4"/><circle cx="332.1" cy="1141.7"/><circle cx="249.6" cy="1101.9"/><circle cx="325.1" cy="1275.2"/><circle cx="201.7" cy="1314.1"/><circle cx="315" cy="1077.3"/><circle cx="293.1" cy="1272.1"/><circle cx="383.4" cy="1235.6"/><circle cx="198.4" cy="1079.2"/><circle cx="284.7" cy="1040.9"/><circle cx="219.4" cy="1276.6"/><circle cx="159.1" cy="1064.6"/><circle cx="300.4" cy="1060.5"/><circle cx="451.4" cy="1188.3"/><circle cx="346.4" cy="1082.5"/><circle cx="389.4" cy="1156.2"/><circle cx="188.2" cy="1077"/><circle cx="274.9" cy="1061.7"/><circle cx="146" cy="1060.6"/><circle cx="281.3" cy="1233"/><circle cx="317.7" cy="1194.8"/><circle cx="268.7" cy="1267.6"/><circle cx="278.4" cy="1302.5"/><circle cx="488.4" cy="1244.7"/><circle cx="325.4" cy="1071"/><circle cx="279" cy="1147.4"/><circle cx="141.9" cy="1053.7"/><circle cx="230.9" cy="1120.3"/><circle cx="263.2" cy="1012.1"/><circle cx="190.6" cy="1094.6"/><circle cx="191.9" cy="1131.6"/><circle cx="204.1" cy="1070.8"/><circle cx="472.7" cy="1232.3"/><circle cx="259.9" cy="1145.1"/><circle cx="337.5" cy="1160.1"/><circle cx="179.3" cy="1060.3"/><circle cx="326" cy="1095.5"/><circle cx="231.2" cy="1131"/><circle cx="237.8" cy="1040.1"/><circle cx="339.7" cy="1161.6"/><circle cx="343.5" cy="1297.3"/><circle cx="248.4" cy="1237.5"/><circle cx="180.4" cy="1089.8"/><circle cx="194.6" cy="1032.9"/><circle cx="205.1" cy="1141.3"/><circle cx="204.4" cy="1264.1"/><circle cx="325.6" cy="1120.5"/><circle cx="246.1" cy="1295.3"/><circle cx="331.6" cy="1143.2"/><circle cx="276.8" cy="1100.8"/><circle cx="249.7" cy="1308.4"/><circle cx="211.1" cy="1115.1"/><circle cx="320.4" cy="1275.4"/><circle cx="312.1" cy="1255.3"/><circle cx="156.1" cy="1099.9"/><circle cx="193.7" cy="1076.1"/><circle cx="310" cy="1252.7"/><circle cx="216.4" cy="1053.2"/><circle cx="127.7" cy="1137.5"/><circle cx="273" cy="1132.1"/><circle cx="215.4" cy="1160.9"/><circle cx="342.7" cy="1192.8"/><circle cx="508.5" cy="1169"/><circle cx="379.4" cy="1210"/><circle cx="326.9" cy="1309.7"/><circle cx="210.3" cy="1250.6"/><circle cx="246.7" cy="1199.2"/><circle cx="188.5" cy="1176.2"/><circle cx="200.8" cy="1151.4"/><circle cx="359" cy="1208.7"/><circle cx="327.8" cy="1078.6"/><circle cx="197.7" cy="1242"/><circle cx="321.1" cy="1064"/><circle cx="147.2" cy="1139.8"/><circle cx="239.7" cy="1117.2"/><circle cx="142.3" cy="1168.5"/><circle cx="308.8" cy="1153.6"/><circle cx="361.2" cy="1173.3"/><circle cx="240.7" cy="1051.2"/><circle cx="344.2" cy="1130"/><circle cx="290.2" cy="1245.6"/><circle cx="335.2" cy="1076.8"/><circle cx="322.9" cy="1290.9"/><circle cx="331.2" cy="1263.3"/><circle cx="213.6" cy="1159.7"/><circle cx="276.3" cy="1088.1"/><circle cx="252.8" cy="1285.5"/><circle cx="303.4" cy="1024.5"/><circle cx="309.5" cy="1222.8"/><circle cx="161.6" cy="1104.6"/><circle cx="408.4" cy="1170.3"/><circle cx="312.7" cy="1245.2"/><circle cx="414.2" cy="1020.1"/><circle cx="348.9" cy="1143.6"/><circle cx="366.1" cy="1230"/><circle cx="372" cy="1136.7"/><circle cx="345.9" cy="1261.1"/><circle cx="266.6" cy="1219.2"/><circle cx="244.2" cy="984.3"/><circle cx="332.6" cy="1096.3"/><circle cx="248.5" cy="1088.3"/><circle cx="257.1" cy="1265"/><circle cx="178.2" cy="1200"/><circle cx="270.2" cy="1195.4"/><circle cx="457.1" cy="1288.9"/><circle cx="347.7" cy="1268.6"/><circle cx="294.2" cy="1216.3"/><circle cx="213.2" cy="1307.1"/><circle cx="267.1" cy="1255.1"/><circle cx="210.3" cy="1219.6"/><circle cx="293.7" cy="1048.3"/><circle cx="245.4" cy="1088.2"/><circle cx="267.1" cy="1250.6"/><circle cx="397.4" cy="1309"/><circle cx="231.4" cy="1264"/><circle cx="449.6" cy="1067.3"/><circle cx="257.6" cy="1112.2"/><circle cx="408.2" cy="1203.6"/><circle cx="313.4" cy="1136.4"/><circle cx="269.6" cy="1178.3"/><circle cx="368.6" cy="1244.9"/><circle cx="288.6" cy="1110.3"/><circle cx="282.8" cy="1101.8"/><circle cx="349.3" cy="1262.3"/><circle cx="275" cy="1117.3"/><circle cx="237.3" cy="1202.5"/><circle cx="171.8" cy="1107.1"/><circle cx="342.7" cy="1218.3"/><circle cx="387.7" cy="1229.2"/><circle cx="258.9" cy="1257.1"/><circle cx="269.7" cy="1251.3"/><circle cx="393.7" cy="1247.3"/><circle cx="219.5" cy="1303.9"/><circle cx="197.9" cy="1081.9"/><circle cx="252.2" cy="1198.1"/><circle cx="166.4" cy="1147.7"/><circle cx="313.1" cy="1097.7"/><circle cx="219.5" cy="1245.9"/><circle cx="212.5" cy="1115.2"/><circle cx="321.5" cy="1283.8"/><circle cx="329.6" cy="1135.7"/><circle cx="198.1" cy="1002.9"/><circle cx="206.9" cy="1187.1"/><circle cx="295.6" cy="1061.1"/><circle cx="263.1" cy="1044.6"/><circle cx="134" cy="1149.3"/><circle cx="244" cy="1106.7"/><circle cx="256" cy="1114"/><circle cx="279.9" cy="1056.8"/><circle cx="166.2" cy="1090.3"/><circle cx="193.2" cy="1181.9"/><circle cx="152.7" cy="1095.5"/><circle cx="244.1" cy="1289.3"/><circle cx="291.7" cy="997.8"/><circle cx="280.5" cy="1103.7"/><circle cx="475.6" cy="1308.1"/><circle cx="399.4" cy="1213.4"/><circle cx="389.1" cy="1213.7"/><circle cx="166.6" cy="1155.4"/><circle cx="258.1" cy="1294.1"/><circle cx="218.1" cy="1233.1"/><circle cx="200.8" cy="1286.8"/><circle cx="430.9" cy="1130.5"/><circle cx="112.4" cy="1025.4"/><circle cx="313.7" cy="1106"/><circle cx="231.6" cy="997.1"/><circle cx="165" cy="1228.2"/><circle cx="262.9" cy="1119.7"/><circle cx="320.3" cy="1122.7"/><circle cx="318.1" cy="1132.7"/><circle cx="425.5" cy="1220.6"/><circle cx="230.1" cy="1083.9"/><circle cx="212.3" cy="1272.4"/><circle cx="236.2" cy="1173.6"/><circle cx="201.3" cy="1099.7"/><circle cx="193.9" cy="1273.1"/><circle cx="290.5" cy="1267.2"/><circle cx="196.3" cy="1108.1"/><circle cx="429.5" cy="1305.3"/><circle cx="359.7" cy="1216.6"/><circle cx="427.6" cy="1175.9"/><circle cx="246.4" cy="1235.8"/><circle cx="350.8" cy="1279.6"/><circle cx="261" cy="1147.3"/><circle cx="257.5" cy="1263"/><circle cx="169.8" cy="1103.1"/><circle cx="267" cy="1292.7"/><circle cx="253.4" cy="1107.6"/><circle cx="173.1" cy="1010.5"/><circle cx="395.9" cy="1116"/><circle cx="356.7" cy="1095.3"/><circle cx="232.8" cy="1270.4"/><circle cx="179.9" cy="1126.5"/><circle cx="208.7" cy="1065.8"/><circle cx="191.5" cy="1134.4"/><circle cx="229.2" cy="1219.4"/><circle cx="310.9" cy="1127.9"/><circle cx="340.3" cy="1181"/><circle cx="333.6" cy="1049.4"/><circle cx="329" cy="1308.2"/><circle cx="220.9" cy="1283.3"/><circle cx="473.9" cy="1304.5"/><circle cx="344" cy="1174.7"/><circle cx="216.6" cy="1071.2"/><circle cx="355.3" cy="1294"/><circle cx="225.4" cy="1051"/><circle cx="299.8" cy="1201"/><circle cx="334.5" cy="1159.3"/><circle cx="234" cy="1254"/><circle cx="292.3" cy="1282.2"/><circle cx="273.9" cy="1086"/><circle cx="219.5" cy="1135.7"/><circle cx="205.8" cy="1150.5"/><circle cx="274" cy="1094"/><circle cx="276.8" cy="1259.8"/><circle cx="111.8" cy="1200.8"/><circle cx="277.3" cy="1151.3"/><circle cx="390.9" cy="1207.8"/><circle cx="296.6" cy="1287.7"/><circle cx="210" cy="1271.2"/><circle cx="211.6" cy="1105.9"/><circle cx="256.7" cy="1089.7"/><circle cx="369.1" cy="1193.1"/><circle cx="330.4" cy="1279.8"/><circle cx="321.6" cy="1162.4"/><circle cx="350.2" cy="1167.2"/><circle cx="219.9" cy="1078.9"/><circle cx="376.2" cy="1245.1"/><circle cx="226.2" cy="1084.7"/><circle cx="223" cy="1329.1"/><circle cx="296" cy="1322.2"/><circle cx="117" cy="1121.3"/><circle cx="151" cy="1136.9"/><circle cx="243.6" cy="1205.8"/><circle cx="465.8" cy="1121.9"/><circle cx="308.9" cy="1156.4"/><circle cx="313.5" cy="1198.9"/><circle cx="364.3" cy="1120.4"/><circle cx="146.7" cy="1134.3"/><circle cx="365.8" cy="1136.2"/><circle cx="413.8" cy="1248.1"/><circle cx="224.2" cy="1266.7"/><circle cx="234.3" cy="1093.9"/><circle cx="279.7" cy="1084.7"/><circle cx="355.7" cy="1133.1"/><circle cx="295" cy="1202.3"/><circle cx="165.3" cy="1243.8"/><circle cx="155.1" cy="1179.8"/><circle cx="89.9" cy="1107.9"/><circle cx="393.1" cy="1122.5"/><circle cx="360.3" cy="1186.1"/><circle cx="254.8" cy="1277.6"/><circle cx="174.6" cy="1043"/><circle cx="123.5" cy="1037.7"/><circle cx="253.8" cy="1111.3"/><circle cx="330.5" cy="1126.5"/><circle cx="211.1" cy="1144.5"/><circle cx="292.3" cy="1266.2"/><circle cx="297.6" cy="1090.3"/><circle cx="197.1" cy="1135.7"/><circle cx="216.7" cy="1255.9"/><circle cx="319.6" cy="1286"/><circle cx="453.2" cy="1035"/><circle cx="370.8" cy="1227"/><circle cx="348.5" cy="1177.8"/><circle cx="312.4" cy="1179.2"/><circle cx="366" cy="1223.8"/><circle cx="234.8" cy="1222.8"/><circle cx="201.4" cy="1114.4"/><circle cx="365.4" cy="1180.5"/><circle cx="279.7" cy="1136.6"/><circle cx="302.5" cy="1198.4"/><circle cx="196.7" cy="1133.2"/><circle cx="260.3" cy="1019.3"/><circle cx="246.4" cy="1321.6"/><circle cx="253.5" cy="1273.2"/><circle cx="337.7" cy="1288.8"/><circle cx="228.2" cy="1321.4"/><circle cx="374.5" cy="1191.9"/><circle cx="341.3" cy="1163.2"/><circle cx="334.3" cy="1106.3"/><circle cx="331.7" cy="1289"/><circle cx="202.1" cy="1055.7"/><circle cx="215.8" cy="1116"/><circle cx="364" cy="1175.1"/><circle cx="352.5" cy="1291.6"/><circle cx="402.6" cy="1154.2"/><circle cx="349.2" cy="1151.9"/><circle cx="233.8" cy="1194.5"/><circle cx="471" cy="1223.2"/><circle cx="373.8" cy="1117.7"/><circle cx="173.9" cy="1150.6"/><circle cx="327.3" cy="1271.1"/><circle cx="192.4" cy="1244.1"/><circle cx="288.7" cy="1269"/><circle cx="112.1" cy="1186.9"/><circle cx="312.1" cy="1226.4"/><circle cx="169.7" cy="1150.4"/><circle cx="180.4" cy="1085.8"/><circle cx="284.2" cy="1292"/><circle cx="161" cy="1091.8"/><circle cx="293.7" cy="1120.7"/><circle cx="270.3" cy="1255.2"/><circle cx="202.5" cy="1306.5"/><circle cx="199.5" cy="1221.9"/><circle cx="179.6" cy="1116"/><circle cx="291.9" cy="1184.5"/><circle cx="308.1" cy="1064.9"/><circle cx="202.9" cy="1195.7"/><circle cx="306.9" cy="1215.7"/><circle cx="465" cy="1099.9"/><circle cx="246.4" cy="1177.4"/><circle cx="216.6" cy="1087.2"/><circle cx="456.8" cy="1042.8"/><circle cx="278.3" cy="1097.2"/><circle cx="411.9" cy="1160.6"/><circle cx="289.4" cy="1233.6"/><circle cx="272.3" cy="1075.7"/><circle cx="308.1" cy="1295"/><circle cx="306.2" cy="1155.1"/><circle cx="238.6" cy="1319.4"/><circle cx="332.2" cy="1111.6"/><circle cx="295.4" cy="1132.2"/><circle cx="342.1" cy="1265.2"/><circle cx="302.8" cy="1155.3"/><circle cx="154.1" cy="1097.1"/><circle cx="174.8" cy="1144"/><circle cx="203.1" cy="1063"/><circle cx="354.6" cy="1184.5"/><circle cx="258.6" cy="1231.8"/><circle cx="371.7" cy="1190.9"/><circle cx="219.2" cy="1088.5"/><circle cx="200.3" cy="1098.9"/><circle cx="238.8" cy="1299.1"/><circle cx="122.7" cy="1134.1"/><circle cx="241.9" cy="1268.9"/><circle cx="223.2" cy="1217.5"/><circle cx="235.3" cy="1289.7"/><circle cx="259.6" cy="1179.3"/><circle cx="364.7" cy="1181.2"/><circle cx="307" cy="1259.7"/><circle cx="231.6" cy="1258.6"/><circle cx="290.7" cy="1294.9"/><circle cx="345.7" cy="1152.2"/><circle cx="273.9" cy="1175.5"/><circle cx="151" cy="1066.4"/><circle cx="257.3" cy="1188.7"/><circle cx="383.3" cy="1259.1"/><circle cx="319" cy="1115.9"/><circle cx="240.3" cy="1261.5"/><circle cx="246.5" cy="1267.6"/><circle cx="249.6" cy="1150.4"/><circle cx="395.6" cy="1118.8"/><circle cx="201.2" cy="1147.8"/><circle cx="174.2" cy="1169"/><circle cx="294.3" cy="1123.6"/><circle cx="326.2" cy="1077.9"/><circle cx="255.4" cy="1261.2"/><circle cx="365.2" cy="1109"/><circle cx="167.6" cy="1175"/><circle cx="361.2" cy="1249.7"/><circle cx="178" cy="1159.2"/><circle cx="343.5" cy="1168.7"/><circle cx="240.6" cy="1210.9"/><circle cx="284.1" cy="1042.1"/><circle cx="245.2" cy="1055"/><circle cx="306.1" cy="1324.3"/><circle cx="227.8" cy="1314.9"/><circle cx="301.6" cy="1248.8"/><circle cx="283.3" cy="1259.9"/><circle cx="134.9" cy="1089.3"/><circle cx="139.4" cy="1140.4"/><circle cx="146.7" cy="1157.9"/><circle cx="214.5" cy="1223.6"/><circle cx="195" cy="1068.9"/><circle cx="400" cy="1238.5"/><circle cx="407.2" cy="1183.4"/><circle cx="220.6" cy="1175.4"/><circle cx="396.3" cy="993.3"/><circle cx="317.4" cy="1292.5"/><circle cx="321.5" cy="1241.6"/><circle cx="204.9" cy="1173.3"/><circle cx="296.7" cy="1095.5"/><circle cx="251.5" cy="1076.6"/><circle cx="239.5" cy="1294.1"/><circle cx="371.9" cy="1220.2"/><circle cx="261.6" cy="1164.8"/><circle cx="252.8" cy="1034.7"/><circle cx="260.9" cy="1200.1"/><circle cx="230.8" cy="1055.1"/><circle cx="175.6" cy="1104.2"/><circle cx="310.1" cy="1162.3"/><circle cx="321" cy="1306.8"/><circle cx="343.6" cy="1206.5"/><circle cx="227.3" cy="1241.2"/><circle cx="284.6" cy="1135.5"/><circle cx="319.1" cy="1196.8"/><circle cx="172" cy="1218"/><circle cx="147.9" cy="1180.8"/><circle cx="354.1" cy="1109.8"/><circle cx="167.1" cy="1212.7"/><circle cx="366.5" cy="1193.8"/><circle cx="414.2" cy="1139.7"/><circle cx="187.9" cy="1180.4"/><circle cx="374.2" cy="1224.9"/><circle cx="298.2" cy="1213.8"/><circle cx="187.9" cy="1113.4"/><circle cx="275.7" cy="1066.3"/><circle cx="318.6" cy="1071.5"/><circle cx="469.4" cy="1142.9"/><circle cx="240.3" cy="1165.2"/><circle cx="263" cy="1159.5"/><circle cx="103.7" cy="1038.8"/><circle cx="96.7" cy="1018.3"/><circle cx="272.4" cy="1263.3"/><circle cx="379.8" cy="1314.6"/><circle cx="241.4" cy="1133.4"/><circle cx="194.9" cy="1315.5"/><circle cx="270.2" cy="1066"/><circle cx="140.2" cy="1033.5"/><circle cx="404.8" cy="1138.9"/><circle cx="285.2" cy="1216.8"/><circle cx="348.2" cy="1107.3"/><circle cx="268.3" cy="1162.4"/><circle cx="212.4" cy="1219.7"/><circle cx="184.4" cy="1199"/><circle cx="265.7" cy="1208.1"/><circle cx="180" cy="1270.5"/><circle cx="334.8" cy="1071.7"/><circle cx="237.9" cy="1315.8"/><circle cx="334.8" cy="1095.1"/><circle cx="390.6" cy="1150.1"/><circle cx="302.7" cy="1306.7"/><circle cx="248.9" cy="1140.1"/><circle cx="272.6" cy="1265"/><circle cx="189.3" cy="1070.4"/><circle cx="201.3" cy="1184.7"/><circle cx="218.6" cy="1047.2"/><circle cx="386.4" cy="1221.9"/><circle cx="259.8" cy="1273.3"/><circle cx="230.3" cy="1152.4"/><circle cx="456.7" cy="1176.2"/><circle cx="162.3" cy="1262.5"/><circle cx="376.2" cy="1167"/><circle cx="358" cy="1076.8"/><circle cx="306.8" cy="1234"/><circle cx="342.6" cy="1221.5"/><circle cx="207.8" cy="1197.2"/><circle cx="164.8" cy="1175"/><circle cx="256.8" cy="1267.7"/><circle cx="369" cy="1160.8"/><circle cx="231.4" cy="1201.5"/><circle cx="356.2" cy="1013.8"/><circle cx="220" cy="1162.1"/><circle cx="248.3" cy="1082.7"/><circle cx="207.1" cy="1231"/><circle cx="435.6" cy="1224.3"/><circle cx="315.9" cy="1130"/><circle cx="338" cy="1142.9"/><circle cx="276" cy="1271.5"/><circle cx="342.5" cy="1177.8"/><circle cx="203" cy="1249.7"/><circle cx="252" cy="1064.5"/><circle cx="212.2" cy="1131"/><circle cx="303.5" cy="1209.7"/><circle cx="441.6" cy="1265.3"/><circle cx="374.6" cy="1062.2"/><circle cx="358.3" cy="1202.4"/><circle cx="206.6" cy="1321.4"/><circle cx="372.1" cy="1215.2"/><circle cx="175" cy="1154.8"/><circle cx="402.2" cy="1022.4"/><circle cx="354.2" cy="1281.6"/><circle cx="225.6" cy="1281.1"/><circle cx="216.8" cy="1210.2"/><circle cx="466.5" cy="1150.1"/><circle cx="232.2" cy="1306.9"/><circle cx="388.5" cy="1144.2"/><circle cx="187.6" cy="1095.2"/><circle cx="231.7" cy="1289.5"/><circle cx="243.3" cy="1200.6"/><circle cx="342" cy="1203.2"/><circle cx="123.5" cy="1148.9"/><circle cx="219.9" cy="1265.1"/><circle cx="131.1" cy="1077.8"/><circle cx="335.5" cy="1257.1"/><circle cx="283.2" cy="1294.9"/><circle cx="345" cy="1272.3"/><circle cx="243.4" cy="1201.6"/><circle cx="261.3" cy="1100.6"/><circle cx="197.1" cy="1206"/><circle cx="355.7" cy="1102.1"/><circle cx="334" cy="1139.6"/><circle cx="158.1" cy="1227.8"/><circle cx="322.5" cy="1234"/><circle cx="241.7" cy="1180.2"/><circle cx="271.5" cy="1114.5"/><circle cx="310.9" cy="1245.3"/><circle cx="472.9" cy="1040.8"/><circle cx="351.9" cy="1274.9"/><circle cx="181.4" cy="1209.4"/><circle cx="364.8" cy="1165.4"/><circle cx="164.1" cy="1123.2"/><circle cx="394.2" cy="1188.7"/><circle cx="395.2" cy="1194.2"/><circle cx="330.5" cy="1091.9"/><circle cx="296.6" cy="1266.4"/><circle cx="223.9" cy="1148.5"/><circle cx="378.8" cy="1127.2"/><circle cx="369.7" cy="1131.4"/><circle cx="157.6" cy="1115.4"/><circle cx="291.5" cy="1202"/><circle cx="205" cy="1205"/><circle cx="250.7" cy="1295"/><circle cx="279.7" cy="1174.1"/><circle cx="358.6" cy="1214.4"/><circle cx="364.5" cy="1199.2"/><circle cx="316.2" cy="1173.1"/><circle cx="226.2" cy="1209.8"/><circle cx="277" cy="1177.7"/><circle cx="442.3" cy="1080.9"/><circle cx="301" cy="1268.9"/><circle cx="462.4" cy="1213.1"/><circle cx="250.2" cy="1061.7"/><circle cx="415.1" cy="1213.2"/><circle cx="277.8" cy="1249.4"/><circle cx="293.6" cy="1129.1"/><circle cx="260.4" cy="1273.4"/><circle cx="249.5" cy="1074.1"/><circle cx="379.8" cy="1164.8"/><circle cx="227.4" cy="1315.7"/><circle cx="214.8" cy="1183.3"/><circle cx="209" cy="1225.6"/><circle cx="211.1" cy="1082.1"/><circle cx="264.8" cy="1084.1"/><circle cx="250.2" cy="1227.8"/><circle cx="287.4" cy="1135.1"/><circle cx="325.4" cy="1165"/><circle cx="302.7" cy="1287.2"/><circle cx="171.4" cy="1171.5"/><circle cx="207.1" cy="1032"/><circle cx="168.9" cy="1158.3"/><circle cx="301" cy="1280.7"/><circle cx="344.8" cy="1213.3"/><circle cx="189.8" cy="1004.9"/><circle cx="266.5" cy="1296.3"/><circle cx="360.9" cy="1256.8"/><circle cx="284.1" cy="1177.4"/><circle cx="384.2" cy="1231.9"/><circle cx="280.5" cy="1142.6"/><circle cx="300" cy="1134.2"/><circle cx="242.3" cy="1052.5"/><circle cx="377.8" cy="1122.1"/><circle cx="282.8" cy="1054.5"/><circle cx="287.2" cy="1175.3"/><circle cx="235.7" cy="1063.8"/><circle cx="359" cy="1245.8"/><circle cx="259.8" cy="1032.1"/><circle cx="170.8" cy="1158.3"/><circle cx="165" cy="1011.4"/><circle cx="305" cy="1312.2"/><circle cx="212" cy="1232.3"/><circle cx="240.7" cy="1128.5"/><circle cx="315" cy="1181.6"/><circle cx="285.4" cy="1142.3"/><circle cx="270.5" cy="1132.1"/><circle cx="294.6" cy="1228.4"/><circle cx="396.2" cy="1256.8"/><circle cx="267.3" cy="1178.4"/><circle cx="337.2" cy="1116.6"/><circle cx="347.1" cy="1096.9"/><circle cx="191.1" cy="1265.5"/><circle cx="314" cy="983.1"/><circle cx="222.8" cy="1089.1"/><circle cx="212.1" cy="1218.9"/><circle cx="186.3" cy="1144.7"/><circle cx="183.5" cy="1116.4"/><circle cx="177.7" cy="1224.1"/><circle cx="172.4" cy="1138"/><circle cx="282.7" cy="1097.5"/><circle cx="357.9" cy="1256"/><circle cx="258.7" cy="1054.8"/><circle cx="399" cy="1113.4"/><circle cx="203.1" cy="1229.7"/><circle cx="276.5" cy="1043.9"/><circle cx="208.3" cy="1089.1"/><circle cx="344.1" cy="1165"/><circle cx="214.8" cy="1158.4"/><circle cx="359" cy="1286.3"/><circle cx="439.6" cy="1132.8"/><circle cx="374.2" cy="1126.1"/><circle cx="162" cy="1119.4"/><circle cx="171.6" cy="1202.3"/><circle cx="208.3" cy="1159"/><circle cx="149.1" cy="984"/><circle cx="387.1" cy="1149.3"/><circle cx="290" cy="1100.4"/><circle cx="113.3" cy="1134.4"/><circle cx="383.5" cy="1189"/><circle cx="263.2" cy="1202.3"/><circle cx="207.2" cy="1282"/><circle cx="342.6" cy="1188.1"/><circle cx="234.6" cy="1264.9"/><circle cx="380.4" cy="1131.9"/><circle cx="283.8" cy="1048.2"/><circle cx="335.9" cy="1066.3"/><circle cx="185.9" cy="1133.5"/><circle cx="236" cy="1286.6"/><circle cx="287.4" cy="1046"/><circle cx="197.7" cy="1107.8"/><circle cx="186.1" cy="1118.1"/><circle cx="259.1" cy="1211.6"/><circle cx="291.9" cy="1072.3"/><circle cx="326.3" cy="1258.1"/><circle cx="349.5" cy="1140.6"/><circle cx="276.1" cy="1196.2"/><circle cx="186.5" cy="1076.9"/><circle cx="398.2" cy="1208.9"/><circle cx="331.6" cy="1160.5"/><circle cx="354.1" cy="1124.8"/><circle cx="153.8" cy="1155.7"/><circle cx="135.3" cy="1132.3"/><circle cx="283.9" cy="1304.9"/><circle cx="282.5" cy="1122.7"/><circle cx="312.1" cy="1280.1"/><circle cx="107.4" cy="1247.8"/><circle cx="388.1" cy="1215.7"/><circle cx="307.3" cy="1189.3"/><circle cx="221.3" cy="1309.5"/><circle cx="400.2" cy="1163.2"/><circle cx="308.6" cy="1228.2"/><circle cx="302.2" cy="1178.2"/><circle cx="348.8" cy="1247.4"/><circle cx="189.4" cy="1232"/><circle cx="207.2" cy="1237.5"/><circle cx="342.4" cy="1165.9"/><circle cx="216.6" cy="1175.3"/><circle cx="268.2" cy="1083.8"/><circle cx="277.1" cy="1278.3"/><circle cx="439.4" cy="1264.7"/><circle cx="471.1" cy="1126.9"/><circle cx="320.4" cy="1092.1"/><circle cx="360.5" cy="1174.5"/><circle cx="313.2" cy="1081.9"/><circle cx="488.9" cy="1233.6"/><circle cx="277.9" cy="1264.1"/></g><path d="M85.9 1154 104.1 1156.1 122.3 1158.3 140.5 1160.5 158.7 1162.6 176.9 1164.8 195 1167 213.2 1169.3 231.4 1171.5 249.6 1173.8 267.7 1176.1 285.9 1178.5 304 1180.9 322.2 1183.4 340.3 1186 358.4 1188.7 376.5 1191.5 394.6 1194.3 412.7 1197.1 430.8 1199.9 448.9 1202.8 467 1205.6 485.1 1208.5 503.2 1211.4 521.3 1214.3 522.7 1203.3 504.5 1201.3 486.3 1199.3 468.1 1197.2 449.9 1195.1 431.7 1193.1 413.5 1191 395.3 1188.9 377.2 1186.8 359 1184.6 340.8 1182.4 322.6 1180.1 304.5 1177.7 286.3 1175.2 268.2 1172.7 250.1 1170.1 231.9 1167.4 213.8 1164.8 195.7 1162.1 177.6 1159.3 159.5 1156.6 141.4 1153.9 123.3 1151.1 105.2 1148.4 87.1 1145.6Z" fill="#B4C0CC" fill-opacity="0.45"/><line x1="86.5" y1="1149.8" x2="522" y2="1208.8" stroke="#000" stroke-width="4.4" stroke-dasharray="16.9 16.7"/><path d="M48.1 1327.8H53.8M48.1 1291.4H53.8M48.1 1255H53.8M48.1 1218.5H53.8M48.1 1182.1H53.8M48.1 1145.7H53.8M48.1 1109.3H53.8M48.1 1072.9H53.8M48.1 1036.4H53.8M48.1 1000H53.8M48.1 963.6H53.8M76.1 1345V1351.4M140 1345V1351.4M203.8 1345V1351.4M267.7 1345V1351.4M331.6 1345V1351.4M395.4 1345V1351.4M459.3 1345V1351.4M523.2 1345V1351.4" stroke="#333" stroke-width="2.2" fill="none"/><text x="44" y="1333.4" text-anchor="end" font-size="15.6" fill="#111" stroke="#111" stroke-width="0.3">1</text><text x="44" y="1297" text-anchor="end" font-size="15.6" fill="#111" stroke="#111" stroke-width="0.3">2</text><text x="44" y="1260.6" text-anchor="end" font-size="15.6" fill="#111" stroke="#111" stroke-width="0.3">3</text><text x="44" y="1224.1" text-anchor="end" font-size="15.6" fill="#111" stroke="#111" stroke-width="0.3">4</text><text x="44" y="1187.7" text-anchor="end" font-size="15.6" fill="#111" stroke="#111" stroke-width="0.3">5</text><text x="44" y="1151.3" text-anchor="end" font-size="15.6" fill="#111" stroke="#111" stroke-width="0.3">6</text><text x="44" y="1114.9" text-anchor="end" font-size="15.6" fill="#111" stroke="#111" stroke-width="0.3">7</text><text x="44" y="1078.5" text-anchor="end" font-size="15.6" fill="#111" stroke="#111" stroke-width="0.3">8</text><text x="44" y="1042" text-anchor="end" font-size="15.6" fill="#111" stroke="#111" stroke-width="0.3">9</text><text x="44" y="1005.6" text-anchor="end" font-size="15.6" fill="#111" stroke="#111" stroke-width="0.3">10</text><text x="44" y="969.2" text-anchor="end" font-size="15.6" fill="#111" stroke="#111" stroke-width="0.3">11</text><text x="76.1" y="1367.5" text-anchor="middle" font-size="15.6" fill="#111" stroke="#111" stroke-width="0.3">1</text><text x="140" y="1367.5" text-anchor="middle" font-size="15.6" fill="#111" stroke="#111" stroke-width="0.3">2</text><text x="203.8" y="1367.5" text-anchor="middle" font-size="15.6" fill="#111" stroke="#111" stroke-width="0.3">3</text><text x="267.7" y="1367.5" text-anchor="middle" font-size="15.6" fill="#111" stroke="#111" stroke-width="0.3">4</text><text x="331.6" y="1367.5" text-anchor="middle" font-size="15.6" fill="#111" stroke="#111" stroke-width="0.3">5</text><text x="395.4" y="1367.5" text-anchor="middle" font-size="15.6" fill="#111" stroke="#111" stroke-width="0.3">6</text><text x="459.3" y="1367.5" text-anchor="middle" font-size="15.6" fill="#111" stroke="#111" stroke-width="0.3">7</text><text x="523.2" y="1367.5" text-anchor="middle" font-size="15.6" fill="#111" stroke="#111" stroke-width="0.3">8</text><text x="299.5" y="1393.7" text-anchor="middle" font-size="19.6" font-weight="bold">Residualized Surprisal</text><text transform="translate(15.7 1145.5) rotate(-90)" x="0" y="0" text-anchor="middle" font-size="21.6" font-weight="bold">Articulation Rate</text><text transform="translate(63.3 983.8) scale(0.91 1)" font-size="37" stroke="#000" stroke-width="0.75">C</text></svg></div>
</body></html>
